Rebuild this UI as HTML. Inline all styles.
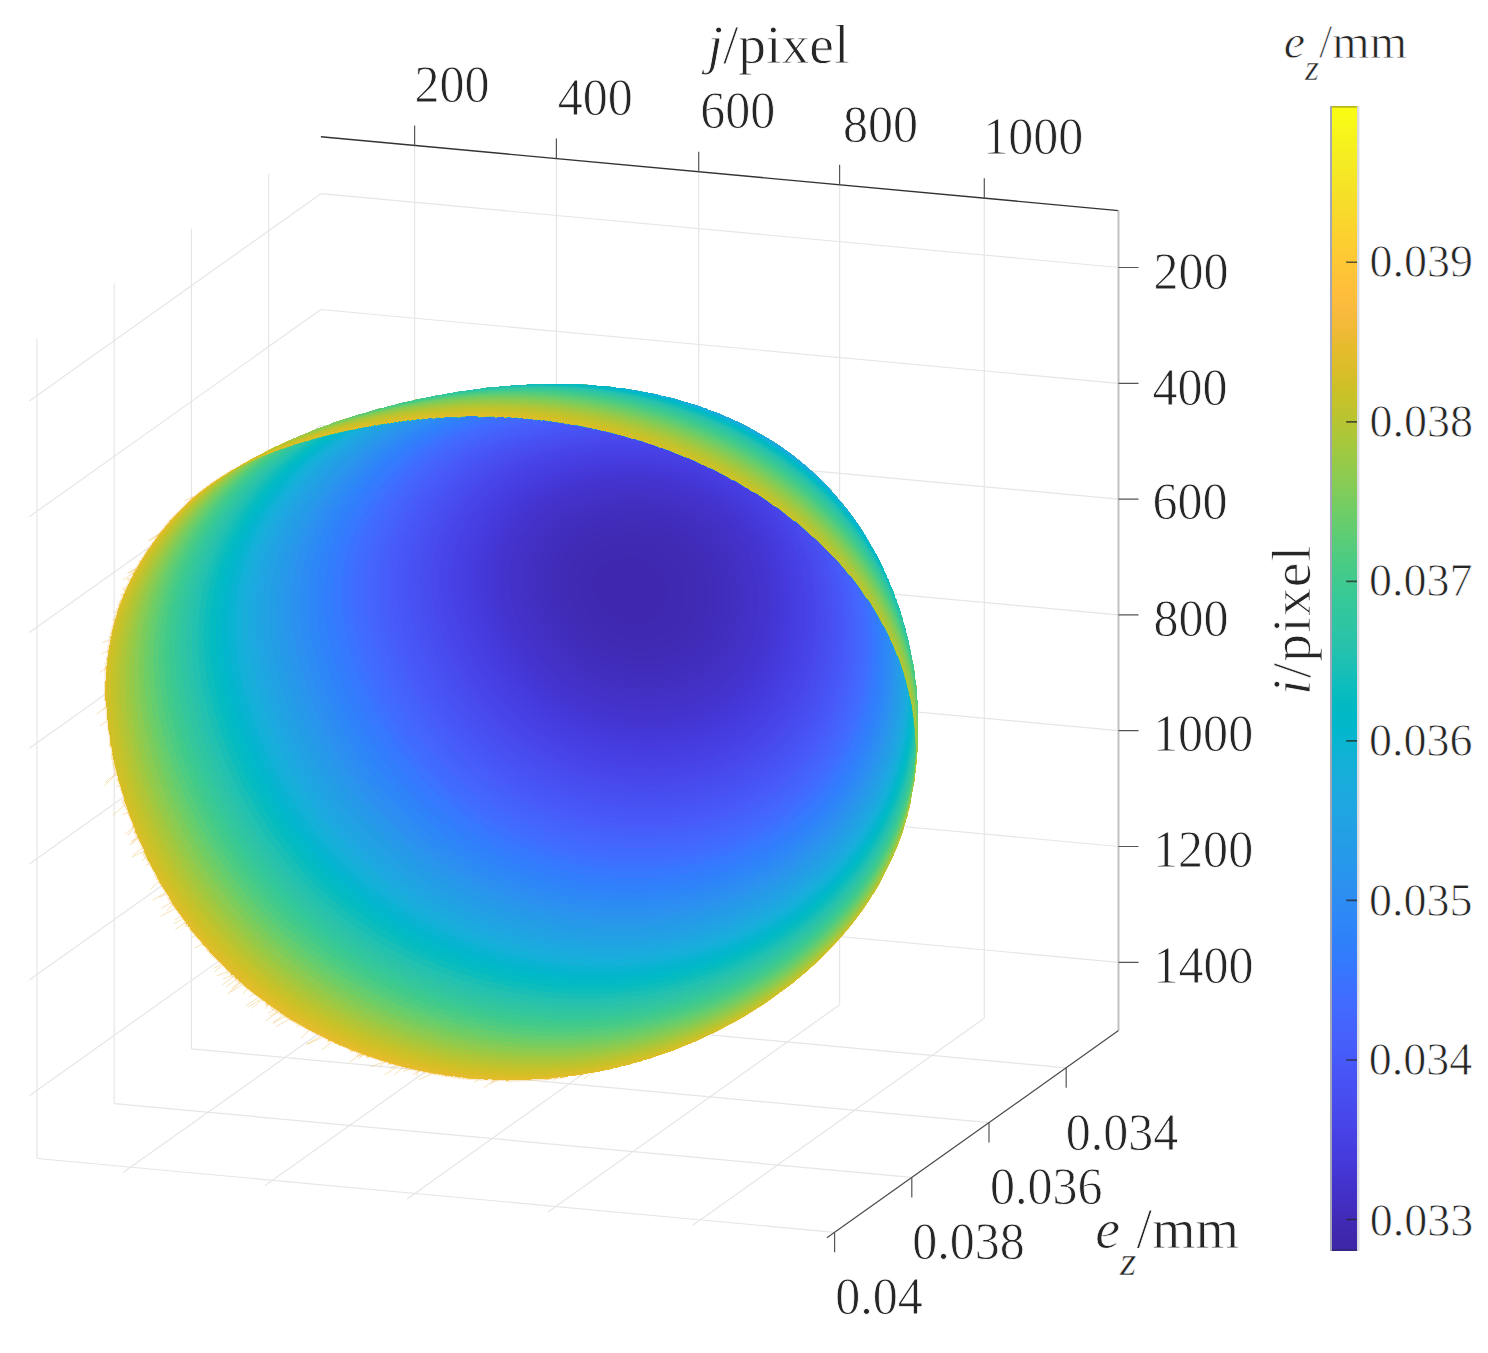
<!DOCTYPE html>
<html><head><meta charset="utf-8"><style>
html,body{margin:0;padding:0;background:#fff;width:1488px;height:1353px;overflow:hidden}
svg{position:absolute;left:0;top:0}
text{font-family:"Liberation Serif",serif;fill:#262626;stroke:#fff;stroke-width:0.8px}
</style></head><body>
<svg width="1488" height="1353" viewBox="0 0 1488 1353">
<defs><linearGradient id="cb" x1="0" y1="1" x2="0" y2="0"><stop offset="0.0078" stop-color="rgb(62,38,168)"/><stop offset="0.0234" stop-color="rgb(64,42,180)"/><stop offset="0.0391" stop-color="rgb(66,46,192)"/><stop offset="0.0547" stop-color="rgb(67,50,203)"/><stop offset="0.0703" stop-color="rgb(69,55,213)"/><stop offset="0.0859" stop-color="rgb(70,60,222)"/><stop offset="0.1016" stop-color="rgb(71,65,229)"/><stop offset="0.1172" stop-color="rgb(71,71,235)"/><stop offset="0.1328" stop-color="rgb(72,77,240)"/><stop offset="0.1484" stop-color="rgb(72,82,244)"/><stop offset="0.1641" stop-color="rgb(71,88,248)"/><stop offset="0.1797" stop-color="rgb(70,94,251)"/><stop offset="0.1953" stop-color="rgb(69,99,253)"/><stop offset="0.2109" stop-color="rgb(66,105,254)"/><stop offset="0.2266" stop-color="rgb(62,111,255)"/><stop offset="0.2422" stop-color="rgb(56,117,254)"/><stop offset="0.2578" stop-color="rgb(50,124,252)"/><stop offset="0.2734" stop-color="rgb(47,129,250)"/><stop offset="0.2891" stop-color="rgb(46,135,247)"/><stop offset="0.3047" stop-color="rgb(45,140,243)"/><stop offset="0.3203" stop-color="rgb(43,145,239)"/><stop offset="0.3359" stop-color="rgb(39,151,235)"/><stop offset="0.3516" stop-color="rgb(37,155,232)"/><stop offset="0.3672" stop-color="rgb(35,160,229)"/><stop offset="0.3828" stop-color="rgb(32,165,227)"/><stop offset="0.3984" stop-color="rgb(28,169,223)"/><stop offset="0.4141" stop-color="rgb(24,173,219)"/><stop offset="0.4297" stop-color="rgb(18,177,214)"/><stop offset="0.4453" stop-color="rgb(8,181,208)"/><stop offset="0.4609" stop-color="rgb(1,184,202)"/><stop offset="0.4766" stop-color="rgb(2,186,195)"/><stop offset="0.4922" stop-color="rgb(11,189,189)"/><stop offset="0.5078" stop-color="rgb(25,191,182)"/><stop offset="0.5234" stop-color="rgb(36,193,174)"/><stop offset="0.5391" stop-color="rgb(44,196,167)"/><stop offset="0.5547" stop-color="rgb(49,198,159)"/><stop offset="0.5703" stop-color="rgb(55,200,151)"/><stop offset="0.5859" stop-color="rgb(63,202,142)"/><stop offset="0.6016" stop-color="rgb(74,203,132)"/><stop offset="0.6172" stop-color="rgb(87,204,122)"/><stop offset="0.6328" stop-color="rgb(100,205,111)"/><stop offset="0.6484" stop-color="rgb(114,205,100)"/><stop offset="0.6641" stop-color="rgb(129,204,89)"/><stop offset="0.6797" stop-color="rgb(143,203,78)"/><stop offset="0.6953" stop-color="rgb(157,201,67)"/><stop offset="0.7109" stop-color="rgb(171,199,57)"/><stop offset="0.7266" stop-color="rgb(185,196,49)"/><stop offset="0.7422" stop-color="rgb(197,194,42)"/><stop offset="0.7578" stop-color="rgb(209,191,39)"/><stop offset="0.7734" stop-color="rgb(220,189,41)"/><stop offset="0.7891" stop-color="rgb(230,187,45)"/><stop offset="0.8047" stop-color="rgb(240,186,54)"/><stop offset="0.8203" stop-color="rgb(248,186,61)"/><stop offset="0.8359" stop-color="rgb(254,190,60)"/><stop offset="0.8516" stop-color="rgb(254,195,56)"/><stop offset="0.8672" stop-color="rgb(254,201,52)"/><stop offset="0.8828" stop-color="rgb(252,207,48)"/><stop offset="0.8984" stop-color="rgb(250,214,45)"/><stop offset="0.9141" stop-color="rgb(247,220,42)"/><stop offset="0.9297" stop-color="rgb(245,227,39)"/><stop offset="0.9453" stop-color="rgb(245,233,36)"/><stop offset="0.9609" stop-color="rgb(246,239,32)"/><stop offset="0.9766" stop-color="rgb(247,245,27)"/><stop offset="0.9922" stop-color="rgb(249,251,21)"/></linearGradient></defs>
<path d="M414.6 145.5L414.6 965.5M556.4 158.6L556.4 978.6M698.7 171.8L698.7 991.8M839.6 184.8L839.6 1004.8M984.3 198.2L984.3 1018.2M320.9 193.7L1118.5 267.5M320.9 309.5L1118.5 383.3M320.9 425.3L1118.5 499.1M320.9 541.1L1118.5 614.9M320.9 656.9L1118.5 730.7M320.9 772.7L1118.5 846.5M320.9 888.5L1118.5 962.3M268.6 174.0L268.6 994.0M191.4 228.8L191.4 1048.8M114.2 283.6L114.2 1103.6M37.0 338.5L37.0 1158.5M320.9 193.7L29.3 400.9M320.9 309.5L29.3 516.7M320.9 425.3L29.3 632.5M320.9 541.1L29.3 748.3M320.9 656.9L29.3 864.1M320.9 772.7L29.3 979.9M320.9 888.5L29.3 1095.7M268.6 994.0L1066.2 1067.8M191.4 1048.8L989.0 1122.6M114.2 1103.6L911.8 1177.4M37.0 1158.5L834.6 1232.3M414.6 965.5L123.0 1172.6M556.4 978.6L264.8 1185.7M698.7 991.8L407.1 1198.9M839.6 1004.8L548.0 1212.0M984.3 1018.2L692.7 1225.3" stroke="#e6e6e6" stroke-width="1.2" fill="none"/>
<path d="M299.2 1024.5L296.3 1027.6M205.0 488.8L197.4 495.2M360.8 1054.0L356.1 1056.5M568.2 1076.0L561.2 1078.3M137.0 836.8L129.5 845.6M107.5 720.8L99.9 725.8M274.8 1009.0L267.7 1013.5M161.0 532.8L148.2 540.8M208.0 949.8L205.5 949.9M363.8 1054.5L358.3 1058.9M118.8 779.5L116.3 780.5M228.5 971.2L216.8 975.7M420.8 1070.0L412.7 1074.7M180.0 916.8L174.4 920.2M409.8 1069.0L403.3 1071.4M137.8 838.5L132.0 844.0M203.2 943.5L194.2 948.3M185.8 922.5L175.4 929.2M231.8 975.5L223.3 978.9M239.5 981.8L231.5 988.7M396.5 1065.2L389.9 1068.7M242.2 984.5L231.0 991.9M136.8 569.0L127.4 573.0M128.8 812.5L122.7 814.5M248.0 988.8L243.0 993.6M171.2 902.5L161.2 908.4M162.5 531.2L149.4 541.3M494.8 1080.0L483.4 1087.9M108.8 650.5L101.0 654.1M142.5 847.8L133.1 855.0M260.8 999.0L248.4 1007.0M136.0 570.8L123.3 580.0M556.2 1077.5L553.6 1081.2M149.2 863.5L145.1 866.0M309.0 1030.2L300.7 1038.5M187.0 923.8L185.1 926.8M107.5 666.8L99.8 672.5M361.2 1054.0L349.4 1062.3M418.2 1071.0L416.6 1075.9M321.5 1037.8L306.9 1044.3M498.2 1079.5L490.4 1084.0M384.8 1061.5L370.1 1067.0M258.0 997.8L245.8 1006.0M433.5 1072.8L418.9 1079.8M196.5 495.8L184.8 500.5M107.2 706.0L96.6 714.1M286.0 1016.2L272.7 1023.4M165.5 892.2L152.7 900.3M267.8 1004.0L265.5 1009.0M222.2 965.5L214.2 972.0M110.2 639.5L102.5 642.7M581.2 1074.5L577.4 1077.2M331.0 1042.2L322.2 1049.7M552.2 1078.0L544.2 1080.0M137.8 838.0L131.2 841.1M119.5 785.8L116.1 786.4M146.5 856.2L142.1 860.8M195.8 935.0L191.6 937.9M136.0 830.2L133.4 833.0M479.2 1079.0L473.8 1082.4M220.2 965.0L213.6 968.1M403.5 1067.2L394.5 1074.8M278.0 1011.8L265.9 1020.9M175.2 908.5L160.6 916.4M182.8 919.0L174.1 923.6M384.8 1062.0L378.8 1067.8M241.0 982.2L227.6 994.0M144.8 851.0L131.9 856.9M126.0 803.8L112.8 815.5M234.2 976.0L222.4 984.8M107.5 706.8L102.5 710.2M236.8 979.0L226.3 986.9M158.5 881.8L150.0 889.5M138.0 567.2L129.0 573.2M116.2 773.5L104.9 782.8M398.8 1065.5L384.7 1074.9M290.0 1018.8L275.8 1026.7M134.5 827.2L124.6 834.0M175.0 516.2L169.0 521.3M229.8 972.0L226.8 973.8M277.5 1011.8L269.6 1015.9M262.5 999.2L251.9 1008.5M254.5 993.8L249.7 996.5M591.8 1072.5L583.8 1078.9M134.0 827.8L127.6 835.7M117.0 773.2L104.5 785.6M167.2 894.0L159.1 897.1M173.2 903.5L166.8 911.0M321.0 1035.8L306.7 1044.2M284.2 1014.5L273.3 1022.4" stroke="#e9b84a" stroke-opacity="0.45" stroke-width="0.9" fill="none"/><path d="M507.8 1080.5L504.2 1079.5L492.8 1080.0L491.8 1079.0L478.2 1079.0L476.8 1078.0L467.8 1078.5L467.2 1077.5L463.2 1078.0L462.8 1077.0L459.2 1077.5L458.8 1076.5L455.2 1077.0L455.2 1076.0L448.2 1076.0L448.2 1075.0L445.2 1075.5L444.8 1074.5L442.2 1075.0L441.8 1074.0L436.2 1074.0L436.2 1073.0L430.8 1073.0L430.8 1072.0L425.8 1072.0L425.8 1071.0L423.8 1071.5L423.2 1070.5L418.8 1070.5L418.8 1069.5L416.8 1070.0L416.2 1069.0L412.2 1069.0L391.2 1063.0L389.2 1063.5L389.2 1062.5L369.2 1056.0L367.8 1056.5L367.8 1055.5L363.8 1054.0L362.2 1054.5L362.5 1053.8L361.2 1053.0L358.2 1053.0L358.5 1052.2L357.2 1051.5L353.2 1050.0L351.8 1050.5L352.0 1049.8L349.8 1048.5L330.2 1040.0L328.8 1040.5L328.8 1039.5L295.2 1022.0L290.2 1019.0L289.8 1017.5L288.8 1018.0L287.0 1016.8L287.2 1016.0L286.2 1016.5L285.8 1015.0L284.8 1015.5L284.2 1014.0L282.2 1014.0L281.8 1012.5L280.8 1013.0L280.2 1011.5L279.2 1012.0L278.8 1010.5L277.8 1011.0L277.2 1009.5L276.2 1010.0L275.8 1008.5L274.8 1009.0L274.2 1007.5L273.2 1008.0L272.8 1006.5L271.8 1007.0L270.8 1005.0L269.2 1004.0L268.2 1004.5L267.8 1003.0L266.8 1003.5L265.8 1001.5L243.2 984.5L241.0 982.2L241.2 981.5L240.2 982.0L237.2 978.0L236.8 979.0L232.8 974.0L232.2 975.0L231.0 973.8L231.5 973.2L209.0 951.2L210.0 950.8L192.0 930.8L190.0 928.2L190.5 927.2L188.0 925.8L188.5 924.8L186.0 923.2L187.0 922.8L173.0 904.2L173.5 903.2L172.0 902.8L172.5 901.8L171.0 901.2L171.5 900.2L170.0 899.8L170.5 898.8L169.0 898.2L169.0 896.2L159.5 881.8L159.5 879.8L158.0 879.2L158.5 878.2L157.5 878.2L157.5 876.2L156.0 875.8L156.5 874.8L148.5 860.8L147.0 857.8L147.5 856.8L146.5 856.8L147.0 855.8L146.2 856.0L146.5 854.8L145.5 854.8L146.0 853.8L145.0 853.8L145.5 852.8L144.5 852.8L145.0 851.2L137.5 836.2L138.0 834.8L137.0 834.8L137.5 833.8L136.8 834.0L137.0 832.8L136.2 833.0L135.5 831.8L135.5 828.8L134.5 826.8L133.5 826.8L134.0 825.2L127.0 808.2L127.5 806.8L126.5 806.8L127.0 805.2L126.0 805.2L126.0 802.2L125.0 802.8L125.5 800.8L124.5 801.2L125.0 799.2L124.0 799.8L124.5 797.8L118.0 777.8L118.5 775.8L117.8 776.0L117.0 774.2L117.5 771.8L116.5 772.2L117.0 769.8L116.0 770.2L116.5 767.8L115.5 768.2L116.0 765.8L115.0 766.2L115.5 763.8L114.5 764.2L115.0 761.8L114.0 762.2L114.5 759.2L113.8 760.0L114.0 757.2L113.0 757.8L113.5 754.8L112.5 755.2L113.0 752.2L111.5 744.8L110.5 745.2L111.0 741.8L107.0 713.8L107.5 706.2L106.5 706.8L106.5 692.2L105.5 700.8L105.5 681.2L106.5 688.2L106.0 672.2L107.0 673.8L106.5 666.2L107.5 667.2L107.5 657.8L108.5 657.8L108.5 650.8L109.5 650.8L109.0 647.8L110.0 647.8L109.5 645.2L110.5 644.8L110.0 642.8L111.0 642.2L110.5 640.2L111.5 639.8L110.5 637.2L112.0 637.2L111.5 633.2L112.5 632.8L112.0 631.2L113.0 630.8L113.0 627.2L114.0 626.8L114.0 623.8L115.5 621.8L114.5 620.2L116.0 619.8L115.5 618.8L116.5 618.2L116.0 617.2L117.0 616.8L116.5 615.8L118.0 613.8L117.0 612.8L118.2 612.5L117.5 611.2L119.0 610.8L118.0 609.8L119.0 609.2L118.5 608.2L120.5 605.2L119.5 604.2L121.5 602.8L120.5 601.8L122.5 600.2L122.0 599.2L124.5 595.2L123.5 594.8L125.0 594.2L125.5 591.2L126.5 590.8L125.5 590.2L127.0 589.8L126.0 589.2L127.5 588.8L126.5 588.2L127.5 587.8L127.0 587.2L131.0 580.8L130.0 580.2L131.5 579.8L130.5 579.2L132.0 578.8L131.5 578.2L133.0 576.8L133.5 573.8L135.0 573.2L135.5 570.2L141.0 562.2L140.5 561.2L142.0 560.8L147.5 550.8L155.0 541.2L157.0 537.2L170.5 520.8L191.8 499.5L212.8 483.0L234.2 469.5M564.8 1076.5L549.2 1078.5L507.8 1080.5" stroke="#f0c060" stroke-opacity="0.35" stroke-width="3.2" fill="none"/><clipPath id="sc"><path d="M2031 4322l-14-4-34 0-2 2-10 0-4-4-16 0-2 2-10 0-6-4-20 2-6-4-4 2-30-2-2 2-2-4-14 0-2 2-2-4-12 0-2 2-2-4-10 0-4 2 0-4-10 0-4 2-2-4-12 2 0-4-12 2-2-4-10 2-2-4-6 0-2 2-2 0-2-4-10 2 0-4-6 2-4 0-2-4-10 2 0-4-6 2-4 0 0-4-10 2 0-4-8 2-2-4-4 2-4 0-2-4-2 2-6 0 0-4-8 2-2-4-2 2-4 0-2-4-2 2-6 0-2-2-38-8-8-4-14-2-22-8-8 2 0-4-18-6-6 0-56-20-6 2 0-4-16-6-6 2 1-3-5-3-6-2-6 2 0-4-14-6-6-2-6 2 1-3-9-5-4 0-34-16-4 0-36-18-6 2 0-4-92-46-4-4-58-32-3-3 2-2-5 1-7-5 1-3-4 2-3-3 2-2-5 1 1-3-3-3-2 2-3-1 1-3-4 2-3-3 1-3-4 2-3-3 1-3-4 2 1-3-3-3-4 2 1-3-3-3-4 2 1-3-3-3-4 2 1-3-3-3-4 2 1-3-3-3-4 2 1-3-5-5-6-4-4 2 1-3-3-3-4 2 1-3-5-5-40-28-50-40-9-9 1-3-4 2-12-16 1 3-3 1-7-7 2-2-11-11 1 3-3 1-5-5 2-2-90-88 1-3 3 1-22-22-50-58-8-10 2-4-3-3-2 2-5-5 2-4-5-5-2 2-3-3 1-3 3 1-14-16-42-58 2-4-3 1-3-3 2-4-3 1-3-3 2-4-3-3-3 1 2-4-3-3-3 1 2-4-2-4-38-58 2-4-4 0 2-4-3-3-3 1 2-4-4 0 2-4-2-4-3-3-3 1 2-4-18-30-10-22-4-4-6-12 2-4-4 0 2-4-3 1-1-3 2-2-4 0 2-4-4 0 2-4-4 0 2-6-30-60 2-6-4 0 2-4-3 1-1-3 2-2-3 1-3-5 2-6-4 0 2-6-4-8-4 0 2-6-4-6 0-4-12-26-2-10-4-6-2-10-4-6 2-6-4 0 2-6-4 0 2-6-4 0 2-6-4 2 2-8-4 2 2-8-4 2 2-8-12-32 0-6-14-42 0-6 2-2-3 1-3-7 2-10-4 2 2-10-4 2 2-10-4 2 2-10-4 2 2-10-4 2 2-10-4 2 2-12-1-1-2 4-1-5 2-6-4 2 2-12-4 2 2-12-2-2-4-28-4 2 2-14-2-2-2-24-4-14-4-48-2-2 0-20-2-2 0-26 2-4-4 2 0-58-2 0 0 34-2 0 0-78 2 0 0 28 2 0 0-52-2-2 0-10 2 0 0 6 2 0-2-30 1-1 1 5 2 0 0-14-2-2 0-6 4 2-2-18 4 0 0-8-2-2 0-4 4 0-2-14 4 0-2-12 4 0-2-10 4-2-2-8 4-2-2-8 4-2-4-10 6 0-2-2 2-6 0-6-2-2 4-2-2-6 4-2-2-6 4-2-2-6 4-2-2-4 4-2-2-6 4-2-2-4 4-2-4-6 6-2-2-4 4-2-2-4 4-2-2-4 4-2-2-4 4-2-4-4 5-1-3-5 6-2-4-4 4-2-2-4 4-2-2-2 4-2-2-4 4-2 0-2-4-2 5-1-1-3 4-2 0-2-4-2 5-1-1-3 4-2-2-4 4-2-2-2 4-2-2-2 4-4-2-2 4-2-4-2 6-2-2-2 4-2-2-2 2-6 4-2-4-2 6-2-4-2 6-2-4-2 4-2-2-2 4-2-2-2 4-2-2-2 4-2-2-2 4-2-2-2 4-2-2-2 3-1-1-3 4-2-4-2 6-2-4-2 6-2-2-2 3-1-1-3 4-2 0-4 4-6-2-2 6-2-2-2 4-2 2-6-2-2 4-2 4-6-2-2 4-2 2-8 4-2 2-8 4-2-2-4 6-2 2-8 4-2 0-4 3-1 1-5 4-2 0-4 8-10 0-4 4-2 0-4 3-1 7-9 0-4 3-1 3-7 4-2 0-4 6-4 0-4 8-8 0-4 6-4 2-6 6-4 2-6 6-4 2-6 6-4 4-8 14-14 6-10 5-3 23-27 57-55 38-32 46-34 68-44 64-38 10-4 4-4 108-56 4 0 66-32 4 0 24-12 4 0 66-28 48-16 6-4 110-36 6 0 14-6 6 0 50-16 22-4 8-4 6 0 2-2 6 0 58-16 8 0 18-6 8 0 10-4 18-2 10-4 8 0 2-2 8 0 2-2 8 0 2-2 8 0 2-2 8 0 12-4 10 0 2-2 8 0 12-4 10 0 2-2 10 0 2-2 10 0 2-2 10 0 14-4 12 0 2-2 12 0 2-2 12 0 2-2 12 0 2-2 12 0 2-2 14 0 2-2 14 0 2-2 56-4 2-2 20 0 2-2 22 0 2-2 62-2 2-2 162-2 2 2 84 2 2 2 24 0 2 2 22 0 2 2 36 2 2 2 14 0 2 2 14 0 2 2 28 2 2 2 10 0 14 4 12 0 12 4 10 0 2 2 58 10 18 6 8 0 2 2 38 8 44 14 6 0 26 10 6 0 24 8 6 4 22 6 6 4 46 16 10 6 4 0 10 6 18 6 22 12 4 0 74 38 4 4 44 24 58 38 44 32 52 42 40 36 53 53 70 82 44 60 30 46 28 50 4 4 8 18 4 4 32 64 0 4 10 18 0 4 8 14 4 14 14 30 2 10 4 6 2 10 4 6 6 22 4 6 8 24 0 6 8 20 0 6 12 36 0 6 14 50 0 8 4 10 0 8 2 2 0 8 2 2 0 8 4 12 0 10 4 12 2 24 2 2 2 24 2 2 0 14 2 2 0 14 2 2 2 38 2 2 0 24 2 2 0 32 2 2 0 136-2 2 0 32-2 2 0 24-2 2-4 54-2 2-4 40-2 2 0 10-2 2 0 10-4 12 0 10-2 2-6 38-2 2-2 16-2 2-6 30-4 8-2 14-6 14 0 6-14 42-4 6-4 16-18 40 0 4-58 116-24 40-12 16-2 6-34 50-46 60-46 54-85 87-44 40-60 50-104 76-96 60-120 64-4 0-66 32-4 0-10 6-4 0-66 28-74 24-18 8-6 0-14 6-6 0-8 4-34 8-14 6-6 0-18 6-8 0-26 8-8 0-6 4-2-2-8 4-2-2-8 4-8 0-2 2-8 0-12 4-44 6-8 4-6-2-8 4-42 4-2 2-14 0-2 2-18 0-8 4-2-2-8 0-10 4-12-2-14 4-72 2-2 2-12 0-2 2-76 0-2 2zM457 2488l0-2 0 2zM453 2502l0-2 0 2zM449 2516l0-2 0 2zM447 2524l0-2 0 2zM445 2542l0-2 0 2zM441 2560l0-2 0 2zM439 2570l0-2 0 2zM437 2580l0-2 0 2zM435 2590l0-2 0 2zM433 2602l0-2 0 2zM431 2614l0-2 0 2zM429 2628l0-2 0 2zM427 2644l0-2 0 2zM425 2660l0-2 0 2zM423 2682l0-2 0 2zM421 2712l0-2 0 2zM425 2842l0-12 0 12zM427 2866l0-8 0 8zM429 2886l0-6 0 6zM431 2904l0-6 0 6zM433 2920l0-6 0 6zM435 2934l0-6 0 6zM437 2948l0-6 0 6zM439 2960l0-6 0 6zM441 2972l0-6 0 6zM445 2994l0-6 0 6zM447 3004l0-6 0 6zM445 3010l0-2 0 2zM449 3014l0-6 0 6zM449 3028l0-2 0 2zM451 3038l0-2 0 2zM453 3046l0-2 0 2zM455 3054l0-2 0 2zM461 3078l0-2 0 2zM463 3086l0-2 0 2zM465 3094l0-2 0 2zM472 3095l-2 0 2 0zM467 3102l0-2 0 2zM469 3108l0-2 0 2zM471 3116l0-2 0 2zM473 3124l0-4 0 4zM475 3130l0-2 0 2zM477 3136l0-2 0 2zM479 3144l0-4 0 4zM481 3150l0-4 0 4zM483 3156l0-2 0 2zM485 3162l0-2 0 2zM487 3170l0-4 0 4zM489 3176l0-4 0 4zM491 3182l0-4 0 4zM493 3188l0-4 0 4zM491 3192l0-2 0 2zM495 3194l0-4 0 4zM493 3198l0-2 0 2zM495 3204l0-2 0 2zM497 3210l0-2 0 2zM499 3216l0-2 0 2zM503 3226l0-2 0 2zM505 3232l0-2 0 2zM507 3238l0-2 0 2zM509 3242l0-2 0 2zM511 3248l0-2 0 2zM513 3254l0-2 0 2zM515 3258l0-2 0 2zM517 3264l0-2 0 2zM519 3268l0-2 0 2zM521 3274l0-2 0 2zM523 3280l0-4 0 4zM525 3284l0-4 0 4zM527 3288l0-2 0 2zM529 3294l0-4 0 4zM531 3298l0-2 0 2zM533 3304l0-4 0 4zM531 3308l0-2 0 2zM537 3314l0-4 0 4zM539 3318l0-4 0 4zM537 3322l0-2 0 2zM539 3326l0-2 0 2zM546 3325l-2 0 2 0zM543 3336l0-2 0 2zM545 3340l0-2 0 2zM547 3344l0-2 0 2zM549 3348l0-2 0 2zM551 3354l0-2 0 2zM553 3358l0-2 0 2zM555 3362l0-2 0 2zM557 3366l0-2 0 2zM559 3370l0-2 0 2zM561 3374l0-2 0 2zM563 3378l0-2 0 2zM565 3384l0-4 0 4zM567 3388l0-4 0 4zM569 3392l0-4 0 4zM571 3396l0-4 0 4zM573 3400l0-4 0 4zM569 3400l0-2 0 2zM575 3404l0-4 0 4zM571 3404l0-2 0 2zM577 3408l0-4 0 4zM573 3408l0-2 0 2zM575 3412l0-2 0 2zM577 3416l0-2 0 2zM579 3420l0-2 0 2zM581 3424l0-2 0 2zM591 3442l0-2 0 2zM593 3446l0-2 0 2zM595 3450l0-2 0 2zM597 3454l0-2 0 2zM599 3458l0-2 0 2zM601 3462l0-2 0 2zM603 3464l0-2 0 2zM605 3468l0-2 0 2zM607 3472l0-2 0 2zM609 3476l0-2 0 2zM611 3480l0-4 0 4zM607 3480l0-2 0 2zM613 3482l0-2 0 2zM615 3486l0-2 0 2zM617 3490l0-2 0 2zM619 3494l0-4 0 4zM615 3494l0-2 0 2zM621 3498l0-4 0 4zM623 3500l0-2 0 2zM621 3504l0-2 0 2zM627 3508l0-4 0 4zM623 3508l0-2 0 2zM629 3510l0-2 0 2zM627 3514l0-2 0 2zM629 3518l0-2 0 2zM635 3520l0-2 0 2zM633 3524l0-2 0 2zM635 3528l0-2 0 2zM639 3534l0-2 0 2zM641 3538l0-2 0 2zM643 3540l0-2 0 2zM645 3544l0-2 0 2zM647 3548l0-2 0 2zM649 3550l0-2 0 2zM651 3554l0-2 0 2zM653 3556l0-2 0 2zM655 3560l0-2 0 2zM657 3562l0-2 0 2zM659 3566l0-2 0 2zM661 3570l0-4 0 4zM657 3570l0-2 0 2zM663 3572l0-2 0 2zM665 3576l0-4 0 4zM661 3576l0-2 0 2zM667 3578l0-2 0 2zM669 3582l0-4 0 4zM665 3582l0-2 0 2zM671 3584l0-2 0 2zM673 3588l0-4 0 4zM669 3588l0-2 0 2zM675 3590l0-2 0 2zM673 3594l0-2 0 2zM679 3596l0-2 0 2zM677 3600l0-2 0 2zM683 3602l0-2 0 2zM681 3606l0-2 0 2zM685 3612l0-2 0 2zM689 3618l0-2 0 2zM691 3620l0-2 0 2zM695 3626l0-2 0 2zM699 3632l0-2 0 2zM701 3634l0-2 0 2zM703 3638l0-2 0 2zM705 3640l0-2 0 2zM707 3642l0-2 0 2zM709 3646l0-2 0 2zM711 3648l0-2 0 2zM713 3650l0-2 0 2zM709 3652l0-2 0 2zM715 3654l0-2 0 2zM717 3656l0-2 0 2zM719 3660l0-4 0 4zM715 3660l0-2 0 2zM721 3662l0-2 0 2zM723 3664l0-2 0 2zM725 3668l0-4 0 4zM721 3668l0-2 0 2zM727 3670l0-2 0 2zM729 3672l0-2 0 2zM731 3676l0-4 0 4zM727 3676l0-2 0 2zM733 3678l0-2 0 2zM735 3680l0-2 0 2zM737 3682l0-2 0 2zM733 3684l0-2 0 2zM739 3686l0-4 0 4zM735 3686l0-2 0 2zM741 3688l0-2 0 2zM743 3690l0-2 0 2zM741 3694l0-2 0 2zM749 3698l0-2 0 2zM751 3700l0-2 0 2zM747 3702l0-2 0 2zM749 3704l0-2 0 2zM751 3706l0-2 0 2zM759 3710l0-2 0 2zM755 3712l0-2 0 2zM757 3714l0-2 0 2zM759 3716l0-2 0 2zM765 3724l0-2 0 2zM767 3726l0-2 0 2zM769 3728l0-2 0 2zM773 3734l0-2 0 2zM775 3736l0-2 0 2zM777 3738l0-2 0 2zM779 3740l0-2 0 2zM781 3742l0-2 0 2zM777 3744l0-2 0 2zM785 3748l0-2 0 2zM787 3750l0-2 0 2zM789 3752l0-2 0 2zM791 3754l0-2 0 2zM793 3756l0-2 0 2zM789 3758l0-2 0 2zM795 3758l0-2 0 2zM791 3760l0-2 0 2zM797 3762l0-2 0 2zM799 3764l0-2 0 2zM801 3766l0-2 0 2zM803 3768l0-2 0 2zM805 3770l0-2 0 2zM807 3772l0-2 0 2zM809 3774l0-2 0 2zM805 3776l0-2 0 2zM811 3776l0-2 0 2zM807 3778l0-2 0 2zM815 3782l-3-3 1-3 3 3-1 3zM809 3780l0-2 0 2zM817 3784l0-2 0 2zM819 3786l0-2 0 2zM821 3788l0-2 0 2zM823 3790l0-2 0 2zM825 3792l0-2 0 2zM827 3794l0-2 0 2zM829 3796l0-2 0 2zM825 3798l0-2 0 2zM831 3798l0-2 0 2zM827 3800l0-2 0 2zM833 3800l0-2 0 2zM829 3802l0-2 0 2zM835 3802l0-2 0 2zM831 3804l0-2 0 2zM833 3806l0-2 0 2zM835 3808l0-2 0 2zM837 3810l0-2 0 2zM839 3812l0-2 0 2zM841 3814l0-2 0 2zM843 3816l0-2 0 2zM845 3818l0-2 0 2zM871 3844l0-2 0 2zM873 3846l0-2 0 2zM875 3848l0-2 0 2zM871 3850l0-2 0 2zM877 3850l0-2 0 2zM873 3852l0-2 0 2zM879 3852l0-2 0 2zM875 3854l0-2 0 2zM881 3854l0-2 0 2zM877 3856l0-2 0 2zM883 3856l0-2 0 2zM879 3858l0-2 0 2zM885 3858l0-2 0 2zM881 3860l0-2 0 2zM887 3860l0-2 0 2zM889 3862l0-2 0 2zM891 3864l0-2 0 2zM893 3866l0-2 0 2zM895 3868l0-2 0 2zM897 3870l0-2 0 2zM899 3872l0-2 0 2zM901 3874l0-2 0 2zM903 3876l0-2 0 2zM905 3878l0-2 0 2zM909 3880l-3-1 3-1 0 2zM911 3882l0-2 0 2zM907 3884l0-2 0 2zM913 3884l0-2 0 2zM909 3886l0-2 0 2zM915 3886l0-2 0 2zM911 3888l0-2 0 2zM917 3888l0-2 0 2zM913 3890l0-2 0 2zM919 3890l0-2 0 2zM921 3892l0-2 0 2zM923 3894l0-2 0 2zM927 3902l0-2 0 2zM933 3902l0-2 0 2zM929 3904l0-2 0 2zM935 3904l0-2 0 2zM931 3906l0-2 0 2zM937 3906l0-2 0 2zM933 3908l0-2 0 2zM939 3908l0-2 0 2zM943 3916l0-2 0 2zM945 3918l0-2 0 2zM951 3918l0-2 0 2zM947 3920l0-2 0 2zM953 3920l0-2 0 2zM949 3922l0-2 0 2zM957 3928l0-2 0 2zM959 3930l0-2 0 2zM961 3932l0-2 0 2zM969 3938l0-2 0 2zM971 3940l0-2 0 2zM973 3942l0-2 0 2zM979 3946l0-2 0 2zM981 3948l0-2 0 2zM983 3950l0-2 0 2zM985 3952l0-2 0 2zM989 3954l0-2 0 2zM991 3956l0-2 0 2zM993 3958l0-2 0 2zM995 3960l0-2 0 2zM999 3962l0-2 0 2zM1001 3964l0-2 0 2zM1003 3966l0-2 0 2zM1005 3968l0-2 0 2zM1009 3970l0-2 0 2zM1005 3972l0-2 0 2zM1011 3972l0-2 0 2zM1013 3974l0-2 0 2zM1017 3976l0-2 0 2zM1013 3978l0-2 0 2zM1019 3978l0-2 0 2zM1021 3980l0-2 0 2zM1025 3982l0-2 0 2zM1027 3984l0-2 0 2zM1023 3986l0-2 0 2zM1029 3986l0-2 0 2zM1033 3988l0-2 0 2zM1035 3990l0-2 0 2zM1031 3992l0-2 0 2zM1037 3992l0-2 0 2zM1041 3994l0-2 0 2zM1037 3996l0-2 0 2zM1043 3996l0-2 0 2zM1045 3998l0-2 0 2zM1049 4000l0-2 0 2zM1045 4002l0-2 0 2zM1051 4002l0-2 0 2zM1055 4004l-3-1 3-1 0 2zM1057 4006l0-2 0 2zM1053 4008l0-2 0 2zM1059 4008l0-2 0 2zM1063 4010l0-2 0 2zM1059 4012l0-2 0 2zM1065 4012l0-2 0 2zM1071 4016l0-2 0 2zM1067 4018l0-2 0 2zM1077 4020l0-2 0 2zM1073 4022l0-2 0 2zM1079 4022l0-2 0 2zM1083 4024l-3-1 3-1 0 2zM1079 4026l0-2 0 2zM1085 4026l0-2 0 2zM1085 4030l0-2 0 2zM1091 4030l0-2 0 2zM1087 4032l0-2 0 2zM1091 4034l0-2 0 2zM1097 4034l0-2 0 2zM1093 4036l0-2 0 2zM1103 4038l0-2 0 2zM1099 4040l0-2 0 2zM1109 4042l0-2 0 2zM1105 4044l0-2 0 2zM1109 4046l0-2 0 2zM1115 4046l0-2 0 2zM1111 4048l0-2 0 2zM1115 4050l0-2 0 2zM1117 4052l0-2 0 2zM1121 4054l0-2 0 2zM1127 4058l0-2 0 2zM1137 4060l0-2 0 2zM1133 4062l0-2 0 2zM1137 4064l0-2 0 2zM1139 4066l0-2 0 2zM1143 4068l0-2 0 2zM1149 4072l0-2 0 2zM1153 4074l0-2 0 2zM1155 4076l0-2 0 2zM1159 4078l0-2 0 2zM1163 4080l0-2 0 2zM1165 4082l0-2 0 2zM1169 4084l0-2 0 2zM1173 4086l0-2 0 2zM1175 4088l0-2 0 2zM1179 4090l0-2 0 2zM1183 4092l0-2 0 2zM1179 4094l0-2 0 2zM1189 4096l0-2 0 2zM1193 4098l0-2 0 2zM1197 4100l0-2 0 2zM1199 4102l0-2 0 2zM1203 4104l0-2 0 2zM1207 4106l0-2 0 2zM1211 4108l0-2 0 2zM1207 4110l0-2 0 2zM1215 4110l0-2 0 2zM1217 4112l0-2 0 2zM1221 4114l0-2 0 2zM1225 4116l0-2 0 2zM1229 4118l0-2 0 2zM1225 4120l0-2 0 2zM1233 4120l0-2 0 2zM1237 4122l0-2 0 2zM1239 4124l0-2 0 2zM1243 4126l0-2 0 2zM1247 4128l0-2 0 2zM1251 4130l0-2 0 2zM1255 4132l0-2 0 2zM1259 4134l0-2 0 2zM1263 4136l0-2 0 2zM1267 4138l0-2 0 2zM1263 4140l0-2 0 2zM1271 4140l0-2 0 2zM1267 4142l0-2 0 2zM1275 4142l0-2 0 2zM1271 4144l0-2 0 2zM1279 4144l0-2 0 2zM1275 4146l0-2 0 2zM1283 4146l0-2 0 2zM1279 4148l0-2 0 2zM1287 4148l0-2 0 2zM1283 4150l0-2 0 2zM1291 4150l0-2 0 2zM1287 4152l0-2 0 2zM1295 4152l0-2 0 2zM1291 4154l0-2 0 2zM1299 4154l0-2 0 2zM1303 4156l0-2 0 2zM1307 4158l0-2 0 2zM1311 4160l0-2 0 2zM1321 4164l-3-1 3-1 0 2zM1325 4166l0-2 0 2zM1329 4168l0-2 0 2zM1325 4170l0-2 0 2zM1333 4170l0-2 0 2zM1337 4172l0-2 0 2zM1343 4174l-3-1 3-1 0 2zM1347 4176l0-2 0 2zM1351 4178l0-2 0 2zM1347 4180l0-2 0 2zM1355 4180l0-2 0 2zM1361 4182l-3-1 3-1 0 2zM1365 4184l0-2 0 2zM1361 4186l0-2 0 2zM1369 4186l0-2 0 2zM1375 4188l-3-1 3-1 0 2zM1379 4190l0-2 0 2zM1375 4192l0-2 0 2zM1383 4192l0-2 0 2zM1389 4194l0-2 0 2zM1393 4196l0-2 0 2zM1399 4198l-3-1 3-1 0 2zM1403 4200l0-2 0 2zM1413 4204l0-2 0 2zM1419 4206l-3-1 3-1 0 2zM1423 4208l0-2 0 2zM1429 4210l0-2 0 2zM1439 4214l0-2 0 2zM1435 4216l0-2 0 2zM1445 4216l-3-1 3-1 0 2zM1455 4220l0-2 0 2zM1461 4222l0-2 0 2zM1467 4224l-3-1 3-1 0 2zM1477 4228l0-2 0 2zM1483 4230l0-2 0 2zM1489 4232l0-2 0 2zM1485 4234l0-2 0 2zM1495 4234l0-2 0 2zM1491 4236l0-2 0 2zM1501 4236l0-2 0 2zM1507 4238l0-2 0 2zM1513 4240l0-2 0 2zM1509 4242l0-2 0 2zM1519 4242l0-2 0 2zM1525 4244l0-2 0 2zM1531 4246l0-2 0 2zM1539 4248l-3-1 3-1 0 2zM1545 4250l0-2 0 2zM1551 4252l0-2 0 2zM1565 4256l0-2 0 2zM1571 4258l0-2 0 2zM1579 4260l0-2 0 2zM1585 4262l0-2 0 2zM1593 4264l0-2 0 2zM1601 4266l0-2 0 2zM1607 4268l0-2 0 2zM1615 4270l0-2 0 2zM1623 4272l0-2 0 2zM1631 4274l0-2 0 2zM1639 4276l0-2 0 2zM1647 4278l0-2 0 2zM1665 4282l0-2 0 2zM1673 4284l0-2 0 2zM1683 4286l0-2 0 2zM1701 4290l0-2 0 2zM1711 4292l0-2 0 2zM1721 4294l0-2 0 2zM1889 4316l0-2 0 2zM1911 4318l0-2 0 2z" transform="scale(0.25)"/></clipPath><g clip-path="url(#sc)"><g transform="scale(0.25)" fill-rule="evenodd"><path d="M2031 4322l-14-4-34 0-2 2-10 0-4-4-16 0-2 2-10 0-6-4-20 2-6-4-4 2-30-2-2 2-2-4-14 0-2 2-2-4-12 0-2 2-2-4-10 0-4 2 0-4-10 0-4 2-2-4-12 2 0-4-12 2-2-4-10 2-2-4-6 0-2 2-2 0-2-4-10 2 0-4-6 2-4 0-2-4-10 2 0-4-6 2-4 0 0-4-10 2 0-4-8 2-2-4-4 2-4 0-2-4-2 2-6 0 0-4-8 2-2-4-2 2-4 0-2-4-2 2-6 0-2-2-38-8-8-4-14-2-22-8-8 2 0-4-18-6-6 0-56-20-6 2 0-4-16-6-6 2 1-3-5-3-6-2-6 2 0-4-14-6-6-2-6 2 1-3-9-5-4 0-34-16-4 0-36-18-6 2 0-4-92-46-4-4-58-32-3-3 2-2-5 1-7-5 1-3-4 2-3-3 2-2-5 1 1-3-3-3-2 2-3-1 1-3-4 2-3-3 1-3-4 2-3-3 1-3-4 2 1-3-3-3-4 2 1-3-3-3-4 2 1-3-3-3-4 2 1-3-3-3-4 2 1-3-3-3-4 2 1-3-5-5-6-4-4 2 1-3-3-3-4 2 1-3-5-5-40-28-50-40-9-9 1-3-4 2-12-16 1 3-3 1-7-7 2-2-11-11 1 3-3 1-5-5 2-2-90-88 1-3 3 1-22-22-50-58-8-10 2-4-3-3-2 2-5-5 2-4-5-5-2 2-3-3 1-3 3 1-14-16-42-58 2-4-3 1-3-3 2-4-3 1-3-3 2-4-3-3-3 1 2-4-3-3-3 1 2-4-2-4-38-58 2-4-4 0 2-4-3-3-3 1 2-4-4 0 2-4-2-4-3-3-3 1 2-4-18-30-10-22-4-4-6-12 2-4-4 0 2-4-3 1-1-3 2-2-4 0 2-4-4 0 2-4-4 0 2-6-30-60 2-6-4 0 2-4-3 1-1-3 2-2-3 1-3-5 2-6-4 0 2-6-4-8-4 0 2-6-4-6 0-4-12-26-2-10-4-6-2-10-4-6 2-6-4 0 2-6-4 0 2-6-4 0 2-6-4 2 2-8-4 2 2-8-4 2 2-8-12-32 0-6-14-42 0-6 2-2-3 1-3-7 2-10-4 2 2-10-4 2 2-10-4 2 2-10-4 2 2-10-4 2 2-10-4 2 2-12-1-1-2 4-1-5 2-6-4 2 2-12-4 2 2-12-2-2-4-28-4 2 2-14-2-2-2-24-4-14-4-48-2-2 0-20-2-2 0-26 2-4-4 2 0-58-2 0 0 34-2 0 0-78 2 0 0 28 2 0 0-52-2-2 0-10 2 0 0 6 2 0-2-30 1-1 1 5 2 0 0-14-2-2 0-6 4 2-2-18 4 0 0-8-2-2 0-4 4 0-2-14 4 0-2-12 4 0-2-10 4-2-2-8 4-2-2-8 4-2-4-10 6 0-2-2 2-6 0-6-2-2 4-2-2-6 4-2-2-6 4-2-2-6 4-2-2-4 4-2-2-6 4-2-2-4 4-2-4-6 6-2-2-4 4-2-2-4 4-2-2-4 4-2-2-4 4-2-4-4 5-1-3-5 6-2-4-4 4-2-2-4 4-2-2-2 4-2-2-4 4-2 0-2-4-2 5-1-1-3 4-2 0-2-4-2 5-1-1-3 4-2-2-4 4-2-2-2 4-2-2-2 4-4-2-2 4-2-4-2 6-2-2-2 4-2-2-2 2-6 4-2-4-2 6-2-4-2 6-2-4-2 4-2-2-2 4-2-2-2 4-2-2-2 4-2-2-2 4-2-2-2 4-2-2-2 3-1-1-3 4-2-4-2 6-2-4-2 6-2-2-2 3-1-1-3 4-2 0-4 4-6-2-2 6-2-2-2 4-2 2-6-2-2 4-2 4-6-2-2 4-2 2-8 4-2 2-8 4-2-2-4 6-2 2-8 4-2 0-4 3-1 1-5 4-2 0-4 8-10 0-4 4-2 0-4 3-1 7-9 0-4 3-1 3-7 4-2 0-4 6-4 0-4 8-8 0-4 6-4 2-6 6-4 2-6 6-4 2-6 6-4 4-8 14-14 6-10 5-3 23-27 57-55 38-32 46-34 68-44 64-38 10-4 4-4 108-56 4 0 66-32 4 0 24-12 4 0 66-28 48-16 6-4 110-36 6 0 14-6 6 0 50-16 22-4 8-4 6 0 2-2 6 0 58-16 8 0 18-6 8 0 10-4 18-2 10-4 8 0 2-2 8 0 2-2 8 0 2-2 8 0 2-2 8 0 12-4 10 0 2-2 8 0 12-4 10 0 2-2 10 0 2-2 10 0 2-2 10 0 14-4 12 0 2-2 12 0 2-2 12 0 2-2 12 0 2-2 12 0 2-2 14 0 2-2 14 0 2-2 56-4 2-2 20 0 2-2 22 0 2-2 62-2 2-2 162-2 2 2 84 2 2 2 24 0 2 2 22 0 2 2 36 2 2 2 14 0 2 2 14 0 2 2 28 2 2 2 10 0 14 4 12 0 12 4 10 0 2 2 58 10 18 6 8 0 2 2 38 8 44 14 6 0 26 10 6 0 24 8 6 4 22 6 6 4 46 16 10 6 4 0 10 6 18 6 22 12 4 0 74 38 4 4 44 24 58 38 44 32 52 42 40 36 53 53 70 82 44 60 30 46 28 50 4 4 8 18 4 4 32 64 0 4 10 18 0 4 8 14 4 14 14 30 2 10 4 6 2 10 4 6 6 22 4 6 8 24 0 6 8 20 0 6 12 36 0 6 14 50 0 8 4 10 0 8 2 2 0 8 2 2 0 8 4 12 0 10 4 12 2 24 2 2 2 24 2 2 0 14 2 2 0 14 2 2 2 38 2 2 0 24 2 2 0 32 2 2 0 136-2 2 0 32-2 2 0 24-2 2-4 54-2 2-4 40-2 2 0 10-2 2 0 10-4 12 0 10-2 2-6 38-2 2-2 16-2 2-6 30-4 8-2 14-6 14 0 6-14 42-4 6-4 16-18 40 0 4-58 116-24 40-12 16-2 6-34 50-46 60-46 54-85 87-44 40-60 50-104 76-96 60-120 64-4 0-66 32-4 0-10 6-4 0-66 28-74 24-18 8-6 0-14 6-6 0-8 4-34 8-14 6-6 0-18 6-8 0-26 8-8 0-6 4-2-2-8 4-2-2-8 4-8 0-2 2-8 0-12 4-44 6-8 4-6-2-8 4-42 4-2 2-14 0-2 2-18 0-8 4-2-2-8 0-10 4-12-2-14 4-72 2-2 2-12 0-2 2-76 0-2 2zM457 2488l0-2 0 2zM453 2502l0-2 0 2zM449 2516l0-2 0 2zM447 2524l0-2 0 2zM445 2542l0-2 0 2zM441 2560l0-2 0 2zM439 2570l0-2 0 2zM437 2580l0-2 0 2zM435 2590l0-2 0 2zM433 2602l0-2 0 2zM431 2614l0-2 0 2zM429 2628l0-2 0 2zM427 2644l0-2 0 2zM425 2660l0-2 0 2zM423 2682l0-2 0 2zM421 2712l0-2 0 2zM425 2842l0-12 0 12zM427 2866l0-8 0 8zM429 2886l0-6 0 6zM431 2904l0-6 0 6zM433 2920l0-6 0 6zM435 2934l0-6 0 6zM437 2948l0-6 0 6zM439 2960l0-6 0 6zM441 2972l0-6 0 6zM445 2994l0-6 0 6zM447 3004l0-6 0 6zM445 3010l0-2 0 2zM449 3014l0-6 0 6zM449 3028l0-2 0 2zM451 3038l0-2 0 2zM453 3046l0-2 0 2zM455 3054l0-2 0 2zM461 3078l0-2 0 2zM463 3086l0-2 0 2zM465 3094l0-2 0 2zM472 3095l-2 0 2 0zM467 3102l0-2 0 2zM469 3108l0-2 0 2zM471 3116l0-2 0 2zM473 3124l0-4 0 4zM475 3130l0-2 0 2zM477 3136l0-2 0 2zM479 3144l0-4 0 4zM481 3150l0-4 0 4zM483 3156l0-2 0 2zM485 3162l0-2 0 2zM487 3170l0-4 0 4zM489 3176l0-4 0 4zM491 3182l0-4 0 4zM493 3188l0-4 0 4zM491 3192l0-2 0 2zM495 3194l0-4 0 4zM493 3198l0-2 0 2zM495 3204l0-2 0 2zM497 3210l0-2 0 2zM499 3216l0-2 0 2zM503 3226l0-2 0 2zM505 3232l0-2 0 2zM507 3238l0-2 0 2zM509 3242l0-2 0 2zM511 3248l0-2 0 2zM513 3254l0-2 0 2zM515 3258l0-2 0 2zM517 3264l0-2 0 2zM519 3268l0-2 0 2zM521 3274l0-2 0 2zM523 3280l0-4 0 4zM525 3284l0-4 0 4zM527 3288l0-2 0 2zM529 3294l0-4 0 4zM531 3298l0-2 0 2zM533 3304l0-4 0 4zM531 3308l0-2 0 2zM537 3314l0-4 0 4zM539 3318l0-4 0 4zM537 3322l0-2 0 2zM539 3326l0-2 0 2zM546 3325l-2 0 2 0zM543 3336l0-2 0 2zM545 3340l0-2 0 2zM547 3344l0-2 0 2zM549 3348l0-2 0 2zM551 3354l0-2 0 2zM553 3358l0-2 0 2zM555 3362l0-2 0 2zM557 3366l0-2 0 2zM559 3370l0-2 0 2zM561 3374l0-2 0 2zM563 3378l0-2 0 2zM565 3384l0-4 0 4zM567 3388l0-4 0 4zM569 3392l0-4 0 4zM571 3396l0-4 0 4zM573 3400l0-4 0 4zM569 3400l0-2 0 2zM575 3404l0-4 0 4zM571 3404l0-2 0 2zM577 3408l0-4 0 4zM573 3408l0-2 0 2zM575 3412l0-2 0 2zM577 3416l0-2 0 2zM579 3420l0-2 0 2zM581 3424l0-2 0 2zM591 3442l0-2 0 2zM593 3446l0-2 0 2zM595 3450l0-2 0 2zM597 3454l0-2 0 2zM599 3458l0-2 0 2zM601 3462l0-2 0 2zM603 3464l0-2 0 2zM605 3468l0-2 0 2zM607 3472l0-2 0 2zM609 3476l0-2 0 2zM611 3480l0-4 0 4zM607 3480l0-2 0 2zM613 3482l0-2 0 2zM615 3486l0-2 0 2zM617 3490l0-2 0 2zM619 3494l0-4 0 4zM615 3494l0-2 0 2zM621 3498l0-4 0 4zM623 3500l0-2 0 2zM621 3504l0-2 0 2zM627 3508l0-4 0 4zM623 3508l0-2 0 2zM629 3510l0-2 0 2zM627 3514l0-2 0 2zM629 3518l0-2 0 2zM635 3520l0-2 0 2zM633 3524l0-2 0 2zM635 3528l0-2 0 2zM639 3534l0-2 0 2zM641 3538l0-2 0 2zM643 3540l0-2 0 2zM645 3544l0-2 0 2zM647 3548l0-2 0 2zM649 3550l0-2 0 2zM651 3554l0-2 0 2zM653 3556l0-2 0 2zM655 3560l0-2 0 2zM657 3562l0-2 0 2zM659 3566l0-2 0 2zM661 3570l0-4 0 4zM657 3570l0-2 0 2zM663 3572l0-2 0 2zM665 3576l0-4 0 4zM661 3576l0-2 0 2zM667 3578l0-2 0 2zM669 3582l0-4 0 4zM665 3582l0-2 0 2zM671 3584l0-2 0 2zM673 3588l0-4 0 4zM669 3588l0-2 0 2zM675 3590l0-2 0 2zM673 3594l0-2 0 2zM679 3596l0-2 0 2zM677 3600l0-2 0 2zM683 3602l0-2 0 2zM681 3606l0-2 0 2zM685 3612l0-2 0 2zM689 3618l0-2 0 2zM691 3620l0-2 0 2zM695 3626l0-2 0 2zM699 3632l0-2 0 2zM701 3634l0-2 0 2zM703 3638l0-2 0 2zM705 3640l0-2 0 2zM707 3642l0-2 0 2zM709 3646l0-2 0 2zM711 3648l0-2 0 2zM713 3650l0-2 0 2zM709 3652l0-2 0 2zM715 3654l0-2 0 2zM717 3656l0-2 0 2zM719 3660l0-4 0 4zM715 3660l0-2 0 2zM721 3662l0-2 0 2zM723 3664l0-2 0 2zM725 3668l0-4 0 4zM721 3668l0-2 0 2zM727 3670l0-2 0 2zM729 3672l0-2 0 2zM731 3676l0-4 0 4zM727 3676l0-2 0 2zM733 3678l0-2 0 2zM735 3680l0-2 0 2zM737 3682l0-2 0 2zM733 3684l0-2 0 2zM739 3686l0-4 0 4zM735 3686l0-2 0 2zM741 3688l0-2 0 2zM743 3690l0-2 0 2zM741 3694l0-2 0 2zM749 3698l0-2 0 2zM751 3700l0-2 0 2zM747 3702l0-2 0 2zM749 3704l0-2 0 2zM751 3706l0-2 0 2zM759 3710l0-2 0 2zM755 3712l0-2 0 2zM757 3714l0-2 0 2zM759 3716l0-2 0 2zM765 3724l0-2 0 2zM767 3726l0-2 0 2zM769 3728l0-2 0 2zM773 3734l0-2 0 2zM775 3736l0-2 0 2zM777 3738l0-2 0 2zM779 3740l0-2 0 2zM781 3742l0-2 0 2zM777 3744l0-2 0 2zM785 3748l0-2 0 2zM787 3750l0-2 0 2zM789 3752l0-2 0 2zM791 3754l0-2 0 2zM793 3756l0-2 0 2zM789 3758l0-2 0 2zM795 3758l0-2 0 2zM791 3760l0-2 0 2zM797 3762l0-2 0 2zM799 3764l0-2 0 2zM801 3766l0-2 0 2zM803 3768l0-2 0 2zM805 3770l0-2 0 2zM807 3772l0-2 0 2zM809 3774l0-2 0 2zM805 3776l0-2 0 2zM811 3776l0-2 0 2zM807 3778l0-2 0 2zM815 3782l-3-3 1-3 3 3-1 3zM809 3780l0-2 0 2zM817 3784l0-2 0 2zM819 3786l0-2 0 2zM821 3788l0-2 0 2zM823 3790l0-2 0 2zM825 3792l0-2 0 2zM827 3794l0-2 0 2zM829 3796l0-2 0 2zM825 3798l0-2 0 2zM831 3798l0-2 0 2zM827 3800l0-2 0 2zM833 3800l0-2 0 2zM829 3802l0-2 0 2zM835 3802l0-2 0 2zM831 3804l0-2 0 2zM833 3806l0-2 0 2zM835 3808l0-2 0 2zM837 3810l0-2 0 2zM839 3812l0-2 0 2zM841 3814l0-2 0 2zM843 3816l0-2 0 2zM845 3818l0-2 0 2zM871 3844l0-2 0 2zM873 3846l0-2 0 2zM875 3848l0-2 0 2zM871 3850l0-2 0 2zM877 3850l0-2 0 2zM873 3852l0-2 0 2zM879 3852l0-2 0 2zM875 3854l0-2 0 2zM881 3854l0-2 0 2zM877 3856l0-2 0 2zM883 3856l0-2 0 2zM879 3858l0-2 0 2zM885 3858l0-2 0 2zM881 3860l0-2 0 2zM887 3860l0-2 0 2zM889 3862l0-2 0 2zM891 3864l0-2 0 2zM893 3866l0-2 0 2zM895 3868l0-2 0 2zM897 3870l0-2 0 2zM899 3872l0-2 0 2zM901 3874l0-2 0 2zM903 3876l0-2 0 2zM905 3878l0-2 0 2zM909 3880l-3-1 3-1 0 2zM911 3882l0-2 0 2zM907 3884l0-2 0 2zM913 3884l0-2 0 2zM909 3886l0-2 0 2zM915 3886l0-2 0 2zM911 3888l0-2 0 2zM917 3888l0-2 0 2zM913 3890l0-2 0 2zM919 3890l0-2 0 2zM921 3892l0-2 0 2zM923 3894l0-2 0 2zM927 3902l0-2 0 2zM933 3902l0-2 0 2zM929 3904l0-2 0 2zM935 3904l0-2 0 2zM931 3906l0-2 0 2zM937 3906l0-2 0 2zM933 3908l0-2 0 2zM939 3908l0-2 0 2zM943 3916l0-2 0 2zM945 3918l0-2 0 2zM951 3918l0-2 0 2zM947 3920l0-2 0 2zM953 3920l0-2 0 2zM949 3922l0-2 0 2zM957 3928l0-2 0 2zM959 3930l0-2 0 2zM961 3932l0-2 0 2zM969 3938l0-2 0 2zM971 3940l0-2 0 2zM973 3942l0-2 0 2zM979 3946l0-2 0 2zM981 3948l0-2 0 2zM983 3950l0-2 0 2zM985 3952l0-2 0 2zM989 3954l0-2 0 2zM991 3956l0-2 0 2zM993 3958l0-2 0 2zM995 3960l0-2 0 2zM999 3962l0-2 0 2zM1001 3964l0-2 0 2zM1003 3966l0-2 0 2zM1005 3968l0-2 0 2zM1009 3970l0-2 0 2zM1005 3972l0-2 0 2zM1011 3972l0-2 0 2zM1013 3974l0-2 0 2zM1017 3976l0-2 0 2zM1013 3978l0-2 0 2zM1019 3978l0-2 0 2zM1021 3980l0-2 0 2zM1025 3982l0-2 0 2zM1027 3984l0-2 0 2zM1023 3986l0-2 0 2zM1029 3986l0-2 0 2zM1033 3988l0-2 0 2zM1035 3990l0-2 0 2zM1031 3992l0-2 0 2zM1037 3992l0-2 0 2zM1041 3994l0-2 0 2zM1037 3996l0-2 0 2zM1043 3996l0-2 0 2zM1045 3998l0-2 0 2zM1049 4000l0-2 0 2zM1045 4002l0-2 0 2zM1051 4002l0-2 0 2zM1055 4004l-3-1 3-1 0 2zM1057 4006l0-2 0 2zM1053 4008l0-2 0 2zM1059 4008l0-2 0 2zM1063 4010l0-2 0 2zM1059 4012l0-2 0 2zM1065 4012l0-2 0 2zM1071 4016l0-2 0 2zM1067 4018l0-2 0 2zM1077 4020l0-2 0 2zM1073 4022l0-2 0 2zM1079 4022l0-2 0 2zM1083 4024l-3-1 3-1 0 2zM1079 4026l0-2 0 2zM1085 4026l0-2 0 2zM1085 4030l0-2 0 2zM1091 4030l0-2 0 2zM1087 4032l0-2 0 2zM1091 4034l0-2 0 2zM1097 4034l0-2 0 2zM1093 4036l0-2 0 2zM1103 4038l0-2 0 2zM1099 4040l0-2 0 2zM1109 4042l0-2 0 2zM1105 4044l0-2 0 2zM1109 4046l0-2 0 2zM1115 4046l0-2 0 2zM1111 4048l0-2 0 2zM1115 4050l0-2 0 2zM1117 4052l0-2 0 2zM1121 4054l0-2 0 2zM1127 4058l0-2 0 2zM1137 4060l0-2 0 2zM1133 4062l0-2 0 2zM1137 4064l0-2 0 2zM1139 4066l0-2 0 2zM1143 4068l0-2 0 2zM1149 4072l0-2 0 2zM1153 4074l0-2 0 2zM1155 4076l0-2 0 2zM1159 4078l0-2 0 2zM1163 4080l0-2 0 2zM1165 4082l0-2 0 2zM1169 4084l0-2 0 2zM1173 4086l0-2 0 2zM1175 4088l0-2 0 2zM1179 4090l0-2 0 2zM1183 4092l0-2 0 2zM1179 4094l0-2 0 2zM1189 4096l0-2 0 2zM1193 4098l0-2 0 2zM1197 4100l0-2 0 2zM1199 4102l0-2 0 2zM1203 4104l0-2 0 2zM1207 4106l0-2 0 2zM1211 4108l0-2 0 2zM1207 4110l0-2 0 2zM1215 4110l0-2 0 2zM1217 4112l0-2 0 2zM1221 4114l0-2 0 2zM1225 4116l0-2 0 2zM1229 4118l0-2 0 2zM1225 4120l0-2 0 2zM1233 4120l0-2 0 2zM1237 4122l0-2 0 2zM1239 4124l0-2 0 2zM1243 4126l0-2 0 2zM1247 4128l0-2 0 2zM1251 4130l0-2 0 2zM1255 4132l0-2 0 2zM1259 4134l0-2 0 2zM1263 4136l0-2 0 2zM1267 4138l0-2 0 2zM1263 4140l0-2 0 2zM1271 4140l0-2 0 2zM1267 4142l0-2 0 2zM1275 4142l0-2 0 2zM1271 4144l0-2 0 2zM1279 4144l0-2 0 2zM1275 4146l0-2 0 2zM1283 4146l0-2 0 2zM1279 4148l0-2 0 2zM1287 4148l0-2 0 2zM1283 4150l0-2 0 2zM1291 4150l0-2 0 2zM1287 4152l0-2 0 2zM1295 4152l0-2 0 2zM1291 4154l0-2 0 2zM1299 4154l0-2 0 2zM1303 4156l0-2 0 2zM1307 4158l0-2 0 2zM1311 4160l0-2 0 2zM1321 4164l-3-1 3-1 0 2zM1325 4166l0-2 0 2zM1329 4168l0-2 0 2zM1325 4170l0-2 0 2zM1333 4170l0-2 0 2zM1337 4172l0-2 0 2zM1343 4174l-3-1 3-1 0 2zM1347 4176l0-2 0 2zM1351 4178l0-2 0 2zM1347 4180l0-2 0 2zM1355 4180l0-2 0 2zM1361 4182l-3-1 3-1 0 2zM1365 4184l0-2 0 2zM1361 4186l0-2 0 2zM1369 4186l0-2 0 2zM1375 4188l-3-1 3-1 0 2zM1379 4190l0-2 0 2zM1375 4192l0-2 0 2zM1383 4192l0-2 0 2zM1389 4194l0-2 0 2zM1393 4196l0-2 0 2zM1399 4198l-3-1 3-1 0 2zM1403 4200l0-2 0 2zM1413 4204l0-2 0 2zM1419 4206l-3-1 3-1 0 2zM1423 4208l0-2 0 2zM1429 4210l0-2 0 2zM1439 4214l0-2 0 2zM1435 4216l0-2 0 2zM1445 4216l-3-1 3-1 0 2zM1455 4220l0-2 0 2zM1461 4222l0-2 0 2zM1467 4224l-3-1 3-1 0 2zM1477 4228l0-2 0 2zM1483 4230l0-2 0 2zM1489 4232l0-2 0 2zM1485 4234l0-2 0 2zM1495 4234l0-2 0 2zM1491 4236l0-2 0 2zM1501 4236l0-2 0 2zM1507 4238l0-2 0 2zM1513 4240l0-2 0 2zM1509 4242l0-2 0 2zM1519 4242l0-2 0 2zM1525 4244l0-2 0 2zM1531 4246l0-2 0 2zM1539 4248l-3-1 3-1 0 2zM1545 4250l0-2 0 2zM1551 4252l0-2 0 2zM1565 4256l0-2 0 2zM1571 4258l0-2 0 2zM1579 4260l0-2 0 2zM1585 4262l0-2 0 2zM1593 4264l0-2 0 2zM1601 4266l0-2 0 2zM1607 4268l0-2 0 2zM1615 4270l0-2 0 2zM1623 4272l0-2 0 2zM1631 4274l0-2 0 2zM1639 4276l0-2 0 2zM1647 4278l0-2 0 2zM1665 4282l0-2 0 2zM1673 4284l0-2 0 2zM1683 4286l0-2 0 2zM1701 4290l0-2 0 2zM1711 4292l0-2 0 2zM1721 4294l0-2 0 2zM1889 4316l0-2 0 2zM1911 4318l0-2 0 2z" fill="#f9fb15"/><path d="M2031 4333l2-2 76 0 2-2 12 0 2-2 72-2 14-4 12 2 10-4 8 0 2 2 8-4 18 0 2-2 14 0 2-2 42-4 8-4 6 2 8-4 44-6 2-2 8 0 12-4 8 0 8-4 2 2 8-4 2 2 8-4 64-14 14-6 6 0 36-12 6 0 14-6 6 0 24-10 74-24 66-28 4 0 10-6 4 0 66-32 4 0 120-64 96-60 104-76 60-50 44-40 88-90 46-54 46-60 34-50 2-6 12-16 24-40 58-116 0-4 18-40 4-16 4-6 16-48 0-6 6-14 2-14 4-8 6-30 2-2 2-16 2-2 2-18 2-2 2-18 2-2 0-10 4-12 2-22 2-2 4-40 2-2 4-54 2-2 0-24 2-2 0-32 2-2 0-136-2-2 0-32-2-2 0-24-2-2-2-38-2-2 0-14-2-2 0-14-2-2 0-12-4-14-2-24-4-12 0-10-2-2-2-18-2-2-2-18-4-10 0-8-8-26-6-30-8-22-4-20-8-20 0-6-10-30-4-6-6-22-4-6-2-10-4-6-10-30-6-10-4-14-18-36 0-4-32-64-4-4-8-18-4-4-28-50-30-46-44-60-70-82-56-56-40-36-52-42-44-32-58-38-44-24-4-4-74-38-4 0-22-12-18-6-24-12-46-16-6-4-22-6-6-4-30-10-6 0-26-10-6 0-22-8-14-2-8-4-14-2-26-8-8 0-18-6-28-4-2-2-18-2-12-4-10 0-12-4-12 0-2-2-10 0-14-4-44-4-2-2-14 0-2-2-36-2-2-2-22 0-2-2-24 0-2-2-84-2-2-2-162 2-2 2-62 2-2 2-22 0-2 2-20 0-2 2-56 4-2 2-14 0-2 2-14 0-2 2-40 4-2 2-26 2-2 2-34 4-2 2-22 2-2 2-18 2-2 2-10 0-2 2-28 4-2 2-28 4-10 4-18 2-10 4-8 0-18 6-8 0-34 10-38 8-8 4-22 4-22 8-34 8-14 6-6 0-116 38-6 4-48 16-16 8-10 2-30 14-14 4-24 12-4 0-66 32-4 0-86 44-4 4-18 8-42 26-10 4-10 8-54 32-76 54-58 50-6 8-34 32-18 22-10 8-6 10-14 14-34 42 0 4-8 8-16 22 0 4-14 16 0 4-20 28 0 4-8 6-2 10-6 6 0 4-12 16-2 8-6 6-2 10-10 12-4 14-16 30-2 6 2 2-8 10-2 6 2 2-6 10 0 4-6 6 0 4-4 6-2 6 2 4-4 6-8 24 2 4-4 12-6 8-4 12 2 4-6 10 2 4-4 4-4 14 2 2 0 6-8 28 2 2-4 8 2 2-4 8 2 2-4 8 2 4-4 8 2 4-4 8 2 6-4 8 2 2 0 6-4 8 2 2 0 6-4 8 2 2 0 12-4 8 2 2 0 16 2 2-6 10 4 8-2 6 0 78 4 8-2 30 4 8-2 16 4 8-2 12 4 8-2 10 4 8-2 4 4 12-2 6 4 8-2 6 2 2 2 22 2 2 2 20 2 2 0 12-2 2 6 10 0 6-2 2 4 8-2 2 4 10 0 6 8 14 0 8-2 2 4 10 2 14 4 8 2 14 20 60 0 6-2 2 10 30 4 6 4 16 4 6 2 10 8 16 2 10 6 10 2 18 6 6-2 2 2 6 28 58 0 4 4 6-2 4 2 6 12 24 8 6 2 12 16 28-2 4 2 6 8 6-2 2 2 6 6 6 2 8 32 50 2 12 46 68 6 6-2 2 2 6 46 60 18 20 4 12 10 6 2 8 14 10 2 8 8 8 4 0 6 6 2 8 22 22 6 2 18 18-2 4 2 6 14 14 8 2 14 14 0 4 10 10 8 2 2 6 10 10 4 0 12 14 48 38 8 12 8 6 4 0 6 8 94 66 54 32 8 10 6 2 2-2 8 4 8 6 4 6 12 2 6 8 6 2 4-2 4 4 18 8 6 8 28 14 6 2 4-2 16 8 8 8 6 2 4-2 12 10 6 2 2-2 6 6 6 2 2-2 6 6 6 2 6-2 20 10 20 6 8 8 6 2 6-2 12 4 6 4 14 4 6 6 12 4 6-2 6 6 6 2 2-2 6 0 20 8 6 0 14 6 42 10 8 4 38 8 2 2 2-2 6 0 4 4 14 4 2-2 8 4 2-2 6 0 10 6 2-2 18 6 2-2 10 0 2 2 20 2 2 2 4-2 8 4 4-2 8 4 4-2 8 4 6-2 10 4 4-2 8 4 8-2 8 4 2-2 6 0 8 4 2-2 8 0 8 4 2-2 8 0 8 4 2-2 12 0 8 4 2-2 18-2 8 4 24-2 8 4 10 0 2-2 34 0 14 4z" fill="#f9f916"/><path d="M2031 4333l2-2 76 0 2-2 12 0 2-2 72-2 14-4 12 2 10-4 8 0 2 2 8-4 18 0 2-2 14 0 2-2 42-4 8-4 6 2 8-4 44-6 2-2 8 0 12-4 8 0 8-4 2 2 8-4 2 2 8-4 64-14 14-6 6 0 36-12 6 0 14-6 6 0 24-10 74-24 66-28 4 0 10-6 4 0 66-32 4 0 120-64 96-60 104-76 60-50 44-40 88-90 46-54 46-60 34-50 2-6 12-16 24-40 58-116 0-4 18-40 4-16 4-6 16-48 0-6 6-14 2-14 4-8 6-30 2-2 2-16 2-2 2-18 2-2 2-18 2-2 0-10 4-12 2-22 2-2 4-40 2-2 4-54 2-2 0-24 2-2 0-32 2-2 0-136-2-2 0-32-2-2 0-24-2-2-2-38-2-2 0-14-2-2 0-14-2-2 0-12-4-14-2-24-4-12 0-10-2-2-2-18-2-2-2-18-4-10 0-8-8-26-6-30-8-22-4-20-8-20 0-6-10-30-4-6-6-22-4-6-2-10-4-6-10-30-6-10-4-14-18-36 0-4-32-64-4-4-8-18-4-4-28-50-30-46-44-60-70-82-56-56-40-36-52-42-44-32-58-38-44-24-4-4-74-38-4 0-22-12-18-6-24-12-46-16-6-4-22-6-6-4-30-10-6 0-26-10-6 0-22-8-14-2-8-4-14-2-26-8-8 0-18-6-28-4-2-2-18-2-12-4-10 0-12-4-12 0-2-2-10 0-14-4-44-4-2-2-14 0-2-2-36-2-2-2-22 0-2-2-24 0-2-2-84-2-2-2-162 2-2 2-62 2-2 2-22 0-2 2-20 0-2 2-56 4-2 2-14 0-2 2-14 0-2 2-40 4-2 2-26 2-2 2-34 4-2 2-22 2-2 2-18 2-2 2-10 0-2 2-28 4-2 2-28 4-10 4-18 2-10 4-8 0-18 6-8 0-34 10-38 8-8 4-22 4-22 8-34 8-14 6-6 0-116 38-6 4-48 16-16 8-10 2-30 14-14 4-24 12-4 0-66 32-4 0-86 44-4 4-18 8-42 26-10 4-10 8-54 32-76 54-58 50-6 8-34 32-18 22-10 8-6 10-14 14-34 42 0 4-8 8-16 22 0 4-14 16 0 4-20 28 0 4-8 6-2 10-6 6 0 4-12 16-2 8-6 6-2 10-10 12-4 14-16 30-2 6 2 2-8 10-2 6 2 2-6 10 0 4-6 6 0 4-4 6-2 6 2 4-4 6-8 24 2 4-4 12-6 8-4 12 2 4-6 10 2 4-4 4-4 14 2 2 0 6-8 28 2 2-4 8 2 2-4 8 2 2-4 8 2 4-4 8 2 4-4 8 2 6-4 8 2 2 0 6-4 8 2 2 0 6-4 8 2 2 0 12-4 8 2 2 0 16 2 2-6 10 4 8-2 6 0 78 4 8-2 30 4 8-2 16 4 8-2 12 4 8-2 10 4 8-2 4 4 12-2 6 4 8-2 6 2 2 2 22 2 2 2 20 2 2 0 12-2 2 6 10 0 6-2 2 4 8-2 2 4 10 0 6 8 14 0 8-2 2 4 10 2 14 4 8 2 14 20 60 0 6-2 2 10 30 4 6 4 16 4 6 2 10 8 16 2 10 6 10 2 18 6 6-2 2 2 6 28 58 0 4 4 6-2 4 2 6 12 24 8 6 2 12 16 28-2 4 2 6 8 6-2 2 2 6 6 6 2 8 32 50 2 12 46 68 6 6-2 2 2 6 46 60 18 20 4 12 10 6 2 8 14 10 2 8 8 8 4 0 6 6 2 8 22 22 6 2 18 18-2 4 2 6 14 14 8 2 14 14 0 4 10 10 8 2 2 6 10 10 4 0 12 14 48 38 8 12 8 6 4 0 6 8 94 66 54 32 8 10 6 2 2-2 8 4 8 6 4 6 12 2 6 8 6 2 4-2 4 4 18 8 6 8 28 14 6 2 4-2 16 8 8 8 6 2 4-2 12 10 6 2 2-2 6 6 6 2 2-2 6 6 6 2 6-2 20 10 20 6 8 8 6 2 6-2 12 4 6 4 14 4 6 6 12 4 6-2 6 6 6 2 2-2 6 0 20 8 6 0 14 6 42 10 8 4 38 8 2 2 2-2 6 0 4 4 14 4 2-2 8 4 2-2 6 0 10 6 2-2 18 6 2-2 10 0 2 2 20 2 2 2 4-2 8 4 4-2 8 4 4-2 8 4 6-2 10 4 4-2 8 4 8-2 8 4 2-2 6 0 8 4 2-2 8 0 8 4 2-2 8 0 8 4 2-2 12 0 8 4 2-2 18-2 8 4 24-2 8 4 10 0 2-2 34 0 14 4z" fill="#f7f41c"/><path d="M2031 4333l2-2 76 0 2-2 12 0 2-2 72-2 14-4 12 2 10-4 8 0 2 2 8-4 18 0 2-2 14 0 2-2 42-4 8-4 6 2 8-4 44-6 2-2 8 0 12-4 8 0 8-4 2 2 8-4 2 2 8-4 64-14 14-6 6 0 36-12 6 0 14-6 6 0 24-10 74-24 66-28 4 0 10-6 4 0 66-32 4 0 120-64 96-60 104-76 60-50 44-40 88-90 46-54 46-60 34-50 2-6 12-16 24-40 58-116 0-4 18-40 4-16 4-6 16-48 0-6 6-14 2-14 4-8 6-30 2-2 2-16 2-2 2-18 2-2 2-18 2-2 0-10 4-12 2-22 2-2 4-40 2-2 4-54 2-2 0-24 2-2 0-32 2-2 0-136-2-2 0-32-2-2 0-24-2-2-2-38-2-2 0-14-2-2 0-14-2-2 0-12-4-14-2-24-4-12 0-10-2-2-2-18-2-2-2-18-4-10 0-8-8-26-6-30-8-22-4-20-8-20 0-6-10-30-4-6-6-22-4-6-2-10-4-6-10-30-6-10-4-14-18-36 0-4-32-64-4-4-8-18-4-4-28-50-30-46-44-60-70-82-56-56-40-36-52-42-44-32-58-38-44-24-4-4-74-38-4 0-22-12-18-6-24-12-46-16-6-4-22-6-6-4-30-10-6 0-26-10-6 0-22-8-14-2-8-4-14-2-26-8-8 0-18-6-28-4-2-2-18-2-12-4-10 0-12-4-12 0-2-2-10 0-14-4-44-4-2-2-14 0-2-2-36-2-2-2-22 0-2-2-24 0-2-2-84-2-2-2-162 2-2 2-62 2-2 2-22 0-2 2-20 0-2 2-56 4-2 2-14 0-2 2-14 0-2 2-40 4-2 2-26 2-2 2-34 4-2 2-22 2-2 2-18 2-2 2-10 0-2 2-28 4-2 2-28 4-10 4-18 2-10 4-8 0-18 6-8 0-34 10-38 8-8 4-22 4-22 8-34 8-14 6-6 0-116 38-6 4-48 16-16 8-10 2-30 14-14 4-24 12-4 0-66 32-4 0-86 44-4 4-18 8-42 26-10 4-10 8-54 32-76 54-58 50-6 8-34 32-18 22-10 8-6 10-14 14-34 42 0 4-8 8-16 22 0 4-14 16 0 4-20 28 0 4-8 6-2 10-6 6 0 4-12 16-2 8-6 6-2 10-10 12-4 14-16 30-2 6 2 2-8 10-2 6 2 2-6 10 0 4-6 6 0 4-4 6-2 6 2 4-4 6-8 24 2 4-4 12-6 8-4 12 2 4-6 10 2 4-4 4-4 14 2 2 0 6-8 28 2 2-4 8 2 2-4 8 2 2-4 8 2 4-4 8 2 4-4 8 2 6-4 8 2 2 0 6-4 8 2 2 0 6-4 8 2 2 0 12-4 8 2 2 0 16 2 2-6 10 4 8-2 6 0 78 4 8-2 30 4 8-2 16 4 8-2 12 4 8-2 10 4 8-2 4 4 12-2 6 4 8-2 6 2 2 2 22 2 2 2 20 2 2 0 12-2 2 6 10 0 6-2 2 4 8-2 2 4 10 0 6 8 14 0 8-2 2 4 10 2 14 4 8 2 14 20 60 0 6-2 2 10 30 4 6 4 16 4 6 2 10 8 16 2 10 6 10 2 18 6 6-2 2 2 6 28 58 0 4 4 6-2 4 2 6 12 24 8 6 2 12 16 28-2 4 2 6 8 6-2 2 2 6 6 6 2 8 32 50 2 12 46 68 6 6-2 2 2 6 46 60 18 20 4 12 10 6 2 8 14 10 2 8 8 8 4 0 6 6 2 8 22 22 6 2 18 18-2 4 2 6 14 14 8 2 14 14 0 4 10 10 8 2 2 6 10 10 4 0 12 14 48 38 8 12 8 6 4 0 6 8 94 66 54 32 8 10 6 2 2-2 8 4 8 6 4 6 12 2 6 8 6 2 4-2 4 4 18 8 6 8 28 14 6 2 4-2 16 8 8 8 6 2 4-2 12 10 6 2 2-2 6 6 6 2 2-2 6 6 6 2 6-2 20 10 20 6 8 8 6 2 6-2 12 4 6 4 14 4 6 6 12 4 6-2 6 6 6 2 2-2 6 0 20 8 6 0 14 6 42 10 8 4 38 8 2 2 2-2 6 0 4 4 14 4 2-2 8 4 2-2 6 0 10 6 2-2 18 6 2-2 10 0 2 2 20 2 2 2 4-2 8 4 4-2 8 4 4-2 8 4 6-2 10 4 4-2 8 4 8-2 8 4 2-2 6 0 8 4 2-2 8 0 8 4 2-2 8 0 8 4 2-2 12 0 8 4 2-2 18-2 8 4 24-2 8 4 10 0 2-2 34 0 14 4z" fill="#f5ef20"/><path d="M2031 4333l2-2 76 0 2-2 12 0 2-2 72-2 14-4 12 2 10-4 8 0 2 2 8-4 18 0 2-2 14 0 2-2 42-4 8-4 6 2 8-4 44-6 2-2 8 0 12-4 8 0 8-4 2 2 8-4 2 2 8-4 64-14 14-6 6 0 36-12 6 0 14-6 6 0 24-10 74-24 66-28 4 0 10-6 4 0 66-32 4 0 120-64 96-60 104-76 60-50 44-40 88-90 46-54 46-60 34-50 2-6 12-16 24-40 58-116 0-4 18-40 4-16 4-6 16-48 0-6 6-14 2-14 4-8 6-30 2-2 2-16 2-2 2-18 2-2 2-18 2-2 0-10 4-12 2-22 2-2 4-40 2-2 4-54 2-2 0-24 2-2 0-32 2-2 0-136-2-2 0-32-2-2 0-24-2-2-2-38-2-2 0-14-2-2 0-14-2-2 0-12-4-14-2-24-4-12 0-10-2-2-2-18-2-2-2-18-4-10 0-8-8-26-6-30-8-22-4-20-8-20 0-6-10-30-4-6-6-22-4-6-2-10-4-6-10-30-6-10-4-14-18-36 0-4-32-64-4-4-8-18-4-4-28-50-30-46-44-60-70-82-56-56-40-36-52-42-44-32-58-38-44-24-4-4-74-38-4 0-22-12-18-6-24-12-46-16-6-4-22-6-6-4-30-10-6 0-26-10-6 0-22-8-14-2-8-4-14-2-26-8-8 0-18-6-28-4-2-2-18-2-12-4-10 0-12-4-12 0-2-2-10 0-14-4-44-4-2-2-14 0-2-2-36-2-2-2-22 0-2-2-24 0-2-2-84-2-2-2-162 2-2 2-62 2-2 2-22 0-2 2-20 0-2 2-56 4-2 2-14 0-2 2-14 0-2 2-40 4-2 2-26 2-2 2-34 4-2 2-22 2-2 2-18 2-2 2-10 0-2 2-28 4-2 2-28 4-10 4-18 2-10 4-8 0-18 6-8 0-34 10-38 8-8 4-22 4-22 8-34 8-14 6-6 0-116 38-6 4-48 16-16 8-10 2-30 14-14 4-24 12-4 0-66 32-4 0-86 44-4 4-18 8-42 26-10 4-10 8-54 32-76 54-58 50-6 8-34 32-18 22-10 8-6 10-14 14-34 42 0 4-8 8-16 22 0 4-14 16 0 4-20 28 0 4-8 6-2 10-6 6 0 4-12 16-2 8-6 6-2 10-10 12-4 14-16 30-2 6 2 2-8 10-2 6 2 2-6 10 0 4-6 6 0 4-4 6-2 6 2 4-4 6-8 24 2 4-4 12-6 8-4 12 2 4-6 10 2 4-4 4-4 14 2 2 0 6-8 28 2 2-4 8 2 2-4 8 2 2-4 8 2 4-4 8 2 4-4 8 2 6-4 8 2 2 0 6-4 8 2 2 0 6-4 8 2 2 0 12-4 8 2 2 0 16 2 2-6 10 4 8-2 6 0 78 4 8-2 30 4 8-2 16 4 8-2 12 4 8-2 10 4 8-2 4 4 12-2 6 4 8-2 6 2 2 2 22 2 2 2 20 2 2 0 12-2 2 6 10 0 6-2 2 4 8-2 2 4 10 0 6 8 14 0 8-2 2 4 10 2 14 4 8 2 14 20 60 0 6-2 2 10 30 4 6 4 16 4 6 2 10 8 16 2 10 6 10 2 18 6 6-2 2 2 6 28 58 0 4 4 6-2 4 2 6 12 24 8 6 2 12 16 28-2 4 2 6 8 6-2 2 2 6 6 6 2 8 32 50 2 12 46 68 6 6-2 2 2 6 46 60 18 20 4 12 10 6 2 8 14 10 2 8 8 8 4 0 6 6 2 8 22 22 6 2 18 18-2 4 2 6 14 14 8 2 14 14 0 4 10 10 8 2 2 6 10 10 4 0 12 14 48 38 8 12 8 6 4 0 6 8 94 66 54 32 8 10 6 2 2-2 8 4 8 6 4 6 12 2 6 8 6 2 4-2 4 4 18 8 6 8 28 14 6 2 4-2 16 8 8 8 6 2 4-2 12 10 6 2 2-2 6 6 6 2 2-2 6 6 6 2 6-2 20 10 20 6 8 8 6 2 6-2 12 4 6 4 14 4 6 6 12 4 6-2 6 6 6 2 2-2 6 0 20 8 6 0 14 6 42 10 8 4 38 8 2 2 2-2 6 0 4 4 14 4 2-2 8 4 2-2 6 0 10 6 2-2 18 6 2-2 10 0 2 2 20 2 2 2 4-2 8 4 4-2 8 4 4-2 8 4 6-2 10 4 4-2 8 4 8-2 8 4 2-2 6 0 8 4 2-2 8 0 8 4 2-2 8 0 8 4 2-2 12 0 8 4 2-2 18-2 8 4 24-2 8 4 10 0 2-2 34 0 14 4z" fill="#f5ea24"/><path d="M2031 4333l2-2 76 0 2-2 12 0 2-2 72-2 14-4 12 2 10-4 8 0 2 2 8-4 18 0 2-2 14 0 2-2 42-4 8-4 6 2 8-4 44-6 2-2 8 0 12-4 8 0 8-4 2 2 8-4 2 2 8-4 64-14 14-6 6 0 36-12 6 0 14-6 6 0 24-10 74-24 66-28 4 0 10-6 4 0 66-32 4 0 120-64 96-60 104-76 60-50 44-40 88-90 46-54 46-60 34-50 2-6 12-16 24-40 58-116 0-4 18-40 4-16 4-6 16-48 0-6 6-14 2-14 4-8 6-30 2-2 2-16 2-2 2-18 2-2 2-18 2-2 0-10 4-12 2-22 2-2 4-40 2-2 4-54 2-2 0-24 2-2 0-32 2-2 0-136-2-2 0-32-2-2 0-24-2-2-2-38-2-2 0-14-2-2 0-14-2-2 0-12-4-14-2-24-4-12 0-10-2-2-2-18-2-2-2-18-4-10 0-8-8-26-6-30-8-22-4-20-8-20 0-6-10-30-4-6-6-22-4-6-2-10-4-6-10-30-6-10-4-14-18-36 0-4-32-64-4-4-8-18-4-4-28-50-30-46-44-60-70-82-56-56-40-36-52-42-44-32-58-38-44-24-4-4-74-38-4 0-22-12-18-6-24-12-46-16-6-4-22-6-6-4-30-10-6 0-26-10-6 0-22-8-14-2-8-4-14-2-26-8-8 0-18-6-28-4-2-2-18-2-12-4-10 0-12-4-12 0-2-2-10 0-14-4-44-4-2-2-14 0-2-2-36-2-2-2-22 0-2-2-24 0-2-2-84-2-2-2-162 2-2 2-62 2-2 2-22 0-2 2-20 0-2 2-56 4-2 2-14 0-2 2-14 0-2 2-40 4-2 2-26 2-2 2-34 4-2 2-22 2-2 2-18 2-2 2-10 0-2 2-28 4-2 2-28 4-10 4-18 2-10 4-8 0-18 6-8 0-34 10-38 8-8 4-22 4-22 8-34 8-14 6-6 0-116 38-6 4-48 16-16 8-10 2-30 14-14 4-24 12-4 0-66 32-4 0-86 44-4 4-18 8-42 26-10 4-10 8-54 32-76 54-58 50-6 8-34 32-18 22-10 8-6 10-14 14-34 42 0 4-8 8-16 22 0 4-14 16 0 4-20 28 0 4-8 6-2 10-6 6 0 4-12 16-2 8-6 6-2 10-10 12-4 14-16 30-2 6 2 2-8 10-2 6 2 2-6 10 0 4-6 6 0 4-4 6-2 6 2 4-4 6-8 24 2 4-4 12-6 8-4 12 2 4-6 10 2 4-4 4-4 14 2 2 0 6-8 28 2 2-4 8 2 2-4 8 2 2-4 8 2 4-4 8 2 4-4 8 2 6-4 8 2 2 0 6-4 8 2 2 0 6-4 8 2 2 0 12-4 8 2 2 0 16 2 2-6 10 4 8-2 6 0 78 4 8-2 30 4 8-2 16 4 8-2 12 4 8-2 10 4 8-2 4 4 12-2 6 4 8-2 6 2 2 2 22 2 2 2 20 2 2 0 12-2 2 6 10 0 6-2 2 4 8-2 2 4 10 0 6 8 14 0 8-2 2 4 10 2 14 4 8 2 14 20 60 0 6-2 2 10 30 4 6 4 16 4 6 2 10 8 16 2 10 6 10 2 18 6 6-2 2 2 6 28 58 0 4 4 6-2 4 2 6 12 24 8 6 2 12 16 28-2 4 2 6 8 6-2 2 2 6 6 6 2 8 32 50 2 12 46 68 6 6-2 2 2 6 46 60 18 20 4 12 10 6 2 8 14 10 2 8 8 8 4 0 6 6 2 8 22 22 6 2 18 18-2 4 2 6 14 14 8 2 14 14 0 4 10 10 8 2 2 6 10 10 4 0 12 14 48 38 8 12 8 6 4 0 6 8 94 66 54 32 8 10 6 2 2-2 8 4 8 6 4 6 12 2 6 8 6 2 4-2 4 4 18 8 6 8 28 14 6 2 4-2 16 8 8 8 6 2 4-2 12 10 6 2 2-2 6 6 6 2 2-2 6 6 6 2 6-2 20 10 20 6 8 8 6 2 6-2 12 4 6 4 14 4 6 6 12 4 6-2 6 6 6 2 2-2 6 0 20 8 6 0 14 6 42 10 8 4 38 8 2 2 2-2 6 0 4 4 14 4 2-2 8 4 2-2 6 0 10 6 2-2 18 6 2-2 10 0 2 2 20 2 2 2 4-2 8 4 4-2 8 4 4-2 8 4 6-2 10 4 4-2 8 4 8-2 8 4 2-2 6 0 8 4 2-2 8 0 8 4 2-2 8 0 8 4 2-2 12 0 8 4 2-2 18-2 8 4 24-2 8 4 10 0 2-2 34 0 14 4z" fill="#f5e427"/><path d="M2031 4333l2-2 76 0 2-2 12 0 2-2 72-2 14-4 12 2 10-4 8 0 2 2 8-4 18 0 2-2 14 0 2-2 42-4 8-4 6 2 8-4 44-6 2-2 8 0 12-4 8 0 8-4 2 2 8-4 2 2 8-4 64-14 14-6 6 0 36-12 6 0 14-6 6 0 24-10 74-24 66-28 4 0 10-6 4 0 66-32 4 0 120-64 96-60 104-76 60-50 44-40 88-90 46-54 46-60 34-50 2-6 12-16 24-40 58-116 0-4 18-40 4-16 4-6 16-48 0-6 6-14 2-14 4-8 6-30 2-2 2-16 2-2 2-18 2-2 2-18 2-2 0-10 4-12 2-22 2-2 4-40 2-2 4-54 2-2 0-24 2-2 0-32 2-2 0-136-2-2 0-32-2-2 0-24-2-2-2-38-2-2 0-14-2-2 0-14-2-2 0-12-4-14-2-24-4-12 0-10-2-2-2-18-2-2-2-18-4-10 0-8-8-26-6-30-8-22-4-20-8-20 0-6-10-30-4-6-6-22-4-6-2-10-4-6-10-30-6-10-4-14-18-36 0-4-32-64-4-4-8-18-4-4-28-50-30-46-44-60-70-82-56-56-40-36-52-42-44-32-58-38-44-24-4-4-74-38-4 0-22-12-18-6-24-12-46-16-6-4-22-6-6-4-30-10-6 0-26-10-6 0-22-8-14-2-8-4-14-2-26-8-8 0-18-6-28-4-2-2-18-2-12-4-10 0-12-4-12 0-2-2-10 0-14-4-44-4-2-2-14 0-2-2-36-2-2-2-22 0-2-2-24 0-2-2-84-2-2-2-162 2-2 2-62 2-2 2-22 0-2 2-20 0-2 2-56 4-2 2-14 0-2 2-14 0-2 2-40 4-2 2-26 2-2 2-34 4-2 2-22 2-2 2-18 2-2 2-10 0-2 2-28 4-2 2-28 4-10 4-18 2-10 4-8 0-18 6-8 0-34 10-38 8-8 4-22 4-22 8-34 8-14 6-6 0-116 38-6 4-48 16-16 8-10 2-30 14-14 4-24 12-4 0-66 32-4 0-86 44-4 4-18 8-42 26-10 4-10 8-54 32-76 54-58 50-6 8-34 32-18 22-10 8-6 10-14 14-34 42 0 4-8 8-16 22 0 4-14 16 0 4-20 28 0 4-8 6-2 10-6 6 0 4-12 16-2 8-6 6-2 10-10 12-4 14-16 30-2 6 2 2-8 10-2 6 2 2-6 10 0 4-6 6 0 4-4 6-2 6 2 4-4 6-8 24 2 4-4 12-6 8-4 12 2 4-6 10 2 4-4 4-4 14 2 2 0 6-8 28 2 2-4 8 2 2-4 8 2 2-4 8 2 4-4 8 2 4-4 8 2 6-4 8 2 2 0 6-4 8 2 2 0 6-4 8 2 2 0 12-4 8 2 2 0 16 2 2-6 10 4 8-2 6 0 78 4 8-2 30 4 8-2 16 4 8-2 12 4 8-2 10 4 8-2 4 4 12-2 6 4 8-2 6 2 2 2 22 2 2 2 20 2 2 0 12-2 2 6 10 0 6-2 2 4 8-2 2 4 10 0 6 8 14 0 8-2 2 4 10 2 14 4 8 2 14 20 60 0 6-2 2 10 30 4 6 4 16 4 6 2 10 8 16 2 10 6 10 2 18 6 6-2 2 2 6 28 58 0 4 4 6-2 4 2 6 12 24 8 6 2 12 16 28-2 4 2 6 8 6-2 2 2 6 6 6 2 8 32 50 2 12 46 68 6 6-2 2 2 6 46 60 18 20 4 12 10 6 2 8 14 10 2 8 8 8 4 0 6 6 2 8 22 22 6 2 18 18-2 4 2 6 14 14 8 2 14 14 0 4 10 10 8 2 2 6 10 10 4 0 12 14 48 38 8 12 8 6 4 0 6 8 94 66 54 32 8 10 6 2 2-2 8 4 8 6 4 6 12 2 6 8 6 2 4-2 4 4 18 8 6 8 28 14 6 2 4-2 16 8 8 8 6 2 4-2 12 10 6 2 2-2 6 6 6 2 2-2 6 6 6 2 6-2 20 10 20 6 8 8 6 2 6-2 12 4 6 4 14 4 6 6 12 4 6-2 6 6 6 2 2-2 6 0 20 8 6 0 14 6 42 10 8 4 38 8 2 2 2-2 6 0 4 4 14 4 2-2 8 4 2-2 6 0 10 6 2-2 18 6 2-2 10 0 2 2 20 2 2 2 4-2 8 4 4-2 8 4 4-2 8 4 6-2 10 4 4-2 8 4 8-2 8 4 2-2 6 0 8 4 2-2 8 0 8 4 2-2 8 0 8 4 2-2 12 0 8 4 2-2 18-2 8 4 24-2 8 4 10 0 2-2 34 0 14 4z" fill="#f6df29"/><path d="M2031 4333l2-2 76 0 2-2 12 0 2-2 72-2 14-4 12 2 10-4 8 0 2 2 8-4 18 0 2-2 14 0 2-2 42-4 8-4 6 2 8-4 44-6 2-2 8 0 12-4 8 0 8-4 2 2 8-4 2 2 8-4 64-14 14-6 6 0 36-12 6 0 14-6 6 0 24-10 74-24 66-28 4 0 10-6 4 0 66-32 4 0 120-64 96-60 104-76 60-50 44-40 88-90 46-54 46-60 34-50 2-6 12-16 24-40 58-116 0-4 18-40 4-16 4-6 16-48 0-6 6-14 2-14 4-8 6-30 2-2 2-16 2-2 2-18 2-2 2-18 2-2 0-10 4-12 2-22 2-2 4-40 2-2 4-54 2-2 0-24 2-2 0-32 2-2 0-136-2-2 0-32-2-2 0-24-2-2-2-38-2-2 0-14-2-2 0-14-2-2 0-12-4-14-2-24-4-12 0-10-2-2-2-18-2-2-2-18-4-10 0-8-8-26-6-30-8-22-4-20-8-20 0-6-10-30-4-6-6-22-4-6-2-10-4-6-10-30-6-10-4-14-18-36 0-4-32-64-4-4-8-18-4-4-28-50-30-46-44-60-70-82-56-56-40-36-52-42-44-32-58-38-44-24-4-4-74-38-4 0-22-12-18-6-24-12-46-16-6-4-22-6-6-4-30-10-6 0-26-10-6 0-22-8-14-2-8-4-14-2-26-8-8 0-18-6-28-4-2-2-18-2-12-4-10 0-12-4-12 0-2-2-10 0-14-4-44-4-2-2-14 0-2-2-36-2-2-2-22 0-2-2-24 0-2-2-84-2-2-2-162 2-2 2-62 2-2 2-22 0-2 2-20 0-2 2-56 4-2 2-14 0-2 2-14 0-2 2-40 4-2 2-26 2-2 2-34 4-2 2-22 2-2 2-18 2-2 2-10 0-2 2-28 4-2 2-28 4-10 4-18 2-10 4-8 0-18 6-8 0-34 10-38 8-8 4-22 4-22 8-34 8-14 6-6 0-116 38-6 4-48 16-16 8-10 2-30 14-14 4-24 12-4 0-66 32-4 0-86 44-4 4-18 8-42 26-10 4-10 8-54 32-76 54-58 50-6 8-34 32-18 22-10 8-6 10-14 14-34 42 0 4-8 8-16 22 0 4-14 16 0 4-20 28 0 4-8 6-2 10-6 6 0 4-12 16-2 8-6 6-2 10-10 12-4 14-16 30-2 6 2 2-8 10-2 6 2 2-6 10 0 4-6 6 0 4-4 6-2 6 2 4-4 6-8 24 2 4-4 12-6 8-4 12 2 4-6 10 2 4-4 4-4 14 2 2 0 6-8 28 2 2-4 8 2 2-4 8 2 2-4 8 2 4-4 8 2 4-4 8 2 6-4 8 2 2 0 6-4 8 2 2 0 6-4 8 2 2 0 12-4 8 2 2 0 16 2 2-6 10 4 8-2 6 0 78 4 8-2 30 4 8-2 16 4 8-2 12 4 8-2 10 4 8-2 4 4 12-2 6 4 8-2 6 2 2 2 22 2 2 2 20 2 2 0 12-2 2 6 10 0 6-2 2 4 8-2 2 4 10 0 6 8 14 0 8-2 2 4 10 2 14 4 8 2 14 20 60 0 6-2 2 10 30 4 6 4 16 4 6 2 10 8 16 2 10 6 10 2 18 6 6-2 2 2 6 28 58 0 4 4 6-2 4 2 6 12 24 8 6 2 12 16 28-2 4 2 6 8 6-2 2 2 6 6 6 2 8 32 50 2 12 46 68 6 6-2 2 2 6 46 60 18 20 4 12 10 6 2 8 14 10 2 8 8 8 4 0 6 6 2 8 22 22 6 2 18 18-2 4 2 6 14 14 8 2 14 14 0 4 10 10 8 2 2 6 10 10 4 0 12 14 48 38 8 12 8 6 4 0 6 8 94 66 54 32 8 10 6 2 2-2 8 4 8 6 4 6 12 2 6 8 6 2 4-2 4 4 18 8 6 8 28 14 6 2 4-2 16 8 8 8 6 2 4-2 12 10 6 2 2-2 6 6 6 2 2-2 6 6 6 2 6-2 20 10 20 6 8 8 6 2 6-2 12 4 6 4 14 4 6 6 12 4 6-2 6 6 6 2 2-2 6 0 20 8 6 0 14 6 42 10 8 4 38 8 2 2 2-2 6 0 4 4 14 4 2-2 8 4 2-2 6 0 10 6 2-2 18 6 2-2 10 0 2 2 20 2 2 2 4-2 8 4 4-2 8 4 4-2 8 4 6-2 10 4 4-2 8 4 8-2 8 4 2-2 6 0 8 4 2-2 8 0 8 4 2-2 8 0 8 4 2-2 12 0 8 4 2-2 18-2 8 4 24-2 8 4 10 0 2-2 34 0 14 4z" fill="#f8d92c"/><path d="M2031 4333l2-2 76 0 2-2 12 0 2-2 72-2 14-4 12 2 10-4 8 0 2 2 8-4 18 0 2-2 14 0 2-2 42-4 8-4 6 2 8-4 44-6 2-2 8 0 12-4 8 0 8-4 2 2 8-4 2 2 8-4 64-14 14-6 6 0 36-12 6 0 14-6 6 0 24-10 74-24 66-28 4 0 10-6 4 0 66-32 4 0 120-64 96-60 104-76 60-50 44-40 88-90 46-54 46-60 34-50 2-6 12-16 24-40 58-116 0-4 18-40 4-16 4-6 16-48 0-6 6-14 2-14 4-8 6-30 2-2 2-16 2-2 2-18 2-2 2-18 2-2 0-10 4-12 2-22 2-2 4-40 2-2 4-54 2-2 0-24 2-2 0-32 2-2 0-136-2-2 0-32-2-2 0-24-2-2-2-38-2-2 0-14-2-2 0-14-2-2 0-12-4-14-2-24-4-12 0-10-2-2-2-18-2-2-2-18-4-10 0-8-8-26-6-30-8-22-4-20-8-20 0-6-10-30-4-6-6-22-4-6-2-10-4-6-10-30-6-10-4-14-18-36 0-4-32-64-4-4-8-18-4-4-28-50-30-46-44-60-70-82-56-56-40-36-52-42-44-32-58-38-44-24-4-4-74-38-4 0-22-12-18-6-24-12-46-16-6-4-22-6-6-4-30-10-6 0-26-10-6 0-22-8-14-2-8-4-14-2-26-8-8 0-18-6-28-4-2-2-18-2-12-4-10 0-12-4-12 0-2-2-10 0-14-4-44-4-2-2-14 0-2-2-36-2-2-2-22 0-2-2-24 0-2-2-84-2-2-2-162 2-2 2-62 2-2 2-22 0-2 2-20 0-2 2-56 4-2 2-14 0-2 2-14 0-2 2-40 4-2 2-26 2-2 2-34 4-2 2-22 2-2 2-18 2-2 2-10 0-2 2-28 4-2 2-28 4-10 4-18 2-10 4-8 0-18 6-8 0-34 10-38 8-8 4-22 4-22 8-34 8-14 6-6 0-116 38-6 4-48 16-16 8-10 2-30 14-14 4-24 12-4 0-66 32-4 0-86 44-4 4-18 8-42 26-10 4-10 8-54 32-76 54-58 50-6 8-34 32-18 22-10 8-6 10-14 14-34 42 0 4-8 8-16 22 0 4-14 16 0 4-20 28 0 4-8 6-2 10-6 6 0 4-12 16-2 8-6 6-2 10-10 12-4 14-16 30-2 6 2 2-8 10-2 6 2 2-6 10 0 4-6 6 0 4-4 6-2 6 2 4-4 6-8 24 2 4-4 12-6 8-4 12 2 4-6 10 2 4-4 4-4 14 2 2 0 6-8 28 2 2-4 8 2 2-4 8 2 2-4 8 2 4-4 8 2 4-4 8 2 6-4 8 2 2 0 6-4 8 2 2 0 6-4 8 2 2 0 12-4 8 2 2 0 16 2 2-6 10 4 8-2 6 0 78 4 8-2 30 4 8-2 16 4 8-2 12 4 8-2 10 4 8-2 4 4 12-2 6 4 8-2 6 2 2 2 22 2 2 2 20 2 2 0 12-2 2 6 10 0 6-2 2 4 8-2 2 4 10 0 6 8 14 0 8-2 2 4 10 2 14 4 8 2 14 20 60 0 6-2 2 10 30 4 6 4 16 4 6 2 10 8 16 2 10 6 10 2 18 6 6-2 2 2 6 28 58 0 4 4 6-2 4 2 6 12 24 8 6 2 12 16 28-2 4 2 6 8 6-2 2 2 6 6 6 2 8 32 50 2 12 46 68 6 6-2 2 2 6 46 60 18 20 4 12 10 6 2 8 14 10 2 8 8 8 4 0 6 6 2 8 22 22 6 2 18 18-2 4 2 6 14 14 8 2 14 14 0 4 10 10 8 2 2 6 10 10 4 0 12 14 48 38 8 12 8 6 4 0 6 8 94 66 54 32 8 10 6 2 2-2 8 4 8 6 4 6 12 2 6 8 6 2 4-2 4 4 18 8 6 8 28 14 6 2 4-2 16 8 8 8 6 2 4-2 12 10 6 2 2-2 6 6 6 2 2-2 6 6 6 2 6-2 20 10 20 6 8 8 6 2 6-2 12 4 6 4 14 4 6 6 12 4 6-2 6 6 6 2 2-2 6 0 20 8 6 0 14 6 42 10 8 4 38 8 2 2 2-2 6 0 4 4 14 4 2-2 8 4 2-2 6 0 10 6 2-2 18 6 2-2 10 0 2 2 20 2 2 2 4-2 8 4 4-2 8 4 4-2 8 4 6-2 10 4 4-2 8 4 8-2 8 4 2-2 6 0 8 4 2-2 8 0 8 4 2-2 8 0 8 4 2-2 12 0 8 4 2-2 18-2 8 4 24-2 8 4 10 0 2-2 34 0 14 4z" fill="#fbd32e"/><path d="M2031 4333l2-2 76 0 2-2 12 0 2-2 72-2 14-4 12 2 10-4 8 0 2 2 8-4 18 0 2-2 14 0 2-2 42-4 8-4 6 2 8-4 44-6 2-2 8 0 12-4 8 0 8-4 2 2 8-4 2 2 8-4 64-14 14-6 6 0 36-12 6 0 14-6 6 0 24-10 74-24 66-28 4 0 10-6 4 0 66-32 4 0 120-64 96-60 104-76 60-50 44-40 88-90 46-54 46-60 34-50 2-6 12-16 24-40 58-116 0-4 18-40 4-16 4-6 16-48 0-6 6-14 2-14 4-8 6-30 2-2 2-16 2-2 2-18 2-2 2-18 2-2 0-10 4-12 2-22 2-2 4-40 2-2 4-54 2-2 0-24 2-2 0-32 2-2 0-136-2-2 0-32-2-2 0-24-2-2-2-38-2-2 0-14-2-2 0-14-2-2 0-12-4-14-2-24-4-12 0-10-2-2-2-18-2-2-2-18-4-10 0-8-8-26-6-30-8-22-4-20-8-20 0-6-10-30-4-6-6-22-4-6-2-10-4-6-10-30-6-10-4-14-18-36 0-4-32-64-4-4-8-18-4-4-28-50-30-46-44-60-70-82-56-56-40-36-52-42-44-32-58-38-44-24-4-4-74-38-4 0-22-12-18-6-24-12-46-16-6-4-22-6-6-4-30-10-6 0-26-10-6 0-22-8-14-2-8-4-14-2-26-8-8 0-18-6-28-4-2-2-18-2-12-4-10 0-12-4-12 0-2-2-10 0-14-4-44-4-2-2-14 0-2-2-36-2-2-2-22 0-2-2-24 0-2-2-84-2-2-2-162 2-2 2-62 2-2 2-22 0-2 2-20 0-2 2-56 4-2 2-14 0-2 2-14 0-2 2-40 4-2 2-26 2-2 2-34 4-2 2-22 2-2 2-18 2-2 2-10 0-2 2-28 4-2 2-28 4-10 4-18 2-10 4-8 0-18 6-8 0-34 10-38 8-8 4-22 4-22 8-34 8-14 6-6 0-116 38-6 4-48 16-16 8-10 2-30 14-14 4-24 12-4 0-66 32-4 0-86 44-4 4-18 8-42 26-10 4-10 8-54 32-76 54-58 50-6 8-34 32-18 22-10 8-6 10-14 14-34 42 0 4-8 8-16 22 0 4-14 16 0 4-20 28 0 4-8 6-2 10-6 6 0 4-12 16-2 8-6 6-2 10-10 12-4 14-16 30-2 6 2 2-8 10-2 6 2 2-6 10 0 4-6 6 0 4-4 6-2 6 2 4-4 6-8 24 2 4-4 12-6 8-4 12 2 4-6 10 2 4-4 4-4 14 2 2 0 6-8 28 2 2-4 8 2 2-4 8 2 2-4 8 2 4-4 8 2 4-4 8 2 6-4 8 2 2 0 6-4 8 2 2 0 6-4 8 2 2 0 12-4 8 2 2 0 16 2 2-6 10 4 8-2 6 0 78 4 8-2 30 4 8-2 16 4 8-2 12 4 8-2 10 4 8-2 4 4 12-2 6 4 8-2 6 2 2 2 22 2 2 2 20 2 2 0 12-2 2 6 10 0 6-2 2 4 8-2 2 4 10 0 6 8 14 0 8-2 2 4 10 2 14 4 8 2 14 20 60 0 6-2 2 10 30 4 6 4 16 4 6 2 10 8 16 2 10 6 10 2 18 6 6-2 2 2 6 28 58 0 4 4 6-2 4 2 6 12 24 8 6 2 12 16 28-2 4 2 6 8 6-2 2 2 6 6 6 2 8 32 50 2 12 46 68 6 6-2 2 2 6 46 60 18 20 4 12 10 6 2 8 14 10 2 8 8 8 4 0 6 6 2 8 22 22 6 2 18 18-2 4 2 6 14 14 8 2 14 14 0 4 10 10 8 2 2 6 10 10 4 0 12 14 48 38 8 12 8 6 4 0 6 8 94 66 54 32 8 10 6 2 2-2 8 4 8 6 4 6 12 2 6 8 6 2 4-2 4 4 18 8 6 8 28 14 6 2 4-2 16 8 8 8 6 2 4-2 12 10 6 2 2-2 6 6 6 2 2-2 6 6 6 2 6-2 20 10 20 6 8 8 6 2 6-2 12 4 6 4 14 4 6 6 12 4 6-2 6 6 6 2 2-2 6 0 20 8 6 0 14 6 42 10 8 4 38 8 2 2 2-2 6 0 4 4 14 4 2-2 8 4 2-2 6 0 10 6 2-2 18 6 2-2 10 0 2 2 20 2 2 2 4-2 8 4 4-2 8 4 4-2 8 4 6-2 10 4 4-2 8 4 8-2 8 4 2-2 6 0 8 4 2-2 8 0 8 4 2-2 8 0 8 4 2-2 12 0 8 4 2-2 18-2 8 4 24-2 8 4 10 0 2-2 34 0 14 4z" fill="#fdce31"/><path d="M2031 4333l2-2 76 0 2-2 12 0 2-2 72-2 14-4 12 2 10-4 8 0 2 2 8-4 18 0 2-2 14 0 2-2 42-4 8-4 6 2 8-4 44-6 2-2 8 0 12-4 8 0 8-4 2 2 8-4 2 2 8-4 64-14 14-6 6 0 36-12 6 0 14-6 6 0 24-10 74-24 66-28 4 0 10-6 4 0 66-32 4 0 120-64 96-60 104-76 60-50 44-40 88-90 46-54 46-60 34-50 2-6 12-16 24-40 58-116 0-4 18-40 4-16 4-6 16-48 0-6 6-14 2-14 4-8 6-30 2-2 2-16 2-2 2-18 2-2 2-18 2-2 0-10 4-12 2-22 2-2 4-40 2-2 4-54 2-2 0-24 2-2 0-32 2-2 0-136-2-2 0-32-2-2 0-24-2-2-2-38-2-2 0-14-2-2 0-14-2-2 0-12-4-14-2-24-4-12 0-10-2-2-2-18-2-2-2-18-4-10 0-8-8-26-6-30-8-22-4-20-8-20 0-6-10-30-4-6-6-22-4-6-2-10-4-6-10-30-6-10-4-14-18-36 0-4-32-64-4-4-8-18-4-4-28-50-30-46-44-60-70-82-56-56-40-36-52-42-44-32-58-38-44-24-4-4-74-38-4 0-22-12-18-6-24-12-46-16-6-4-22-6-6-4-30-10-6 0-26-10-6 0-22-8-14-2-8-4-14-2-26-8-8 0-18-6-28-4-2-2-18-2-12-4-10 0-12-4-12 0-2-2-10 0-14-4-44-4-2-2-14 0-2-2-36-2-2-2-22 0-2-2-24 0-2-2-84-2-2-2-162 2-2 2-62 2-2 2-22 0-2 2-20 0-2 2-56 4-2 2-14 0-2 2-14 0-2 2-40 4-2 2-26 2-2 2-34 4-2 2-22 2-2 2-18 2-2 2-10 0-2 2-28 4-2 2-28 4-10 4-18 2-10 4-8 0-18 6-8 0-34 10-38 8-8 4-22 4-22 8-34 8-14 6-6 0-116 38-6 4-48 16-16 8-10 2-30 14-14 4-24 12-4 0-66 32-4 0-86 44-4 4-18 8-42 26-10 4-10 8-54 32-76 54-58 50-6 8-34 32-18 22-10 8-6 10-14 14-34 42 0 4-8 8-16 22 0 4-14 16 0 4-20 28 0 4-8 6-2 10-6 6 0 4-12 16-2 8-6 6-2 10-10 12-4 14-16 30-2 6 2 2-8 10-2 6 2 2-6 10 0 4-6 6 0 4-4 6-2 6 2 4-4 6-8 24 2 4-4 12-6 8-4 12 2 4-6 10 2 4-4 4-4 14 2 2 0 6-8 28 2 2-4 8 2 2-4 8 2 2-4 8 2 4-4 8 2 4-4 8 2 6-4 8 2 2 0 6-4 8 2 2 0 6-4 8 2 2 0 12-4 8 2 2 0 16 2 2-6 10 4 8-2 6 0 78 4 8-2 30 4 8-2 16 4 8-2 12 4 8-2 10 4 8-2 4 4 12-2 6 4 8-2 6 2 2 2 22 2 2 2 20 2 2 0 12-2 2 6 10 0 6-2 2 4 8-2 2 4 10 0 6 8 14 0 8-2 2 4 10 2 14 4 8 2 14 20 60 0 6-2 2 10 30 4 6 4 16 4 6 2 10 8 16 2 10 6 10 2 18 6 6-2 2 2 6 28 58 0 4 4 6-2 4 2 6 12 24 8 6 2 12 16 28-2 4 2 6 8 6-2 2 2 6 6 6 2 8 32 50 2 12 46 68 6 6-2 2 2 6 46 60 18 20 4 12 10 6 2 8 14 10 2 8 8 8 4 0 6 6 2 8 22 22 6 2 18 18-2 4 2 6 14 14 8 2 14 14 0 4 10 10 8 2 2 6 10 10 4 0 12 14 48 38 8 12 8 6 4 0 6 8 94 66 54 32 8 10 6 2 2-2 8 4 8 6 4 6 12 2 6 8 6 2 4-2 4 4 18 8 6 8 28 14 6 2 4-2 16 8 8 8 6 2 4-2 12 10 6 2 2-2 6 6 6 2 2-2 6 6 6 2 6-2 20 10 20 6 8 8 6 2 6-2 12 4 6 4 14 4 6 6 12 4 6-2 6 6 6 2 2-2 6 0 20 8 6 0 14 6 42 10 8 4 38 8 2 2 2-2 6 0 4 4 14 4 2-2 8 4 2-2 6 0 10 6 2-2 18 6 2-2 10 0 2 2 20 2 2 2 4-2 8 4 4-2 8 4 4-2 8 4 6-2 10 4 4-2 8 4 8-2 8 4 2-2 6 0 8 4 2-2 8 0 8 4 2-2 8 0 8 4 2-2 12 0 8 4 2-2 18-2 8 4 24-2 8 4 10 0 2-2 34 0 14 4z" fill="#fec834"/><path d="M2031 4333l2-2 76 0 2-2 12 0 2-2 72-2 14-4 12 2 10-4 8 0 2 2 8-4 18 0 2-2 14 0 2-2 42-4 8-4 6 2 8-4 44-6 2-2 8 0 12-4 8 0 8-4 2 2 8-4 2 2 8-4 64-14 14-6 6 0 36-12 6 0 14-6 6 0 24-10 74-24 66-28 4 0 10-6 4 0 66-32 4 0 120-64 96-60 104-76 60-50 44-40 88-90 46-54 46-60 34-50 2-6 12-16 24-40 58-116 0-4 18-40 4-16 4-6 16-48 0-6 6-14 2-14 4-8 6-30 2-2 2-16 2-2 2-18 2-2 2-18 2-2 0-10 4-12 2-22 2-2 4-40 2-2 4-54 2-2 0-24 2-2 0-32 2-2 0-136-2-2 0-32-2-2 0-24-2-2-2-38-2-2 0-14-2-2 0-14-2-2 0-12-4-14-2-24-4-12 0-10-2-2-2-18-2-2-2-18-4-10 0-8-8-26-6-30-8-22-4-20-8-20 0-6-10-30-4-6-6-22-4-6-2-10-4-6-10-30-6-10-4-14-18-36 0-4-32-64-4-4-8-18-4-4-28-50-30-46-44-60-70-82-56-56-40-36-52-42-44-32-58-38-44-24-4-4-74-38-4 0-22-12-18-6-24-12-46-16-6-4-22-6-6-4-30-10-6 0-26-10-6 0-22-8-14-2-8-4-14-2-26-8-8 0-18-6-28-4-2-2-18-2-12-4-10 0-12-4-12 0-2-2-10 0-14-4-44-4-2-2-14 0-2-2-36-2-2-2-22 0-2-2-24 0-2-2-84-2-2-2-162 2-2 2-62 2-2 2-22 0-2 2-20 0-2 2-56 4-2 2-14 0-2 2-14 0-2 2-40 4-2 2-26 2-2 2-34 4-2 2-22 2-2 2-18 2-2 2-10 0-2 2-28 4-2 2-28 4-10 4-18 2-10 4-8 0-18 6-8 0-34 10-38 8-8 4-22 4-22 8-34 8-14 6-6 0-116 38-6 4-48 16-16 8-10 2-30 14-14 4-24 12-4 0-66 32-4 0-86 44-4 4-18 8-42 26-10 4-10 8-54 32-76 54-58 50-6 8-34 32-18 22-10 8-6 10-14 14-34 42 0 4-8 8-16 22 0 4-14 16 0 4-20 28 0 4-8 6-2 10-6 6 0 4-12 16-2 8-6 6-2 10-10 12-4 14-16 30-2 6 2 2-8 10-2 6 2 2-6 10 0 4-6 6 0 4-4 6-2 6 2 4-4 6-8 24 2 4-4 12-6 8-4 12 2 4-6 10 2 4-4 4-4 14 2 2 0 6-8 28 2 2-4 8 2 2-4 8 2 2-4 8 2 4-4 8 2 4-4 8 2 6-4 8 2 2 0 6-4 8 2 2 0 6-4 8 2 2 0 12-4 8 2 2 0 16 2 2-6 10 4 8-2 6 0 78 4 8-2 30 4 8-2 16 4 8-2 12 4 8-2 10 4 8-2 4 4 12-2 6 4 8-2 6 2 2 2 22 2 2 2 20 2 2 0 12-2 2 6 10 0 6-2 2 4 8-2 2 4 10 0 6 8 14 0 8-2 2 4 10 2 14 4 8 2 14 20 60 0 6-2 2 10 30 4 6 4 16 4 6 2 10 8 16 2 10 6 10 2 18 6 6-2 2 2 6 28 58 0 4 4 6-2 4 2 6 12 24 8 6 2 12 16 28-2 4 2 6 8 6-2 2 2 6 6 6 2 8 32 50 2 12 46 68 6 6-2 2 2 6 46 60 18 20 4 12 10 6 2 8 14 10 2 8 8 8 4 0 6 6 2 8 22 22 6 2 18 18-2 4 2 6 14 14 8 2 14 14 0 4 10 10 8 2 2 6 10 10 4 0 12 14 48 38 8 12 8 6 4 0 6 8 94 66 54 32 8 10 6 2 2-2 8 4 8 6 4 6 12 2 6 8 6 2 4-2 4 4 18 8 6 8 28 14 6 2 4-2 16 8 8 8 6 2 4-2 12 10 6 2 2-2 6 6 6 2 2-2 6 6 6 2 6-2 20 10 20 6 8 8 6 2 6-2 12 4 6 4 14 4 6 6 12 4 6-2 6 6 6 2 2-2 6 0 20 8 6 0 14 6 42 10 8 4 38 8 2 2 2-2 6 0 4 4 14 4 2-2 8 4 2-2 6 0 10 6 2-2 18 6 2-2 10 0 2 2 20 2 2 2 4-2 8 4 4-2 8 4 4-2 8 4 6-2 10 4 4-2 8 4 8-2 8 4 2-2 6 0 8 4 2-2 8 0 8 4 2-2 8 0 8 4 2-2 12 0 8 4 2-2 18-2 8 4 24-2 8 4 10 0 2-2 34 0 14 4z" fill="#fec338"/><path d="M2031 4333l2-2 76 0 2-2 12 0 2-2 72-2 14-4 12 2 10-4 8 0 2 2 8-4 18 0 2-2 14 0 2-2 42-4 8-4 6 2 8-4 44-6 2-2 8 0 12-4 8 0 8-4 2 2 8-4 2 2 8-4 64-14 14-6 6 0 36-12 6 0 14-6 6 0 24-10 74-24 66-28 4 0 10-6 4 0 66-32 4 0 120-64 96-60 104-76 60-50 44-40 88-90 46-54 46-60 34-50 2-6 12-16 24-40 58-116 0-4 18-40 4-16 4-6 16-48 0-6 6-14 2-14 4-8 6-30 2-2 2-16 2-2 2-18 2-2 2-18 2-2 0-10 4-12 2-22 2-2 4-40 2-2 4-54 2-2 0-24 2-2 0-32 2-2 0-136-2-2 0-32-2-2 0-24-2-2-2-38-2-2 0-14-2-2 0-14-2-2 0-12-4-14-2-24-4-12 0-10-2-2-2-18-2-2-2-18-4-10 0-8-8-26-6-30-8-22-4-20-8-20 0-6-10-30-4-6-6-22-4-6-2-10-4-6-10-30-6-10-4-14-18-36 0-4-32-64-4-4-8-18-4-4-28-50-30-46-44-60-70-82-56-56-40-36-52-42-44-32-58-38-44-24-4-4-74-38-4 0-22-12-18-6-24-12-46-16-6-4-22-6-6-4-30-10-6 0-26-10-6 0-22-8-14-2-8-4-14-2-26-8-8 0-18-6-28-4-2-2-18-2-12-4-10 0-12-4-12 0-2-2-10 0-14-4-44-4-2-2-14 0-2-2-36-2-2-2-22 0-2-2-24 0-2-2-84-2-2-2-162 2-2 2-62 2-2 2-22 0-2 2-20 0-2 2-56 4-2 2-14 0-2 2-14 0-2 2-40 4-2 2-26 2-2 2-34 4-2 2-22 2-2 2-18 2-2 2-10 0-2 2-28 4-2 2-28 4-10 4-18 2-10 4-8 0-18 6-8 0-34 10-38 8-8 4-22 4-22 8-34 8-14 6-6 0-116 38-6 4-48 16-16 8-10 2-30 14-14 4-24 12-4 0-66 32-4 0-86 44-4 4-18 8-42 26-10 4-10 8-54 32-76 54-58 50-6 8-34 32-18 22-10 8-6 10-14 14-34 42 0 4-8 8-16 22 0 4-14 16 0 4-20 28 0 4-8 6-2 10-6 6 0 4-12 16-2 8-6 6-2 10-10 12-4 14-16 30-2 6 2 2-8 10-2 6 2 2-6 10 0 4-6 6 0 4-4 6-2 6 2 4-4 6-8 24 2 4-4 12-6 8-4 12 2 4-6 10 2 4-4 4-4 14 2 2 0 6-8 28 2 2-4 8 2 2-4 8 2 2-4 8 2 4-4 8 2 4-4 8 2 6-4 8 2 2 0 6-4 8 2 2 0 6-4 8 2 2 0 12-4 8 2 2 0 16 2 2-6 10 4 8-2 6 0 78 4 8-2 30 4 8-2 16 4 8-2 12 4 8-2 10 4 8-2 4 4 12-2 6 4 8-2 6 2 2 2 22 2 2 2 20 2 2 0 12-2 2 6 10 0 6-2 2 4 8-2 2 4 10 0 6 8 14 0 8-2 2 4 10 2 14 4 8 2 14 20 60 0 6-2 2 10 30 4 6 4 16 4 6 2 10 8 16 2 10 6 10 2 18 6 6-2 2 2 6 28 58 0 4 4 6-2 4 2 6 12 24 8 6 2 12 16 28-2 4 2 6 8 6-2 2 2 6 6 6 2 8 32 50 2 12 46 68 6 6-2 2 2 6 46 60 18 20 4 12 10 6 2 8 14 10 2 8 8 8 4 0 6 6 2 8 22 22 6 2 18 18-2 4 2 6 14 14 8 2 14 14 0 4 10 10 8 2 2 6 10 10 4 0 12 14 48 38 8 12 8 6 4 0 6 8 94 66 54 32 8 10 6 2 2-2 8 4 8 6 4 6 12 2 6 8 6 2 4-2 4 4 18 8 6 8 28 14 6 2 4-2 16 8 8 8 6 2 4-2 12 10 6 2 2-2 6 6 6 2 2-2 6 6 6 2 6-2 20 10 20 6 8 8 6 2 6-2 12 4 6 4 14 4 6 6 12 4 6-2 6 6 6 2 2-2 6 0 20 8 6 0 14 6 42 10 8 4 38 8 2 2 2-2 6 0 4 4 14 4 2-2 8 4 2-2 6 0 10 6 2-2 18 6 2-2 10 0 2 2 20 2 2 2 4-2 8 4 4-2 8 4 4-2 8 4 6-2 10 4 4-2 8 4 8-2 8 4 2-2 6 0 8 4 2-2 8 0 8 4 2-2 8 0 8 4 2-2 12 0 8 4 2-2 18-2 8 4 24-2 8 4 10 0 2-2 34 0 14 4z" fill="#febe3c"/><path d="M2031 4333l2-2 76 0 2-2 12 0 2-2 72-2 14-4 12 2 10-4 8 0 2 2 8-4 18 0 2-2 14 0 2-2 42-4 8-4 6 2 8-4 44-6 2-2 8 0 12-4 8 0 8-4 2 2 8-4 2 2 8-4 64-14 14-6 6 0 36-12 6 0 14-6 6 0 24-10 74-24 66-28 4 0 10-6 4 0 66-32 4 0 120-64 96-60 104-76 60-50 44-40 88-90 46-54 46-60 34-50 2-6 12-16 24-40 58-116 0-4 18-40 4-16 4-6 16-48 0-6 6-14 2-14 4-8 6-30 2-2 2-16 2-2 2-18 2-2 2-18 2-2 0-10 4-12 2-22 2-2 4-40 2-2 4-54 2-2 0-24 2-2 0-32 2-2 0-136-2-2 0-32-2-2 0-24-2-2-2-38-2-2 0-14-2-2 0-14-2-2 0-12-4-14-2-24-4-12 0-10-2-2-2-18-2-2-2-18-4-10 0-8-8-26-6-30-8-22-4-20-8-20 0-6-10-30-4-6-6-22-4-6-2-10-4-6-10-30-6-10-4-14-18-36 0-4-32-64-4-4-8-18-4-4-28-50-30-46-44-60-70-82-56-56-40-36-52-42-44-32-58-38-44-24-4-4-74-38-4 0-22-12-18-6-24-12-46-16-6-4-22-6-6-4-30-10-6 0-26-10-6 0-22-8-14-2-8-4-14-2-26-8-8 0-18-6-28-4-2-2-18-2-12-4-10 0-12-4-12 0-2-2-10 0-14-4-44-4-2-2-14 0-2-2-36-2-2-2-22 0-2-2-24 0-2-2-84-2-2-2-162 2-2 2-62 2-2 2-22 0-2 2-20 0-2 2-56 4-2 2-14 0-2 2-14 0-2 2-40 4-2 2-26 2-2 2-34 4-2 2-22 2-2 2-18 2-2 2-10 0-2 2-28 4-2 2-28 4-10 4-18 2-10 4-8 0-18 6-8 0-34 10-38 8-8 4-22 4-22 8-34 8-14 6-6 0-116 38-6 4-48 16-16 8-10 2-30 14-14 4-24 12-4 0-66 32-4 0-86 44-4 4-18 8-42 26-10 4-10 8-54 32-76 54-58 50-6 8-34 32-18 22-10 8-6 10-14 14-34 42 0 4-8 8-16 22 0 4-14 16 0 4-20 28 0 4-8 6-2 10-6 6 0 4-12 16-2 8-6 6-2 10-10 12-4 14-16 30-2 6 2 2-8 10-2 6 2 2-6 10 0 4-6 6 0 4-4 6-2 6 2 4-4 6-8 24 2 4-4 12-6 8-4 12 2 4-6 10 2 4-4 4-4 14 2 2 0 6-8 28 2 2-4 8 2 2-4 8 2 2-4 8 2 4-4 8 2 4-4 8 2 6-4 8 2 2 0 6-4 8 2 2 0 6-4 8 2 2 0 12-4 8 2 2 0 16 2 2-6 10 4 8-2 6 0 78 4 8-2 30 4 8-2 16 4 8-2 12 4 8-2 10 4 8-2 4 4 12-2 6 4 8-2 6 2 2 2 22 2 2 2 20 2 2 0 12-2 2 6 10 0 6-2 2 4 8-2 2 4 10 0 6 8 14 0 8-2 2 4 10 2 14 4 8 2 14 20 60 0 6-2 2 10 30 4 6 4 16 4 6 2 10 8 16 2 10 6 10 2 18 6 6-2 2 2 6 28 58 0 4 4 6-2 4 2 6 12 24 8 6 2 12 16 28-2 4 2 6 8 6-2 2 2 6 6 6 2 8 32 50 2 12 46 68 6 6-2 2 2 6 46 60 18 20 4 12 10 6 2 8 14 10 2 8 8 8 4 0 6 6 2 8 22 22 6 2 18 18-2 4 2 6 14 14 8 2 14 14 0 4 10 10 8 2 2 6 10 10 4 0 12 14 48 38 8 12 8 6 4 0 6 8 94 66 54 32 8 10 6 2 2-2 8 4 8 6 4 6 12 2 6 8 6 2 4-2 4 4 18 8 6 8 28 14 6 2 4-2 16 8 8 8 6 2 4-2 12 10 6 2 2-2 6 6 6 2 2-2 6 6 6 2 6-2 20 10 20 6 8 8 6 2 6-2 12 4 6 4 14 4 6 6 12 4 6-2 6 6 6 2 2-2 6 0 20 8 6 0 14 6 42 10 8 4 38 8 2 2 2-2 6 0 4 4 14 4 2-2 8 4 2-2 6 0 10 6 2-2 18 6 2-2 10 0 2 2 20 2 2 2 4-2 8 4 4-2 8 4 4-2 8 4 6-2 10 4 4-2 8 4 8-2 8 4 2-2 6 0 8 4 2-2 8 0 8 4 2-2 8 0 8 4 2-2 12 0 8 4 2-2 18-2 8 4 24-2 8 4 10 0 2-2 34 0 14 4z" fill="#f9bb3d"/><path d="M2031 4333l2-2 76 0 2-2 12 0 2-2 72-2 14-4 12 2 10-4 8 0 2 2 8-4 18 0 2-2 14 0 2-2 42-4 8-4 6 2 8-4 44-6 2-2 8 0 12-4 8 0 8-4 2 2 8-4 2 2 8-4 64-14 14-6 6 0 36-12 6 0 14-6 6 0 24-10 74-24 66-28 4 0 10-6 4 0 66-32 4 0 120-64 96-60 104-76 60-50 44-40 88-90 46-54 46-60 34-50 2-6 12-16 24-40 58-116 0-4 18-40 4-16 4-6 16-48 0-6 6-14 2-14 4-8 6-30 2-2 2-16 2-2 2-18 2-2 2-18 2-2 0-10 4-12 2-22 2-2 4-40 2-2 4-54 2-2 0-24 2-2 0-32 2-2 0-136-2-2 0-32-2-2 0-24-2-2-2-38-2-2 0-14-2-2 0-14-2-2 0-12-4-14-2-24-4-12 0-10-2-2-2-18-2-2-2-18-4-10 0-8-8-26-6-30-8-22-4-20-8-20 0-6-10-30-4-6-6-22-4-6-2-10-4-6-10-30-6-10-4-14-18-36 0-4-32-64-4-4-8-18-4-4-28-50-30-46-44-60-70-82-56-56-40-36-52-42-44-32-58-38-44-24-4-4-74-38-4 0-22-12-18-6-24-12-46-16-6-4-22-6-6-4-30-10-6 0-26-10-6 0-22-8-14-2-8-4-14-2-26-8-8 0-18-6-28-4-2-2-18-2-12-4-10 0-12-4-12 0-2-2-10 0-14-4-44-4-2-2-14 0-2-2-36-2-2-2-22 0-2-2-24 0-2-2-84-2-2-2-162 2-2 2-62 2-2 2-22 0-2 2-20 0-2 2-56 4-2 2-14 0-2 2-14 0-2 2-40 4-2 2-26 2-2 2-34 4-2 2-22 2-2 2-18 2-2 2-10 0-2 2-28 4-2 2-28 4-10 4-18 2-10 4-8 0-18 6-8 0-34 10-38 8-8 4-22 4-22 8-34 8-14 6-6 0-116 38-6 4-48 16-16 8-10 2-30 14-14 4-24 12-4 0-66 32-4 0-86 44-4 4-18 8-42 26-10 4-10 8-54 32-76 54-58 50-6 8-34 32-18 22-10 8-6 10-14 14-34 42 0 4-8 8-16 22 0 4-14 16 0 4-20 28 0 4-8 6-2 10-6 6 0 4-12 16-2 8-6 6-2 10-10 12-4 14-16 30-2 6 2 2-8 10-2 6 2 2-6 10 0 4-6 6 0 4-4 6-2 6 2 4-4 6-8 24 2 4-4 12-6 8-4 12 2 4-6 10 2 4-4 4-4 14 2 2 0 6-8 28 2 2-4 8 2 2-4 8 2 2-4 8 2 4-4 8 2 4-4 8 2 6-4 8 2 2 0 6-4 8 2 2 0 6-4 8 2 2 0 12-4 8 2 2 0 16 2 2-6 10 4 8-2 6 0 78 4 8-2 30 4 8-2 16 4 8-2 12 4 8-2 10 4 8-2 4 4 12-2 6 4 8-2 6 2 2 2 22 2 2 2 20 2 2 0 12-2 2 6 10 0 6-2 2 4 8-2 2 4 10 0 6 8 14 0 8-2 2 4 10 2 14 4 8 2 14 20 60 0 6-2 2 10 30 4 6 4 16 4 6 2 10 8 16 2 10 6 10 2 18 6 6-2 2 2 6 28 58 0 4 4 6-2 4 2 6 12 24 8 6 2 12 16 28-2 4 2 6 8 6-2 2 2 6 6 6 2 8 32 50 2 12 46 68 6 6-2 2 2 6 46 60 18 20 4 12 10 6 2 8 14 10 2 8 8 8 4 0 6 6 2 8 22 22 6 2 18 18-2 4 2 6 14 14 8 2 14 14 0 4 10 10 8 2 2 6 10 10 4 0 12 14 48 38 8 12 8 6 4 0 6 8 94 66 54 32 8 10 6 2 2-2 8 4 8 6 4 6 12 2 6 8 6 2 4-2 4 4 18 8 6 8 28 14 6 2 4-2 16 8 8 8 6 2 4-2 12 10 6 2 2-2 6 6 6 2 2-2 6 6 6 2 6-2 20 10 20 6 8 8 6 2 6-2 12 4 6 4 14 4 6 6 12 4 6-2 6 6 6 2 2-2 6 0 20 8 6 0 14 6 42 10 8 4 38 8 2 2 2-2 6 0 4 4 14 4 2-2 8 4 2-2 6 0 10 6 2-2 18 6 2-2 10 0 2 2 20 2 2 2 4-2 8 4 4-2 8 4 4-2 8 4 6-2 10 4 4-2 8 4 8-2 8 4 2-2 6 0 8 4 2-2 8 0 8 4 2-2 8 0 8 4 2-2 12 0 8 4 2-2 18-2 8 4 24-2 8 4 10 0 2-2 34 0 14 4z" fill="#f2ba38"/><path d="M2031 4333l2-2 76 0 2-2 12 0 2-2 72-2 14-4 12 2 10-4 8 0 2 2 8-4 18 0 2-2 14 0 2-2 42-4 8-4 6 2 8-4 44-6 2-2 8 0 12-4 8 0 8-4 2 2 8-4 2 2 8-4 64-14 14-6 6 0 36-12 6 0 14-6 6 0 24-10 74-24 66-28 4 0 10-6 4 0 66-32 4 0 120-64 96-60 104-76 60-50 44-40 88-90 46-54 46-60 34-50 2-6 12-16 24-40 58-116 0-4 18-40 4-16 4-6 16-48 0-6 6-14 2-14 4-8 6-30 2-2 2-16 2-2 2-18 2-2 2-18 2-2 0-10 4-12 2-22 2-2 4-40 2-2 4-54 2-2 0-24 2-2 0-32 2-2 0-136-2-2 0-32-2-2 0-24-2-2-2-38-2-2 0-14-2-2 0-14-2-2 0-12-4-14-2-24-4-12 0-10-2-2-2-18-2-2-2-18-4-10 0-8-8-26-6-30-8-22-4-20-8-20 0-6-10-30-4-6-6-22-4-6-2-10-4-6-10-30-6-10-4-14-18-36 0-4-32-64-4-4-8-18-4-4-28-50-30-46-44-60-70-82-56-56-40-36-52-42-44-32-58-38-44-24-4-4-74-38-4 0-22-12-18-6-24-12-46-16-6-4-22-6-6-4-30-10-6 0-26-10-6 0-22-8-14-2-8-4-14-2-26-8-8 0-18-6-28-4-2-2-18-2-12-4-10 0-12-4-12 0-2-2-10 0-14-4-44-4-2-2-14 0-2-2-36-2-2-2-22 0-2-2-24 0-2-2-84-2-2-2-162 2-2 2-62 2-2 2-22 0-2 2-20 0-2 2-56 4-2 2-14 0-2 2-14 0-2 2-40 4-2 2-26 2-2 2-34 4-2 2-22 2-2 2-18 2-2 2-10 0-2 2-28 4-2 2-28 4-10 4-18 2-10 4-8 0-18 6-8 0-34 10-38 8-8 4-22 4-22 8-34 8-14 6-6 0-116 38-6 4-48 16-16 8-10 2-30 14-14 4-24 12-4 0-66 32-4 0-86 44-4 4-18 8-42 26-10 4-10 8-54 32-76 54-58 50-6 8-34 32-18 22-10 8-6 10-14 14-34 42 0 4-8 8-16 22 0 4-14 16 0 4-20 28 0 4-8 6-2 10-6 6 0 4-12 16-2 8-6 6-2 10-10 12-4 14-16 30-2 6 2 2-8 10-2 6 2 2-6 10 0 4-6 6 0 4-4 6-2 6 2 4-4 6-8 24 2 4-4 12-6 8-4 12 2 4-6 10 2 4-4 4-4 14 2 2 0 6-8 28 2 2-4 8 2 2-4 8 2 2-4 8 2 4-4 8 2 4-4 8 2 6-4 8 2 2 0 6-4 8 2 2 0 6-4 8 2 2 0 12-4 8 2 2 0 16 2 2-6 10 4 8-2 6 0 78 4 8-2 30 4 8-2 16 4 8-2 12 4 8-2 10 4 8-2 4 4 12-2 6 4 8-2 6 2 2 2 22 2 2 2 20 2 2 0 12-2 2 6 10 0 6-2 2 4 8-2 2 4 10 0 6 8 14 0 8-2 2 4 10 2 14 4 8 2 14 20 60 0 6-2 2 10 30 4 6 4 16 4 6 2 10 8 16 2 10 6 10 2 18 6 6-2 2 2 6 28 58 0 4 4 6-2 4 2 6 12 24 8 6 2 12 16 28-2 4 2 6 8 6-2 2 2 6 6 6 2 8 32 50 2 12 46 68 6 6-2 2 2 6 46 60 18 20 4 12 10 6 2 8 14 10 2 8 8 8 4 0 6 6 2 8 22 22 6 2 18 18-2 4 2 6 14 14 8 2 14 14 0 4 10 10 8 2 2 6 10 10 4 0 12 14 48 38 8 12 8 6 4 0 6 8 94 66 54 32 8 10 6 2 2-2 8 4 8 6 4 6 12 2 6 8 6 2 4-2 4 4 18 8 6 8 28 14 6 2 4-2 16 8 8 8 6 2 4-2 12 10 6 2 2-2 6 6 6 2 2-2 6 6 6 2 6-2 20 10 20 6 8 8 6 2 6-2 12 4 6 4 14 4 6 6 12 4 6-2 6 6 6 2 2-2 6 0 20 8 6 0 14 6 42 10 8 4 38 8 2 2 2-2 6 0 4 4 14 4 2-2 8 4 2-2 6 0 10 6 2-2 18 6 2-2 10 0 2 2 20 2 2 2 4-2 8 4 4-2 8 4 4-2 8 4 6-2 10 4 4-2 8 4 8-2 8 4 2-2 6 0 8 4 2-2 8 0 8 4 2-2 8 0 8 4 2-2 12 0 8 4 2-2 18-2 8 4 24-2 8 4 10 0 2-2 34 0 14 4z" fill="#ebba31"/><path d="M2031 4333l2-2 76 0 2-2 12 0 2-2 72-2 14-4 12 2 10-4 8 0 2 2 8-4 18 0 2-2 14 0 2-2 42-4 8-4 6 2 8-4 44-6 2-2 8 0 12-4 8 0 8-4 2 2 8-4 2 2 8-4 64-14 14-6 6 0 36-12 6 0 14-6 6 0 24-10 74-24 66-28 4 0 10-6 4 0 66-32 4 0 120-64 96-60 104-76 60-50 44-40 88-90 46-54 46-60 34-50 2-6 12-16 24-40 58-116 0-4 18-40 4-16 4-6 16-48 0-6 6-14 2-14 4-8 6-30 2-2 2-16 2-2 2-18 2-2 2-18 2-2 0-10 4-12 2-22 2-2 4-40 2-2 4-54 2-2 0-24 2-2 0-32 2-2 0-136-2-2 0-32-2-2 0-24-2-2-2-38-2-2 0-14-2-2 0-14-2-2 0-12-4-14-2-24-4-12 0-10-2-2-2-18-2-2-2-18-4-10 0-8-8-26-6-30-8-22-4-20-8-20 0-6-10-30-4-6-6-22-4-6-2-10-4-6-10-30-6-10-4-14-18-36 0-4-32-64-4-4-8-18-4-4-28-50-30-46-44-60-70-82-56-56-40-36-52-42-44-32-58-38-44-24-4-4-74-38-4 0-22-12-18-6-24-12-46-16-6-4-22-6-6-4-30-10-6 0-26-10-6 0-22-8-14-2-8-4-14-2-26-8-8 0-18-6-28-4-2-2-18-2-12-4-10 0-12-4-12 0-2-2-10 0-14-4-44-4-2-2-14 0-2-2-36-2-2-2-22 0-2-2-24 0-2-2-84-2-2-2-162 2-2 2-62 2-2 2-22 0-2 2-20 0-2 2-56 4-2 2-14 0-2 2-14 0-2 2-40 4-2 2-26 2-2 2-34 4-2 2-22 2-2 2-18 2-2 2-10 0-2 2-28 4-2 2-28 4-10 4-18 2-10 4-8 0-18 6-8 0-34 10-38 8-8 4-22 4-22 8-34 8-14 6-6 0-116 38-6 4-48 16-16 8-10 2-30 14-14 4-24 12-4 0-66 32-4 0-86 44-4 4-18 8-42 26-10 4-10 8-54 32-28 20 4 6 0 4-8-8-36 26-6 6 4 6 0 4-8-8-56 48-6 8-34 32-18 22-10 8-6 10-14 14-34 42 0 4-8 8-16 22 0 4-14 16 0 4-20 28 0 4-8 6-2 10-6 6 0 4-12 16-2 8-6 6-2 10-10 12-4 14-16 30-2 6 2 2-8 10-2 6 2 2-6 10 0 4-6 6 0 4-4 6-2 6 2 4-4 6-8 24 2 4-4 12-6 8-4 12 2 4-6 10 2 4-4 4-4 14 2 2 0 6-8 28 2 2-4 8 2 2-4 8 2 2-4 8 2 4-4 8 2 4-4 8 2 6-4 8 2 2 0 6-4 8 2 2 0 6-4 8 2 2 0 12-4 8 2 2 0 16 2 2-6 10 4 8-2 6 0 78 4 8-2 30 4 8-2 16 4 8-2 12 4 8-2 10 4 8-2 4 4 12-2 6 4 8-2 6 2 2 2 22 2 2 2 20 2 2 0 12-2 2 6 10 0 6-2 2 4 8-2 2 4 10 0 6 8 14 0 8-2 2 4 10 2 14 4 8 2 14 20 60 0 6-2 2 10 30 4 6 4 16 4 6 2 10 8 16 2 10 6 10 2 18 6 6-2 2 2 6 28 58 0 4 4 6-2 4 2 6 12 24 8 6 2 12 16 28-2 4 2 6 8 6-2 2 2 6 6 6 2 8 32 50 2 12 46 68 6 6-2 2 2 6 46 60 18 20 4 12 10 6 2 8 14 10 2 8 8 8 4 0 6 6 2 8 24 24 4 0 18 20 10 0 13 12-2 12 15 13 2-2 10 1 7 6-2 12 3 1 2-2 10 0 7 7 1 7 8 0 7 7 1 5 6 0 5 5 1 5 6 0 6 9 4 0 8 8 66 50 90 60 90 52 96 48 84 36 70 26 52 17 2 3 4-1 20 6 2 3 4-1 10 3 0 2 2-1 10 2 2 3 6-1 1 3 3-1 10 2 2 3 6-1 2 3 2-1 6 1 0 2 6-1 2 3 6-1 2 3 6-1 2 5 2-4 22 5 2 3 2-2 24 5 2 3 2-2 18 3 2 4 4-2 16 3 2 3 8-2 2 4 6-2 4 0 2 4 10-2 2 4 4-2 8 1 2 4 10-3 4 6 4-3 6-1 4 8 6-5 4-1 6 10 6-7 4-1 5 11 3 0 6-8 4-1 4 11 4 0 6-8 4-1 5 11 7 0 4-8 6-1 4 11 14-2 8 4 10 0 2-2 12 0 8 4 10 0 2-2 34 0 14 4zM1841 1671l-24 0 24 0zM1921 1671l-10 0 10 0zM1773 1675l-10-2 12 0-2 2zM1735 1677l-3-2 7 0-4 2zM1707 1679l-2 0 0-2 4 0-2 2zM1683 1681l-2 0 0-2 4 0-2 2zM1663 1681l-2 0 2 0zM1643 1683l-2 0 2 0zM1661 1683l-2-2 2 0 0 2zM1625 1685l-2 0 2 0zM1639 1687l0-4 2 0-2 4zM1609 1687l-3 0 3 0zM1623 1687l-2-2 2 0 0 2zM1593 1689l-3 0 3 0zM1605 1689l-2-2 2 0 0 2zM1577 1691l-1 0 1 0zM1587 1693l0-4 2 0-2 4zM1563 1693l-2 0 2 0zM1573 1693l0-2 0 2zM1549 1695l-2 0 2 0zM1557 1697l0-4 2 0-2 4zM1543 1699l0-4 2 0-2 4zM1523 1699l-2 0 2 0zM1533 1699l-2-2 2 0 0 2zM1517 1703l0-4 2 0-2 4zM1505 1705l0-4 2 0-2 4zM1487 1705l-2 0 2 0zM1493 1707l0-4 2 0-2 4zM1481 1709l0-4 2 0-2 4zM1471 1709l0-2 0 2zM1461 1711l-2-2 2 2zM1449 1713l0-2 0 2zM1433 1715l-2 0 2 0zM1439 1715l0-2 0 2zM1423 1717l-2 0 2 0zM1427 1719l0-3 2-1-2 4zM1413 1719l-1 0 1 0zM1417 1721l0-3 2-1-2 4zM1407 1723l0-3 2-1-2 4zM1399 1723l0-2 0 2zM1391 1725l-2-1 2-1 0 2zM1381 1727l-2-1 2 1zM1371 1729l0-2 0 2zM1363 1731l-2-1 2 1zM1349 1733l-1 0 1 0zM1353 1733l0-1 0 1zM1345 1735l0-2 0 2zM1337 1737l-2-1 2-1 0 2zM1329 1739l-2-1 2-1 0 2zM1281 1751l-2-1 2-1 0 2zM1273 1753l0-1 0 1zM1251 1759l0-1 0 1zM1237 1763l-5 0 5-2 0 2zM1223 1767l0-2 0 2zM1201 1773l-3 0 3 0zM1169 1783l-2 0 2 0zM1163 1785l-3 0 3 0zM1155 1789l-1-2 3-1-2 3zM1149 1791l-1-2 3-1-2 3zM1143 1793l-1-2 3-1-2 3zM1139 1793l-2 0 2 0zM1133 1795l-2 0 2 0zM1111 1803l-3 0 3 0zM1105 1805l-2 0 2 0zM1095 1809l-3 0 3 0zM1089 1811l-2 0 2 0zM1087 1813l0-2 0 2zM1079 1815l-2 0 2 0zM1069 1819l-2 0 2 0zM1059 1823l-2 0 2 0zM1049 1827l-2 0 2 0zM1035 1833l-2 0 2 0zM1021 1839l-2 0 2 0zM999 1849l-1 0 1 0zM935 1881l0-2 0 2z" fill="#e2bc2b"/><path d="M2161 4309l110-8 92-11 2 3 0-4 8-1 4 7 1-8 7-1 4 7 1-8 7-1 4 7 1-8 5-1 4 8 2-1 0-8 2-1 3 1 6 10 0-12 1 0 3 0 4 8 2 0 1-10 3 0 4 8 2 0 1-10 3 0 4 8 7 0 26-8 8 0 2-2 22-4 14-6 6 0 8-4 6 0 8-4 6 0 8-4 6 0 14-6 6 0 24-10 58-18 6-4 10-2 66-28 4 0 50-24 4 0 122-62 4-4 10-4 4-4 50-28 56-36 70-50 66-52 72-64 64-64 50-56 42-52 38-52 44-68 20-38 4-4 54-112 0-4 12-26 4-16 4-6 22-68 2-14 4-8 6-30 2-2 0-8 4-10 2-18 2-2 2-18 2-2 0-10 4-12 4-36 2-2 0-12 2-2 0-12 2-2 4-54 2-2 0-24 2-2 0-32 2-2 0-136-2-2 0-32-2-2 0-24-2-2-2-38-2-2 0-14-2-2 0-14-2-2 0-12-4-14 0-12-2-2 0-10-4-12 0-10-2-2-2-18-2-2-2-18-4-10 0-8-8-26-6-30-8-22-4-20-8-20 0-6-10-30-4-6-6-22-4-6-2-10-4-6-10-30-6-10-4-14-18-36 0-4-44-86-42-70-34-50-30-40-50-60-20-22-80-78-84-68-70-48-6-2-30-20-50-26-4-4-74-36-4 0-58-26-54-18-6-4-30-10-6 0-26-10-6 0-8-4-6 0-8-4-14-2-8-4-14-2-26-8-8 0-18-6-28-4-2-2-18-2-12-4-10 0-12-4-36-4-2-2-60-6-2-2-16 0-2-2-18 0-2-2-48-2-2-2-84-2-2-2-108 0-2 2-52 0-2 2-34 0-2 2-26 0-2 2-44 2-2 2-18 0-2 2-18 0-2 2-48 4-2 2-12 0-2 2-12 0-2 2-12 0-2 2-12 0-2 2-12 0-2 2-34 4-2 2-22 2-2 2-18 2-2 2-10 0-2 2-28 4-2 2-28 4-10 4-18 2-36 10-8 0-34 10-38 8-8 4-22 4-22 8-34 8-14 6-6 0-20 8-6 0-90 30-6 4-16 4-48 20-10 2-30 14-14 4-10 6-4 0-10 6-4 0-14 8-4 0-48 24-4 0-86 44-4 4-18 8-42 26-10 4-8 6 7 8-3 4-6 2-1-8-5-2-2 2 8 8-2 2-2-2-2 4-8-8-2 0-2 2 8 8-2 2-2-1-2 3-8-8-1 2 4 6-1 5-2-2-2 3-8-8-1 2 4 6-1 5-8-8-4 1-7 6 4 6-1 5-8-8-1 1 4 6-1 4-8-7-1 1 4 6 0 4-9-7 3 11-9-6 4 6-1 4-3 2-2-2-2 5-4 1-6-6 4 6-1 4-3 2-2-1 0 3-6 4-2-1 0 3-49 40-49 46-68 74-46 56-14 21-7-1 4 4 0 2-9 10-2 5-7-1 4 4-1 3-7-1 4 4 0 2-4 2 0 4-4 2-1 5-3 1 0 4-9 1-2-2 4 7 0 4-4 7-8 0-2-2-1 1 6 6-1 4-8 1-2-2-1 1 6 6-1 6-10-3-1 1 6 6-1 6-12-1-1 3 6 6-1 6-12-2 0 4-6 8 6 6 0 6-2 4-12-2 0 4-16 30-2 6 2 2-8 10-2 6 2 2-6 10 0 4-6 6 0 4-6 12 2 4-4 6-8 24 2 4-4 12-6 8-4 12 2 4-6 10 2 4-4 4-4 14 2 2 0 6-8 28 2 2-4 8 2 2-4 8 2 2-4 8 2 4-4 8 2 4-4 8 2 6-4 8 2 2 0 6-4 8 2 2 0 6-4 8 2 2 0 12-4 8 2 2 0 16 2 2-6 10 4 8-2 6 0 78 4 8-2 30 4 8-2 16 4 8-2 12 4 8-2 10 4 8-2 4 4 12-2 6 4 8-2 6 2 2 2 22 2 2 2 20 2 2 0 12-2 2 6 10 0 6-2 2 4 8-2 2 4 10 0 6 8 14 0 8-2 2 4 10 2 14 4 8 2 14 20 60 0 6-2 2 10 30 4 6 4 16 4 6 2 10 8 16 2 10 6 10 2 8-2 4 2 6 6 6-2 2 8 16 0 4 26 56 10 0 2 2 12 24-6 10 2 4 12 2 2 2 9 18 22 36 1 6 4 4 2 6 7 8 3 8 74 110 48 62 46 54 58 62 54 52 64 56 64 50 68 48 72 46 64 36 78 39 82 37 78 30 86 28 80 21 82 19 82 14 78 10 94 7 84 2 84-1zM965 1865l-4 0 4-4 2 1 59-29 61-26 74-27 80-25 98-26 88-20 86-16 96-14 94-10 92-6 92-3 90 2 72 4 84 8 88 12 74 13 0 2-6 0-12-4-12 2 2-2-2-2-10 2 2-2-2-2-8 0-4 2 2-2-2-2-12 2 2-2-2-2-12 2 2-2-2-2-14 2 2-2-2-2-12 2-2-4-12 2-2-4-16 4 2-4-2-2-16 4 2-2-2-2-16 2 2-2-2-2-12 0-6 2 2-2-2-2-20 2 2-2-2-2-20 2-2-4-10 0-2 2-10 0-4 2 2-4-2-2-28 4 2-2-4-4-6 2-16 0-2 2-10 0-2-4-30 0-2 2-34 2 2-2-2-2-6-2-40 0-2 2-16 0-6 4-60-2-8 6-12-4-16 0-10 6-8-4-12 0-8 6-8-4-8 0-8 6-8-4-6 0-8 6-12-4-10 8-2-4-6-2-8 6-8-4-12 6-4-4-12 8-2-4-6 0-6 4-2-2-6 0-8 6-2-4-4 0-8 6-2-4-4 0-4 4-8-2-8 6-2-4-4 0-6 6-2-4-4 0-6 6-2-4-2 0-8 6-2-4-8 4-6-2-4 4-6-2-6 4-4-2-6 4-4-2-8 6-2-4-8 6-2-4-8 6-2-4-6 4-4-2-4 4-6-2-4 4-4-2-6 4-4-2-4 4-4-2-14 6-4-2-4 4-4-2-4 4-4-2-14 6-2-2-6 4-2-2-6 4-2-2-6 4-2-2-4 4-4-2-4 4-2-2-6 4-2-2-6 4-2-2-4 4-2-2-6 4-2-2-4 4-6 0-2 2-2-2-4 4-2-2-6 4-2-2-4 4-2-2-12 6-2-2-4 4-2-2-4 4-2-2-6 2-6 4-10 2-4 4-2-2-4 4-2-2-4 4-2-2-8 4-6 0-6 2-4 4-2-2-4 4-12 2-12 8-4-2-4 4-6 0-4 4-6 0-4 4-6 0-4 4-10 2-4 4-10 2-4 4-10 2-8 6-8 2-30 16zM2069 1677l-2 0 2 0zM2177 1687l-2 0 2 0zM2305 1703l-6 0 2-3 4 3zM2313 1705l-4 0 2-3 2 3zM2323 1707l-4 0 2-2 2 2zM2331 1709l-2 0 2-2 0 2zM2341 1711l-2 0 0-3 2 3zM2349 1713l-2 0 2-2 0 2zM2367 1717l-2 0 2-2 0 2zM2375 1719l-2 0 2-3 1 1-1 2zM2383 1721l-2 0 2 0zM2431 1731l1 0-1 0zM2453 1737l2 0-2 0zM2483 1745l-2 0 2 0zM957 1869l-3 0 1-3 2 3zM961 1867l-3 0 3-2 0 2zM953 1871l-3 0 1-3 2 3zM949 1873l-2 0 0-2 2 2zM943 1877l-3 0 1-4 2 4zM945 1875l-2 0 2 0z" fill="#d9be28"/><path d="M2115 4297l86-3 90-7 80-10 88-16 96-22 94-28 80-28 80-32 3 0 1 3 0-5 14-6 2 0 4 8 4 0 9-6-2-2 1-8 6-2 2 6 6 2 66-34 4-4 14-6 4-4 10-4 4-4 50-28 56-36 86-62 50-40 72-64 88-90 46-54 46-60 64-98 14-28 4-4 48-98 0-4 18-40 4-16 4-6 16-48 0-6 6-14 2-14 4-8 6-30 2-2 2-16 2-2 2-18 2-2 2-18 2-2 0-10 4-12 2-22 2-2 4-40 2-2 4-54 2-2 0-24 2-2 0-32 2-2 0-136-2-2 0-32-2-2 0-24-2-2-2-38-2-2 0-14-2-2 0-14-2-2 0-12-4-14-2-24-4-12 0-10-2-2-2-18-2-2-2-18-4-10 0-8-8-26-6-30-8-22-4-20-8-20 0-6-10-30-4-6-6-22-4-6-2-10-4-6-10-30-6-10-4-14-18-36 0-4-32-64-4-4-8-18-4-4-28-50-30-46-44-60-70-82-56-56-40-36-52-42-44-32-58-38-44-24-4-4-100-50-4 0-58-26-10-2-6-4-10-2-6-4-22-6-6-4-30-10-6 0-26-10-42-10-8-4-14-2-26-8-8 0-18-6-28-4-2-2-18-2-12-4-10 0-12-4-12 0-2-2-10 0-14-4-12 0-2-2-14 0-2-2-14 0-2-2-14 0-2-2-16 0-2-2-18 0-2-2-48-2-2-2-32 0-2-2-50 0-2-2-162 2-2 2-34 0-2 2-50 2-2 2-20 0-2 2-18 0-2 2-18 0-2 2-48 4-2 2-12 0-2 2-12 0-2 2-12 0-2 2-12 0-2 2-12 0-2 2-34 4-2 2-22 2-2 2-18 2-2 2-10 0-2 2-28 4-2 2-28 4-10 4-36 6-18 6-8 0-34 10-38 8-8 4-22 4-22 8-34 8-136 44-6 4-48 16-16 8-10 2-30 14-14 4-42 20-4 0-108 52-4 4-26 12-4 4-46 24-2 3 7 7 2 0 1-3 3 1 1-4 2 2 2-4 4 1 2-3 2 1 2-3 4 0 0-2 2 1 74-35 93-36 123-38 122-30 122-24 130-18 116-10 144-4 114 4 130 12 118 18 122 26 122 34 110 37 120 50 78 38 2 3-64-32-4 2-2-4-12-6-4 2-2-4-2 2-2-4-4 2-14-8-28-10-20-10-8-2-2 2-2-4-4 2 2-2-2-2-4 2-2-4-4 2 2-2-2-2-4 2-2-4-2 2-8-2-6-4-44-14-24-10-6 2 2-2-2-2-6 2-2-4-4 2-2-4-4 2-2-4-2 2-10-2-34-12-8 2 2-2-2-2-10-2-2 2-2-4-6 2 2-2-2-2-8 2 2-2-2-2-6 2 2-2-2-2-8 2 2-2-2-2-8 2 2-2-2-2-6 2-2-4-6 2-2-4-6 2-26-8-10 2 2-2-2-2-8 2 2-2-2-2-6 0-2-2-10 2 2-2-2-2-8 2-2-4-4 0-4 2 2-2-2-2-10 2 2-2-6-2-6 2 2-2-2-2-10 2 2-2-2-2-4 2-16-2-2-2-12 2 2-2-2-2-10 2 2-2-2-2-12 2 2-2-2-2-6 0-6 2 2-2-2-2-12 2 2-2-2-2-14 2 2-2-2-2-12 2-2-4-4 0-2 2-6 0-2-4-16 4 2-4-2-2-16 4 2-2-2-2-16 2 2-2-2-2-12 0-6 2 2-2-2-2-20 2 2-2-2-2-20 2-2-4-10 0-2 2-10 0-4 2 2-4-2-2-28 4 2-2-4-4-6 2-16 0-2 2-10 0-2-4-30 0-2 2-34 2 2-2-2-2-6-2-40 0-2 2-16 0-6 4-60-2-8 6-12-4-16 0-10 6-8-4-12 0-8 6-8-4-8 0-8 6-8-4-6 0-8 6-12-4-10 8-2-4-4-2-10 6-8-4-12 6-4-4-12 8-2-4-6 0-6 4-2-2-6 0-8 6-2-4-4 0-8 6-2-4-4 0-4 4-8-2-8 6-2-4-4 0-6 6-2-4-4 0-6 6-2-4-2 0-8 6-2-4-2 0-6 4-6-2-4 4-6-2-6 4-4-2-6 4-4-2-8 6-2-4-8 6-2-4-8 6-2-4-6 4-4-2-4 4-6-2-4 4-4-2-6 4-4-2-4 4-4-2-14 6-4-2-4 4-4-2-4 4-4-2-14 6-2-2-6 4-2-2-6 4-2-2-6 4-2-2-4 4-4-2-4 4-2-2-6 4-2-2-6 4-2-2-4 4-2-2-6 4-2-2-4 4-6 0-2 2-2-2-4 4-2-2-6 4-2-2-4 4-2-2-12 6-2-2-4 4-2-2-4 4-2-2-12 6-10 2-4 4-2-2-4 4-2-2-4 4-2-2-8 4-12 2-4 4-2-2-4 4-12 2-12 8-4-2-4 4-6 0-4 4-6 0-4 4-6 0-4 4-6 0-8 6-6 0-8 6-10 2-8 6-8 2-46 25-3-1-2-8-5-2-2 3 9 9-3 3-4-1-12 9-2-2-2 4-2-2-3 5-3-1-2 4-8-8 3 7-1 5-2-2-2 4-8-8 4 7-2 5-10-7 4 6 0 4-8-8-1 2 4 6-1 4-2-1-2 4-4 0 0 3-46 34-40 34-46 44-43 46-55 66-50 70-42 68-38 74-26 60-24 70-19 70-14 80-6 64-2 70 4 90 8 70 16 88 18 74 25 80 29 82 33 76 40 82 38 70 46 74 48 70 56 72 52 60 58 60 53 50 67 57 68 52 64 45 68 42 76 42 74 36 80 34 82 30 82 26 76 20 86 18 86 14 90 10 82 5 84 1zM2069 1677l-2 0 2 0zM2177 1687l-2 0 2 0zM2383 1721l-2 0 2 0zM959 1865l-1-8-5-2-2 2 8 8zM2839 1875l-2 0 2-2 0 2zM2843 1877l-2 0 2-2 0 2zM2847 1879l-2 0 2-2 0 2z" fill="#cfc028"/><path d="M2148 4283l139-8 70-8 74-12 136-30 70-20 66-22 122-48 119-58 109-64 98-68 6 4-1-8 5-3 4 4-1-5 3-4 2-1 8 7-3-12 5-3 8 7 4-4-4-6 0-4 8 6 6-4-4-6 0-4 2-1 8 7 10-8 58-52 64-64 70-80 60-80 44-68 20-38 4-4 54-112 0-4 12-26 4-16 4-6 22-68 2-14 4-8 6-30 2-2 0-8 4-10 2-18 2-2 2-18 2-2 0-10 4-12 4-36 2-2 0-12 2-2 0-12 2-2 4-54 2-2 2-58 2-2 0-136-2-2 0-32-2-2-2-46-2-2 0-16-2-2 0-14-2-2 0-14-2-2 0-12-4-14 0-12-2-2 0-10-4-12 0-10-2-2-2-18-2-2-2-18-4-10 0-8-8-26-6-30-12-36 0-6-8-20 0-6-10-30-4-6-6-22-4-6-16-46-6-10 0-4-12-24 0-4-10-18 0-4-32-64-4-4-8-18-4-4-28-50-30-46-44-60-36-44-34-38-56-56-40-36-52-42-44-32-58-38-44-24-4-4-74-38-4 0-22-12-18-6-24-12-46-16-6-4-22-6-6-4-30-10-6 0-26-10-42-10-8-4-14-2-26-8-8 0-18-6-28-4-2-2-18-2-12-4-10 0-12-4-12 0-2-2-10 0-14-4-44-4-2-2-14 0-2-2-36-2-2-2-48-2-2-2-32 0-2-2-50 0-2-2-108 0-2 2-52 0-2 2-62 2-2 2-22 0-2 2-20 0-2 2-56 4-2 2-14 0-2 2-14 0-2 2-40 4-2 2-26 2-2 2-58 8-2 2-18 2-2 2-10 0-2 2-28 4-2 2-28 4-10 4-18 2-10 4-8 0-18 6-8 0-34 10-38 8-8 4-22 4-22 8-34 8-136 44-6 4-48 16-16 8-10 2-30 14-14 4-42 20-4 0-108 52-4 4-48 24-2 3 7 7 2 0 1-3 3 1 1-3 3 1 1-4 2 2 2-4 2 2 2-4 4 1 96-43 126-44 84-24 73-18 163-32 158-20 146-9 82 0 84 3 140 12 140 22 76 16 72 18 136 42 130 50 130 62 120 68 62 40 56 40 52 40 58 48-4 0-20-18-2 2-66-54-6-4-2 2-4-6-2 2-28-22-50-34-2 2-2-4-2 2-4-2-22-16-6-2-40-26-4-2-2 2-2-4-2 2-8-4-14-10-60-32-4 2 2-2-2-2-4 2 2-2-2-2-4 2 2-2-2-2-4 2-8-6-12-6-4 0-38-20-4 2-2-4-12-6-4 2-2-4-2 2-2-4-4 2-14-8-28-10-20-10-8-2-2 2-2-4-4 2 2-2-2-2-4 2-2-4-4 2 2-2-2-2-4 2-2-4-2 2-8-2-6-4-44-14-24-10-6 2 2-2-2-2-6 2-2-4-4 2-2-4-4 2-2-4-2 2-10-2-34-12-8 2 2-2-2-2-10-2-2 2-2-4-6 2 2-2-2-2-8 2 2-2-2-2-4 2-2 0 2-2-2-2-8 2 2-2-2-2-8 2 2-2-2-2-4 2-2 0-2-4-6 2-2-4-6 2-26-8-10 2 2-2-2-2-8 2 2-2-2-2-6 0-2-2-10 2 2-2-2-2-8 2-2-4-4 0-4 2 2-2-2-2-10 2 2-2-6-2-6 2 2-2-2-2-10 2 2-2-2-2-4 2-16-2-2-2-12 2 2-2-2-2-10 2 2-2-2-2-12 2 2-2-2-2-6 0-6 2 2-2-2-2-12 2 2-2-2-2-14 2 2-2-2-2-12 2-2-4-4 0-2 2-6 0-2-4-16 4 2-4-2-2-16 4 2-2-2-2-16 2 2-2-2-2-12 0-6 2 2-2-2-2-20 2 2-2-2-2-20 2-2-4-10 0-2 2-10 0-4 2 2-4-2-2-28 4 2-2-4-4-6 2-16 0-2 2-10 0-2-4-30 0-2 2-34 2 2-2-2-2-6-2-40 0-2 2-16 0-6 4-60-2-8 6-12-4-16 0-10 6-8-4-12 0-8 6-8-4-8 0-8 6-8-4-6 0-8 6-12-4-10 8-2-4-6-2-8 6-8-4-12 6-4-4-12 8-2-4-6 0-6 4-2-2-6 0-8 6-2-4-4 0-8 6-2-4-4 0-4 4-8-2-8 6-2-4-4 0-6 6-2-4-4 0-6 6-2-4-2 0-8 6-2-4-8 4-6-2-4 4-6-2-6 4-4-2-6 4-4-2-8 6-2-4-8 6-2-4-8 6-2-4-6 4-4-2-4 4-6-2-4 4-4-2-6 4-4-2-4 4-4-2-14 6-4-2-4 4-4-2-4 4-4-2-14 6-2-2-6 4-2-2-6 4-2-2-6 4-2-2-4 4-4-2-4 4-2-2-6 4-2-2-6 4-2-2-4 4-2-2-6 4-2-2-4 4-6 0-2 2-2-2-4 4-2-2-6 4-2-2-4 4-2-2-12 6-2-2-4 4-2-2-4 4-2-2-6 2-6 4-10 2-4 4-2-2-4 4-2-2-4 4-2-2-8 4-6 0-10 6-2-2-4 4-12 2-12 8-4-2-4 4-6 0-4 5-6-1-4 5-6-1-4 5-6 0-8 6-6 0-8 6-10 2-8 6-8 2-48 24-4 4-4 0-12 8-2-2-2 4-2-1-8 7-8-7 4 6-2 6-2-2-2 4-50 36-61 52-67 68-66 80-56 80-50 86-40 86-30 86-22 90-12 84-4 66 0 80 6 78 10 72 16 79 20 77 26 81 30 79 34 77 40 79 42 74 46 72 46 64 54 68 58 65 58 59 64 58 66 54 68 50 64 42 64 38 79 42 73 34 78 32 80 28 80 24 80 20 82 16 80 12 92 9 84 5 83 0zM2069 1677l-2 0 2 0zM2177 1687l-2 0 2 0zM2383 1721l-2 0 2 0zM983 1851l-2-8-4-2-2 2 8 8zM3203 2105l0-2 2 2-2 0zM3219 2119l-2 0-12-14 14 14zM3221 2121l0-2 2 2-2 0zM3223 2123l0-2 2 2-2 0zM3245 2143l-2 0-18-20 20 20zM3247 2145l0-2 2 2-2 0zM3249 2147l0-2 2 2-2 0zM3251 2149l0-2 2 2-2 0zM3253 2151l0-2 2 2-2 0zM3255 2153l0-2 2 2-2 0z" fill="#c5c22a"/><path d="M2157 4269l70-3 72-5 69-8 75-12 136-30 69-20 67-22 68-26 66-28 62-30 61-32 59-34 58-38 56-39 54-42 90-79 80-84 42-50 38-50 3 0-1-2 2-3 4-1-2-2 4-6 2 0 0-2 2-3 3-1-1-2 2-3 3-1-1-2 2-3 4-1-2-2 6-4-2-2 5-4-1-2 4-1 6 4 1-1-7-8 4-1 6 4-6-9 4-2 6 4-6-6 0-3 4-1-2-2 4-1 6 4 1-1-7-8 4-2 6 4-6-6 0-3 3-1-1-2 4-1 6 3-6-8 3-2-1-2 4-2-2-2 4 0 6 4 1-2-7-7 4-3-2-2 4-2 6 4 4-4 2-4-8-8 4-2-2-2 4-2 8 4 50-104 0-4 12-26 4-16 4-6 22-68 2-14 4-8 6-30 2-2 0-8 4-10 2-18 2-2 2-18 2-2 0-10 4-12 4-36 2-2 0-12 2-2 0-12 2-2 4-54 2-2 2-58 2-2 0-136-2-2 0-32-2-2-2-46-2-2 0-16-2-2 0-14-2-2 0-14-2-2 0-12-4-14 0-12-2-2 0-10-4-12 0-10-2-2-2-18-2-2-2-18-4-10 0-8-8-26-6-30-12-36 0-6-8-20 0-6-10-30-4-6-6-22-4-6-16-46-6-10 0-4-12-24 0-4-10-18 0-4-32-64-4-4-8-18-4-4-28-50-30-46-44-60-36-44-34-38-56-56-40-36-52-42-44-32-58-38-44-24-4-4-74-38-4 0-22-12-18-6-24-12-46-16-6-4-22-6-6-4-30-10-6 0-26-10-42-10-8-4-14-2-26-8-8 0-18-6-28-4-2-2-18-2-12-4-10 0-12-4-12 0-2-2-10 0-14-4-44-4-2-2-14 0-2-2-36-2-2-2-48-2-2-2-32 0-2-2-50 0-2-2-108 0-2 2-88 2-2 2-50 2-2 2-20 0-2 2-18 0-2 2-18 0-2 2-48 4-2 2-12 0-2 2-12 0-2 2-12 0-2 2-12 0-2 2-12 0-2 2-34 4-2 2-22 2-2 2-18 2-2 2-10 0-2 2-28 4-2 2-28 4-10 4-36 6-18 6-8 0-34 10-38 8-8 4-22 4-22 8-34 8-14 6-6 0-20 8-6 0-90 30-6 4-16 4-6 4-10 2-6 4-10 2-16 8-30 10-10 6-14 4-42 20-4 0-18 10-4 0-26 14-4 0-56 28-2 4 6 6 2 1 89-39 72-26 83-26 91-24 99-22 100-18 86-12 102-10 90-5 92-1 92 3 92 7 84 10 87 14 87 18 80 20 88 26 86 30 80 32 84 38 78 40 76 44 74 48 68 48 68 54 61 54 59 58 56 61 52 63 48 66 42 65 37 67-3 0-16-32-36-60-6-8-6-4-24-38-28-38-14-16-6-4-16-22-38-44-38-36-34-36-24-18-24-24-40-34-2 2-66-54-6-4-2 2-4-6-2 2-48-36-30-20-2 2-2-4-2 2-4-2-22-16-6-2-40-26-4-2-2 2-2-4-2 2-8-4-14-10-60-32-4 2 2-2-2-2-4 2 2-2-2-2-4 2 2-2-2-2-4 2-8-6-12-6-4 0-38-20-4 2-2-4-12-6-4 2-2-4-2 2-2-4-4 2-14-8-28-10-20-10-8-2-2 2-2-4-4 2 2-2-2-2-4 2-2-4-4 2 2-2-2-2-4 2-2-4-2 2-8-2-6-4-44-14-24-10-6 2 2-2-2-2-6 2-2-4-4 2-2-4-4 2-2-4-2 2-10-2-34-12-8 2 2-2-2-2-10-2-2 2-2-4-6 2 2-2-2-2-8 2 2-2-2-2-4 2-2 0 2-2-2-2-8 2 2-2-2-2-8 2 2-2-2-2-4 2-2 0-2-4-6 2-2-4-6 2-26-8-10 2 2-2-2-2-8 2 2-2-2-2-6 0-2-2-10 2 2-2-2-2-8 2-2-4-4 0-4 2 2-2-2-2-10 2 2-2-6-2-6 2 2-2-2-2-10 2 2-2-2-2-4 2-16-2-2-2-12 2 2-2-2-2-10 2 2-2-2-2-8 0-4 2 2-2-2-2-12 2 2-2-2-2-12 2 2-2-2-2-14 2 2-2-2-2-12 2-2-4-12 2-2-4-16 4 2-4-2-2-16 4 2-2-2-2-16 2 2-2-2-2-12 0-6 2 2-2-2-2-20 2 2-2-2-2-20 2-2-4-10 0-2 2-10 0-4 2 2-4-2-2-28 4 2-2-4-4-6 2-16 0-2 2-10 0-2-4-30 0-2 2-34 2 2-2-2-2-6-2-40 0-2 2-16 0-6 4-60-2-8 6-12-4-16 0-10 6-8-4-12 0-8 6-8-4-8 0-8 6-8-4-6 0-10 6-6-4-4 0-10 8-2-4-4-2-10 6-8-4-12 6-4-4-12 8-2-4-6 0-6 4-2-2-6 0-8 6-2-4-4 0-8 6-2-4-4 0-4 4-8-2-8 6-2-4-4 0-6 6-2-4-4 0-6 6-2-4-2 0-8 6-2-4-8 4-6-2-4 4-6-2-6 4-4-2-6 4-4-2-8 6-2-4-8 6-2-4-8 6-2-4-6 4-4-2-4 4-6-2-4 4-4-2-6 4-4-2-4 4-4-2-14 6-4-2-4 4-4-2-4 4-4-2-14 6-2-2-6 4-2-2-6 4-2-2-6 4-2-2-4 4-4-2-4 4-2-2-6 4-2-2-6 4-2-2-4 4-2-2-6 4-2-2-4 4-6 0-2 2-2-2-4 4-2-2-6 4-2-2-4 4-2-2-6 4-6 2-2-2-4 4-2-2-4 4-2-2-12 6-10 2-4 5-2-3-4 5-2-2-4 4-2-2-8 4-6 0-10 6-2-2-4 4-12 2-12 8-4-2-4 4-6 0-4 4-6 0-4 4-6 0-4 4-6 0-8 6-6 0-8 6-10 2-8 6-8 2-48 24-4 4-4 1-48 32-41 32-41 36-39 38-39 42-38 46-38 50-62 96-26 48-24 50-20 48-18 52-14 49-12 53-14 102-3 70 1 70 6 72 12 80 16 76 22 81 26 79 32 82 36 79 40 77 42 72 44 68 48 66 50 62 56 63 59 59 57 52 68 56 60 44 72 48 64 38 79 42 73 34 78 32 79 28 81 24 80 20 81 16 79 12 84 9 86 4 84 1zM2069 1677l-2 0 2 0zM2177 1687l-2 0 2 0zM2383 1721l-2 0 2 0zM1019 1831l2-4 2 2 1-4-4-6-3 0-6 4 8 8zM3533 2503l-2 0 2-3 0 3zM3535 2507l0-3 1 3-1 0zM3537 2511l0-3 1 3-1 0zM3539 2515l0-3 2 3-2 0zM3541 2519l0-3 2 3-2 0zM3543 2523l0-3 1 3-1 0zM3545 2527l0-3 1 3-1 0zM3547 2531l0-3 1 3-1 0zM3549 2535l0-3 0 3zM3551 2539l0-3 0 3zM3553 2543l0-2 0 2zM3555 2547l0-2 0 2zM3557 2551l0-2 0 2zM3559 2557l0-4 2 4-2 0zM3561 2561l0-3 2 3-2 0zM3563 2565l0-3 0 3zM3565 2569l0-2 0 2zM3567 2573l0-2 0 2zM3569 2579l0-3 1 3-1 0zM3571 2583l0-3 0 3zM3573 2587l0-2 0 2zM3575 2593l0-3 0 3zM3577 2597l0-3 0 3zM3579 2603l0-4 1 4-1 0zM3581 2607l0-3 0 3zM3583 2613l0-4 1 4-1 0zM3585 2617l0-3 0 3zM3587 2623l0-4 0 4z" fill="#b9c430"/><path d="M2222 4253l79-5 74-9 78-12 70-14 74-18 74-22 70-24 68-26 68-30 68-34 64-36 62-38 60-41 58-44 54-45 54-49 58-60 52-60 46-61 44-65 52-93 26-55 22-55 2 0-1-2 5-14 2 0 0-6 2 0-1-2 3-4-1-4 3-2-1-4 3-2-1-4 3-2 0-6 4 0-3-4 4-4-1-5 3-1-2-4 5-2-3-4 1-2 5-2-3-4 5-2-4-4 1-2 5-2-3-6 10 0-4 0-5-6 12-2-5-1-5-5 12-2-5-1-4-6 12 0-2-5-4 0-4-4 10 0 1-2-5-1-4-6 12 0-2-4-4 0-4-5 12-1-2-4-4 0-4-5 12-1-2-5-4 0-4-4 12 0 0-8 2-3-12-1 12 0 0-4-6-2-4-6 12-1 2-9-12 0 0-4 10-1 2 2 2-11-12 0 0-4 4-1 8 5 2-20 2-2 0-12 2-2 0-12 2-2 2-34 2-2 2-44 2-2 0-32 2-2 0-136-2-2-2-58-2-2 0-20-2-2-4-48-2-2 0-12-4-14-2-24-4-12 0-10-2-2-2-18-2-2-2-18-4-10 0-8-8-26-6-30-12-36 0-6-8-20 0-6-10-30-4-6-6-22-4-6-16-46-6-10 0-4-12-24 0-4-10-18 0-4-32-64-4-4-8-18-4-4-28-50-30-46-44-60-70-82-56-56-40-36-52-42-44-32-58-38-44-24-4-4-22-10-4-4-48-24-4 0-22-12-18-6-24-12-46-16-6-4-22-6-6-4-30-10-6 0-26-10-6 0-22-8-14-2-8-4-14-2-26-8-8 0-18-6-28-4-2-2-18-2-12-4-10 0-12-4-12 0-2-2-10 0-14-4-44-4-2-2-14 0-2-2-36-2-2-2-22 0-2-2-24 0-2-2-32 0-2-2-160-2-2 2-52 0-2 2-34 0-2 2-26 0-2 2-44 2-2 2-56 4-2 2-14 0-2 2-14 0-2 2-40 4-2 2-26 2-2 2-58 8-2 2-18 2-2 2-10 0-2 2-28 4-2 2-28 4-10 4-36 6-18 6-8 0-34 10-38 8-8 4-22 4-22 8-34 8-14 6-6 0-20 8-6 0-90 30-6 4-16 4-6 4-10 2-6 4-10 2-16 8-30 10-10 6-14 4-42 20-4 0-18 10-4 0-86 42-2 3 7 7 3-4 2 2 2-4 2 2 2-4 2 2 2-3 2 1 2-3 2 1 2-3 2 2 2-4 2 2 2-4 2 2 2-4 2 2 2-3 2 1 2-3 2 1 16-7 0-2 2 1 62-25 62-22 114-34 118-28 122-23 118-16 116-10 114-3 114 2 106 8 108 14 110 20 108 26 106 32 104 38 98 42 96 48 94 54 88 58 90 68 76 66 74 72 66 74 62 80 54 82 48 85 40 87 32 86 24 87 18 93 9 86 1 89 0-47-2-2-2-64-2-2 0-18-2-2-4-42-2-2 0-10-2-2 0-10-2-2-4-28-4-6 0-8-4-10-8-38-4-8 0-6-4-8 0-6-20-60-6-14-4-4 0-4-18-40 0-4-10-18 0-4-24-48-4-2 2-2-4-2-16-32-36-60-6-8-6-4-24-38-36-48-12-10-16-22-38-44-38-36-34-36-24-18-42-40-22-18-2 2-66-54-6-4-2 2-4-6-2 2-28-22-50-34-2 2-2-4-2 2-4-2-22-16-6-2-40-26-4-2-2 2-2-4-2 2-8-4-14-10-60-32-4 2 2-2-2-2-4 2 2-2-2-2-4 2 2-2-2-2-4 2-8-6-12-6-4 0-38-20-4 2-2-4-12-6-4 2-2-4-2 2-2-4-4 2-14-8-28-10-20-10-8-2-2 2-2-4-4 2 2-2-2-2-4 2-2-4-4 2 2-2-2-2-4 2-2-4-2 2-8-2-6-4-44-14-24-10-6 2 2-2-2-2-6 2-2-4-4 2-2-4-4 2-2-4-2 2-10-2-34-12-8 2 2-2-2-2-10-2-2 2-2-4-6 2 2-2-2-2-8 2 2-2-2-2-4 2-2 0 2-2-2-2-8 2 2-2-2-2-8 2 2-2-2-2-4 2-2 0-2-4-6 2-2-4-6 2-26-8-10 2 2-2-2-2-8 2 2-2-2-2-6 0-2-2-10 2 2-2-2-2-8 2-2-4-4 0-4 2 2-2-2-2-10 2 2-2-6-2-6 2 2-2-2-2-10 2 2-2-2-2-4 2-16-2-2-2-12 2 2-2-2-2-10 2 2-2-2-2-12 2 2-2-2-2-6 0-6 2 2-2-2-2-12 2 2-2-2-2-14 2 2-2-2-2-12 2-2-4-4 0-2 2-6 0-2-4-16 4 2-4-2-2-16 4 2-2-2-2-16 2 2-2-2-2-12 0-6 2 2-2-2-2-20 2 2-2-2-2-20 2-2-4-10 0-2 2-10 0-4 2 2-4-2-2-28 4 2-2-4-4-6 2-16 0-2 2-10 0-2-4-30 0-2 2-34 2 2-2-2-2-6-2-40 0-2 2-16 0-6 4-60-2-8 6-12-4-16 0-10 6-8-4-12 0-8 6-8-4-8 0-8 6-8-4-6 0-10 6-6-4-4 0-10 8-2-4-4-2-10 6-8-4-12 6-4-4-12 8-2-4-6 0-6 4-2-2-6 0-8 6-2-4-4 0-8 6-2-4-4 0-4 4-8-2-8 6-2-4-4 0-6 6-2-4-4 0-6 6-2-4-2 0-8 6-2-4-8 4-6-2-4 4-6-2-6 4-4-2-6 4-4-2-8 6-2-4-8 6-2-4-8 6-2-4-6 4-4-2-4 4-6-2-4 4-4-2-6 4-4-2-4 4-4-2-14 6-4-2-4 4-4-2-4 4-4-2-6 4-2-2-6 4-2-2-6 4-2-2-6 4-2-2-6 4-2-2-4 4-4-2-4 4-2-2-6 4-2-2-6 4-2-2-4 5-2-3-6 5-2-3-4 5-6 0-2 2-2-2-4 4-2-2-6 4-2-2-4 4-2-2-12 6-2-2-4 4-2-2-4 4-2-2-6 2-6 4-10 2-4 4-2-2-4 4-2-2-4 4-2-2-8 4-6 0-10 6-2-2-4 4-12 2-12 8-4-2-4 4-6 0-4 4-6 0-4 4-6 0-4 4-6 0-8 6-6 0-8 6-10 2-8 6-8 2-58 31-52 38-47 40-46 44-45 48-46 56-38 52-38 58-35 60-27 56-24 58-20 60-14 52-12 60-8 58-5 60 0 66 3 68 10 80 14 78 18 74 22 74 27 78 33 78 34 72 38 72 42 70 43 66 51 68 48 59 55 61 55 54 59 54 64 52 63 46 64 43 66 39 72 38 71 34 77 32 72 26 76 24 78 20 74 16 84 14 84 10 82 6 82 2 81-2zM2069 1677l-2 0 2 0zM2177 1687l-2 0 2 0zM2383 1721l-2 0 2 0zM3661 3064l0-29 2 0-2 29zM3659 3089l0-14 0 14zM3661 3108l-4 0 0-9 4 9zM3665 3125l-10 0 0-6 2-1 4 5 4 0 0 2z" fill="#aec637"/><path d="M3673 3077l2-6 0-16 2-2 0-18 2-2 2-58 2-2 0-136-2-2 0-32-2-2-2-46-2-2 0-16-2-2 0-14-2-2 0-14-2-2 0-12-4-14 0-12-2-2 0-10-4-12 0-10-2-2-2-18-2-2-2-18-4-10 0-8-8-26-6-30-12-36 0-6-8-20 0-6-10-30-4-6-6-22-4-6-2-10-4-6-2-10-14-30-4-14-8-14 0-4-10-18 0-4-44-86-62-100-60-80-54-62-80-78-68-56-86-60-64-38-22-10-4-4-74-36-4 0-58-26-54-18-6-4-30-10-6 0-26-10-42-10-8-4-14-2-26-8-8 0-18-6-58-10-2-2-10 0-12-4-12 0-2-2-10 0-14-4-12 0-2-2-46-4-2-2-36-2-2-2-22 0-2-2-24 0-2-2-84-2-2-2-162 2-2 2-34 0-2 2-26 0-2 2-22 0-2 2-60 4-2 2-16 0-2 2-14 0-2 2-14 0-2 2-40 4-2 2-26 2-2 2-34 4-2 2-22 2-2 2-18 2-2 2-10 0-2 2-28 4-2 2-28 4-10 4-18 2-10 4-8 0-18 6-8 0-34 10-38 8-8 4-22 4-50 16-6 0-136 44-6 4-16 4-6 4-10 2-6 4-10 2-16 8-10 2-30 14-14 4-42 20-4 0-18 10-4 0-18 10 8 8 2-3 2 2 2-4 2 2 2-3 2 1 7-3 1-3 2 2 2-3 2 1 76-29 114-36 118-30 130-26 110-16 114-11 106-5 110 0 106 6 110 12 110 18 108 24 100 28 106 36 104 42 92 44 92 50 92 58 84 60 83 68 75 70 68 73 62 76 58 81 48 80 42 83 34 82 28 86 19 77 13 79 6 59 2 52-2 92 2 2-2 0-1 16 5 6 6 2 0-2zM2217 4239l92-6 88-10 86-14 90-20 88-24 84-28 82-32 82-37 78-41 76-46 72-48 68-52 64-55 60-58 56-61 52-64 42-59 38-61 32-58 30-63 26-65 20-61 2 0-1-3 3-11 2-1-1-2 1-5 2 0 0-7 4 0-3-4 1-4 4 0-3-4 1-4 10 0-4 0-5-6 1-2 10 0-4 0-5-6 1-2 10 0 1-2-5-1-5-5 1-2 12 0-11-8 13-1-2-4-4 0-4-6 12 0-1-3-5-1-5-7 13-1-2-4-4 0-4-5 0-3 12-1-6-2-4-4-1-6 11-2 2 2 2-6-12 0-1-8 5-1 8 4 2-7 0-2-12 0 0-10 2-2 10 7 2-7 0-2-12 0 0-16 2 0-1 4 5 5 6 2 2-7 0-4-12 0 2-64 2-2-2-100-2-2 0-22-2-2-2-34-2-2-2-26-2-2 0-10-2-2 0-10-2-2-4-28-4-6 0-8-4-10-8-38-4-8 0-6-4-8 0-6-20-60-6-14-4-4 0-4-18-40 0-4-10-18 0-4-24-48-4-2 2-2-4-2-16-32-40-66-8-6-24-38-28-38-12-14-8-6-16-22-38-44-38-36-34-36-24-18-42-40-22-18-2 2-66-54-6-4-2 2-4-6-2 2-28-22-50-34-2 2-2-4-2 2-4-2-22-16-6-2-40-26-4-2-2 2-2-4-2 2-8-4-14-10-40-20-4-4-16-8-4 2 2-2-2-2-4 2 2-2-2-2-4 2 2-2-2-2-4 2-8-6-12-6-4 0-38-20-4 2-2-4-12-6-4 2-2-4-2 2-2-4-4 2-14-8-28-10-20-10-8-2-2 2-2-4-4 2 2-2-2-2-4 2-2-4-4 2 2-2-2-2-4 2-2-4-2 2-8-2-6-4-44-14-24-10-6 2 2-2-2-2-6 2-2-4-4 2-2-4-4 2-2-4-2 2-10-2-34-12-8 2 2-2-2-2-10-2-2 2-2-4-6 2 2-2-2-2-8 2 2-2-2-2-4 2-2 0 2-2-2-2-8 2 2-2-2-2-8 2 2-2-2-2-4 2-2 0-2-4-6 2-2-4-6 2-26-8-10 2 2-2-2-2-8 2 2-2-2-2-6 0-2-2-10 2 2-2-2-2-8 2-2-4-4 0-4 2 2-2-2-2-10 2 2-2-6-2-6 2 2-2-2-2-10 2 2-2-2-2-4 2-16-2-2-2-12 2 2-2-2-2-10 2 2-2-2-2-12 2 2-2-2-2-6 0-6 2 2-2-2-2-12 2 2-2-2-2-14 2 2-2-2-2-12 2-2-4-4 0-2 2-6 0-2-4-16 4 2-4-2-2-16 4 2-2-2-2-16 2 2-2-2-2-12 0-6 2 2-2-2-2-20 2 2-2-2-2-20 2-2-4-10 0-2 2-10 0-4 2 2-4-2-2-28 4 2-2-4-4-6 2-16 0-2 2-10 0-2-4-30 0-2 2-34 2 2-2-2-2-6-2-40 0-2 2-16 0-6 4-60-2-8 6-12-4-16 0-10 6-8-4-12 0-8 6-8-4-8 0-8 6-8-4-6 0-8 6-12-4-10 8-2-4-6-2-8 6-8-4-12 6-4-4-12 8-2-4-6 0-6 4-2-2-6 0-8 6-2-4-4 0-8 6-2-4-4 0-4 4-8-2-8 6-2-4-4 0-6 6-2-4-4 0-6 6-2-4-2 0-8 6-2-4-8 4-6-2-4 4-6-2-6 4-4-2-6 4-4-2-8 6-2-4-8 6-2-4-8 6-2-4-6 4-4-2-4 4-6-2-4 4-4-2-6 4-4-2-4 5-4-3-14 7-4-3-4 5-4-2-4 4-4-2-6 4-2-2-6 4-2-2-6 4-2-2-6 4-2-2-6 4-2-2-4 4-4-2-4 4-2-2-6 4-2-2-6 4-2-2-4 4-2-2-6 4-2-2-4 4-6 0-2 2-2-2-4 4-2-2-6 4-2-2-4 4-2-2-12 6-2-2-4 4-2-2-4 4-2-2-6 2-6 4-10 2-4 4-2-2-4 4-2-2-4 4-2-2-8 4-6 0-10 6-2-2-4 4-12 2-12 8-4-2-4 4-6 0-4 4-6 0-4 4-6 0-4 4-6 0-8 6-6 0-8 6-10 2-8 6-8 2-36 19-40 28-40 32-75 70-71 80-66 90-52 86-44 90-34 96-22 90-14 100-3 96 6 106 16 104 26 110 34 106 44 110 53 108 57 100 66 98 71 90 74 82 82 78 89 74 93 67 98 60 104 54 110 47 108 38 116 33 116 23 120 16 118 8 118 0zM2069 1677l-2 0 2 0zM2177 1687l-2 0 2 0zM2383 1721l-2 0 2 0zM1093 1793l2-3 2 1 2-3 2 2 2-4 3 1 1-10-2-2-20 10 8 8zM1193 1778l0-2 0 2zM3671 3095l2-16-12 0-1 10 5 6 6 2 0-2z" fill="#a2c840"/><path d="M3677 3039l2-6 0-24 2-2 0-32 2-2 0-136-2-2 0-32-2-2 0-24-2-2-2-38-2-2-2-30-2-2 0-12-4-14 0-12-2-2 0-10-4-12 0-10-2-2-6-38-4-10 0-8-8-26-6-30-4-8-8-34-8-20 0-6-10-30-4-6-6-22-4-6-2-10-4-6-10-30-6-10-4-14-50-104-4-4-8-18-42-70-64-90-70-82-56-56-64-56-72-54-58-38-44-24-4-4-22-10-4-4-74-36-4 0-38-18-46-16-6-4-90-30-6 0-22-8-14-2-8-4-14-2-26-8-8 0-18-6-28-4-2-2-18-2-12-4-10 0-12-4-36-4-2-2-60-6-2-2-16 0-2-2-18 0-2-2-48-2-2-2-32 0-2-2-50 0-2-2-108 0-2 2-52 0-2 2-62 2-2 2-22 0-2 2-20 0-2 2-18 0-2 2-18 0-2 2-48 4-2 2-12 0-2 2-12 0-2 2-12 0-2 2-12 0-2 2-12 0-2 2-34 4-2 2-22 2-2 2-18 2-2 2-10 0-2 2-28 4-2 2-28 4-10 4-18 2-10 4-8 0-18 6-8 0-34 10-38 8-8 4-22 4-22 8-34 8-14 6-6 0-20 8-6 0-144 50-124 52 1 6 5 4 2-3 2 2 2-4 4 1 0-5 4 3 2-3 2 2 2-3 2 1 7-3 1-2 2 1 79-29 106-32 121-30 130-25 108-15 110-10 104-4 104 1 115 7 107 12 106 18 98 23 100 28 100 33 94 38 98 46 96 52 86 54 82 59 81 65 73 67 68 72 64 77 56 78 48 77 42 81 36 83 28 82 20 75 15 82 7 56 4 54-2 104 6 6 6 2 0-2zM2177 4225l88-3 88-7 88-11 89-17 89-21 82-25 84-30 82-34 78-38 76-41 74-47 68-48 66-52 62-56 58-58 54-61 42-54 38-54 34-55 32-58 30-64 24-60 32-103 2 0-1-3 1-5 2 0-2-3 2-5 4 0-3-5 1-4 10 0-4 0-5-6 1-2 10 0 0-2-4 0-5-6 1-2 12 0-2-3-4 0-5-7 13-2-2-3-4 0-5-7 12-2-5-1-5-5 0-6 6-2-3-4-1-8 5-2-2-2-1-12 3-2 1-42 3-2 0-38 2-2-2-100-2-2 0-22-2-2 0-18-2-2-4-42-2-2 0-10-2-2 0-10-2-2-4-28-4-6 0-8-4-10-8-38-4-8 0-6-4-8 0-6-20-60-6-14-4-4-12-34-16-32 0-4-24-48-4-2 2-2-4-2-16-32-36-60-6-8-6-4-24-38-36-48-12-10-16-22-38-44-38-36-34-36-24-18-24-24-40-34-2 2-66-54-6-4-2 2-4-6-2 2-28-22-50-34-2 2-2-4-2 2-4-2-22-16-6-2-40-26-4-2-2 2-2-4-2 2-8-4-14-10-40-20-4-4-16-8-4 2 2-2-2-2-4 2 2-2-2-2-4 2 2-2-2-2-4 2-8-6-12-6-4 0-38-20-4 2-2-4-12-6-4 2-2-4-2 2-2-4-4 2-14-8-28-10-20-10-8-2-2 2-2-4-4 2 2-2-2-2-4 2-2-4-4 2 2-2-2-2-4 2-2-4-2 2-8-2-6-4-44-14-24-10-6 2 2-2-2-2-6 2-2-4-4 2-2-4-4 2-2-4-2 2-10-2-34-12-8 2 2-2-2-2-10-2-2 2-2-4-6 2 2-2-2-2-8 2 2-2-2-2-4 2-2 0 2-2-2-2-8 2 2-2-2-2-8 2 2-2-2-2-4 2-2 0-2-4-6 2-2-4-6 2-26-8-10 2 2-2-2-2-8 2 2-2-2-2-6 0-2-2-10 2 2-2-2-2-8 2-2-4-8 2 2-2-2-2-10 2 2-2-2-2-4 0-6 2 2-2-2-2-10 2 2-2-2-2-4 2-16-2-2-2-12 2 2-2-2-2-10 2 2-2-2-2-8 0-4 2 2-2-2-2-12 2 2-2-2-2-12 2 2-2-2-2-14 2 2-2-2-2-12 2-2-4-12 2-2-4-16 4 2-4-2-2-16 4 2-2-2-2-16 2 2-2-2-2-12 0-6 2 2-2-2-2-20 2 2-2-2-2-20 2-2-4-10 0-2 2-10 0-4 2 2-4-2-2-28 4 2-2-4-4-6 2-16 0-2 2-10 0-2-4-30 0-2 2-34 2 2-2-2-2-6-2-40 0-2 2-16 0-6 4-60-2-8 6-12-4-16 0-10 6-8-4-12 0-8 6-8-4-8 0-8 6-8-4-6 0-10 6-6-4-4 0-10 8-2-4-4-2-10 6-8-4-12 6-4-4-12 8-2-4-6 0-6 4-2-2-6 0-8 6-2-4-4 0-8 6-2-4-4 0-4 4-8-2-8 6-2-4-4 0-6 6-2-4-4 0-6 7-2-5-2 0-8 7-2-5-8 5-6-3-4 5-6-3-6 5-4-2-6 4-4-2-8 6-2-4-8 6-2-4-8 6-2-4-6 4-4-2-4 4-6-2-4 4-4-2-6 4-4-2-4 4-4-2-14 6-4-2-4 4-4-2-4 4-4-2-6 4-2-2-6 4-2-2-6 4-2-2-6 4-2-2-6 4-2-2-4 4-4-2-4 4-2-2-6 4-2-2-6 4-2-2-4 4-2-2-6 4-2-2-4 4-6 0-2 2-2-2-4 4-2-2-6 4-2-2-4 4-2-2-12 6-2-2-4 4-2-2-4 4-2-2-6 2-6 4-10 2-4 4-2-2-10 6-2-2-8 4-12 2-4 4-2-2-4 4-12 2-12 8-4-2-4 4-6 0-4 4-6 0-4 4-6 0-4 4-6 0-8 6-6 0-8 6-10 3-8 6-28 12-26 18-44 34-44 38-76 78-71 88-59 90-49 90-38 92-28 96-16 90-7 100 2 98 12 104 21 108 30 106 40 110 48 108 56 104 60 96 69 94 72 86 78 80 86 76 92 71 94 62 102 57 106 50 108 42 116 37 110 26 118 20 120 11 120 4zM2069 1677l-2 0 2 0zM2177 1687l-2 0 2 0zM2383 1721l-2 0 2 0zM1136 1773l0-10-7 0-2 2 2 4 7 4zM1241 1764l0-2 0 2zM1227 1768l0-2 0 2zM1213 1772l0-2 0 2zM1105 1787l0-10-6 0 6 10zM1193 1778l0-2 0 2zM3675 3059l2-16-12 0-1 10 5 5 6 1zM3673 3077l2-10-12 0-1 4 5 5 6 1zM3671 3095l2-8-12 0-1 2 5 5 6 1z" fill="#95ca49"/><path d="M3679 3013l2-6 0-32 2-2 0-136-2-2 0-32-2-2 0-24-2-2 0-20-2-2-4-48-2-2-4-38-2-2 0-10-4-12 0-10-2-2-2-18-2-2-2-18-4-10 0-8-8-26-6-30-12-36 0-6-28-84-4-6-2-10-4-6-10-30-6-10-4-14-50-104-4-4-8-18-42-70-64-90-70-82-56-56-64-56-72-54-58-38-44-24-4-4-22-10-4-4-74-36-4 0-38-18-46-16-6-4-90-30-6 0-22-8-14-2-8-4-14-2-26-8-8 0-18-6-28-4-2-2-18-2-12-4-10 0-12-4-36-4-2-2-60-6-2-2-16 0-2-2-18 0-2-2-48-2-2-2-32 0-2-2-50 0-2-2-108 0-2 2-52 0-2 2-62 2-2 2-22 0-2 2-20 0-2 2-18 0-2 2-18 0-2 2-48 4-2 2-12 0-2 2-12 0-2 2-12 0-2 2-12 0-2 2-12 0-2 2-34 4-2 2-22 2-2 2-18 2-2 2-10 0-2 2-28 4-2 2-28 4-10 4-18 2-10 4-8 0-18 6-8 0-34 10-38 8-8 4-22 4-22 8-34 8-14 6-6 0-20 8-6 0-112 38-6 4-52 18-62 26 1 6 5 4 2-3 3 1 1-6 4 4 2-3 2 2 2-3 2 1 4-4 2 2 2-3 5 0 1-3 4 1 0-2 2 1 85-29 97-28 128-30 122-22 108-14 100-8 104-4 103 2 101 7 104 12 106 18 106 24 98 27 100 35 98 40 88 42 92 50 86 54 84 60 76 61 74 69 68 71 60 73 56 77 48 78 42 80 36 83 28 80 20 74 16 83 11 102 1 54-1 50 5 5 6 2 0-1zM2228 4209l89-5 88-9 88-14 87-18 87-23 82-27 84-32 80-36 78-40 74-44 72-48 66-50 64-54 60-57 56-61 52-64 36-49 34-53 30-51 28-55 26-58 24-64 28-97 2 0-2-3 4-8-2-2 2-5 4 0-3-7 1-2 10 0 0-2-4 0-5-8 1-2 10 0-4 0-5-6 0-6 6-2-4-4 0-8 4-2-2-2 0-12 2-2 2-42 2-2 3-98-3-2 1-40-2-2-2-42-2-2 0-14-2-2 0-12-2-2-4-36-2-2-4-28-4-6 0-8-4-10-8-38-4-8-4-20-20-60-6-14-4-4-12-34-16-32 0-4-24-48-4-2 2-2-4-2-16-32-40-66-8-6-24-38-28-38-12-14-8-6-16-22-38-44-12-10-60-62-24-18-42-40-22-18-2 2-66-54-6-4-2 2-4-6-2 2-28-22-50-34-2 2-2-4-2 2-4-2-22-16-6-2-40-26-4-2-2 2-2-4-2 2-8-4-14-10-60-32-4 2 2-2-2-2-4 2 2-2-2-2-4 2 2-2-2-2-4 2-8-6-12-6-4 0-38-20-4 2-2-4-12-6-4 2-2-4-2 2-2-4-4 2-14-8-28-10-20-10-8-2-2 2-2-4-4 2 2-2-2-2-4 2-2-4-4 2 2-2-2-2-4 2-2-4-2 2-8-2-6-4-44-14-24-10-6 2 2-2-2-2-6 2-2-4-4 2-2-4-4 2-2-4-2 2-10-2-34-12-8 2 2-2-2-2-10-2-2 2-2-4-6 2 2-2-2-2-8 2 2-2-2-2-6 2 2-2-2-2-8 2 2-2-2-2-8 2 2-2-2-2-6 2-2-4-6 2-2-4-6 2-26-8-10 2 2-2-2-2-8 2 2-2-2-2-6 0-2-2-10 2 2-2-2-2-8 2-2-4-4 0-4 2 2-2-2-2-10 2 2-2-2-2-4 0-6 2 2-2-2-2-10 2 2-2-2-2-4 2-16-2-2-2-12 2 2-2-2-2-10 2 2-2-2-2-12 2 2-2-2-2-6 0-6 2 2-2-2-2-12 2 2-2-2-2-14 2 2-2-2-2-12 2-2-4-4 0-2 2-6 0-2-4-16 4 2-4-2-2-16 4 2-2-2-2-16 2 2-2-2-2-12 0-6 2 2-2-2-2-20 2 2-2-2-2-20 2-2-4-10 0-2 2-10 0-4 2 2-4-2-2-28 4 2-2-4-4-6 2-16 0-2 2-10 0-2-4-30 0-2 2-34 2 2-2-2-2-6-2-40 0-2 2-16 0-6 4-60-2-8 6-12-4-16 0-10 6-8-4-12 0-8 6-8-4-8 0-8 6-8-4-6 0-10 6-6-4-4 0-10 9-2-5-6-2-8 7-8-5-12 7-4-5-12 9-2-4-6 0-6 4-2-2-6 0-8 6-2-4-4 0-8 6-2-4-4 0-4 4-8-2-8 6-2-4-4 0-6 6-2-4-4 0-6 6-2-4-2 0-8 6-2-4-8 4-6-2-4 4-6-2-6 4-4-2-6 4-4-2-8 6-2-4-8 6-2-4-8 6-2-4-6 4-4-2-4 4-6-2-4 4-4-2-6 4-4-2-4 4-4-2-14 6-4-2-4 4-4-2-4 4-4-2-6 4-2-2-14 6-2-2-6 4-2-2-6 4-2-2-4 4-4-2-4 4-2-2-6 4-2-2-6 4-2-2-4 4-2-2-6 4-2-2-4 4-6 0-2 2-2-2-4 4-2-2-6 4-2-2-4 4-2-2-12 6-2-2-4 4-2-2-4 4-2-2-6 2-6 4-10 2-4 4-2-2-4 4-2-2-4 4-2-2-8 4-12 2-4 4-2-2-4 4-12 2-12 8-4-2-4 4-6 0-4 4-6 0-4 4-6 0-4 4-6 1-8 6-6 0-8 6-10 2-8 6-8 2-80 60-74 68-71 80-64 86-54 88-43 90-33 88-24 96-13 96-4 96 6 100 15 106 26 110 34 108 44 110 50 104 58 102 63 94 69 90 75 84 82 80 88 73 90 65 98 61 102 54 104 46 110 40 112 32 112 24 120 17 116 9 119 1zM2069 1677l-2 0 2 0zM2177 1687l-2 0 2 0zM2383 1721l-2 0 2 0zM1176 1755l0-10-7 0-2 2 2 4 7 4zM1309 1746l0-2 0 2zM1301 1748l0-2 0 2zM1263 1758l0-2 0 2zM1241 1764l0-2 0 2zM1227 1768l0-2 0 2zM1213 1772l0-2 0 2zM1193 1778l0-2 0 2zM3677 3039l2-13-12 0-1 7 5 5 6 1zM3675 3059l2-7-12 0 4 5 6 2z" fill="#89cb53"/><path d="M3681 2979l2-6 0-136-2-2-2-58-2-2 0-20-2-2 0-16-2-2-4-44-2-2-2-24-2-2 0-10-4-12 0-10-2-2-2-18-2-2-2-18-4-10 0-8-8-26-6-30-12-36 0-6-28-84-4-6-2-10-4-6-10-30-6-10-4-14-50-104-4-4-8-18-42-70-64-90-70-82-56-56-64-56-72-54-58-38-44-24-4-4-22-10-4-4-74-36-4 0-38-18-46-16-6-4-90-30-6 0-22-8-14-2-8-4-14-2-26-8-8 0-18-6-28-4-2-2-18-2-12-4-10 0-12-4-36-4-2-2-60-6-2-2-16 0-2-2-18 0-2-2-48-2-2-2-32 0-2-2-50 0-2-2-108 0-2 2-52 0-2 2-62 2-2 2-22 0-2 2-20 0-2 2-56 4-2 2-14 0-2 2-14 0-2 2-40 4-2 2-26 2-2 2-58 8-2 2-18 2-2 2-10 0-2 2-28 4-2 2-28 4-10 4-36 6-18 6-8 0-34 10-38 8-8 4-22 4-22 8-34 8-14 6-6 0-116 38-6 4-16 4-6 4-10 2-6 4-10 2-16 8-10 2-24 10 2 6 4 4 2-3 4 1 0-5 4 3 2-3 4 1 0-4 4 3 2-3 2 1 3-1 1-3 4 1 2-3 2 2 2-3 2 1 3-1 1-2 2 1 77-25 93-26 124-28 126-22 100-12 102-8 102-3 100 2 102 8 102 12 102 18 104 24 98 28 98 34 92 38 88 41 88 48 84 53 80 57 76 61 72 66 66 68 61 73 55 75 48 75 42 78 36 80 30 82 22 77 16 76 12 95 3 58 0 52 5 5 6 1zM2249 4193l90-5 88-10 88-14 84-18 83-23 83-27 82-32 77-35 77-40 74-44 70-47 66-51 64-54 58-56 56-62 50-62 38-53 34-53 32-56 28-57 24-55 20-55 18-59 14-57 2 0-2-5 4-6-2-8 6-2-4-4 1-8 4-2-2-2 0-12 2-2 2-42 2-2 2-98-2-2 0-40-2-2-2-42-2-2 1-14-3-2 1-12-3-2-3-36-2-2-4-28-4-6 0-8-4-10-8-38-4-8-4-20-20-60-6-14-4-4-12-34-16-32 0-4-24-48-4-2 2-2-4-2-16-32-40-66-8-6-24-38-28-38-12-14-8-6-16-22-38-44-12-10-60-62-24-18-42-40-22-18-2 2-66-54-6-4-2 2-4-6-2 2-28-22-50-34-2 2-2-4-2 2-4-2-22-16-6-2-40-26-4-2-2 2-2-4-2 2-8-4-14-10-60-32-4 2 2-2-2-2-4 2 2-2-2-2-4 2 2-2-2-2-4 2-8-6-12-6-4 0-38-20-4 2-2-4-12-6-4 2-2-4-2 2-2-4-4 2-14-8-28-10-20-10-8-2-2 2-2-4-4 2 2-2-2-2-4 2-2-4-4 2 2-2-2-2-4 2-2-4-2 2-8-2-6-4-44-14-24-10-6 2 2-2-2-2-6 2-2-4-4 2-2-4-4 2-2-4-2 2-10-2-34-12-8 2 2-2-2-2-10-2-2 2-2-4-6 2 2-2-2-2-8 2 2-2-2-2-6 2 2-2-2-2-8 2 2-2-2-2-8 2 2-2-2-2-6 2-2-4-6 2-2-4-6 2-26-8-10 2 2-2-2-2-8 2 2-2-2-2-6 0-2-2-10 2 2-2-2-2-8 2-2-4-4 0-4 2 2-2-2-2-10 2 2-2-2-2-4 0-6 2 2-2-2-2-10 2 2-2-2-2-4 2-16-2-2-2-12 2 2-2-2-2-10 2 2-2-2-2-12 2 2-2-2-2-6 0-6 2 2-2-2-2-12 2 2-2-2-2-14 2 2-2-2-2-12 2-2-4-4 0-2 2-6 0-2-4-16 4 2-4-2-2-16 4 2-2-2-2-16 2 2-2-2-2-12 0-6 2 2-2-2-2-20 2 2-2-2-2-20 2-2-4-10 0-2 2-10 0-4 2 2-4-2-2-28 4 2-2-4-4-6 2-16 0-2 2-10 0-2-4-30 0-2 2-34 2 2-2-2-2-6-2-40 0-2 2-16 0-6 4-60-2-8 7-12-5-16 0-10 7-8-4-12 0-8 6-8-4-8 0-8 6-8-4-6 0-10 6-6-4-4 0-10 8-2-4-6-2-8 6-8-4-12 6-4-4-12 8-2-4-6 0-6 4-2-2-6 0-8 6-2-4-4 0-8 6-2-4-4 0-4 4-8-2-8 6-2-4-4 0-6 6-2-4-4 0-6 6-2-4-2 0-8 6-2-4-8 4-6-2-4 4-6-2-6 4-4-2-6 4-4-2-8 6-2-4-8 6-2-4-8 6-2-4-6 4-4-2-4 4-6-2-4 4-4-2-6 4-4-2-4 4-4-2-14 6-4-2-4 4-4-2-4 4-4-2-6 4-2-2-6 4-2-2-6 4-2-2-6 4-2-2-6 4-2-2-4 4-4-2-4 4-2-2-6 4-2-2-6 4-2-2-4 4-2-2-6 4-2-2-4 4-6 0-2 2-2-2-4 4-2-2-6 4-2-2-4 4-2-2-12 6-2-2-4 4-2-2-4 4-2-2-6 2-6 4-10 2-4 4-2-2-4 4-2-2-4 4-2-2-8 4-12 2-4 4-2-2-10 6-6 0-12 8-4-2-4 4-6 0-4 4-6 1-4 4-6 0-4 4-6 0-8 6-6 0-8 6-9 2-77 58-76 70-71 80-64 86-54 88-43 90-33 90-23 94-13 94-3 98 6 100 15 104 26 108 34 108 44 110 50 104 58 102 63 94 69 90 75 84 82 79 86 72 92 66 96 60 102 54 106 46 110 40 114 32 114 24 116 16 118 9 118 0zM2069 1677l-2 0 2 0zM2177 1687l-2 0 2 0zM2383 1721l-2 0 2 0zM1397 1726l0-2 0 2zM1213 1739l0-10-6 0 2 6 4 4zM1369 1732l0-2 0 2zM1203 1743l0-10-6 0 2 6 4 4zM1351 1736l0-2 0 2zM1343 1738l0-2 0 2zM1309 1746l0-2 0 2zM1301 1748l0-2 0 2zM1263 1758l0-2 0 2zM1241 1764l0-2 0 2zM1227 1768l0-2 0 2zM1213 1772l0-2 0 2zM1193 1778l0-2 0 2zM3679 3013l2-10-12 0 0 4 4 5 6 1zM3677 3039l2-7-12 0 4 5 6 2z" fill="#7ccc5c"/><path d="M3683 2905l-2-102-2-2 0-24-2-2 0-20-2-2-4-48-2-2-4-38-2-2 0-10-4-12 0-10-2-2-2-18-2-2-2-18-4-10 0-8-8-26-6-30-4-8-8-34-8-20 0-6-10-30-4-6-6-22-4-6-16-46-6-10 0-4-12-24 0-4-10-18 0-4-52-100-54-86-44-60-70-82-56-56-64-56-72-54-78-50-102-54-4 0-22-12-4 0-58-26-10-2-6-4-10-2-6-4-22-6-6-4-30-10-6 0-26-10-6 0-8-4-6 0-8-4-14-2-8-4-14-2-26-8-8 0-18-6-28-4-2-2-18-2-12-4-10 0-12-4-12 0-2-2-10 0-14-4-12 0-2-2-46-4-2-2-36-2-2-2-22 0-2-2-24 0-2-2-84-2-2-2-108 0-2 2-52 0-2 2-62 2-2 2-22 0-2 2-20 0-2 2-56 4-2 2-14 0-2 2-14 0-2 2-40 4-2 2-26 2-2 2-58 8-2 2-18 2-2 2-10 0-2 2-28 4-2 2-28 4-10 4-36 6-18 6-8 0-34 10-38 8-8 4-22 4-22 8-34 8-136 44-6 4-16 4-34 14 8 9 2-6 5 3 1-5 4 3 1-2 3 1 4-4 4 1 0-4 4 3 2-3 2 1 4-3 2 1 4-3 2 1 4-1 0-2 2 1 77-23 84-22 111-24 120-20 98-12 98-7 100-2 98 2 106 8 98 12 92 16 98 22 92 26 96 32 90 36 86 40 84 44 82 50 80 54 74 58 70 61 66 66 60 67 56 72 49 73 43 73 38 76 32 77 28 85 22 91 14 91 6 86 12-1zM2258 4177l89-5 86-9 86-14 86-18 84-23 82-27 80-31 78-35 76-39 72-43 70-47 66-50 62-53 60-58 54-59 50-61 44-62 40-65 36-67 30-66 26-69 22-73 16-71 3-33 2-2 0-22 2-2 0-38 2-2 0-12-2-88-2-2 0-22-2-2-2-34-2-2-2-26-2-2 0-10-2-2 0-10-2-2-4-28-4-6 0-8-4-10-7-38-4-8 0-6-4-8 0-6-20-60-6-14-4-4-12-34-16-32 0-4-24-48-4-2 2-2-4-2-16-32-40-66-8-6-24-38-28-38-12-14-8-6-16-22-38-44-12-10-60-62-24-18-42-40-22-18-2 2-66-54-6-4-2 2-4-6-2 2-28-22-50-34-2 2-2-4-2 2-4-2-22-16-6-2-40-26-4-2-2 2-2-4-2 2-8-4-14-10-60-32-4 2 2-2-2-2-4 2 2-2-2-2-4 2 2-2-2-2-4 2-8-6-12-6-4 0-38-20-4 2-2-4-12-6-4 2-2-4-2 2-2-4-4 2-14-8-28-10-20-10-8-2-2 2-2-4-4 2 2-2-2-2-4 2-2-4-4 2 2-2-2-2-4 2-2-4-2 2-8-2-6-4-44-14-24-10-6 2 2-2-2-2-6 2-2-4-4 2-2-4-4 2-2-4-2 2-10-2-34-12-8 2 2-2-2-2-10-2-2 2-2-4-6 2 2-2-2-2-8 2 2-2-2-2-6 2 2-2-2-2-8 2 2-2-2-2-8 2 2-2-2-2-6 2-2-4-6 2-2-4-6 2-26-8-10 2 2-2-2-2-8 2 2-2-2-2-6 0-2-2-10 2 2-2-2-2-8 2-2-4-4 0-4 2 2-2-2-2-10 2 2-2-2-2-4 0-6 2 2-2-2-2-10 2 2-2-2-2-4 2-16-2-2-2-12 2 2-2-2-2-10 2 2-2-2-2-12 2 2-2-2-2-6 0-6 2 2-2-2-2-12 2 2-2-2-2-14 2 2-2-2-2-12 2-2-4-4 0-2 2-6 0-2-4-16 4 2-4-2-2-16 4 2-2-2-2-16 2 2-2-2-2-12 0-6 2 2-2-2-2-20 2 2-2-2-2-20 2-2-4-10 0-2 2-10 0-4 2 2-4-2-2-28 4 2-2-4-4-6 2-16 0-2 2-10 0-2-4-30 0-2 2-34 3 1-3-1-1-6-3-40 1-2 2-16 0-6 4-60-2-8 6-12-4-16 0-10 6-8-4-12 0-8 6-8-4-8 0-8 6-8-4-6 0-10 6-6-4-4 0-10 8-2-4-6-2-8 6-8-4-12 6-4-4-12 8-2-4-6 0-6 4-2-2-6 0-8 6-2-4-4 0-8 6-2-4-4 0-4 4-8-2-8 6-2-4-4 0-6 6-2-4-4 0-6 6-2-4-2 0-8 6-2-4-8 4-6-2-4 4-6-2-6 4-4-2-6 4-4-2-8 6-2-4-8 6-2-4-8 6-2-4-6 4-4-2-4 4-6-2-4 4-4-2-6 4-4-2-4 4-4-2-14 6-4-2-4 4-4-2-4 4-4-2-6 4-2-2-6 4-2-2-6 4-2-2-6 4-2-2-6 4-2-2-4 4-4-2-4 4-2-2-6 4-2-2-6 4-2-2-4 4-2-2-6 4-2-2-4 4-6 0-2 2-2-2-4 4-2-2-6 4-2-2-4 4-2-2-12 6-2-2-4 4-2-2-4 4-2-2-6 2-6 4-10 2-4 4-2-2-10 6-2-2-8 4-12 2-4 4-2-2-4 4-12 2-12 9-4-2-4 4-6 0-4 4-6 0-4 4-6 0-4 4-6 0-8 6-4 0-80 60-74 68-71 80-64 86-52 86-44 90-33 90-23 94-12 94-4 96 6 100 16 104 25 106 35 110 43 108 51 106 56 98 63 96 68 88 76 85 80 77 86 73 92 66 96 60 102 54 106 47 110 39 112 32 114 24 114 16 116 8 117 1zM2069 1677l-2 0 2 0zM2177 1687l-2 0 2 0zM1263 1719l1-10-7 0 1 6 5 4zM1469 1712l0-2 0 2zM1248 1725l0-10-7 0 1 6 6 4zM1437 1718l0-2 0 2zM1237 1729l0-10-6 0 2 6 4 4zM2383 1721l-2 0 2 0zM1397 1726l0-2 0 2zM1369 1732l0-2 0 2zM1351 1736l0-2 0 2zM1343 1738l0-2 0 2zM1309 1746l0-2 0 2zM1301 1748l0-2 0 2zM1263 1758l0-2 0 2zM1241 1764l0-2 0 2zM1227 1768l0-2 0 2zM1213 1772l0-2 0 2zM1193 1778l0-2 0 2zM3681 2979l2-12-12 0 0 6 4 4 6 2z" fill="#6fcd66"/><path d="M3683 2875l0-38-2-2-2-58-2-2 0-20-2-2 0-16-2-2 0-14-2-2 0-14-2-2 0-12-4-14 0-12-2-2 0-10-4-12 0-10-2-2-2-18-2-2-2-18-4-10 0-8-8-26-6-30-12-36 0-6-28-84-4-6-2-10-4-6-10-30-6-10-4-14-8-14 0-4-42-86-4-4-8-18-4-4-28-50-44-66-66-84-34-38-80-78-68-56-86-60-64-38-74-38-4 0-22-12-4 0-58-26-10-2-6-4-10-2-6-4-22-6-6-4-30-10-6 0-26-10-6 0-8-4-6 0-8-4-14-2-8-4-14-2-26-8-8 0-18-6-28-4-2-2-18-2-12-4-10 0-12-4-12 0-2-2-10 0-14-4-12 0-2-2-46-4-2-2-36-2-2-2-22 0-2-2-24 0-2-2-84-2-2-2-108 0-2 2-88 2-2 2-26 0-2 2-22 0-2 2-60 4-2 2-16 0-2 2-14 0-2 2-14 0-2 2-40 4-2 2-26 2-2 2-34 4-2 2-22 2-2 2-18 2-2 2-10 0-2 2-28 4-2 2-28 4-10 4-18 2-10 4-8 0-18 6-8 0-34 10-38 8-8 4-22 4-22 8-34 8-14 6-6 0-20 8-6 0-90 30-6 4-16 4-1 2 7 9 2-6 5 3 1-6 4 4 2-6 4 4 2-3 2 2 4-4 2 2 4-4 2 2 4-4 2 2 3-3 3 1 4-3 2 1 4-3 2 1 4-3 2 1 4-1 0-2 2 2 140-38 114-24 113-18 103-11 92-7 98-2 96 3 100 8 96 12 94 16 96 22 92 26 94 32 90 36 82 38 86 46 82 50 76 52 72 56 68 60 64 63 58 65 56 72 48 70 42 71 38 74 32 76 30 88 22 87 14 82 8 89 12 0zM2251 4161l86-4 88-8 86-13 86-17 84-22 82-25 80-31 78-34 76-38 72-42 70-46 66-49 62-52 60-57 56-60 50-60 44-61 40-63 36-65 32-68 28-73 22-71 18-77 2-26 2-2 1-22 2-2 2-56-2-84-2-2 0-22-2-2-2-34-2-2-2-26-2-2 0-10-2-2 0-10-2-2-4-28-4-6 0-8-4-10-8-38-4-8 0-6-4-8 0-6-19-60-6-14-4-4-12-34-16-32 0-4-24-48-4-2 2-2-4-2-16-32-40-66-8-6-24-38-28-38-12-14-8-6-16-22-38-44-12-10-60-62-24-18-42-40-22-18-2 2-66-54-6-4-2 2-4-6-2 2-28-22-50-34-2 2-2-4-2 2-4-2-22-16-6-2-40-26-4-2-2 2-2-4-2 2-8-4-14-10-60-32-4 2 2-2-2-2-4 2 2-2-2-2-4 2 2-2-2-2-4 2-8-6-12-6-4 0-38-20-4 2-2-4-12-6-4 2-2-4-2 2-2-4-4 2-14-8-28-10-20-10-8-2-2 2-2-4-4 2 2-2-2-2-4 2-2-4-4 2 2-2-2-2-4 2-2-4-2 2-8-2-6-4-44-14-24-10-6 2 2-2-2-2-6 2-2-4-4 2-2-4-4 2-2-4-2 2-10-2-34-12-8 2 2-2-2-2-10-2-2 2-2-4-6 2 2-2-2-2-8 2 2-2-2-2-4 2-2 0 2-2-2-2-8 2 2-2-2-2-8 2 2-2-2-2-4 2-2 0-2-4-6 2-2-4-6 2-26-8-10 2 2-2-2-2-8 2 2-2-2-2-6 0-2-2-10 2 2-2-2-2-8 2-2-4-8 2 2-2-2-2-10 2 2-2-2-2-4 0-6 2 2-2-2-2-10 2 2-2-2-2-4 2-16-2-2-2-12 2 2-2-2-2-10 2 2-2-2-2-8 0-4 2 2-2-2-2-12 2 2-2-2-2-12 2 2-2-2-2-14 2 2-2-2-2-12 2-2-4-12 2-2-4-16 4 2-4-2-2-16 4 2-2-2-2-16 2 2-2-2-2-12 0-6 3 2-3-2-2-20 3 1-3-1-2-20 3-2-4-10 0-2 2-10 0-4 2 1-5-1-1-28 4 1-3-3-3-6 2-16 0-2 2-10 0-2-4-30 0-2 2-34 2 1-3-1-1-6-2-40 0-2 2-16 0-6 4-60-2-8 6-12-4-16 0-10 6-8-4-12 0-8 6-8-4-8 0-8 6-8-4-6 0-8 6-12-4-10 8-2-4-6-2-8 6-8-4-12 6-4-4-12 8-2-4-6 0-6 4-2-2-6 0-8 6-2-4-4 0-8 6-2-4-4 0-4 4-8-2-8 6-2-4-4 0-6 6-2-4-4 0-6 6-2-4-2 0-8 6-2-4-8 4-6-2-4 4-6-2-6 4-4-2-6 4-4-2-8 6-2-4-8 6-2-4-8 6-2-4-6 4-4-2-4 4-6-2-4 4-4-2-6 4-4-2-4 4-4-2-14 6-4-2-4 4-4-2-4 4-4-2-6 4-2-2-6 4-2-2-14 6-2-2-6 4-2-2-4 4-4-2-4 4-2-2-6 4-2-2-6 4-2-2-4 4-2-2-6 4-2-2-4 4-6 0-2 2-2-2-4 4-2-2-6 4-2-2-4 4-2-2-12 6-2-2-4 4-2-2-4 4-2-2-12 6-10 2-4 4-2-2-4 4-2-2-4 4-2-2-8 4-12 3-4 4-2-2-4 4-12 2-12 8-4-2-4 4-6 0-4 4-6 0-4 4-6 0-76 56-75 68-71 78-64 86-55 88-44 88-32 88-24 92-14 92-4 96 5 100 14 102 24 106 33 106 42 108 50 106 56 100 62 96 68 90 72 82 79 78 84 73 90 66 96 62 100 54 106 48 108 40 108 32 114 26 114 17 116 10 116 2zM2069 1678l-3-1 3 1zM2177 1687l-2 0 2 0zM1469 1712l0-2 0 2zM1437 1718l0-2 0 2zM2383 1721l-2 0 2 0zM1397 1726l0-2 0 2zM1369 1732l0-2 0 2zM1351 1736l0-2 0 2zM1343 1738l0-2 0 2zM1309 1746l0-2 0 2zM1301 1748l0-2 0 2zM1263 1758l0-2 0 2zM1241 1764l0-2 0 2zM1227 1768l0-2 0 2zM1213 1772l0-2 0 2zM1193 1778l0-2 0 2z" fill="#63cd70"/><path d="M3681 2825l-4-70-2-2 0-16-2-2 0-14-2-2 0-14-2-2 0-12-4-14-2-24-4-12 0-10-2-2-2-18-2-2-2-18-4-10 0-8-8-26-6-30-12-36 0-6-8-20 0-6-10-30-4-6-6-22-4-6-2-10-4-6-2-10-14-30-4-14-8-14 0-4-10-18 0-4-44-86-42-70-34-50-66-84-34-38-56-56-40-36-68-54-70-48-64-38-74-38-4 0-22-12-18-6-24-12-46-16-6-4-22-6-6-4-30-10-6 0-26-10-20-4-8-4-14-2-8-4-14-2-26-8-8 0-18-6-28-4-2-2-18-2-12-4-10 0-12-4-12 0-2-2-10 0-14-4-44-4-2-2-14 0-2-2-36-2-2-2-22 0-2-2-24 0-2-2-84-2-2-2-108 0-2 2-88 2-2 2-26 0-2 2-22 0-2 2-20 0-2 2-56 4-2 2-14 0-2 2-14 0-2 2-40 4-2 2-26 2-2 2-34 4-2 2-22 2-2 2-18 2-2 2-10 0-2 2-28 4-2 2-28 4-10 4-18 2-10 4-8 0-18 6-8 0-34 10-38 8-8 4-22 4-50 16-6 0-14 6-6 0-20 8-6 0-54 18 0 6 6 4 2-6 4 4 2-5 4 3 2-5 4 3 2-5 6 3 0-4 4 3 2-3 4 1 3-3 3 1 4-1 0-2 2 2 6-5 2 2 3-1 1-2 2 1 149-37 116-22 111-15 91-9 91-5 90 0 92 3 94 8 94 13 90 16 94 22 90 26 86 30 86 34 82 38 81 43 75 45 74 50 72 55 66 57 64 62 58 64 54 66 48 68 42 68 38 71 34 75 30 81 24 84 18 89 10 82 12-1zM2304 4143l85-6 84-10 84-14 84-19 80-22 80-27 78-31 75-35 73-39 70-42 66-45 64-49 60-53 56-54 54-60 48-60 42-60 38-61 34-64 28-61 26-67 20-64 18-74 6-32 0-19 2-2 3-58-2-82-2-2 0-22-2-2-2-34-2-2-2-26-2-2 0-10-2-2 0-10-2-2-4-28-4-6 0-8-12-42 0-6-4-8 0-6-4-8 0-6-20-60-6-14-4-4-12-34-16-32 0-4-23-48-4-2 2-2-4-2-16-32-40-66-8-6-24-38-28-38-12-14-8-6-16-22-38-44-12-10-60-62-24-18-42-40-22-18-2 2-66-54-6-4-2 2-4-6-2 2-28-22-50-34-2 2-2-4-2 2-4-2-22-16-6-2-40-26-4-2-2 2-2-4-2 2-8-4-14-10-60-32-4 2 2-2-2-2-4 2 2-2-2-2-4 2 2-2-2-2-4 2-8-6-12-6-4 0-38-20-4 2-2-4-12-6-4 2-2-4-2 2-2-4-4 2-14-8-28-10-20-10-8-2-2 2-2-4-4 2 2-2-2-2-4 2-2-4-4 2 2-2-2-2-4 2-2-4-2 2-8-2-6-4-44-14-24-10-6 2 2-2-2-2-6 2-2-4-4 2-2-4-4 2-2-4-2 2-10-2-34-12-8 2 2-2-2-2-10-2-2 2-2-4-6 2 2-2-2-2-8 2 2-2-2-2-4 2-2 0 2-2-2-2-8 2 2-2-2-2-8 2 2-2-2-2-4 2-2 0-2-4-6 2-2-4-6 2-26-8-10 2 2-2-2-2-8 2 2-2-2-2-6 0-2-2-10 2 2-2-2-2-8 2-2-4-8 2 2-2-2-2-10 2 2-2-2-2-4 0-6 2 2-2-2-2-10 2 2-2-2-2-4 2-16-1-2-2-12 2 1-3-1-1-10 2 1-3-1-1-8 0-4 2 1-3-1-1-12 2 1-3-1-1-12 2 1-3-1-1-14 2 1-3-1-1-12 2-2-4-12 2-2-4-16 4 1-5-1-1-16 4 1-3-1-1-16 2 1-3-1-1-12 0-6 2 1-3-1-1-20 2 1-3-1-1-20 2-2-4-10 0-2 2-10 0-4 2 1-5-1-1-28 4 1-3-3-3-6 2-16 0-2 2-10 0-2-4-30 0-2 2-34 2 0-4-6-2-40 0-2 2-16 0-6 4-60-2-8 6-12-4-16 0-10 6-8-4-12 0-8 6-8-4-8 0-8 6-8-4-6 0-8 6-12-4-10 8-2-4-6-2-8 6-8-4-12 6-4-4-12 8-2-4-6 0-6 4-2-2-6 0-8 6-2-4-4 0-8 6-2-4-4 0-4 4-8-2-8 6-2-4-4 0-6 6-2-4-4 0-6 6-2-4-2 0-8 6-2-4-8 4-6-2-4 4-6-2-6 4-4-2-6 4-4-2-8 6-2-4-8 6-2-4-8 6-2-4-6 4-4-2-4 4-6-2-4 4-4-2-6 4-4-2-4 4-4-2-14 6-4-2-4 4-4-2-4 4-4-2-6 4-2-2-6 4-2-2-6 4-2-2-14 6-2-2-4 4-4-2-4 4-2-2-14 6-2-2-4 4-2-2-6 4-2-2-4 4-6 0-2 2-2-2-4 4-2-2-6 4-2-2-4 4-2-2-12 6-2-2-4 4-2-2-4 4-2-2-6 2-6 4-10 2-4 4-2-2-4 4-2-1-4 4-2-2-8 4-12 2-4 4-2-2-10 6-6 0-12 8-4-2-4 4-6 0-77 56-75 68-71 78-66 88-54 88-44 90-33 90-22 92-13 94-4 96 7 100 15 104 26 106 34 108 44 110 52 106 57 100 64 94 70 90 74 82 80 77 86 71 90 65 98 60 100 52 108 47 110 38 112 31 114 23 116 16 116 7 117-1zM2069 1678l-3-1 3 1zM1328 1695l1-6 4 4 0-11-12 3 1 6 6 4zM2177 1688l-3-1 3 1zM1469 1712l0-2 0 2zM1437 1718l0-2 0 2zM2383 1721l-2 0 2 0zM1397 1726l0-2 0 2zM1369 1732l0-2 0 2zM1351 1736l0-2 0 2zM1343 1738l0-2 0 2zM1309 1746l0-2 0 2zM1301 1748l0-2 0 2zM1263 1758l0-2 0 2zM1241 1764l0-2 0 2zM1227 1768l0-2 0 2zM1213 1772l0-2 0 2zM1193 1778l0-2 0 2zM3683 2855l-2-26-6 2-5 6 0 10 1 9 12-1z" fill="#57cc7a"/><path d="M3679 2791l-4-54-2-2-2-30-2-2 0-12-4-14 0-12-2-2 0-10-4-12 0-10-2-2-6-38-4-10 0-8-8-26-6-30-8-22-4-20-8-20 0-6-10-30-4-6-6-22-4-6-2-10-4-6-2-10-14-30-4-14-8-14 0-4-10-18 0-4-32-64-4-4-8-18-4-4-28-50-44-66-46-60-54-62-56-56-64-56-72-54-58-38-44-24-4-4-22-10-4-4-74-36-4 0-38-18-46-16-6-4-90-30-6 0-8-4-6 0-8-4-14-2-8-4-14-2-26-8-8 0-18-6-28-4-2-2-18-2-12-4-10 0-12-4-12 0-2-2-10 0-14-4-12 0-2-2-14 0-2-2-14 0-2-2-14 0-2-2-16 0-2-2-18 0-2-2-22 0-2-2-58-2-2-2-50 0-2-2-108 0-2 2-88 2-2 2-26 0-2 2-22 0-2 2-20 0-2 2-56 4-2 2-14 0-2 2-14 0-2 2-40 4-2 2-26 2-2 2-34 4-2 2-22 2-2 2-18 2-2 2-10 0-2 2-28 4-2 2-28 4-10 4-18 2-10 4-8 0-18 6-8 0-34 10-38 8-8 4-22 4-8 4-6 0-8 4-6 0-8 4-6 0-8 4-6 0-14 6-6 0-18 6 1 6 5 4 2-5 4 4 2-5 4 3 4-6 4 3 2-4 4 3 2-3 8 0 0-4 4 3 3-3 7 0 2-3 2 2 4-1 0-2 2 2 5-2 1-2 2 1 137-31 103-18 112-14 90-7 90-4 90 1 90 5 92 9 90 13 86 16 90 22 86 26 86 30 82 34 79 37 77 42 77 46 71 49 68 52 64 56 62 60 56 61 52 64 46 65 42 66 38 70 32 69 32 84 24 79 18 82 10 66 2 0-2 3 2 15 12-1zM1399 1671l2-5 4 3 2-5 5 3 1-12-20 6 6 10zM2275 4127l86-4 86-8 84-12 84-17 82-21 80-25 78-29 78-34 72-37 72-41 68-45 66-49 60-50 58-55 54-57 50-61 42-57 40-63 34-61 30-62 26-64 22-65 18-68 14-71 3-58-2-80-2-2 0-22-2-2-2-34-2-2-2-26-2-2 0-10-2-2 0-10-2-2-2-18-2-2 0-8-4-6 0-8-12-42 0-6-4-8 0-6-4-8 0-6-20-60-6-14-4-4-12-34-16-32 0-4-24-48-4-2 2-2-4-2-16-32-40-66-8-6-23-38-28-38-12-14-8-6-16-22-38-44-12-10-60-62-24-18-42-40-22-18-2 2-66-54-6-4-2 2-4-6-2 2-28-22-50-34-2 2-2-4-2 2-4-2-22-16-6-2-40-26-4-2-2 2-2-4-2 2-8-4-14-10-60-32-4 2 2-2-2-2-4 2 2-2-2-2-4 2 2-2-2-2-4 2-8-6-12-6-4 0-38-20-4 2-2-4-12-6-4 2-2-4-2 2-2-4-4 2-14-8-28-10-20-10-8-2-2 2-2-4-4 2 2-2-2-2-4 2-2-4-4 2 2-2-2-2-4 2-2-4-2 2-8-2-6-4-44-14-24-10-6 2 2-2-2-2-6 2-2-4-4 2-2-4-4 2-2-4-2 2-10-2-34-11-8 2 1-3-1-1-10-2-2 2-2-4-6 2 1-3-1-1-8 2 1-3-1-1-4 2-3-1 2-2-1-1-8 2 1-3-1-1-8 2 1-3-1-1-4 2-3-1-1-3-6 2-2-4-6 2-26-8-10 2 1-3-1-1-8 2 1-3-1-1-6 0-2-2-10 2 1-3-1-1-8 2-2-4-8 2 1-3-1-1-10 2 1-3-1-1-4 0-6 2 1-3-1-1-10 2 1-3-1-1-4 2-16-2-2-2-12 2 1-3-1-1-10 2 1-3-1-1-8 0-4 2 1-3-1-1-12 2 1-3-1-1-12 2 1-3-1-1-14 2 1-3-1-1-12 2-2-4-12 2-2-4-16 4 1-5-1-1-16 4 1-3-1-1-16 2 1-3-1-1-12 0-6 2 1-3-1-1-20 2 1-3-1-1-20 2-2-4-10 0-2 2-10 0-4 2 0-6-28 4 1-3-3-3-6 2-16 0-2 2-10 0-2-4-30 0-2 2-34 2 0-4-6-2-40 0-2 2-16 0-6 4-60-2-8 6-12-4-16 0-10 6-8-4-12 0-8 6-8-4-8 0-8 6-8-4-6 0-8 6-12-4-10 8-2-4-6-2-8 6-8-4-12 6-4-4-12 8-2-4-6 0-6 4-2-2-6 0-8 6-2-4-4 0-8 6-2-4-4 0-4 4-8-2-8 6-2-4-4 0-6 6-2-4-4 0-6 6-2-4-2 0-8 6-2-4-8 4-6-2-4 4-6-2-6 4-4-2-6 4-4-2-8 6-2-4-8 6-2-4-8 6-2-4-6 4-4-2-4 4-6-2-4 4-4-2-6 4-4-2-4 4-4-2-14 6-4-2-4 4-4-2-4 4-4-2-6 4-2-2-6 4-2-2-6 4-2-2-6 4-2-2-6 4-2-2-4 4-4-2-4 4-2-2-14 6-2-2-4 4-2-2-6 4-2-2-4 4-6 0-2 2-2-2-4 4-2-2-6 4-2-2-4 4-2-2-12 6-2-2-4 4-2-2-4 4-2-1-6 2-6 4-10 2-4 4-2-2-10 6-2-2-8 4-6 0-10 6-2-2-4 4-12 2-4 4-4 0-33 22-42 32-75 68-71 78-63 84-55 88-43 86-33 88-23 92-14 92-4 94 5 98 14 100 24 104 32 106 42 108 49 104 55 100 61 94 68 90 71 82 79 79 84 72 88 66 94 60 100 54 104 48 106 40 108 32 112 25 114 18 114 10 116 2zM2069 1678l-3-1 3 1zM2177 1688l-3-1 3 1zM1469 1712l0-2 0 2zM1437 1718l0-2 0 2zM2383 1722l-3-1 3 1zM1397 1726l0-2 0 2zM1369 1732l0-2 0 2zM1351 1736l0-2 0 2zM1343 1738l0-2 0 2zM1309 1746l0-2 0 2zM1301 1748l0-2 0 2zM1263 1758l0-2 0 2zM1241 1764l0-2 0 2zM1227 1768l0-2 0 2zM1213 1772l-1-1 1-1 0 2zM1193 1778l-1-1 1-1 1 1-1 1zM3681 2813l-2-18-6 2-5 6 1 11 12-1zM3683 2841l-2-11-6 2-5 5 1 6 12 0 0-2z" fill="#4ccb83"/><path d="M3677 2763l-8-72-2-2-2-24-2-2 0-10-4-12 0-10-2-2-2-18-2-2-2-18-4-10 0-8-8-26-6-30-4-8-8-34-8-20 0-6-10-30-4-6-6-22-4-6-16-46-6-10 0-4-12-24 0-4-10-18 0-4-44-86-42-70-34-50-66-84-34-38-80-78-50-42-62-46-58-38-44-24-4-4-22-10-4-4-74-36-4 0-58-26-10-2-6-4-10-2-6-4-22-6-6-4-30-10-6 0-26-10-42-10-8-4-14-2-26-8-8 0-18-6-28-4-2-2-18-2-12-4-10 0-12-4-36-4-2-2-60-6-2-2-16 0-2-2-18 0-2-2-48-2-2-2-32 0-2-2-50 0-2-2-162 2-2 2-34 0-2 2-50 2-2 2-20 0-2 2-18 0-2 2-18 0-2 2-48 4-2 2-12 0-2 2-12 0-2 2-12 0-2 2-12 0-2 2-12 0-2 2-34 4-2 2-22 2-2 2-18 2-2 2-10 0-2 2-28 4-2 2-28 4-10 4-36 6-18 6-8 0-2 2-70 16-8 4-22 4-8 4-26 6 0 6 6 5 2-12 1 5 5 4 2-5 4 4 4-6 4 4 2-1 0-4 4 3 4-1 0-4 4 3 3-1 1-4 4 3 3-1 1-4 4 3 4-1 0-2 2 2 6-2 0-2 2 2 153-32 108-16 93-10 84-5 88-1 84 2 84 6 88 9 88 14 86 18 86 22 84 26 82 30 80 34 76 37 76 41 68 42 72 50 65 51 62 54 59 57 56 62 50 61 44 62 42 66 36 66 32 67 30 76 26 82 16 66 12 68 2 0-2 3 2 11 10 0-4 1-5 6 1 9 12-1zM1472 1649l1-12-8 2 1 6 6 4zM1458 1653l0-12-7 2 1 6 6 4zM2307 4109l84-4 84-9 84-14 82-17 80-21 78-26 78-30 74-33 72-37 70-41 66-45 64-48 60-51 56-54 52-57 48-59 40-55 38-60 34-62 30-63 26-65 22-67 18-70 12-63 2-59-1-66-2-2 0-22-2-2-2-34-2-2-2-26-2-2 0-10-2-2 0-10-2-2-2-18-2-2 0-8-4-6 0-8-12-42 0-6-8-22 0-6-20-60-6-14-4-4-12-34-16-32 0-4-24-48-4-2 2-2-4-2-16-32-40-66-8-6-24-38-28-38-12-14-8-6-16-22-38-44-11-9-60-63-24-17-42-41-22-18-2 2-66-54-6-4-2 2-4-6-2 2-28-22-50-34-2 2-2-4-2 2-4-2-22-16-6-2-40-26-4-2-2 2-2-4-2 2-8-4-14-10-60-32-4 3 2-3-2-2-4 3 2-3-2-2-4 3 2-3-2-2-4 3-8-6-12-6-4 0-38-20-4 2-2-4-12-6-4 2-2-4-3 1-1-3-4 2-14-8-28-10-20-10-8-2-2 2-2-4-4 2 1-3-1-1-4 2-2-4-4 2 1-3-1-1-4 2-2-4-2 2-8-2-6-4-44-14-24-10-6 2 1-3-1-1-6 2-2-4-4 2-2-4-4 2-2-4-2 2-10-2-34-12-8 2 1-3-1-1-10-2-2 2-2-4-6 2 1-3-1-1-8 2 1-3-1-1-4 2-3-1 2-2-1-1-8 2 1-3-1-1-8 2 1-3-1-1-4 2-3-1-1-3-6 2-2-4-6 2-26-8-10 2 1-3-1-1-8 2 1-3-1-1-6 0-2-2-10 2 1-3-1-1-8 2-2-4-8 2 1-3-1-1-10 2 1-3-1-1-4 0-6 2 1-3-1-1-10 2 1-3-1-1-4 2-16-2-2-2-12 2 1-3-1-1-10 2 1-3-1-1-8 0-4 2 0-4-12 2 0-4-12 2 0-4-14 2 0-4-12 2-2-4-12 2-2-4-16 4 0-6-16 4 0-4-16 2 0-4-12 0-6 2 0-4-20 2 0-4-20 2-2-4-10 0-2 2-10 0-4 2 0-6-28 4 1-3-3-3-6 2-16 0-2 2-10 0-2-4-30 0-2 2-34 2 0-4-6-2-40 0-2 2-16 0-6 4-60-2-8 6-12-4-16 0-10 6-8-4-12 0-8 6-8-4-8 0-8 6-8-4-6 0-8 6-12-4-10 8-2-4-6-2-8 6-8-4-12 6-4-4-12 8-2-4-6 0-6 4-2-2-6 0-8 6-2-4-4 0-8 6-2-4-4 0-4 4-8-2-8 6-2-4-4 0-6 6-2-4-4 0-6 6-2-4-2 0-8 6-2-4-8 4-6-2-4 4-6-2-6 4-4-2-6 4-4-2-8 6-2-4-8 6-2-4-8 6-2-4-6 4-4-2-4 4-6-2-4 4-4-2-6 4-4-2-4 4-4-2-14 6-4-2-4 4-4-2-4 4-4-2-6 4-2-2-6 4-2-2-6 4-2-2-6 4-2-2-6 4-2-2-4 4-4-2-4 4-2-2-6 4-2-2-6 4-2-2-4 4-2-2-6 4-2-2-4 4-6 0-2 2-2-2-4 4-2-2-6 4-2-1-4 4-2-2-12 6-2-2-4 4-2-2-4 4-2-2-6 2-6 4-10 2-4 4-2-2-4 4-2-2-4 4-2-2-8 4-12 2-4 4-2-2-33 22-43 32-74 66-70 76-65 86-55 86-44 88-33 88-24 92-14 92-4 94 5 98 14 102 25 106 33 106 41 106 50 106 56 100 61 94 67 88 74 84 79 78 84 71 90 66 94 60 100 53 104 47 106 39 110 31 112 25 116 17 114 8 116 1zM2069 1678l-3-1 3 1zM2177 1688l-3-1 3 1zM1469 1712l0-2 0 2zM1437 1718l0-2 0 2zM2383 1722l-3-1 3 1zM1397 1726l0-2 0 2zM1369 1732l0-2 0 2zM1351 1736l0-2 0 2zM1343 1738l0-2 0 2zM1309 1746l0-2 0 2zM1301 1748l0-2 0 2zM1263 1758l0-2 0 2zM1241 1764l-1-1 1-1 1 1-1 1zM1227 1768l-1-1 1-1 1 1-1 1zM1213 1772l-2-1 2-2 1 2-1 1zM1193 1779l-2-2 2-2 2 2-2 2zM3679 2781l-2-11-6 2-5 5 1 6 12 0 0-2zM3681 2805l-2-8-6 2-4 4 0 2 12 0z" fill="#42ca8b"/><path d="M3671 2711l-8-58-4-12 0-10-2-2-2-18-2-2-2-18-4-10 0-8-8-26-6-30-12-36 0-6-28-84-4-6-2-10-4-6-10-30-6-10-4-14-18-36 0-4-44-86-42-70-34-50-66-84-34-38-80-78-50-42-62-46-58-38-44-24-4-4-22-10-4-4-74-36-4 0-58-26-10-2-6-4-10-2-6-4-22-6-6-4-30-10-6 0-26-10-42-10-8-4-14-2-26-8-8 0-18-6-28-4-2-2-18-2-12-4-10 0-12-4-36-4-2-2-60-6-2-2-16 0-2-2-18 0-2-2-48-2-2-2-32 0-2-2-160-2-2 2-52 0-2 2-62 2-2 2-22 0-2 2-20 0-2 2-56 4-2 2-14 0-2 2-14 0-2 2-40 4-2 2-26 2-2 2-34 4-2 2-22 2-2 2-18 2-2 2-10 0-2 2-28 4-2 2-28 4-10 4-18 2-10 4-8 0-18 6-8 0-2 2-76 18 0 6 6 5 2-1 0-10 0 4 6 5 2-1 0-10 0 4 6 5 2-1 0-10 0 4 6 5 4-6 4 4 3-1 1-5 4 4 3-1 1-4 4 3 4-1 0-4 4 3 5-1 0-2 3 1 6-1 0-2 2 2 7-2 1-2 2 1 138-25 91-12 91-8 82-4 84-1 80 3 84 6 86 11 84 14 80 17 84 22 82 26 76 28 76 32 76 36 72 39 72 44 64 45 63 48 61 52 56 54 54 57 50 60 44 60 40 61 36 62 32 63 32 75 28 81 18 66 14 67 2 0-2 2 2 9 4 0-3 5 1 8 12 0 0-2zM1514 1637l1-12 2 6 4 4 1-12-15 4 1 6 6 4zM2321 4091l84-5 82-8 82-13 82-18 80-21 78-25 76-30 72-32 70-36 70-42 66-44 62-47 58-49 56-54 52-57 48-59 42-58 40-64 34-63 30-65 26-67 20-63 18-73 12-68 0-55-2-2-1-64-2-2 0-18-2-2-4-42-2-2 0-10-2-2 0-10-2-2-2-18-2-2 0-8-4-6 0-8-12-42 0-6-8-22 0-6-20-60-6-14-4-4-12-34-16-32 0-4-24-48-4-2 2-2-4-2-16-32-40-66-8-6-24-38-28-38-12-14-8-6-16-22-38-44-11-9-60-62-24-18-42-40-22-18-2 2-66-54-6-4-2 2-4-6-2 2-28-22-50-34-2 2-2-4-2 2-4-2-22-16-6-2-40-26-4-2-2 2-2-4-2 2-8-4-14-10-60-32-4 2 1-3-1-1-4 2 1-3-1-1-4 2 1-3-1-1-4 2-8-6-12-6-4 0-38-20-4 2-2-4-12-6-4 2-2-4-3 1-1-3-4 2-14-8-28-10-20-10-8-2-2 2-2-4-4 2 1-3-1-1-4 2-2-4-4 2 1-3-1-1-4 2-2-4-2 2-8-2-6-4-44-14-24-10-6 2 1-3-1-1-6 2-2-4-4 2-2-4-4 2-2-4-2 2-10-2-34-12-8 2 1-3-1-1-10-2-2 2-2-4-6 2 1-3-1-1-8 2 1-3-1-1-4 2-3-1 2-2-1-1-8 2 1-3-1-1-8 2 1-3-1-1-4 2-3-1-1-3-6 2-2-4-6 2-26-8-10 2 0-4-8 2 0-4-6 0-2-2-10 2 0-4-8 2-2-4-8 2 0-4-10 2 0-4-4 0-6 2 0-4-10 2 0-4-4 2-16-2-2-2-12 2 0-4-10 2 0-4-8 0-4 2 0-4-12 2 0-4-12 2 0-4-14 2 0-4-12 2-2-4-12 2-2-4-16 4 0-6-16 4 0-4-16 2 0-4-12 0-6 2 0-4-20 2 0-4-20 2-2-4-10 0-2 2-10 0-4 2 0-6-28 4 1-3-3-3-6 2-16 0-2 2-10 0-2-4-30 0-2 2-34 2 0-4-6-2-40 0-2 2-16 0-6 4-60-2-8 6-12-4-16 0-10 6-8-4-12 0-8 6-8-4-8 0-8 6-8-4-6 0-8 6-12-4-10 8-2-4-6-2-8 6-8-4-12 6-4-4-12 8-2-4-6 0-6 4-2-2-6 0-8 6-2-4-4 0-8 6-2-4-4 0-4 4-8-2-8 6-2-4-4 0-6 6-2-4-4 0-6 6-2-4-2 0-8 6-2-4-8 4-6-2-4 4-6-2-6 4-4-2-6 4-4-2-8 6-2-4-8 6-2-4-8 6-2-4-6 4-4-2-4 4-6-2-4 4-4-2-6 4-4-2-4 4-4-2-14 6-4-2-4 4-4-2-4 4-4-2-6 4-2-2-6 4-2-2-6 4-2-2-6 4-2-2-6 4-2-2-4 4-4-2-4 4-2-2-6 4-2-2-6 4-2-2-4 4-2-2-6 4-2-1-4 4-6 0-2 2-2-2-4 4-2-2-6 4-2-2-4 4-2-2-12 6-2-2-4 4-2-2-4 4-2-2-6 2-6 4-10 2-4 4-2-2-4 4-2-2-4 4-2-2-11 4-77 56-73 66-71 78-63 84-52 84-44 88-33 88-23 92-13 92-4 94 6 98 15 100 24 104 34 108 42 106 50 104 56 100 61 92 67 88 73 82 78 77 84 71 90 66 94 58 98 53 104 46 106 38 110 32 112 24 112 16 114 8 114 1zM1975 1674l0-2 0 2zM2069 1678l-3-1 3 1zM2089 1680l0-2 0 2zM2177 1688l-3-1 3 1zM1469 1712l0-2 0 2zM1437 1718l0-2 0 2zM2383 1722l-3-1 3 1zM1397 1726l0-2 0 2zM1369 1732l0-2 0 2zM1351 1736l0-2 0 2zM1343 1738l0-2 0 2zM1309 1746l0-2 0 2zM1301 1748l0-2 0 2zM1263 1758l-1-1 1-1 1 1-1 1zM1241 1764l-2-1 2-2 2 2-2 1zM1227 1769l-2-2 2-2 2 2-2 2zM1213 1773l-2-2 2-2 2 2-2 2zM1193 1779l-2-2 2-2 2 2-2 2zM3673 2725l-2-12-2 2-4 0-5 6 1 5 12-1zM3675 2741l-2-11-6 2-5 5 1 4 12 0zM3677 2757l-2-9-6 2-5 5 1 3 12-1zM3679 2777l-2-6-10 6 12 0z" fill="#3ac993"/><path d="M3665 2669l-4-26-2-2 0-10-2-2-4-28-2-2 0-8-4-10 0-8-8-26-6-30-8-22-4-20-8-20 0-6-10-30-4-6-6-22-4-6-2-10-4-6-2-10-14-30-4-14-8-14 0-4-10-18 0-4-32-64-4-4-8-18-4-4-28-50-30-46-44-60-50-60-20-22-80-78-50-42-62-46-58-38-44-24-4-4-22-10-4-4-74-36-4 0-58-26-10-2-6-4-10-2-6-4-22-6-6-4-30-10-6 0-26-10-42-10-8-4-14-2-26-8-8 0-18-6-28-4-2-2-18-2-12-4-10 0-12-4-12 0-2-2-10 0-14-4-44-4-2-2-14 0-2-2-36-2-2-2-22 0-2-2-24 0-2-2-84-2-2-2-108 0-2 2-88 2-2 2-26 0-2 2-22 0-2 2-60 4-2 2-48 4-2 2-12 0-2 2-12 0-2 2-12 0-2 2-12 0-2 2-12 0-2 2-34 4-2 2-22 2-2 2-18 2-2 2-10 0-2 2-28 4-2 2-28 4-10 4-18 2-10 4-8 0-18 6-8 0-2 2-29 6 7 10 0-10 2-1 1 5 5 4 2-11 1 5 5 5 2-11 0 4 6 5 2-1 0-10 2-1 1 5 5 4 2-10 0 4 6 5 4-5 4 3 4-1 0-10 0 4 6 5 3-1 1-4 4 3 5-1 1-4 4 3 5-1 1-4 4 3 5-1 0-2 3 2 7-2 0-2 3 2 8-2 0-2 2 2 110-18 87-10 79-6 82-3 80 0 78 4 80 7 80 10 81 14 83 18 80 22 76 24 76 28 70 29 72 35 70 38 66 40 68 46 60 45 60 51 54 51 52 54 48 57 44 57 40 59 36 60 32 60 34 75 28 75 18 60 16 65 2 0-2 3 2 7 2 0-2 3 2 7 4 0-3 5 1 6 12 0 0-2zM2321 4073l84-4 81-8 81-12 80-16 80-21 78-25 76-28 72-32 72-37 68-39 66-44 62-46 58-49 56-53 52-56 48-59 44-61 40-63 36-67 30-65 26-68 22-71 16-67 12-71 0-36-2-2-1-64-2-2 0-18-2-2-4-42-2-2 0-10-2-2 0-10-2-2-2-18-2-2 0-8-4-6 0-8-12-42 0-6-8-22 0-6-20-60-6-14-4-4-12-34-16-32 0-4-24-48-4-2 2-2-4-2-16-32-40-66-8-6-24-38-28-38-12-14-8-6-16-22-38-44-11-9-60-62-24-18-42-40-22-18-2 2-66-54-6-4-2 2-4-6-2 2-28-22-50-34-2 2-2-4-2 2-4-2-22-16-6-2-40-26-4-2-2 2-2-4-2 2-8-4-14-10-60-32-4 2 1-3-1-1-4 2 1-3-1-1-4 2 1-3-1-1-4 2-8-6-12-6-4 0-38-20-4 2-2-4-12-6-4 2-2-4-3 1-1-3-4 2-14-8-28-10-20-10-8-2-2 2-2-4-4 2 0-4-4 2-2-4-4 2 0-4-4 2-2-4-2 2-8-2-6-4-44-14-24-10-6 2 0-4-6 2-2-4-2 2-3-1-1-3-4 2-2-4-2 2-10-2-34-12-8 2 0-4-10-2-2 2-2-4-6 2 0-4-8 2 0-4-4 2-3-1 2-2-1-1-8 2 0-4-8 2 0-4-4 2-3-1-1-3-6 2-2-4-6 2-26-8-10 2 0-4-8 2 0-4-6 0-2-2-10 2 0-4-8 2-2-4-8 2 0-4-10 2 0-4-4 0-6 2 0-4-10 2 0-4-4 2-16-2-2-2-12 2 0-4-10 2 0-4-8 0-4 2 0-4-12 2 0-4-12 2 0-4-14 2 0-4-12 2-2-4-12 2-2-4-16 4 0-6-16 4 0-4-16 2 0-4-12 0-6 2 0-4-20 2 0-4-20 2-2-4-10 0-2 2-10 0-4 2 0-6-28 4 1-3-3-3-6 2-16 0-2 2-10 0-2-4-30 0-2 2-34 2 0-4-6-2-40 0-2 2-16 0-6 4-60-2-8 6-12-4-16 0-10 6-8-4-12 0-8 6-8-4-8 0-8 6-8-4-6 0-8 6-12-4-10 8-2-4-6-2-8 6-8-4-12 6-4-4-12 8-2-4-6 0-6 4-2-2-6 0-8 6-2-4-4 0-8 6-2-4-4 0-4 4-8-2-8 6-2-4-4 0-6 6-2-4-4 0-6 6-2-4-2 0-8 6-2-4-8 4-6-2-4 4-6-2-6 4-4-2-6 4-4-2-8 6-2-4-8 6-2-4-8 6-2-4-6 4-4-2-4 4-6-2-4 4-4-2-6 4-4-2-4 4-4-2-14 6-4-2-4 4-4-2-4 4-4-2-6 4-2-2-6 4-2-2-6 4-2-2-6 4-2-2-6 4-2-2-4 4-4-1-4 4-2-2-6 4-2-2-6 4-2-2-4 4-2-2-6 4-2-2-4 4-6 0-2 2-2-2-4 4-2-2-6 4-2-2-4 4-2-2-12 6-2-2-4 4-2-2-4 4-2-2-6 2-6 4-10 2-4 4-2-2-75 54-74 66-70 76-64 84-53 84-43 86-34 90-23 88-13 90-5 94 5 96 14 100 24 104 32 104 42 108 48 102 54 98 61 94 66 88 72 82 78 78 82 70 88 66 94 60 98 53 102 46 104 39 108 32 110 24 114 17 112 10 114 1zM1975 1674l0-2 0 2zM2069 1678l-3-1 3-1 0 2zM2089 1680l0-2 0 2zM2177 1688l-3-1 3 1zM2189 1690l0-2 0 2zM2203 1692l0-2 0 2zM1469 1712l0-2 0 2zM1437 1718l0-2 0 2zM2383 1722l-3-1 3 1zM1397 1726l0-2 0 2zM1369 1732l0-2 0 2zM1351 1736l0-2 0 2zM1343 1738l0-2 0 2zM1309 1746l-1-1 1-1 1 1-1 1zM1301 1748l-1-1 1-1 1 1-1 1zM1263 1759l-2-2 2-2 2 2-2 2zM1241 1765l-2-2 2-2 2 2-2 2zM1227 1769l-2-2 2-2 2 2-2 2zM1213 1773l-2-2 2-2 2 2-2 2zM1193 1779l-2-2 2-2 2 2-2 2zM3667 2681l-2-10-2 3-4 0-5 5 1 3 12-1zM3669 2693l-2-10-2 3-4 0-5 5 1 3 12-1zM3671 2707l-2-9-6 2-5 5 1 2 12 0zM3673 2721l-2-6-6 2-4 4 12 0zM3675 2737l-2-6-10 6 12 0z" fill="#34c79b"/><path d="M3659 2633l-4-14 0-8-2-2 0-8-2-2 0-8-4-10 0-8-8-26-6-30-12-36 0-6-8-20 0-6-10-30-4-6-6-22-4-6-16-46-6-10 0-4-12-24 0-4-10-18 0-4-44-86-42-70-34-50-46-60-54-62-56-56-40-36-52-42-44-32-58-38-44-24-4-4-22-10-4-4-74-36-4 0-58-26-10-2-6-4-10-2-6-4-22-6-6-4-30-10-6 0-54-18-14-2-8-4-14-2-26-8-8 0-18-6-28-4-2-2-18-2-12-4-10 0-12-4-12 0-2-2-10 0-14-4-44-4-2-2-14 0-2-2-36-2-2-2-48-2-2-2-32 0-2-2-50 0-2-2-108 0-2 2-88 2-2 2-50 2-2 2-20 0-2 2-18 0-2 2-18 0-2 2-48 4-2 2-12 0-2 2-12 0-2 2-12 0-2 2-12 0-2 2-12 0-2 2-34 4-2 2-22 2-2 2-30 4-2 2-8 0-2 2-46 8 8 11 2-1 0-10 2-1 1 5 5 5 2-1 0-10 2-1 1 5 5 5 3-1 1-10 0 4 6 5 4-1 0-10 0 4 6 5 5-1 1-4 4 3 7-1 1-4 4 3 6-1 2-2 2 2 129-18 91-7 80-4 74 0 76 3 78 6 70 8 77 12 79 16 74 18 75 22 75 26 72 28 67 30 67 34 64 36 64 40 60 42 57 44 54 46 53 51 50 53 46 54 40 52 38 56 34 55 32 59 34 74 28 72 18 57 14 53 2 0-2 2 2 6 2 0 0 9 4 1-3 4 1 4 4 0 0 2-3 4 1 4 12 0 0-2zM1679 1597l0-10 2-1 1 5 5 5 2-1 0-12-16 4 6 10zM1669 1599l0-12-6 2 2 6 4 4zM1660 1601l0-12-8 2 2 2 0 4 6 4zM1642 1605l0-12-8 2 3 2 0 4 5 4zM1615 1611l0-12-6 2 6 10zM2371 4053l82-6 80-10 78-13 78-18 76-21 76-26 72-29 72-33 68-36 66-41 63-43 59-46 56-49 54-53 48-53 46-58 42-60 38-62 34-65 30-67 26-71 20-68 16-72 10-64-2-56-2-2 0-22-2-2 1-18-2-2-4-42-2-2 0-10-2-2 0-10-2-2-2-18-2-2 0-8-4-6 0-8-12-42 0-6-32-98-6-8-12-34-16-32 0-4-24-48-4-2 2-2-4-2-16-32-40-66-8-6-24-38-28-38-12-14-8-6-16-22-38-44-11-9-60-62-24-18-54-50-10-8-2 2-58-48-14-10-2 2-4-6-2 2-28-22-50-34-2 2-2-4-2 2-4-2-22-16-6-2-40-26-4-2-2 2-2-4-2 2-8-4-14-10-60-32-4 2 0-4-4 2 0-4-4 2 0-4-4 2-8-6-12-6-4 0-38-20-4 2-2-4-12-6-4 2-2-4-3 1-1-3-4 2-14-8-28-10-20-10-8-2-2 2-2-4-4 2 0-4-4 2-2-4-4 2 0-4-4 2-2-4-2 2-8-2-6-4-44-14-24-10-6 2 0-4-6 2-2-4-2 2-3-1-1-3-4 2-2-4-2 2-10-2-34-12-8 2 0-4-10-2-2 2-2-4-6 2 0-4-8 2 0-4-4 2-3-1 2-2-1-1-8 2 0-4-8 2 0-4-4 2-3-1-1-3-6 2-2-4-6 2-26-8-10 2 0-4-8 2 0-4-6 0-2-2-10 2 0-4-8 2-2-4-4 0-4 2 0-4-10 2 0-4-4 0-6 2 0-4-10 2 0-4-4 2-16-2-2-2-12 2 0-4-10 2 0-4-12 2 0-4-6 0-6 2 0-4-12 2 0-4-14 2 0-4-12 2-2-4-4 0-2 2-6 0-2-4-16 4 0-6-16 4 0-4-16 2 0-4-12 0-6 2 0-4-20 2 0-4-20 2-2-4-10 0-2 2-10 0-4 2 0-6-28 4 1-3-3-3-6 2-16 0-2 2-10 0-2-4-30 0-2 2-34 2 0-4-6-2-40 0-2 2-16 0-6 4-60-2-8 6-12-4-16 0-10 6-8-4-12 0-8 6-8-4-8 0-8 6-8-4-6 0-8 6-12-4-10 8-2-4-6-2-8 6-8-4-12 6-4-4-12 8-2-4-6 0-6 4-2-2-6 0-8 6-2-4-4 0-8 6-2-4-4 0-4 4-8-2-8 6-2-4-4 0-6 6-2-4-4 0-6 6-2-4-2 0-8 6-2-4-8 4-6-2-4 4-6-2-6 4-4-2-6 4-4-2-8 6-2-4-8 6-2-4-8 6-2-4-6 4-4-2-4 4-6-2-4 4-4-2-6 4-4-2-4 4-4-2-14 6-4-2-4 4-4-2-4 4-4-2-6 4-2-2-6 5-2-2-6 4-2-2-6 4-2-2-6 4-2-2-4 4-4-2-4 4-2-2-6 4-2-2-6 4-2-2-4 4-2-2-6 4-2-2-4 4-6 0-2 2-2-2-4 4-2-2-6 4-2-2-4 4-2-2-12 6-2-2-4 4-2-2-4 4-2-2-5 2-78 56-72 64-70 76-64 84-55 86-43 88-33 87-23 91-13 90-4 94 6 97 15 99 24 102 34 108 43 109 51 105 55 98 63 94 67 87 73 81 79 76 83 70 91 65 94 58 100 52 104 45 108 38 108 29 112 23 112 14 114 7 114-1zM1975 1674l0-2 0 2zM2069 1678l-3-1 3-1 0 2zM2089 1680l0-2 0 2zM2177 1688l-3-1 3-1 0 2zM2189 1690l0-2 0 2zM2203 1692l0-2 0 2zM2277 1702l0-2 0 2zM2287 1704l0-2 0 2zM2297 1706l0-2 0 2zM2307 1708l0-2 0 2zM1469 1712l0-2 0 2zM2357 1716l0-2 0 2zM1437 1718l0-2 0 2zM2383 1722l-3-1 3 1zM2391 1724l0-2 0 2zM1397 1726l0-2 0 2zM1369 1732l0-2 0 2zM1351 1736l-1-1 1-1 1 1-1 1zM1343 1738l-1-1 1-1 1 1-1 1zM1309 1747l-2-2 2-2 2 2-2 2zM1301 1749l-2-2 2-2 2 2-2 2zM1263 1759l-2-2 2-2 2 2-2 2zM1241 1765l-2-2 2-2 2 2-2 2zM1227 1769l-2-2 2-2 2 2-2 2zM1213 1773l-2-2 2-2 2 2-2 2zM1193 1779l-2-2 2-2 2 2-2 2zM3469 2402l0-2 0 2zM3661 2643l-2-2 0-6-11 8 1 2 12 0 0-2zM3663 2655l-2-10-2 3-4 0-5 5 1 2 12 0zM3665 2665l-2-7-2 2-4 0-5 5 1 2 12 0 0-2z" fill="#2fc5a2"/><path d="M3653 2601l-2-2 0-8-4-10 0-8-8-26-6-30-8-22-4-20-8-20 0-6-10-30-4-6-6-22-4-6-2-10-4-6-10-30-6-10-4-14-18-36 0-4-44-86-42-70-34-50-30-40-50-60-20-22-80-78-50-42-62-46-58-38-44-24-4-4-74-38-4 0-22-12-18-6-24-12-46-16-6-4-22-6-6-4-30-10-6 0-26-10-6 0-22-8-14-2-8-4-14-2-26-8-8 0-18-6-28-4-2-2-18-2-12-4-10 0-12-4-12 0-2-2-10 0-14-4-44-4-2-2-14 0-2-2-36-2-2-2-22 0-2-2-24 0-2-2-84-2-2-2-162 2-2 2-62 2-2 2-22 0-2 2-20 0-2 2-56 4-2 2-30 2-2 2-54 6-2 2-12 0-2 2-10 0-2 2-10 0-2 2-30 4 2 2 0 4 6 5 4-1 0-10 2 0 0 4 6 5 5-1 1-10 0 4 6 5 6-1 2-4 4 3 8-1 0-2 4 2 11-2 0-2 3 2 135-14 85-4 76 0 135 6 77 8 69 10 75 14 71 16 73 20 69 22 66 24 67 28 64 30 65 34 61 36 56 36 56 40 56 44 52 45 50 48 46 49 44 52 38 50 36 52 32 52 32 58 32 67 26 64 30 93 2 0-2 2 2 5 2 1-1 2 1 5 2 0-1 3 1 4 2 0-1 4 1 4 5 2-4 4 1 3 4 1-3 4 1 3 11 1-5 1-5 5 1 2 12 0 0-2zM1771 1579l0-10 2 0 0 4 6 5 4-1 0-12-21 4 2 2 0 4 5 5 2-1zM1760 1581l0-12-7 2 2 6 5 4zM1748 1583l0-12-8 2 2 2 0 4 6 4zM1737 1585l0-12-6 2 2 6 4 4zM2352 4035l81-4 80-8 78-12 78-16 76-20 76-24 74-28 72-32 70-36 66-39 64-42 60-45 58-49 54-52 50-54 46-56 44-62 40-64 36-67 30-67 26-69 20-67 16-68 13-79-1-42-2-2 0-22-2-2 0-18-2-2-3-42-2-2 0-10-2-2 0-10-2-2-2-18-2-2 0-8-4-6 0-8-12-42 0-6-32-98-6-8-12-34-16-32 0-4-24-48-4-2 2-2-4-2-24-46-32-52-8-6-24-38-28-38-12-14-8-6-16-22-38-44-11-9-60-62-24-18-54-50-10-8-2 2-58-48-14-10-2 2-4-6-2 2-28-22-50-34-2 2-2-4-2 2-4-2-22-16-6-2-40-26-4-2-2 2-2-4-2 2-8-4-14-10-60-32-4 2 0-4-4 2 0-4-4 2 0-4-4 2-8-6-12-6-4 0-38-20-4 2-2-4-12-6-4 2-2-4-3 1-1-3-4 2-14-8-28-10-20-10-8-2-2 2-2-4-4 2 0-4-4 2-2-4-4 2 0-4-4 2-2-4-2 2-8-2-6-4-44-14-24-10-6 2 0-4-6 2-2-4-2 2-3-1-1-3-4 2-2-4-2 2-10-2-34-12-8 2 0-4-10-2-2 2-2-4-6 2 0-4-8 2 0-4-4 2-3-1 2-2-1-1-8 2 0-4-8 2 0-4-4 2-3-1-1-3-6 2-2-4-6 2-26-8-10 2 0-4-8 2 0-4-6 0-2-2-10 2 0-4-8 2-2-4-4 0-4 2 0-4-10 2 0-4-4 0-6 2 0-4-10 2 0-4-4 2-16-2-2-2-12 2 0-4-10 2 0-4-12 2 0-4-6 0-6 2 0-4-12 2 0-4-14 2 0-4-12 2-2-4-4 0-2 2-6 0-2-4-16 4 0-6-16 4 0-4-16 2 0-4-12 0-6 2 0-4-20 2 0-4-20 2-2-4-10 0-2 2-10 0-4 2 0-6-28 4 1-3-3-3-6 2-16 0-2 2-10 0-2-4-30 0-2 2-34 2 0-4-6-2-40 0-2 2-16 0-6 4-60-2-8 6-12-4-16 0-10 6-8-4-12 0-8 6-8-4-8 0-8 6-8-4-6 0-8 6-12-4-10 8-2-4-6-2-8 6-8-4-12 6-4-4-12 8-2-4-6 0-6 4-2-2-6 0-8 6-2-4-4 0-8 6-2-4-4 0-4 4-8-2-8 6-2-4-4 0-6 6-2-4-4 0-6 6-2-4-2 0-8 6-2-4-8 4-6-2-4 4-6-2-6 4-4-2-6 4-4-2-8 6-2-4-8 6-2-4-8 6-2-4-6 4-4-2-4 4-6-2-4 4-4-2-6 4-4-2-4 4-4-2-14 7-4-2-4 4-4-2-4 4-4-2-6 4-2-2-6 4-2-2-6 4-2-2-6 4-2-2-6 4-2-2-4 4-4-2-4 4-2-2-6 4-2-2-6 4-2-2-4 4-2-2-6 4-2-2-4 4-6 0-2 2-2-2-4 4-2-2-6 4-2-2-4 4-2-2-6 4-4 0-76 54-72 64-69 74-65 84-54 85-44 87-32 85-23 89-14 90-4 92 5 96 14 98 22 100 32 104 40 104 50 106 55 98 59 92 66 88 72 82 78 77 82 71 87 64 91 58 96 51 102 47 104 38 108 32 110 24 110 16 112 9 113 1zM1975 1674l0-2 0 2zM2069 1678l-3-1 3-1 0 2zM2089 1680l0-2 0 2zM2177 1688l-3-1 3-1 0 2zM2189 1690l0-2 0 2zM2203 1692l0-2 0 2zM2277 1702l0-2 0 2zM2287 1704l0-2 0 2zM2297 1706l0-2 0 2zM2307 1708l0-2 0 2zM1469 1712l0-2 0 2zM2357 1716l0-2 0 2zM1437 1718l0-2 0 2zM2383 1722l-3-1 3-1 0 2zM2391 1724l0-2 0 2zM1397 1726l-1-1 1-1 1 1-1 1zM1369 1732l-1-1 1-1 1 1-1 1zM2421 1732l0-2 0 2zM1351 1736l-2-1 2-2 1 2-1 1zM1343 1739l-2-2 2-2 2 2-2 2zM2475 1744l0-2 0 2zM1309 1747l-2-2 2-2 2 2-2 2zM1301 1749l-2-2 2-2 2 2-2 2zM2489 1748l0-2 0 2zM2495 1750l0-2 0 2zM1263 1759l-2-2 2-2 2 2-2 2zM2521 1758l0-2 0 2zM2527 1760l0-2 0 2zM1241 1765l-2-2 2-2 2 2-2 2zM1227 1769l-2-2 2-2 2 2-2 2zM2561 1768l0-2 0 2zM2567 1770l0-2 0 2zM1213 1773l-2-2 2-2 2 2-2 2zM2573 1772l0-2 0 2zM2579 1774l0-2 0 2zM2583 1776l0-2 0 2zM2589 1778l0-2 0 2zM2595 1780l0-2 0 2zM3329 2228l0-2 0 2zM3331 2230l0-2 0 2zM3333 2232l0-2 0 2zM3401 2310l0-2 0 2zM3407 2318l0-2 0 2zM3469 2402l0-2 0 2zM3655 2611l-2-2 0-6-10 8 12 0zM3657 2621l-2-7-10 7 12 0zM3659 2631l-2-7-10 7 12 0z" fill="#2ac3a9"/><path d="M3647 2573l-8-26-6-30-12-36 0-6-8-20 0-6-10-30-4-6-6-22-4-6-2-10-4-6-10-30-6-10-4-14-18-36 0-4-44-86-42-70-34-50-30-40-50-60-20-22-80-78-84-68-70-48-6-2-30-20-50-26-4-4-74-36-4 0-58-26-54-18-6-4-30-10-6 0-26-10-6 0-8-4-6 0-8-4-14-2-8-4-14-2-26-8-8 0-18-6-28-4-2-2-18-2-12-4-10 0-12-4-36-4-2-2-60-6-2-2-16 0-2-2-18 0-2-2-48-2-2-2-32 0-2-2-160-2-2 2-52 0-2 2-34 0-2 2-50 2-2 2-60 4-2 2-16 0-2 2-14 0-2 2-14 0-2 2-20 2 2 2 0 4 6 5 8-1 0-4 2 0 4 4 12-2 0-2 4 2 130-10 90-2 88 3 133 11 137 22 72 16 68 18 128 42 65 26 61 28 60 30 58 32 56 34 56 38 54 40 48 40 48 43 46 46 42 45 42 51 36 48 34 50 32 52 28 51 28 58 24 58 24 68 2 0-1 2 3 11 2 1-1 2 1 3 2 0-1 3 1 4 2 0 0 7 4 1-3 4 1 2 5 2-3 6 10 0-4 0-4 6 11 2-5 1-4 5 11 2-5 1-4 5 11 2-5 1-5 5 13 0zM1887 1561l0-12-14 2 3 2 0 4 5 5 6-1zM1871 1563l0-12-11 2 2 6 5 5 4-1zM1856 1565l0-12-10 2 2 6 5 5 3-1zM1842 1567l0-12-10 2 6 10 4 0zM1829 1569l0-12-9 2 2 6 7 4zM1816 1571l0-12-7 2 2 6 5 4zM1803 1573l0-12-6 2 2 6 4 4zM1791 1575l0-12-6 2 2 6 4 4zM1780 1577l0-12-8 2 2 6 6 4zM2379 4015l78-5 80-9 77-12 75-16 74-20 74-24 72-28 72-32 68-36 64-38 62-41 59-45 56-48 53-51 50-55 44-54 44-62 40-65 36-69 30-68 26-72 20-70 16-75 10-69-2-42-2-2 0-18-2-2-4-42-2-2 1-10-2-2 0-10-2-2-2-18-2-2 0-8-4-6 0-8-12-42 0-6-32-98-6-8-12-34-16-32 0-4-24-48-4-2 2-2-4-2-24-46-32-52-8-6-24-38-28-38-12-14-8-6-16-22-38-44-11-9-60-62-24-18-54-50-10-8-2 2-58-48-14-10-2 2-4-6-2 2-28-22-50-34-2 2-2-4-2 2-4-2-22-16-6-2-40-26-4-2-2 2-2-4-2 2-8-4-14-10-60-32-4 2 0-4-4 2 0-4-4 2 0-4-4 2-8-6-12-6-4 0-38-20-4 2-2-4-12-6-4 2-2-4-3 1-1-3-4 2-14-8-28-10-20-10-8-2-2 2-2-4-4 2 0-4-4 2-2-4-4 2 0-4-4 2-2-4-2 2-8-2-6-4-44-14-24-10-6 2 0-4-6 2-2-4-2 2-3-1-1-3-4 2-2-4-2 2-10-2-34-12-8 2 0-4-10-2-2 2-2-4-6 2 0-4-8 2 0-4-4 2-3-1 2-2-1-1-8 2 0-4-8 2 0-4-4 2-3-1-1-3-6 2-2-4-6 2-26-8-10 2 0-4-8 2 0-4-6 0-2-2-10 2 0-4-8 2-2-4-4 0-4 2 0-4-10 2 0-4-4 0-6 2 0-4-10 2 0-4-4 2-16-2-2-2-12 2 0-4-10 2 0-4-12 2 0-4-6 0-6 2 0-4-12 2 0-4-14 2 0-4-12 2-2-4-4 0-2 2-6 0-2-4-16 4 0-6-16 4 0-4-16 2 0-4-12 0-6 2 0-4-20 2 0-4-20 2-2-4-10 0-2 2-10 0-4 2 0-6-28 4 1-3-3-3-6 2-16 0-2 2-10 0-2-4-30 0-2 2-34 2 0-4-6-2-40 0-2 2-16 0-6 4-60-2-8 6-12-4-16 0-10 6-8-4-12 0-8 6-8-4-8 0-8 6-8-4-6 0-8 6-12-4-10 8-2-4-4-2-10 6-8-4-12 6-4-4-12 8-2-4-6 0-6 4-2-2-6 0-8 6-2-4-4 0-8 6-2-4-4 0-4 4-8-2-8 6-2-4-4 0-6 6-2-4-4 0-6 6-2-4-2 0-8 6-2-4-2 0-6 4-6-2-4 4-6-2-6 4-4-2-6 4-4-2-8 6-2-4-8 6-2-4-8 6-2-4-6 4-4-2-4 4-6-1-4 4-4-2-6 4-4-2-4 4-4-2-14 6-4-2-4 4-4-2-4 4-4-2-6 4-2-2-6 4-2-2-6 4-2-2-6 4-2-2-6 4-2-2-4 4-4-2-4 4-2-2-6 4-2-2-6 4-2-2-4 4-2-2-6 4-2-2-4 4-6 0-2 2-2-2-4 4-2-1-76 53-73 64-69 74-64 82-54 84-43 86-33 84-24 90-14 90-4 92 4 94 14 98 24 105 32 103 42 108 48 102 54 96 60 92 68 90 71 80 77 76 82 70 88 64 92 58 98 52 99 44 104 38 111 32 108 23 112 15 112 8 112 0zM1975 1674l0-2 0 2zM2069 1678l-3-1 3-1 0 2zM2089 1680l0-2 0 2zM2177 1688l-3-1 3-1 0 2zM2189 1690l0-2 0 2zM2203 1692l0-2 0 2zM2277 1702l0-2 0 2zM2287 1704l0-2 0 2zM2297 1706l0-2 0 2zM2307 1708l0-2 0 2zM1469 1712l0-2 0 2zM2357 1716l0-2 0 2zM1437 1718l-1-1 1-1 1 1-1 1zM2383 1722l-3-1 3-1 0 2zM2391 1724l0-2 0 2zM1397 1726l-1-1 1-1 1 1-1 1zM1369 1733l-2-2 2-2 2 2-2 2zM2421 1732l0-2 0 2zM1351 1737l-2-2 2-2 2 2-2 2zM1343 1739l-2-2 2-2 2 2-2 2zM2475 1744l0-2 0 2zM1309 1747l-2-2 2-2 2 2-2 2zM1301 1749l-2-2 2-2 2 2-2 2zM2489 1748l0-2 0 2zM2495 1750l0-2 0 2zM1263 1759l-2-2 2-2 2 2-2 2zM2521 1758l0-2 0 2zM2527 1760l0-2 0 2zM1241 1765l-2-2 2-2 2 2-2 2zM1227 1769l-2-2 2-2 2 2-2 2zM2561 1768l0-2 0 2zM2567 1770l0-2 0 2zM2573 1772l0-2 0 2zM2579 1774l0-2 0 2zM2583 1776l0-2 0 2zM2589 1778l0-2 0 2zM2595 1780l0-2 0 2zM2601 1782l0-2 0 2zM2611 1786l0-2 0 2zM2671 1806l0-2 0 2zM2677 1808l0-2 0 2zM2681 1810l0-2 0 2zM2691 1814l0-2 0 2zM2695 1816l0-2 0 2zM2753 1838l0-2 0 2zM2757 1840l0-2 0 2zM2761 1842l0-2 0 2zM2771 1846l0-2 0 2zM2775 1848l0-2 0 2zM2779 1850l0-2 0 2zM2783 1852l0-2 0 2zM2787 1854l0-2 0 2zM2791 1856l0-2 0 2zM2795 1858l0-2 0 2zM2799 1860l0-2 0 2zM2803 1862l0-2 0 2zM2849 1882l0-2 0 2zM2853 1884l0-2 0 2zM2857 1886l0-2 0 2zM2861 1888l0-2 0 2zM2875 1896l0-2 0 2zM2937 1928l0-2 0 2zM2941 1930l0-2 0 2zM2947 1934l0-2 0 2zM2951 1936l0-2 0 2zM2957 1940l0-2 0 2zM3019 1976l0-2 0 2zM3025 1980l0-2 0 2zM3031 1984l0-2 0 2zM3033 1986l0-2 0 2zM3039 1990l0-2 0 2zM3105 2034l0-2 0 2zM3113 2040l0-2 0 2zM3179 2090l0-2 0 2zM3191 2100l0-2 0 2zM3193 2102l0-2 0 2zM3195 2104l0-2 0 2zM3329 2228l0-2 0 2zM3331 2230l0-2 0 2zM3333 2232l0-2 0 2zM3401 2310l0-2 0 2zM3407 2318l0-2 0 2zM3469 2402l0-2 0 2zM3651 2591l-2-7-10 7 12 0z" fill="#23c1af"/><path d="M3629 2503l-36-112-4-6-2-10-4-6-10-30-6-10-4-14-18-36 0-4-52-100-32-50-2-6-34-50-30-40-50-60-20-22-80-78-84-68-70-48-6-2-30-20-50-26-4-4-74-36-4 0-58-26-54-18-6-4-30-10-6 0-26-10-42-10-8-4-14-2-26-8-8 0-18-6-28-4-2-2-18-2-12-4-10 0-12-4-12 0-2-2-10 0-14-4-44-4-2-2-14 0-2-2-36-2-2-2-48-2-2-2-32 0-2-2-50 0-2-2-162 2-2 2-62 2-2 2-22 0-2 2-20 0-2 2-26 2 2 6 6 5 13-1 1-10 0 4 6 6 74-5 76-1 76 1 74 4 114 13 124 22 126 32 125 42 117 50 110 58 104 66 96 74 90 82 44 46 38 44 66 87 58 92 30 56 28 60 32 82 2 1-1 2 3 4-1 2 3 4-1 2 3 3 0 6 5 1-4 4 5 2-3 4 1 2 10 0-4 0-4 6 5 2-3 5 12 1 0-2zM1969 1551l0-12-18 2 2 6 6 5 10-1zM1948 1553l0-12-15 2 3 6 5 5 7-1zM1930 1555l0-12-12 2 2 6 5 5 5-1zM1912 1557l0-12-10 2 2 6 5 5 3-1zM1896 1559l0-12-7 2 2 6 5 4zM2392 3995l77-5 78-8 78-13 74-16 74-20 73-24 71-27 68-31 66-34 64-38 62-42 58-44 54-46 52-50 48-52 46-57 44-62 40-65 36-69 30-68 26-72 20-70 16-76 10-73-2-44-2-2 0-14-2-2 0-12-2-2-4-36-5-22 0-8-4-6 0-8-12-42 0-6-8-22 0-6-24-70-6-8-12-34-16-32 0-4-24-48-4-2 2-2-4-2-24-46-32-52-8-6-24-38-28-38-12-14-8-6-16-22-38-44-11-9-60-62-24-18-54-50-10-8-2 2-58-48-14-10-2 2-4-6-2 2-28-22-50-34-2 2-2-4-2 2-4-2-22-16-6-2-40-26-4-2-2 2-2-4-2 2-8-4-14-10-60-32-4 2 0-4-4 2 0-4-4 2 0-4-4 2-8-6-12-6-4 0-38-20-4 2-2-4-12-6-4 2-2-4-3 1-1-3-4 2-14-8-28-10-20-10-8-2-2 2-2-4-4 2 0-4-4 2-2-4-4 2 0-4-4 2-2-4-2 2-8-2-6-4-44-14-24-10-6 2 0-4-6 2-2-4-2 2-3-1-1-3-4 2-2-4-2 2-10-2-34-12-8 2 0-4-10-2-2 2-2-4-6 2 0-4-8 2 0-4-4 2-3-1 2-2-1-1-8 2 0-4-8 2 0-4-4 2-3-1-1-3-6 2-2-4-6 2-26-8-10 2 0-4-8 2 0-4-6 0-2-2-10 2 0-4-8 2-2-4-4 0-4 2 0-4-10 2 0-4-4 0-6 2 0-4-10 2 0-4-4 2-16-2-2-2-12 2 0-4-10 2 0-4-12 2 0-4-6 0-6 2 0-4-12 2 0-4-14 2 0-4-12 2-2-4-4 0-2 2-6 0-2-4-16 4 0-6-16 4 0-4-16 2 0-4-12 0-6 2 0-4-20 2 0-4-20 2-2-4-10 0-2 2-10 0-4 2 0-6-22 2-2 2-5-1 2-2-3-3-6 2-16 0-2 2-10 0-2-4-30 0-2 2-34 2 0-4-6-2-40 0-2 2-16 0-6 4-60-2-8 6-12-4-16 0-10 6-8-4-12 0-8 6-8-4-8 0-8 6-8-4-6 0-8 6-12-4-10 8-2-4-4-2-10 6-8-4-12 6-4-4-12 8-2-4-6 0-6 4-2-2-6 0-8 6-2-4-4 0-8 6-2-4-4 0-4 4-8-2-8 6-2-4-4 0-6 6-2-4-4 0-6 6-2-4-2 0-8 6-2-4-2 0-6 4-6-2-4 4-6-2-6 4-4-2-6 4-4-2-8 6-2-3-8 6-2-4-8 6-2-4-6 4-4-2-4 4-6-2-4 4-4-2-6 4-4-2-4 4-4-2-14 6-4-2-4 4-4-2-4 4-4-2-6 4-2-2-6 4-2-2-6 4-2-2-6 4-2-2-6 4-2-2-4 4-4-2-4 4-2-2-6 4-2-2-6 4-2-2-4 4-2-2-4 2-77 54-72 62-70 74-63 81-54 84-44 85-33 86-24 88-13 88-5 92 5 96 14 98 24 104 32 104 40 102 48 102 54 96 58 90 68 90 70 80 77 76 82 70 85 62 92 58 97 52 103 46 105 38 106 30 109 23 110 15 112 8 111 0zM1975 1674l0-2 0 2zM2069 1678l-3-1 3-1 0 2zM2089 1680l0-2 0 2zM2177 1688l-3-1 3-1 0 2zM2189 1690l0-2 0 2zM2203 1692l0-2 0 2zM2277 1702l0-2 0 2zM2287 1704l0-2 0 2zM2297 1706l0-2 0 2zM2307 1708l0-2 0 2zM1469 1712l-1-1 1-1 1 1-1 1zM2357 1716l0-2 0 2zM1437 1718l-1-1 1-1 1 1-1 1zM2383 1722l-3-1 3-1 0 2zM2391 1724l0-2 0 2zM1397 1727l-2-2 2-2 2 2-2 2zM1369 1733l-2-2 2-2 2 2-2 2zM2421 1732l0-2 0 2zM1351 1737l-2-2 2-2 2 2-2 2zM1343 1739l-2-2 2-2 2 2-2 2zM2475 1744l0-2 0 2zM1309 1747l-2-2 2-2 2 2-2 2zM1301 1749l-2-2 2-2 2 2-2 2zM2489 1748l0-2 0 2zM2495 1750l0-2 0 2zM1263 1759l-2-2 2-2 2 2-2 2zM2521 1758l0-2 0 2zM2527 1760l0-2 0 2zM2561 1768l0-2 0 2zM2567 1770l0-2 0 2zM2573 1772l0-2 0 2zM2579 1774l0-2 0 2zM2583 1776l0-2 0 2zM2589 1778l0-2 0 2zM2595 1780l0-2 0 2zM2601 1782l0-2 0 2zM2611 1786l0-2 0 2zM2671 1806l0-2 0 2zM2677 1808l0-2 0 2zM2681 1810l0-2 0 2zM2691 1814l0-2 0 2zM2695 1816l0-2 0 2zM2753 1838l0-2 0 2zM2757 1840l0-2 0 2zM2761 1842l0-2 0 2zM2771 1846l0-2 0 2zM2775 1848l0-2 0 2zM2779 1850l0-2 0 2zM2783 1852l0-2 0 2zM2787 1854l0-2 0 2zM2791 1856l0-2 0 2zM2795 1858l0-2 0 2zM2799 1860l0-2 0 2zM2803 1862l0-2 0 2zM2849 1882l0-2 0 2zM2853 1884l0-2 0 2zM2857 1886l0-2 0 2zM2861 1888l0-2 0 2zM2875 1896l0-2 0 2zM2937 1928l0-2 0 2zM2941 1930l0-2 0 2zM2947 1934l0-2 0 2zM2951 1936l0-2 0 2zM2957 1940l0-2 0 2zM3019 1976l0-2 0 2zM3025 1980l0-2 0 2zM3031 1984l0-2 0 2zM3033 1986l0-2 0 2zM3039 1990l0-2 0 2zM3105 2034l0-2 0 2zM3113 2040l0-2 0 2zM3179 2090l0-2 0 2zM3191 2100l0-2 0 2zM3193 2102l0-2 0 2zM3195 2104l0-2 0 2zM3329 2228l0-2 0 2zM3331 2230l0-2 0 2zM3333 2232l0-2 0 2zM3401 2310l0-2 0 2zM3407 2318l0-2 0 2zM3469 2402l0-2 0 2zM3635 2525l-4-14-6 0-4 7 12 1-6 2-4 4 12 0z" fill="#19bfb5"/><path d="M3613 2449l-10-30-4-6-6-22-4-6-2-10-4-6-10-30-6-10-4-14-50-104-4-4-8-18-42-70-64-90-70-82-80-78-84-68-70-48-6-2-30-20-102-54-4 0-22-12-4 0-58-26-122-42-6 0-22-8-14-2-8-4-14-2-26-8-8 0-18-6-28-4-2-2-18-2-12-4-10 0-12-4-12 0-2-2-10 0-14-4-12 0-2-2-14 0-2-2-14 0-2-2-14 0-2-2-16 0-2-2-18 0-2-2-48-2-2-2-84-2-2-2-108 0-2 2-52 0-2 2-34 0-2 2-6 0 2 6 6 6 74-2 78 0 70 4 86 8 108 16 104 22 114 32 112 40 108 48 103 56 96 62 89 68 84 76 76 82 62 79 56 85 32 56 28 56 32 76 2 0 0 5 3 1-2 2 4 4-2 2 3 2-1 2 3 3-1 3 4 4-2 2 4 4-2 2 4 4-2 2 1 2 12 0 0-2zM2064 1543l0-12-19 0-2 2-6 0 2 6 6 5 19-1zM2030 1545l0-12-16 2 2 6 5 5 9-1zM2004 1547l0-12-12 2 2 6 5 5 5-1zM1981 1549l0-12-8 2 2 6 6 4zM1961 1551l0-12-8 2 2 6 6 4zM1942 1553l0-12-7 2 2 6 5 4zM2391 3975l76-4 78-8 76-12 76-16 74-19 72-23 69-26 68-30 67-34 62-36 60-40 58-43 54-45 52-50 48-51 46-55 46-64 40-64 36-68 32-72 26-71 20-70 16-74 11-77 1-34-2-2 0-14-2-2 0-12-2-2-4-36-6-22 0-8-4-6 0-8-11-42 0-6-8-22 0-6-24-70-6-8-12-34-16-32 0-4-24-48-4-2 2-2-4-2-24-46-32-52-8-6-24-38-28-38-12-14-8-6-16-22-38-44-11-9-60-62-24-18-54-50-10-8-2 2-58-48-14-10-2 2-4-6-2 2-28-22-50-34-2 2-2-4-2 2-4-2-22-16-6-2-40-26-4-2-2 2-2-4-2 2-8-4-14-10-60-32-4 2 0-4-4 2 0-4-4 2 0-4-4 2-8-6-12-6-4 0-38-20-4 2-2-4-12-6-4 2-2-4-3 1-1-3-4 2-14-8-28-10-20-10-8-2-2 2-2-4-4 2 0-4-4 2-2-4-4 2 0-4-4 2-2-4-2 2-8-2-6-4-44-14-24-10-6 2 0-4-6 2-2-4-4 2-2-4-4 2-2-4-2 2-10-2-34-12-8 2 0-4-10-2-2 2-2-4-6 2 0-4-8 2 0-4-4 2-3-1 2-2-1-1-8 2 0-4-8 2 0-4-4 2-3-1-1-3-6 2-2-4-6 2-26-8-10 2 0-4-8 2 0-4-6 0-2-2-10 2 0-4-8 2-2-4-4 0-4 2 0-4-10 2 0-4-4 0-6 2 0-4-10 2 0-4-4 2-16-2-2-2-12 2 0-4-10 2 0-4-12 2 0-4-6 0-6 2 0-4-12 2 0-4-14 2 0-4-12 2-2-4-4 0-2 2-6 0-2-4-16 4 0-6-16 4 0-4-16 2 0-4-12 0-6 2 0-4-20 2 0-4-20 2-2-4-10 0-2 2-10 0-4 2 0-6-22 2-2 2-5-1 2-2-3-3-6 2-16 0-2 2-10 0-2-4-30 0-2 2-34 2 0-4-6-2-40 0-2 2-16 0-6 4-60-2-8 6-12-4-16 0-10 6-8-4-12 0-8 6-8-4-8 0-8 6-8-4-6 0-8 6-12-4-10 8-2-4-4-2-10 6-8-4-12 6-4-4-12 8-2-4-6 0-6 4-2-2-6 0-8 6-2-4-4 0-8 6-2-4-4 0-4 4-8-2-8 6-2-4-4 0-6 6-2-4-4 0-6 6-2-4-2 0-8 6-2-4-8 4-6-1-4 4-6-2-6 4-4-2-6 4-4-2-8 6-2-4-8 6-2-4-8 6-2-4-6 4-4-2-4 4-6-2-4 4-4-2-6 4-4-2-4 4-4-2-14 6-4-2-4 4-4-2-4 4-4-2-6 4-2-2-6 4-2-2-6 4-2-2-6 4-2-2-6 4-2-2-4 4-4-2-4 4-2-2-78 54-70 60-69 72-63 80-55 84-45 85-34 86-24 87-14 88-5 90 4 92 13 96 22 102 32 104 40 104 46 100 54 98 58 90 64 86 70 81 74 75 82 71 88 65 88 56 96 53 100 45 103 38 103 30 108 24 110 17 110 8 112 1zM1975 1674l0-2 0 2zM2069 1678l-3-1 3-1 0 2zM2089 1680l0-2 0 2zM2177 1688l-3-1 3-1 0 2zM2189 1690l0-2 0 2zM2203 1692l0-2 0 2zM2277 1702l0-2 0 2zM2287 1704l0-2 0 2zM2297 1706l0-2 0 2zM2307 1708l0-2 0 2zM1469 1712l-2-1 2-2 1 2-1 1zM2357 1716l0-2 0 2zM1437 1719l-2-2 2-2 2 2-2 2zM2383 1722l-3-1 3-1 0 2zM2391 1724l0-2 0 2zM1397 1727l-2-2 2-2 2 2-2 2zM1369 1733l-2-2 2-2 2 2-2 2zM2421 1732l0-2 0 2zM1351 1737l-2-2 2-2 2 2-2 2zM1343 1739l-2-2 2-2 2 2-2 2zM2475 1744l0-2 0 2zM1309 1747l-2-2 2-2 2 2-2 2zM1301 1749l-2-2 2-2 2 2-2 2zM2489 1748l0-2 0 2zM2495 1750l0-2 0 2zM2521 1758l0-2 0 2zM2527 1760l0-2 0 2zM2561 1768l0-2 0 2zM2567 1770l0-2 0 2zM2573 1772l0-2 0 2zM2579 1774l0-2 0 2zM2583 1776l0-2 0 2zM2589 1778l0-2 0 2zM2595 1780l0-2 0 2zM2601 1782l0-2 0 2zM2611 1786l0-2 0 2zM2671 1806l0-2 0 2zM2677 1808l0-2 0 2zM2681 1810l0-2 0 2zM2691 1814l0-2 0 2zM2695 1816l0-2 0 2zM2753 1838l0-2 0 2zM2757 1840l0-2 0 2zM2761 1842l0-2 0 2zM2771 1846l0-2 0 2zM2775 1848l0-2 0 2zM2779 1850l0-2 0 2zM2783 1852l0-2 0 2zM2787 1854l0-2 0 2zM2791 1856l0-2 0 2zM2795 1858l0-2 0 2zM2799 1860l0-2 0 2zM2803 1862l0-2 0 2zM2849 1882l0-2 0 2zM2853 1884l0-2 0 2zM2857 1886l0-2 0 2zM2861 1888l0-2 0 2zM2875 1896l0-2 0 2zM2937 1928l0-2 0 2zM2941 1930l0-2 0 2zM2947 1934l0-2 0 2zM2951 1936l0-2 0 2zM2957 1940l0-2 0 2zM3019 1976l0-2 0 2zM3025 1980l0-2 0 2zM3031 1984l0-2 0 2zM3033 1986l0-2 0 2zM3039 1990l0-2 0 2zM3105 2034l0-2 0 2zM3113 2040l0-2 0 2zM3179 2090l0-2 0 2zM3191 2100l0-2 0 2zM3193 2102l0-2 0 2zM3195 2104l0-2 0 2zM3329 2228l0-2 0 2zM3331 2230l0-2 0 2zM3333 2232l0-2 0 2zM3401 2310l0-2 0 2zM3407 2318l0-2 0 2zM3469 2402l0-2 0 2zM3621 2475l-4-12-6 0-4 6 5 2-3 5 12-1z" fill="#0dbdbc"/><path d="M3591 2387l-14-38-4-6 0-4-10-20 0-4-8-14 0-4-54-108-62-100-60-80-54-62-56-56-40-36-52-42-44-32-78-50-102-54-4 0-22-12-4 0-58-26-122-42-6 0-22-8-14-2-8-4-14-2-26-8-8 0-18-6-28-4-2-2-18-2-12-4-10 0-12-4-36-4-2-2-60-6-2-2-16 0-2-2-18 0-2-2-48-2-2-2-32 0-2-2-50 0-2-2-108 0-2 2-6 0 2 6 6 6 141 4 69 6 77 10 100 18 92 22 105 32 100 38 100 46 94 52 86 56 82 62 78 69 70 73 56 68 54 76 32 52 30 54 38 81 2 1-1 2 2 4 4 4-2 2 5 2-2 4 3 2-1 4 4 0-2 5 10 1 2-2zM2142 1539l0-12-33 0-2 2-5 0 2 6 5 5 33-1zM2083 1541l0-12-17 2 2 6 5 5 10-1zM2048 1543l0-12-10 2 3 6 4 4 3 0zM2433 3953l76-6 74-9 74-12 72-17 72-20 70-24 66-26 66-30 64-34 60-36 58-39 56-43 52-45 50-49 46-50 44-55 44-62 40-66 34-66 30-69 24-67 20-71 16-76 10-73 2-35-2-2 0-12-2-2-4-36-6-22 0-8-4-6 0-8-11-42 0-6-8-22 0-6-24-70-6-8-12-34-16-32 0-4-24-48-4-2 2-2-4-2-16-32-36-60-6-8-6-4-24-38-36-48-12-10-16-22-38-44-11-9-60-62-24-18-54-50-10-8-2 2-66-54-6-4-2 2-4-6-2 2-28-22-50-34-2 2-2-4-2 2-4-2-22-16-6-2-40-26-4-2-2 2-2-4-2 2-8-4-14-10-60-32-4 2 0-4-4 2 0-4-4 2 0-4-4 2-8-6-12-6-4 0-38-20-4 2-2-4-12-6-4 2-2-4-3 1-1-3-4 2-14-8-28-10-20-10-8-2-2 2-2-4-4 2 0-4-4 2-2-4-4 2 0-4-4 2-2-4-2 2-8-2-6-4-44-14-24-10-6 2 0-4-6 2-2-4-4 2-2-4-4 2-2-4-2 2-10-2-34-12-8 2 0-4-10-2-2 2-2-4-6 2 0-4-8 2 0-4-7 1 1-3-8 2 0-4-8 2 0-4-6 2-2-4-6 2-2-4-6 2-26-8-10 2 0-4-8 2 0-4-6 0-2-2-10 2 0-4-8 2-2-4-4 0-4 2 0-4-10 2 0-4-10 2 0-4-10 2 0-4-4 2-16-2-2-2-12 2 0-4-10 2 0-4-8 0-4 2 0-4-12 2 0-4-12 2 0-4-14 2 0-4-12 2-2-4-12 2-2-4-16 4 0-6-16 4 0-4-16 2 0-4-12 0-6 2 0-4-20 2 0-4-20 2-2-4-10 0-2 2-10 0-4 2 0-6-28 4 1-3-3-3-6 2-16 0-2 2-10 0-2-4-30 0-2 2-34 2 0-4-6-2-40 0-2 2-16 0-6 4-60-2-8 6-12-4-16 0-10 6-8-4-12 0-8 6-8-4-8 0-8 6-8-4-6 0-8 6-12-4-10 8-2-4-6-2-8 6-8-4-12 6-4-4-12 8-2-4-6 0-6 4-2-2-6 0-8 6-2-4-4 0-8 6-2-4-4 0-4 4-8-2-8 6-2-3-4 0-6 6-2-4-4 0-6 6-2-4-2 0-8 6-2-4-8 4-6-2-4 4-6-2-6 4-4-2-6 4-4-2-8 6-2-4-8 6-2-4-8 6-2-4-6 4-4-2-4 4-6-2-4 4-4-2-6 4-4-2-4 4-4-2-6 4-2-2-6 4-4-2-4 4-4-2-4 4-4-2-6 4-2-2-6 4-2-2-6 4-2-2-4 2-75 50-73 62-70 72-64 80-55 84-45 85-34 86-24 87-14 88-5 90 4 94 14 96 22 100 32 104 41 104 48 103 54 97 60 91 66 87 70 80 76 74 82 70 86 62 93 58 97 51 100 44 102 36 108 30 108 21 110 15 112 6 110-1zM1975 1674l0-2 0 2zM2069 1678l-3-1 3-1 0 2zM2089 1680l0-2 0 2zM2177 1688l-3-1 3-1 0 2zM2189 1690l0-2 0 2zM2203 1692l0-2 0 2zM2277 1702l0-2 0 2zM2287 1704l0-2 0 2zM2297 1706l0-2 0 2zM2307 1708l0-2 0 2zM1469 1713l-2-2 2-2 2 2-2 2zM2357 1716l0-2 0 2zM1437 1719l-2-2 2-2 2 2-2 2zM2383 1722l-3-1 3-1 0 2zM2391 1724l0-2 0 2zM1397 1727l-2-2 2-2 2 2-2 2zM1369 1733l-2-2 2-2 2 2-2 2zM2421 1732l0-2 0 2zM1351 1737l-2-2 2-2 2 2-2 2zM1343 1739l-2-2 2-2 2 2-2 2zM2475 1744l0-2 0 2zM1309 1747l-2-2 2-2 2 2-2 2zM1301 1749l-2-2 2-2 2 2-2 2zM2489 1748l0-2 0 2zM2495 1750l0-2 0 2zM2521 1758l0-2 0 2zM2527 1760l0-2 0 2zM2561 1768l0-2 0 2zM2567 1770l0-2 0 2zM2573 1772l0-2 0 2zM2579 1774l0-2 0 2zM2583 1776l0-2 0 2zM2589 1778l0-2 0 2zM2595 1780l0-2 0 2zM2601 1782l0-2 0 2zM2611 1786l0-2 0 2zM2671 1806l0-2 0 2zM2677 1808l0-2 0 2zM2681 1810l0-2 0 2zM2691 1814l0-2 0 2zM2695 1816l0-2 0 2zM2753 1838l0-2 0 2zM2757 1840l0-2 0 2zM2761 1842l0-2 0 2zM2771 1846l0-2 0 2zM2775 1848l0-2 0 2zM2779 1850l0-2 0 2zM2783 1852l0-2 0 2zM2787 1854l0-2 0 2zM2791 1856l0-2 0 2zM2795 1858l0-2 0 2zM2799 1860l0-2 0 2zM2803 1862l0-2 0 2zM2849 1882l0-2 0 2zM2853 1884l0-2 0 2zM2857 1886l0-2 0 2zM2861 1888l0-2 0 2zM2875 1896l0-2 0 2zM2937 1928l0-2 0 2zM2941 1930l0-2 0 2zM2947 1934l0-2 0 2zM2951 1936l0-2 0 2zM2957 1940l0-2 0 2zM3019 1976l0-2 0 2zM3025 1980l0-2 0 2zM3031 1984l0-2 0 2zM3033 1986l0-2 0 2zM3039 1990l0-2 0 2zM3105 2034l0-2 0 2zM3113 2040l0-2 0 2zM3179 2090l0-2 0 2zM3191 2100l0-2 0 2zM3193 2102l0-2 0 2zM3195 2104l0-2 0 2zM3329 2228l0-2 0 2zM3331 2230l0-2 0 2zM3333 2232l0-2 0 2zM3401 2310l0-2 0 2zM3407 2318l0-2 0 2zM3597 2403l-6-14-9 8 6 2-3 5 10 1 2-2zM3469 2402l0-2 0 2zM3613 2449l-10-30-2-1-8 7 5 2-3 5 6 1-4 4 6 2-4 4 5 2-3 4 12 0z" fill="#04bbc1"/><path d="M3569 2331l-14-30 0-4-10-18 0-4-32-64-4-4-8-18-4-4-28-50-44-66-30-40-50-60-76-78-74-64-62-46-42-28-64-38-100-50-4 0-38-18-46-16-6-4-90-30-6 0-22-8-14-2-8-4-14-2-26-8-8 0-18-6-28-4-2-2-18-2-12-4-10 0-12-4-36-4-2-2-60-6-2-2-16 0-2-2-18 0-2-2-48-2-2-2-32 0-2-2-50 0-2-2-108 0-7 2 2 6 5 5 64 0 79 3 123 12 99 16 99 22 104 30 99 36 96 42 91 48 88 54 80 58 75 64 69 67 58 66 54 71 32 48 30 50 42 81 3 1-2 2 4 2-2 2 3 2-1 2 3 2 0 4 3 2-1 2 3 2-1 3 10 1 2-2zM2112 1539l0-12-9 2 2 6 4 4 3 0zM2073 1541l0-12-6 2 2 6 4 4zM2409 3933l74-4 72-7 72-10 72-15 70-17 68-21 66-24 66-28 62-30 62-34 57-36 55-39 52-41 50-45 48-48 44-50 44-57 42-61 36-62 32-64 28-66 22-65 20-71 14-68 8-55 5-56-5-38-6-22 0-8-4-6 0-8-12-42 0-6-7-22 0-6-20-60-6-14-4-4-12-34-16-32 0-4-24-48-4-2 2-2-4-2-6-14-4-4-6-14-4-4-22-40-14-22-8-6-24-38-28-38-12-14-8-6-16-22-38-44-11-9-60-62-24-18-42-40-22-18-2 2-66-54-6-4-2 2-4-6-2 2-28-22-50-34-2 2-2-4-2 2-4-2-22-16-6-2-40-26-4-2-2 2-2-4-2 2-8-4-14-10-60-32-4 2 0-4-4 2 0-4-4 2 0-4-4 2-8-6-12-6-4 0-38-20-4 2-2-4-12-6-4 2-2-4-3 1-1-3-4 2-14-8-28-10-20-10-8-2-2 2-2-4-4 2 0-4-4 2-2-4-4 2 0-4-4 2-2-4-4 2-28-12-28-8-24-10-6 2 0-4-6 2-2-4-4 2-2-4-4 2-2-4-2 2-10-2-34-12-8 2 0-4-10-2-2 2-2-4-6 2 0-4-8 2 0-4-7 1 1-3-8 2 0-4-8 2 0-4-6 2-2-4-6 2-2-4-6 2-26-8-10 2 0-4-8 2 0-4-6 0-2-2-10 2 0-4-8 2-2-4-4 0-4 2 0-4-10 2 0-4-10 2 0-4-10 2 0-4-4 2-16-2-2-2-12 2 0-4-10 2 0-4-8 0-4 2 0-4-12 2 0-4-12 2 0-4-14 2 0-4-12 2-2-4-12 2-2-4-16 4 0-6-16 4 0-4-16 2 0-4-12 0-6 2 0-4-20 2 0-4-20 2-2-4-10 0-2 2-10 0-4 2 0-6-28 4 1-3-3-3-6 2-16 0-2 2-10 0-2-4-30 0-2 2-34 2 0-4-6-2-40 0-2 2-16 0-6 4-60-2-8 6-12-4-16 0-10 6-8-4-12 0-8 6-8-4-8 0-8 6-8-4-6 0-8 6-12-4-10 8-2-4-6-2-8 6-8-4-12 6-4-4-12 8-2-4-6 0-6 4-2-2-6 0-8 6-2-3-4 0-8 6-2-4-4 0-4 4-8-2-8 6-2-4-4 0-6 6-2-4-4 0-6 6-2-4-2 0-8 6-2-4-8 4-6-2-4 4-6-2-6 4-4-2-6 4-4-2-8 6-2-4-8 6-2-4-8 6-2-4-6 4-4-2-4 4-6-2-4 4-4-2-6 4-4-2-4 4-4-2-14 6-4-2-4 4-4-2-4 4-4-2-78 52-70 58-69 70-64 78-55 82-45 84-35 84-25 86-15 86-6 88 3 90 11 94 21 100 29 99 38 102 46 102 51 95 58 92 63 87 69 81 74 76 79 69 84 64 88 57 96 53 98 45 102 39 104 31 106 24 108 16 108 9 110 1zM1975 1674l0-2 0 2zM2069 1678l-3-1 3-1 0 2zM2089 1680l0-2 0 2zM2177 1688l-3-1 3-1 0 2zM2189 1690l0-2 0 2zM2203 1692l0-2 0 2zM2277 1702l0-2 0 2zM2287 1704l0-2 0 2zM2297 1706l0-2 0 2zM2307 1708l0-2 0 2zM1469 1713l-2-2 2-2 2 2-2 2zM2357 1716l0-2 0 2zM1437 1719l-2-2 2-2 2 2-2 2zM2383 1722l-3-1 3-1 0 2zM2391 1724l0-2 0 2zM1397 1727l-2-2 2-2 2 2-2 2zM1369 1733l-2-2 2-2 2 2-2 2zM2421 1732l0-2 0 2zM1351 1737l-2-2 2-2 2 2-2 2zM1343 1739l-2-2 2-2 2 2-2 2zM2475 1744l0-2 0 2zM2489 1748l0-2 0 2zM2495 1750l0-2 0 2zM2521 1758l0-2 0 2zM2527 1760l0-2 0 2zM2561 1768l0-2 0 2zM2567 1770l0-2 0 2zM2573 1772l0-2 0 2zM2579 1774l0-2 0 2zM2583 1776l0-2 0 2zM2589 1778l0-2 0 2zM2595 1780l0-2 0 2zM2601 1782l0-2 0 2zM2611 1786l0-2 0 2zM2671 1806l0-2 0 2zM2677 1808l0-2 0 2zM2681 1810l0-2 0 2zM2691 1814l0-2 0 2zM2695 1816l0-2 0 2zM2753 1838l0-2 0 2zM2757 1840l0-2 0 2zM2761 1842l0-2 0 2zM2771 1846l0-2 0 2zM2775 1848l0-2 0 2zM2779 1850l0-2 0 2zM2783 1852l0-2 0 2zM2787 1854l0-2 0 2zM2791 1856l0-2 0 2zM2795 1858l0-2 0 2zM2799 1860l0-2 0 2zM2803 1862l0-2 0 2zM2849 1882l0-2 0 2zM2853 1884l0-2 0 2zM2857 1886l0-2 0 2zM2861 1888l0-2 0 2zM2875 1896l0-2 0 2zM2937 1928l0-2 0 2zM2941 1930l0-2 0 2zM2947 1934l0-2 0 2zM2951 1936l0-2 0 2zM2957 1940l0-2 0 2zM3019 1976l0-2 0 2zM3025 1980l0-2 0 2zM3031 1984l0-2 0 2zM3033 1986l0-2 0 2zM3039 1990l0-2 0 2zM3105 2034l0-2 0 2zM3113 2040l0-2 0 2zM3179 2090l0-2 0 2zM3191 2100l0-2 0 2zM3193 2102l0-2 0 2zM3195 2104l0-2 0 2zM3329 2228l0-2 0 2zM3331 2230l0-2 0 2zM3333 2232l0-2 0 2zM3401 2310l0-2 0 2zM3407 2318l0-2 0 2zM3575 2345l-6-12-8 8 3 2-1 3 10 1 2-2zM3578 2355l-3-8-9 8 7 1 5-1zM3582 2365l-3-7-8 7 11 0zM3469 2402l0-2 0 2z" fill="#01b9c7"/><path d="M2165 1537l0-12-8 2 2 6 6 4zM2274 1537l4-10-5 0-2-2-30 0 0 12 33 0zM3547 2281l-34-70-4-4-8-18-42-70-64-90-50-60-76-78-40-36-68-54-86-58-44-24-4-4-22-10-4-4-48-24-4 0-22-12-18-6-24-12-46-16-6-4-22-6-6-4-30-10-6 0-26-10-20-4-8-4-14-2-8-4-14-2-26-8-8 0-18-6-28-4-2-2-18-2-12-4-10 0-12-4-36-4-2-2-60-6-2-2-16 0-2-2-18 0-2-2-48-2-2-2-32 0-2-2-26 0 0 12 28 2 5-8 0 8 85 8 96 14 106 22 101 28 88 30 83 34 83 40 78 44 74 48 73 54 65 56 61 59 64 73 56 74 40 62 34 60 2 0-1 2 3 2 0 4 2 0-1 2 4 2-1 3 3 1-2 2 4 2-2 2 4 2-2 2 4 2-2 2 3 2 0 4 10 0 2-2zM2429 3911l72-4 72-7 70-11 70-14 68-18 66-20 66-24 64-27 62-31 57-32 57-36 54-38 52-42 48-43 46-46 44-50 44-56 39-57 35-60 32-64 28-65 24-68 19-67 14-70 12-88 3-40-2-2 0-10-6-22 0-8-4-6 0-8-12-42 0-6-8-22 0-6-19-60-6-14-4-4-12-34-16-32 0-4-24-48-4-2 2-2-4-2-6-14-4-4-6-14-4-4-22-40-14-22-8-6-24-38-28-38-12-14-8-6-16-22-38-44-11-9-60-62-24-18-42-40-22-18-2 2-66-54-6-4-2 2-4-6-2 2-28-22-50-34-2 2-2-4-2 2-4-2-22-16-6-2-40-26-4-2-2 2-2-4-2 2-8-4-14-10-60-32-4 2 0-4-4 2 0-4-4 2 0-4-4 2-8-6-12-6-4 0-38-20-4 2-2-4-12-6-4 2-2-4-3 1-1-3-4 2-14-8-28-10-20-10-8-2-2 2-2-4-4 2 0-4-4 2-2-4-4 2 0-4-4 2-2-4-4 2-28-12-28-8-24-10-6 2 0-4-6 2-2-4-4 2-2-4-4 2-2-4-2 2-10-2-34-12-8 2 0-4-10-2-2 2-2-4-6 2 0-4-8 2 0-4-4 2-3-1 1-3-8 2 0-4-8 2 0-4-6 2-2-4-6 2-2-4-6 2-26-8-10 2 0-4-8 2 0-4-6 0-2-2-10 2 0-4-8 2-2-4-4 0-4 2 0-4-10 2 0-4-10 2 0-4-10 2 0-4-4 2-16-2-2-2-12 2 0-4-10 2 0-4-8 0-4 2 0-4-12 2 0-4-12 2 0-4-14 2 0-4-12 2-2-4-12 2-2-4-16 4 0-6-16 4 0-4-16 2 0-4-12 0-6 2 0-4-20 2 0-4-20 2-2-4-10 0-2 2-10 0-4 2 0-6-28 4-1-1 2-2-3-3-6 2-16 0-2 2-10 0-2-4-30 0-2 2-34 2 0-4-6-2-40 0-2 2-16 0-6 4-60-2-8 6-12-4-16 0-10 6-8-4-12 0-8 6-8-4-8 0-8 6-8-4-6 0-8 6-12-4-10 8-2-4-6-2-8 6-8-4-12 7-4-4-12 8-2-4-6 0-6 4-2-2-6 0-8 6-2-4-4 0-8 6-2-4-4 0-4 4-8-2-8 6-2-4-4 0-6 6-2-4-4 0-6 6-2-4-2 0-8 6-2-4-8 4-6-2-4 4-6-2-6 4-4-2-6 4-4-2-8 6-2-4-8 6-2-4-8 6-2-4-6 4-4-2-4 4-6-2-4 4-4-2-6 4-4-2-4 4-4-2-8 6-2-2-76 50-73 60-68 68-63 78-56 82-44 82-35 84-25 86-15 84-6 88 3 90 11 94 21 98 29 100 38 102 46 100 52 96 56 90 63 86 68 80 74 75 79 69 84 64 89 57 94 52 98 45 102 38 104 30 106 24 108 15 108 8 108 1zM1975 1674l0-2 0 2zM2069 1678l-3-1 3-1 0 2zM2089 1680l0-2 0 2zM2177 1688l-3-1 3-1 0 2zM2189 1690l0-2 0 2zM2203 1692l0-2 0 2zM2277 1702l0-2 0 2zM2287 1704l0-2 0 2zM2297 1706l0-2 0 2zM2307 1708l0-2 0 2zM1469 1713l-2-2 2-2 2 2-2 2zM2357 1716l0-2 0 2zM1437 1719l-2-2 2-2 2 2-2 2zM2383 1722l-3-1 3-1 0 2zM2391 1724l0-2 0 2zM1397 1727l-2-2 2-2 2 2-2 2zM1369 1733l-2-2 2-2 2 2-2 2zM2421 1732l0-2 0 2zM2475 1744l0-2 0 2zM2489 1748l0-2 0 2zM2495 1750l0-2 0 2zM2521 1758l0-2 0 2zM2527 1760l0-2 0 2zM2561 1768l0-2 0 2zM2567 1770l0-2 0 2zM2573 1772l0-2 0 2zM2579 1774l0-2 0 2zM2583 1776l0-2 0 2zM2589 1778l0-2 0 2zM2595 1780l0-2 0 2zM2601 1782l0-2 0 2zM2611 1786l0-2 0 2zM2671 1806l0-2 0 2zM2677 1808l0-2 0 2zM2681 1810l0-2 0 2zM2691 1814l0-2 0 2zM2695 1816l0-2 0 2zM2753 1838l0-2 0 2zM2757 1840l0-2 0 2zM2761 1842l0-2 0 2zM2771 1846l0-2 0 2zM2775 1848l0-2 0 2zM2779 1850l0-2 0 2zM2783 1852l0-2 0 2zM2787 1854l0-2 0 2zM2791 1856l0-2 0 2zM2795 1858l0-2 0 2zM2799 1860l0-2 0 2zM2803 1862l0-2 0 2zM2849 1882l0-2 0 2zM2853 1884l0-2 0 2zM2857 1886l0-2 0 2zM2861 1888l0-2 0 2zM2875 1896l0-2 0 2zM2937 1928l0-2 0 2zM2941 1930l0-2 0 2zM2947 1934l0-2 0 2zM2951 1936l0-2 0 2zM2957 1940l0-2 0 2zM3019 1976l0-2 0 2zM3025 1980l0-2 0 2zM3031 1984l0-2 0 2zM3033 1986l0-2 0 2zM3039 1990l0-2 0 2zM3105 2034l0-2 0 2zM3113 2040l0-2 0 2zM3179 2090l0-2 0 2zM3191 2100l0-2 0 2zM3193 2102l0-2 0 2zM3195 2104l0-2 0 2zM3329 2228l0-2 0 2zM3331 2230l0-2 0 2zM3333 2232l0-2 0 2zM3556 2303l-1-6-4-6-8 8 3 2-1 3 11-1zM3401 2310l0-2 0 2zM3564 2321l-3-8-8 8 11 0zM3407 2318l0-2 0 2zM3469 2402l0-2 0 2z" fill="#04b6cd"/><path d="M2273 1537l4-10-10-2 0 12 6 0zM2326 1539l4-10-15-2 0 12 11 0zM2360 1541l4-10-17-2 0 12 13 0zM2386 1543l5-10-19-2 0 12 14 0zM3517 2237l6-4 0-2-22-42-42-70-64-90-50-60-76-78-40-36-68-54-70-48-64-38-74-38-4 0-22-12-4 0-58-26-10-2-6-4-10-2-6-4-22-6-6-4-30-10-6 0-26-10-6 0-8-4-6 0-8-4-14-2-8-4-14-2-26-8-8 0-18-6-28-4-2-2-18-2-12-4-10 0-12-4-12 0-2-2-10 0-14-4-12 0-2-2-100-10 0 12 16 2 3-4 0 4 89 12 93 18 95 24 89 28 79 30 72 32 74 38 68 40 66 44 66 50 60 52 58 56 50 56 46 58 62 92 2 0-1 2 4 6 3 2-1 2 4 2-2 2 4 6 3 2-1 2 4 2-2 2 5 2-2 2 4 1 4-2-5 7 3 2 0 3 3 1-1 3 3 1-1 3 4 1-2 2 4 2-2 2 4 0zM2431 3889l72-4 70-6 70-11 68-13 68-17 66-20 64-23 62-26 62-29 58-32 56-35 54-38 52-41 48-42 46-46 42-47 42-53 40-57 36-60 32-62 28-64 24-67 19-67 15-67 13-93 5-58-2-10-2-2 0-8-4-6 0-8-12-42 0-6-8-22 0-6-20-60-5-14-4-4-12-34-16-32 0-4-24-48-4-2 2-2-4-2-6-14-4-4-6-14-4-4-22-40-14-22-8-6-24-38-28-38-12-14-8-6-16-22-38-44-11-9-60-62-24-18-42-40-22-18-2 2-66-54-6-4-2 2-4-6-2 2-28-22-50-34-2 2-2-4-2 2-4-2-22-16-6-2-40-26-4-2-2 2-2-4-2 2-8-4-14-10-60-32-4 2 0-4-4 2 0-4-4 2 0-4-4 2-8-6-12-6-4 0-38-20-4 2-2-4-12-6-4 2-2-4-3 1-1-3-4 2-14-8-28-10-20-10-8-2-2 2-2-4-4 2 0-4-4 2-2-4-4 2 0-4-4 2-2-4-4 2-28-12-28-8-24-10-6 2 0-4-6 2-2-4-4 2-2-4-4 2-2-4-2 2-10-2-34-12-8 2 0-4-10-2-2 2-2-4-6 2 0-4-8 2 0-4-4 2-3-1 1-3-8 2 0-4-8 2 0-4-6 2-2-4-6 2-2-4-6 2-26-8-10 2 0-4-8 2 0-4-6 0-2-2-10 2 0-4-8 2-2-4-8 2 0-4-10 2 0-4-10 2 0-4-10 2 0-4-4 2-16-2-2-2-12 2 0-4-10 2 0-4-8 0-4 2 0-4-12 2 0-4-12 2 0-4-14 2 0-4-12 2-2-4-12 2-2-4-16 4 0-6-16 4 0-4-16 2 0-4-12 0-6 2 0-4-20 2 0-4-20 2-2-4-10 0-2 2-10 0-4 2 0-6-28 4-1-1 2-2-3-3-6 2-16 0-2 2-10 0-2-4-30 0-2 2-34 2 0-4-6-2-40 0-2 2-16 0-6 4-60-2-8 6-12-4-16 0-10 6-8-4-12 0-8 6-8-4-8 0-8 6-8-4-6 0-8 6-12-3-10 8-2-4-6-2-8 6-8-4-12 6-4-4-12 8-2-4-6 0-6 4-2-2-6 0-8 6-2-4-4 0-8 6-2-4-4 0-4 4-8-2-8 6-2-4-4 0-6 6-2-4-4 0-6 6-2-4-2 0-8 6-2-4-8 4-6-2-4 4-6-2-6 4-4-2-6 4-4-2-8 6-2-4-8 6-2-4-8 6-2-4-6 4-4-2-4 4-6-2-4 4-4 0-75 48-72 58-67 66-64 76-56 82-46 82-36 84-25 84-15 84-7 86 2 90 10 92 20 96 28 100 37 100 45 100 51 96 56 90 62 86 67 80 73 75 78 69 82 63 87 57 93 52 96 45 100 38 104 31 106 24 106 16 106 9 108 1zM1975 1674l0-2 0 2zM2069 1678l-3-1 3-1 0 2zM2089 1680l0-2 0 2zM2177 1688l-3-1 3-1 0 2zM2189 1690l0-2 0 2zM2203 1692l0-2 0 2zM2277 1702l0-2 0 2zM2287 1704l0-2 0 2zM2297 1706l0-2 0 2zM2307 1708l0-2 0 2zM1469 1713l-2-2 2-2 2 2-2 2zM2357 1716l0-2 0 2zM1437 1719l-2-2 2-2 2 2-2 2zM2383 1722l-3-1 3-1 0 2zM2391 1724l0-2 0 2zM1397 1727l-2-2 2-2 2 2-2 2zM2421 1732l0-2 0 2zM2475 1744l0-2 0 2zM2489 1748l0-2 0 2zM2495 1750l0-2 0 2zM2521 1758l0-2 0 2zM2527 1760l0-2 0 2zM2561 1768l0-2 0 2zM2567 1770l0-2 0 2zM2573 1772l0-2 0 2zM2579 1774l0-2 0 2zM2583 1776l0-2 0 2zM2589 1778l0-2 0 2zM2595 1780l0-2 0 2zM2601 1782l0-2 0 2zM2611 1786l0-2 0 2zM2671 1806l0-2 0 2zM2677 1808l0-2 0 2zM2681 1810l0-2 0 2zM2691 1814l0-2 0 2zM2695 1816l0-2 0 2zM2753 1838l0-2 0 2zM2757 1840l0-2 0 2zM2761 1842l0-2 0 2zM2771 1846l0-2 0 2zM2775 1848l0-2 0 2zM2779 1850l0-2 0 2zM2783 1852l0-2 0 2zM2787 1854l0-2 0 2zM2791 1856l0-2 0 2zM2795 1858l0-2 0 2zM2799 1860l0-2 0 2zM2803 1862l0-2 0 2zM2849 1882l0-2 0 2zM2853 1884l0-2 0 2zM2857 1886l0-2 0 2zM2861 1888l0-2 0 2zM2875 1896l0-2 0 2zM2937 1928l0-2 0 2zM2941 1930l0-2 0 2zM2947 1934l0-2 0 2zM2951 1936l0-2 0 2zM2957 1940l0-2 0 2zM3019 1976l0-2 0 2zM3025 1980l0-2 0 2zM3031 1984l0-2 0 2zM3033 1986l0-2 0 2zM3039 1990l0-2 0 2zM3105 2034l0-2 0 2zM3113 2040l0-2 0 2zM3179 2090l0-2 0 2zM3191 2100l0-2 0 2zM3193 2102l0-2 0 2zM3195 2104l0-2 0 2zM3329 2228l0-2 0 2zM3331 2230l0-2 0 2zM3333 2232l0-2 0 2zM3401 2310l0-2 0 2zM3407 2318l0-2 0 2zM3469 2402l0-2 0 2z" fill="#0bb3d2"/><path d="M2359 1541l4-10-7-2 0 12 3 0zM2385 1543l4-10-8-2 0 12 4 0zM2410 1545l4-10-11-2 0 12 7 0zM2430 1547l4-10-12-2 0 12 8 0zM2448 1549l4-10-12-2 0 12 8 0zM2464 1551l5-10-13-2 0 12 8 0zM3477 2161l4-2 0-4-56-86-46-60-54-62-56-56-64-56-72-54-58-38-44-24-4-4-74-38-4 0-22-12-18-6-24-12-46-16-6-4-22-6-6-4-30-10-6 0-26-10-20-4-8-4-14-2-8-4-14-2-26-8-8 0-18-6-28-4-2-2-18-2-12-4-10 0-12-4-12 0-2-2-10 0-14-4-36-4 0 12 8 1 4-7 2 0 0 8 10 2 3-4 0 4 78 14 71 16 85 24 77 26 66 26 66 30 62 32 62 36 58 38 58 42 56 46 50 46 42 43 42 47 44 56 36 51 3 1-1 2 2 4 3 0-1 2 2 4 3 0-1 3 4 1 4-2-5 6 5 2-2 2 6-1 3 1-5 7 4 1 2-2zM2476 3865l71-5 70-9 70-12 68-15 66-18 66-22 63-25 61-28 60-31 56-33 56-38 52-39 50-43 46-44 44-47 40-49 42-58 38-61 33-61 29-65 24-64 21-69 16-70 11-70 9-98-15-62-32-98-6-8-11-34-16-32 0-4-24-48-4-2 2-2-4-2-16-32-36-60-6-8-6-4-24-38-36-48-12-10-26-34-36-40-3-1-60-62-24-18-54-50-10-8-2 2-66-54-6-4-2 2-4-6-2 2-28-22-50-34-2 2-2-4-2 2-4-2-22-16-6-2-40-26-4-2-2 2-2-4-2 2-8-4-14-10-60-32-4 2 0-4-4 2 0-4-4 2 0-4-4 2-8-6-12-6-4 0-38-20-4 2-2-4-12-6-4 2-2-4-3 1-1-3-4 2-14-8-28-10-20-10-8-2-2 2-2-4-4 2 0-4-4 2-2-4-4 2 0-4-4 2-2-4-4 2-28-12-28-8-24-10-6 2 0-4-6 2-2-4-4 2-2-4-4 2-2-4-2 2-10-2-34-12-8 2 0-4-10-2-2 2-2-4-6 2 0-4-8 2 0-4-4 2-3-1 1-3-8 2 0-4-8 2 0-4-6 2-2-4-6 2-2-4-6 2-26-8-10 2 0-4-8 2 0-4-6 0-2-2-10 2 0-4-8 2-2-4-8 2 0-4-10 2 0-4-10 2 0-4-10 2 0-4-4 2-16-2-2-2-12 2 0-4-10 2 0-4-8 0-4 2 0-4-12 2 0-4-12 2 0-4-14 2 0-4-12 2-2-4-12 2-2-4-16 4 0-6-16 4 0-4-16 2 0-4-12 0-6 2 0-4-20 2 0-4-20 2-2-4-10 0-2 2-10 0-4 2 0-6-28 4-1-1 2-2-3-3-6 2-16 0-2 2-10 0-2-4-30 0-2 2-34 2 0-4-6-2-40 0-2 2-16 0-6 4-60-2-8 6-12-4-16 0-10 6-8-4-12 1-8 6-8-4-8 0-8 6-8-4-6 0-8 6-12-4-10 8-2-4-6-2-8 6-8-4-12 6-4-4-12 8-2-4-6 0-6 4-2-2-6 0-8 6-2-4-4 0-8 6-2-4-4 0-4 4-8-2-8 6-2-4-4 0-6 6-2-4-4 0-6 6-2-4-2 0-8 6-2-4-2 0-6 4-6-2-4 4-6-2-6 4-4-2-6 4-4-2-8 6-2-4-8 6-2-4-8 6-2-2-78 50-71 56-67 66-64 76-57 82-46 82-35 84-26 86-15 84-6 88 2 90 12 92 21 98 29 100 38 100 46 100 51 94 57 90 63 85 68 79 74 74 79 68 84 62 89 56 94 50 98 44 100 36 104 29 106 22 106 14 108 6 107-1zM1975 1674l0-2 0 2zM2069 1678l-3-1 3-1 0 2zM2089 1680l0-2 0 2zM2177 1688l-3-1 3-1 0 2zM2189 1690l0-2 0 2zM2203 1692l0-2 0 2zM2277 1702l0-2 0 2zM2287 1704l0-2 0 2zM2297 1706l0-2 0 2zM2307 1708l0-2 0 2zM1469 1713l-2-2 2-2 2 2-2 2zM2357 1716l0-2 0 2zM1437 1719l-2-2 2-2 2 2-2 2zM2383 1722l-3-1 3-1 0 2zM2391 1724l0-2 0 2zM2421 1732l0-2 0 2zM2475 1744l0-2 0 2zM2489 1748l0-2 0 2zM2495 1750l0-2 0 2zM2521 1758l0-2 0 2zM2527 1760l0-2 0 2zM2561 1768l0-2 0 2zM2567 1770l0-2 0 2zM2573 1772l0-2 0 2zM2579 1774l0-2 0 2zM2583 1776l0-2 0 2zM2589 1778l0-2 0 2zM2595 1780l0-2 0 2zM2601 1782l0-2 0 2zM2611 1786l0-2 0 2zM2671 1806l0-2 0 2zM2677 1808l0-2 0 2zM2681 1810l0-2 0 2zM2691 1814l0-2 0 2zM2695 1816l0-2 0 2zM2753 1838l0-2 0 2zM2757 1840l0-2 0 2zM2761 1842l0-2 0 2zM2771 1846l0-2 0 2zM2775 1848l0-2 0 2zM2779 1850l0-2 0 2zM2783 1852l0-2 0 2zM2787 1854l0-2 0 2zM2791 1856l0-2 0 2zM2795 1858l0-2 0 2zM2799 1860l0-2 0 2zM2803 1862l0-2 0 2zM2849 1882l0-2 0 2zM2853 1884l0-2 0 2zM2857 1886l0-2 0 2zM2861 1888l0-2 0 2zM2875 1896l0-2 0 2zM2937 1928l0-2 0 2zM2941 1930l0-2 0 2zM2947 1934l0-2 0 2zM2951 1936l0-2 0 2zM2957 1940l0-2 0 2zM3019 1976l0-2 0 2zM3025 1980l0-2 0 2zM3031 1984l0-2 0 2zM3033 1986l0-2 0 2zM3039 1990l0-2 0 2zM3105 2034l0-2 0 2zM3113 2040l0-2 0 2zM3179 2090l0-2 0 2zM3191 2100l0-2 0 2zM3193 2102l0-2 0 2zM3195 2104l0-2 0 2zM3477 2154l-1-1 1-1 0 2zM3483 2171l4-2-2-6-8 8 4 2 2-2zM3489 2185l6-4-4-8-9 8 5 2-2 2 4 0zM3497 2195l4-2-2-6-9 8 5 2 2-2zM3508 2217l5-3-2-5-8 8 5 0zM3329 2228l0-2 0 2zM3331 2230l0-2 0 2zM3333 2232l0-2 0 2zM3401 2310l0-2 0 2zM3407 2318l0-2 0 2zM3469 2402l0-2 0 2z" fill="#13b0d7"/><path d="M2479 1553l4-10-6-2 0 12 2 0zM2496 1555l4-10-9-2 0 12 5 0zM2510 1557l4-10-10-2 0 12 6 0zM2522 1559l4-10-9-2 0 12 5 0zM2534 1561l4-10-9-2 0 12 5 0zM3454 2125l5-3 0-3-34-50-46-60-54-62-56-56-64-56-44-34-70-48-64-38-74-38-4 0-22-12-18-6-24-12-46-16-6-4-22-6-6-4-30-10-6 0-26-10-42-10-8-4-14-2-26-8-8 0-18-6-8 0-2-2-8 0-2-2-8 0-2-2-8 0-2-2-46-8 0 12 6 1 4-7 1 8 5 1 4-8 2 1 0 8 6 1 4-7 0 8 6 1 4-7 0 8 6 1 2-4 2 1 0 4 6 1 2-3 1 4 7 1 2-3 1 4 108 28 68 22 64 24 115 52 57 30 53 32 55 36 51 38 49 40 46 42 55 56 58 68 2 0 0 2 4 6 3 0-1 2 4 6 4 0-2 2 4 6 4 0-2 2 4 6 3 0-1 2 2 3 8-1-5 6 10 0-5 5 1 3 5 2 4-2-5 6 5 2 5-2-6 6 10 0-6 6 5 1 4-2-5 7 5 1 4-2-5 7 5 1 1-1zM2451 3843l68-3 68-7 68-9 66-13 66-16 64-19 62-22 60-25 59-28 57-31 54-33 52-36 50-39 46-40 44-43 42-46 42-52 40-57 34-55 32-61 27-61 24-62 19-64 16-66 16-104 4-60 0-30-8-26 0-6-4-8 0-6-4-8 0-6-20-60-6-14-4-4-12-34-15-32 0-4-24-48-4-2 2-2-4-2-6-14-4-4-6-14-4-4-22-40-14-22-8-6-24-38-28-38-12-14-8-6-16-22-38-44-11-9-60-62-24-18-42-40-22-18-2 2-66-54-6-4-2 2-4-6-2 2-28-22-50-34-2 2-2-4-2 2-4-2-22-16-6-2-40-26-4-2-2 2-2-4-2 2-8-4-14-10-60-32-4 2 0-4-4 2 0-4-4 2 0-4-4 2-8-6-12-6-4 0-38-20-4 2-2-4-12-6-4 2-2-4-3 1-1-3-4 2-14-8-28-10-20-10-8-2-2 2-2-4-4 2 0-4-4 2-2-4-4 2 0-4-4 2-2-4-4 2-28-12-28-8-24-10-6 2 0-4-6 2-2-4-4 2-2-4-4 2-2-4-2 2-10-2-34-12-8 2 0-4-10-2-2 2-2-4-6 2 0-4-8 2 0-4-4 2-3-1 1-3-8 2 0-4-8 2 0-4-4 2-3-1-1-3-6 2-2-4-6 2-26-8-10 2 0-4-8 2 0-4-6 0-2-2-10 2 0-4-8 2-2-4-8 2 0-4-10 2 0-4-10 2 0-4-10 2 0-4-4 2-16-2-2-2-12 2 0-4-10 2 0-4-12 2 0-4-6 0-6 2 0-4-12 2 0-4-14 2 0-4-12 2-2-4-12 2-2-4-16 4 0-6-16 4 0-4-16 2 0-4-12 0-6 2 0-4-20 2 0-4-20 2-2-4-10 0-2 2-10 0-4 2 0-6-22 2-2 2-5-1 2-2-3-3-6 2-16 0-2 2-10 0-2-4-30 0-2 2-34 2 0-4-6-2-40 0-2 2-16 0-6 4-60-2-8 6-12-3-16 0-10 6-8-4-12 0-8 6-8-4-8 0-8 6-8-4-6 0-8 6-12-4-10 8-2-4-4-2-10 6-8-4-12 6-4-4-12 8-2-4-6 0-6 4-2-2-6 0-8 6-2-4-8 2-4 4-2-4-4 0-4 4-8-2-8 6-2-4-4 0-6 6-2-4-4 0-6 6-2-4-2 0-8 6-2-4-2 0-6 4-6-2-4 4-6-2-6 4-4-2-8 6-2-2-77 48-70 54-67 64-64 74-57 80-46 80-36 82-27 84-16 82-8 84 0 88 10 90 18 94 27 98 35 98 43 98 50 96 55 90 60 84 66 80 71 74 75 68 82 64 86 57 91 51 95 45 98 38 102 31 104 24 104 16 106 9 106 1zM1975 1674l0-2 0 2zM2069 1678l-3-1 3-1 0 2zM2089 1680l0-2 0 2zM2177 1688l-3-1 3-1 0 2zM2189 1690l0-2 0 2zM2203 1692l0-2 0 2zM2277 1702l0-2 0 2zM2287 1704l0-2 0 2zM2297 1706l0-2 0 2zM2307 1708l0-2 0 2zM1469 1713l-2-2 2-2 2 2-2 2zM2357 1716l0-2 0 2zM2383 1722l-3-1 3-1 0 2zM2391 1724l0-2 0 2zM2421 1732l0-2 0 2zM2475 1744l0-2 0 2zM2489 1748l0-2 0 2zM2495 1750l0-2 0 2zM2521 1758l0-2 0 2zM2527 1760l0-2 0 2zM2561 1768l0-2 0 2zM2567 1770l0-2 0 2zM2573 1772l0-2 0 2zM2579 1774l0-2 0 2zM2583 1776l0-2 0 2zM2589 1778l0-2 0 2zM2595 1780l0-2 0 2zM2601 1782l0-2 0 2zM2611 1786l0-2 0 2zM2671 1806l0-2 0 2zM2677 1808l0-2 0 2zM2681 1810l0-2 0 2zM2691 1814l0-2 0 2zM2695 1816l0-2 0 2zM2753 1838l0-2 0 2zM2757 1840l0-2 0 2zM2761 1842l0-2 0 2zM2771 1846l0-2 0 2zM2775 1848l0-2 0 2zM2779 1850l0-2 0 2zM2783 1852l0-2 0 2zM2787 1854l0-2 0 2zM2791 1856l0-2 0 2zM2795 1858l0-2 0 2zM2799 1860l0-2 0 2zM2803 1862l0-2 0 2zM2849 1882l0-2 0 2zM2853 1884l0-2 0 2zM2857 1886l0-2 0 2zM2861 1888l0-2 0 2zM2875 1896l0-2 0 2zM2937 1928l0-2 0 2zM2941 1930l0-2 0 2zM2947 1934l0-2 0 2zM2951 1936l0-2 0 2zM2957 1940l0-2 0 2zM3019 1976l0-2 0 2zM3025 1980l0-2 0 2zM3031 1984l0-2 0 2zM3033 1986l0-2 0 2zM3039 1990l0-2 0 2zM3105 2034l0-2 0 2zM3113 2040l0-2 0 2zM3433 2086l0-2 1 1-1 1zM3179 2090l0-2 0 2zM3191 2100l0-2 0 2zM3193 2102l0-2 0 2zM3195 2104l0-2 0 2zM3447 2106l0-2 0 2zM3451 2112l0-2 0 2zM3455 2118l0-2 0 2zM3463 2141l6-4-2-4-8 8 4 0zM3329 2228l0-2 0 2zM3331 2230l0-2 0 2zM3333 2232l0-2 0 2zM3401 2310l0-2 0 2zM3407 2318l0-2 0 2zM3469 2402l0-2 0 2z" fill="#19addc"/><path d="M2547 1563l5-10-8-2 0 12 3 0zM2569 1567l4-10-6-2 0 12 2 0zM2609 1575l4-10-6-2 0 12 2 0zM2619 1577l6-10-9-2 0 12 3 0zM3355 1991l4-2 0-4-34-38-56-56-40-36-52-42-44-32-78-50-102-54-4 0-22-12-4 0-58-26-122-42-6 0-44-14-68-16 0 12 2 1 3-1 3-6 1 8 3 0 4-7 1 9 3 0 4-7 2 1 0 8 2 1 3-1 1-3 4 6 3-1 1-3 4 6 3-1 1-3 4 6 3-1 1-3 1 5 3 1 4-1 0-2 1 4 3 1 4-1 0-2 0 4 4 1 2-4 1 5 5 1 2-3 0 4 4 1 8 2 2-3 0 4 74 24 74 28 84 38 82 44 82 52 76 56 76 66 62 64 9-2-5 6 10 12 6-2zM2469 3819l68-4 66-6 66-10 64-13 64-15 62-19 60-21 60-25 56-27 56-30 54-34 50-34 48-37 46-41 44-43 40-43 40-50 38-54 35-56 31-58 27-60 23-60 20-64 15-62 17-103 7-105-7-30-4-8 0-6-20-60-6-14-4-4-12-34-16-32 0-4-23-48-4-2 2-2-4-2-6-14-4-4-6-14-4-4-22-40-14-22-8-6-40-60-20-26-12-10-16-22-38-44-11-9-60-62-24-18-54-50-10-8-2 2-58-48-14-10-2 2-4-6-2 2-28-22-50-34-2 2-2-4-2 2-4-2-22-16-6-2-40-26-4-2-2 2-2-4-2 2-8-4-14-10-40-20-4-4-16-8-4 2 0-4-4 2 0-4-4 2 0-4-4 2-8-6-12-6-4 0-38-20-4 2-2-4-12-6-4 2-2-4-3 1-1-3-4 2-14-8-28-10-20-10-8-2-2 2-2-4-4 2 0-4-4 2-2-4-4 2 0-4-4 2-2-4-4 2-28-12-28-8-24-10-6 2 0-4-6 2-2-4-4 2-2-4-4 2-2-4-2 2-10-2-34-12-8 2 0-4-10-2-2 2-2-4-6 2 0-4-8 2 0-4-4 2-3-1 1-3-8 2 0-4-8 2 0-4-6 2-2-4-6 2-2-4-6 2-26-8-10 2 0-4-8 2 0-4-6 0-2-2-10 2 0-4-8 2-2-4-8 2 0-4-10 2 0-4-10 2 0-4-10 2 0-4-4 2-16-2-2-2-12 2 0-4-10 2 0-4-8 0-4 2 0-4-12 2 0-4-12 2 0-4-14 2 0-4-12 2-2-4-12 2-2-4-16 4 0-6-16 4 0-4-16 2 0-4-12 0-6 2 0-4-20 2 0-4-20 2-2-4-10 0-2 2-10 0-4 2 0-6-28 4-1-1 2-2-3-3-6 2-16 0-2 2-10 0-2-4-30 0-2 2-34 2-1-1 1-3-6-2-40 0-2 2-16 0-6 4-60-1-8 6-12-4-16 0-10 6-8-4-12 0-8 6-8-4-8 0-8 6-8-4-6 0-8 6-12-4-10 8-2-4-6-2-8 6-8-4-12 6-4-4-12 8-2-4-6 0-6 4-2-2-6 0-8 6-2-4-4 0-8 6-2-4-4 0-4 4-8-2-8 6-2-4-4 0-6 6-2-4-4 0-6 6-2-4-2 0-8 6-2-4-2 0-8 6-2-2-76 46-72 54-67 62-63 72-57 78-48 82-38 82-26 82-18 82-8 84 0 86 9 90 18 94 26 96 35 98 43 98 48 94 55 90 59 84 66 80 71 74 75 68 82 64 85 56 91 51 94 44 98 38 102 31 104 23 104 16 106 8 104 1zM1975 1674l0-2 0 2zM2069 1678l-3-1 3-1 0 2zM2089 1680l0-2 0 2zM2177 1688l-3-1 3-1 0 2zM2189 1690l0-2 0 2zM2203 1692l0-2 0 2zM2277 1702l0-2 0 2zM2287 1704l0-2 0 2zM2297 1706l0-2 0 2zM2307 1708l0-2 0 2zM2357 1716l0-2 0 2zM2383 1722l-3-1 3-1 0 2zM2391 1724l0-2 0 2zM2421 1732l0-2 0 2zM2475 1744l0-2 0 2zM2489 1748l0-2 0 2zM2495 1750l0-2 0 2zM2521 1758l0-2 0 2zM2527 1760l0-2 0 2zM2561 1768l0-2 0 2zM2567 1770l0-2 0 2zM2573 1772l0-2 0 2zM2579 1774l0-2 0 2zM2583 1776l0-2 0 2zM2589 1778l0-2 0 2zM2595 1780l0-2 0 2zM2601 1782l0-2 0 2zM2611 1786l0-2 0 2zM2671 1806l0-2 0 2zM2677 1808l0-2 0 2zM2681 1810l0-2 0 2zM2691 1814l0-2 0 2zM2695 1816l0-2 0 2zM2753 1838l0-2 0 2zM2757 1840l0-2 0 2zM2761 1842l0-2 0 2zM2771 1846l0-2 0 2zM2775 1848l0-2 0 2zM2779 1850l0-2 0 2zM2783 1852l0-2 0 2zM2787 1854l0-2 0 2zM2791 1856l0-2 0 2zM2795 1858l0-2 0 2zM2799 1860l0-2 0 2zM2803 1862l0-2 0 2zM2849 1882l0-2 0 2zM2853 1884l0-2 0 2zM2857 1886l0-2 0 2zM2861 1888l0-2 0 2zM2875 1896l0-2 0 2zM2937 1928l0-2 0 2zM2941 1930l0-2 0 2zM2947 1934l0-2 0 2zM2951 1936l0-2 0 2zM2957 1940l0-2 0 2zM3345 1974l1-1-1 1zM3019 1976l0-2 0 2zM3025 1980l0-2 0 2zM3031 1984l0-2 0 2zM3033 1986l0-2 0 2zM3039 1990l0-2 0 2zM3364 2003l5-3 0-3-8-6-6 8 4 5 5-1zM3374 2015l5-3 0-3-6-6-8 8 4 5 5-1zM3382 2025l5-3 0-3-4-4-8 8 2 3 5-1zM3390 2035l5-3 0-3-4-4-8 8 2 3 5-1zM3105 2034l0-2 0 2zM3395 2043l6-4-2-4-8 7 4 1zM3113 2040l0-2 0 2zM3401 2051l6-4-2-4-8 8 4 0zM3420 2075l5-3-2-5-8 8 5 0zM3433 2095l6-4-2-4-8 8 4 0zM3179 2090l0-2 0 2zM3191 2100l0-2 0 2zM3193 2102l0-2 0 2zM3195 2104l0-2 0 2zM3329 2228l0-2 0 2zM3331 2230l0-2 0 2zM3333 2232l0-2 0 2zM3401 2310l0-2 0 2zM3407 2318l0-2 0 2zM3469 2402l0-2 0 2z" fill="#1ca9df"/><path d="M2695 1595l4-10-7-2 1 12 2 0zM2717 1601l5-8-8-4 0 12 3 0zM2732 1605l5-8-9-4 0 12 4 0zM2757 1613l5-8-1-2-20-6 1 12 3 1 2-4 1 5 3 0 2-3 2 5 2 0zM2803 1627l4-8-2-2-32-10 0 12 4 1 2-3 2 5 4-1 0-2 2 5 4-1 0-2 0 4 4 1 2-3 0 4 6 0zM3253 1891l6-6 0-2-54-48-72-54-58-38-44-24-4-4-22-10-4-4-74-36-4 0-38-18-46-16-6-4-18-6-6 0-2 2 2 8 2 0 2-4 2 6 3 0 1-3 1 5 3 1 2-3 2 5 6 1 2-3 1 5 3 1 2-3 0 4 6 2 3 0 1-3 0 5 92 39 56 29 60 34 88 58 62 47 24 21 4-1 0 5 14 12 2 0zM2464 3795l65-3 66-5 66-9 64-12 62-15 62-18 60-20 60-24 56-26 56-30 52-31 50-34 48-36 46-39 44-42 40-43 40-48 38-52 34-54 32-57 26-56 24-60 20-61 17-63 11-58 9-62 5-60 2-62-24-74-6-14-4-4-12-34-16-32 0-4-24-48-4-2 2-2-4-2-5-14-4-4-6-14-4-4-22-40-14-22-8-6-40-60-20-26-12-10-16-22-38-44-11-9-60-62-24-18-54-50-10-8-2 2-58-48-14-10-2 2-4-6-2 2-28-22-50-34-2 2-2-4-2 2-4-2-22-16-6-2-40-26-4-2-2 2-2-4-2 2-8-4-14-10-40-20-4-4-16-8-4 2 0-4-4 2 0-4-4 2 0-4-4 2-8-6-12-6-4 0-38-20-4 2-2-4-12-6-4 2-2-4-3 1-1-3-4 2-14-8-28-10-20-10-8-2-2 2-2-4-4 2 0-4-4 2-2-4-4 2 0-4-4 2-2-4-4 2-28-12-28-8-24-10-6 2 0-4-6 2-2-4-4 2-2-4-4 2-2-4-2 2-10-2-34-12-8 2 0-4-10-2-2 2-2-4-6 2 0-4-8 2 0-4-4 2-3-1 1-3-8 2 0-4-8 2 0-4-6 2-2-4-6 2-2-4-6 2-26-8-10 2 0-4-8 2 0-4-14-2-4 2 0-4-8 2-2-4-8 2 0-4-10 2 0-4-10 2 0-4-10 2 0-4-4 2-16-2-2-2-12 2 0-4-10 2 0-4-8 0-4 2 0-4-12 2 0-4-12 2 0-4-14 2 0-4-12 2-2-4-12 2-2-4-16 4 0-6-16 4 0-4-16 2 0-4-12 0-6 2 0-4-20 2 0-4-20 2-2-4-10 0-2 2-10 0-4 2 0-6-28 4-1-1 2-2-3-3-6 2-16 0-2 2-10 0-2-4-30 0-2 2-34 2-1-1 1-3-6-2-40 1-2 2-16 0-6 4-60-2-8 6-12-4-16 0-10 6-8-4-12 0-8 6-8-4-8 0-8 6-8-4-6 0-8 6-12-4-10 8-2-4-6-2-8 6-8-4-12 6-4-4-12 8-2-4-6 0-6 4-2-2-6 0-8 6-2-4-4 0-8 6-2-4-4 0-4 4-8-2-8 6-2-4-4 0-6 6-2-3-75 43-72 52-67 60-62 68-59 78-50 80-39 82-29 82-18 80-10 82-1 84 7 88 16 92 24 94 34 98 40 96 48 96 53 90 58 84 64 80 69 74 73 68 80 63 84 58 89 51 93 45 96 39 100 31 102 25 104 17 104 9 105 2zM1975 1674l-1-1 1-1 1 1-1 1zM2069 1678l-3-1 3-1 0 2zM2089 1680l0-2 0 2zM2177 1688l-3-1 3-1 0 2zM2189 1690l0-2 0 2zM2203 1692l0-2 0 2zM2277 1702l0-2 0 2zM2287 1704l0-2 0 2zM2297 1706l0-2 0 2zM2307 1708l0-2 0 2zM2357 1716l0-2 0 2zM2383 1722l-3-1 3-1 0 2zM2391 1724l0-2 0 2zM2421 1732l0-2 0 2zM2475 1744l0-2 0 2zM2489 1748l0-2 0 2zM2495 1750l0-2 0 2zM2521 1758l0-2 0 2zM2527 1760l0-2 0 2zM2561 1768l0-2 0 2zM2567 1770l0-2 0 2zM2573 1772l0-2 0 2zM2579 1774l0-2 0 2zM2583 1776l0-2 0 2zM2589 1778l0-2 0 2zM2595 1780l0-2 0 2zM2601 1782l0-2 0 2zM2611 1786l0-2 0 2zM2671 1806l0-2 0 2zM2677 1808l0-2 0 2zM2681 1810l0-2 0 2zM2691 1814l0-2 0 2zM2695 1816l0-2 0 2zM2753 1838l0-2 0 2zM2757 1840l0-2 0 2zM2761 1842l0-2 0 2zM2771 1846l0-2 0 2zM2775 1848l0-2 0 2zM2779 1850l0-2 0 2zM2783 1852l0-2 0 2zM2787 1854l0-2 0 2zM2791 1856l0-2 0 2zM2795 1858l0-2 0 2zM2799 1860l0-2 0 2zM2803 1862l0-2 0 2zM3239 1873l-1 0 1-1 0 1zM2849 1882l0-2 0 2zM2853 1884l0-2 0 2zM2857 1886l0-2 0 2zM2861 1888l0-2 0 2zM3293 1927l6-6-30-30-4 0-3 6 0 4 27 26 2 2 2-2zM2875 1896l0-2 0 2zM2937 1928l0-2 0 2zM3320 1953l5-3 0-3-21-20-7 8 18 19 5-1zM2941 1930l0-2 0 2zM2947 1934l0-2 0 2zM2951 1936l0-2 0 2zM2957 1940l0-2 0 2zM3340 1975l5-3-4-7-8 8 2 2 5 0zM3019 1976l0-2 0 2zM3025 1980l0-2 0 2zM3031 1984l0-2 0 2zM3353 1991l6-4-2-4-8 7 4 1zM3033 1986l0-2 0 2zM3039 1990l0-2 0 2zM3105 2034l0-2 0 2zM3113 2040l0-2 0 2zM3179 2090l0-2 0 2zM3191 2100l0-2 0 2zM3193 2102l0-2 0 2zM3195 2104l0-2 0 2zM3329 2228l0-2 0 2zM3331 2230l0-2 0 2zM3333 2232l0-2 0 2zM3401 2310l0-2 0 2zM3407 2318l0-2 0 2zM3469 2402l0-2 0 2z" fill="#1fa5e2"/><path d="M2862 1649l3-10-7 2 0 8 4 0zM2872 1653l3-10-7 2 1 8 3 0zM2882 1657l4-8-1-2-7 2 0 8 4 0zM2895 1663l4-10-6 2 0 8 2 0zM2910 1669l3-10-6 2 0 8 3 0zM2928 1677l4-8-5-4-5 0-2 2 0 8 8 2zM2509 3769l64-4 62-7 62-10 62-13 60-15 60-19 56-20 56-24 54-26 52-29 50-31 48-33 46-36 44-39 41-40 38-42 39-48 35-48 31-50 30-55 26-56 22-55 20-60 16-60 13-62 9-64 5-64 1-64-16-54-6-14-4-4-12-34-16-32 0-4-24-48-4-2 2-2-4-2-6-14-4-4-6-14-4-4-21-40-14-22-8-6-40-60-20-26-12-10-16-22-38-44-11-9-60-62-24-18-54-50-10-8-2 2-58-48-14-10-2 2-4-6-2 2-28-22-50-34-2 2-2-4-2 2-4-2-22-16-6-2-40-26-4-2-2 2-2-4-2 2-8-4-14-10-40-20-4-4-16-8-4 2 0-4-4 2 0-4-4 2 0-4-4 2-8-6-12-6-4 0-38-20-4 2-2-4-12-6-4 2-2-4-2 2-1-1-1-3-4 2-14-8-28-10-20-10-8-2-2 2-2-4-4 2 0-4-4 2-2-4-4 2 0-4-4 2-2-4-4 2-28-12-28-8-24-10-6 2 0-4-6 2-2-4-4 2-2-4-4 2-2-4-2 2-10-2-34-12-8 2 0-4-10-2-2 2-2-4-6 2 0-4-8 2 0-4-4 2-3-1 1-3-8 2 0-4-8 2 0-4-6 2-2-4-6 2-2-4-6 2-26-8-10 2 0-4-8 2 0-4-14-2-4 2 0-4-8 2-2-4-8 2 0-4-10 2 0-4-10 2 0-4-10 2 0-4-4 2-16-2-2-2-12 2 0-4-10 2 0-4-8 0-4 2 0-4-12 2 0-4-12 2 0-4-14 2 0-4-12 2-2-4-12 2-2-4-16 4 0-6-16 4 0-4-16 2 0-4-12 0-6 2 0-4-20 2-1-1 1-3-20 2-2-4-10 0-2 2-10 0-4 2-1-1 1-5-28 4-1-1 2-2-3-3-6 2-16 0-2 2-10 0-2-4-30 1-2 2-34 2-2-2 2-2-6-2-40 0-2 2-16 0-6 4-60-2-8 6-12-4-16 0-10 6-8-4-12 0-8 6-8-4-8 0-8 6-8-4-6 0-8 6-12-4-10 8-2-4-6-2-8 6-8-4-12 6-4-4-12 8-2-4-6 0-6 4-2-2-6 0-8 6-2-4-8 2-4 4-3-4-80 44-71 50-67 58-63 68-60 78-50 80-41 82-29 82-18 80-10 82-2 86 8 88 16 92 25 96 34 98 41 96 48 94 54 90 59 84 65 80 71 74 75 68 80 62 84 55 91 51 95 44 98 37 100 29 102 23 104 14 104 8 106-1zM1975 1674l-1-1 1-1 1 1-1 1zM2069 1678l-3-1 3-1 1 1-1 1zM2998 1711l6-6-3-4-48-24-7 2 1 9 48 24 3-1zM2089 1680l-1-1 1-1 1 1-1 1zM2177 1688l-3-1 3-1 0 2zM2189 1690l0-2 0 2zM2203 1692l0-2 0 2zM2277 1702l0-2 0 2zM2287 1704l0-2 0 2zM2297 1706l0-2 0 2zM2307 1708l0-2 0 2zM3024 1725l7-6-4-4-11-4-4 6 1 4 8 5 3-1zM2357 1716l0-2 0 2zM2383 1722l-3-1 3-1 0 2zM3038 1733l7-6-4-4-7-2-4 8 5 5 3-1zM2391 1724l0-2 0 2zM3131 1791l6-6-4-4-78-50-6-2-3 2-1 8 6 4 3-2 1 4 4 3 5-1 1 4 4 3 5-1 0 4 3 1 2-2 2 5 4 3 4-1 1 4 3 1 2-2 2 5 4-1 2 5 4-1 2 5 4-1 2 5 4-1 1 5 3 1 2-2 1 5 3 2 2-2zM2421 1732l0-2 0 2zM3055 1740l1-1-1 1zM2475 1744l0-2 0 2zM3065 1746l1-1-1 1zM2489 1748l0-2 0 2zM2495 1750l0-2 0 2zM3081 1757l0-3 2 1-2 2zM2521 1758l0-2 0 2zM2527 1760l0-2 0 2zM3097 1766l0-2 0 2zM2561 1768l0-2 0 2zM2567 1770l0-2 0 2zM3103 1770l0-2 0 2zM2573 1772l0-2 0 2zM2579 1774l0-2 0 2zM3109 1774l0-2 0 2zM2583 1776l0-2 0 2zM2589 1778l0-2 0 2zM3115 1778l0-2 0 2zM2595 1780l0-2 0 2zM2601 1782l0-2 0 2zM3121 1782l0-2 0 2zM2611 1786l0-2 0 2zM3127 1786l0-2 0 2zM3144 1801l6-6-3-4-8-4-4 6 0 4 4-2 1 6 4 0zM3141 1796l-2-1 2-2 0 3zM3159 1811l6-6-12-8-4 6 0 4 4-2 1 6 3 2 2-2zM2671 1806l0-2 0 2zM3155 1806l-2-1 2-2 0 3zM2677 1808l0-2 0 2zM3167 1817l6-6-4-4-4 0-3 6 0 4 3 2 2-2zM2681 1810l0-2 0 2zM2691 1814l0-2 0 2zM3175 1823l6-6-4-4-4 0-3 6 0 4 3 2 2-2zM2695 1816l0-2 0 2zM3183 1831l6-6-2-4-2 0-4 6 0 4 2 0zM3193 1837l6-6-4-4-3 0-4 6 1 5 2 1 2-2zM3203 1845l6-6-4-4-3 0-4 6 1 5 2 1 2-2zM2753 1838l0-2 0 2zM2757 1840l0-2 0 2zM2761 1842l0-2 0 2zM2771 1846l0-2 0 2zM3214 1855l6-6-3-4-3 0-3 6 0 4 3 0zM2775 1848l0-2 0 2zM2779 1850l0-2 0 2zM2783 1852l0-2 0 2zM2787 1854l0-2 0 2zM2791 1856l0-2 0 2zM3227 1867l6-6-4-6-3 0-4 6 0 4 5 2zM2795 1858l0-2 0 2zM2799 1860l0-2 0 2zM2803 1862l0-2 0 2zM3243 1879l6-6-4-4-3 0-4 6 1 4 2 2 2-2zM2849 1882l0-2 0 2zM2853 1884l0-2 0 2zM2857 1886l0-2 0 2zM2861 1888l0-2 0 2zM3266 1901l6-6-3-4-2 0-4 6 0 4 3 0zM2875 1896l0-2 0 2zM2937 1928l0-2 0 2zM2941 1930l0-2 0 2zM2947 1934l0-2 0 2zM2951 1936l0-2 0 2zM2957 1940l0-2 0 2zM3019 1976l0-2 0 2zM3025 1980l0-2 0 2zM3031 1984l0-2 0 2zM3033 1986l0-2 0 2zM3039 1990l0-2 0 2zM3105 2034l0-2 0 2zM3113 2040l0-2 0 2zM3179 2090l0-2 0 2zM3191 2100l0-2 0 2zM3193 2102l0-2 0 2zM3195 2104l0-2 0 2zM3329 2228l0-2 0 2zM3331 2230l0-2 0 2zM3333 2232l0-2 0 2zM3401 2310l0-2 0 2zM3407 2318l0-2 0 2zM3469 2402l-1-1 1-1 1 1-1 1z" fill="#22a1e4"/><path d="M2528 3743l61-4 62-8 60-10 60-12 58-16 58-18 56-21 54-23 52-25 50-28 50-31 46-32 44-35 42-36 40-39 38-42 38-47 34-47 32-52 28-50 24-52 23-56 19-57 16-57 14-69 10-71 5-70 1-70-12-34-6-8-12-34-16-32 0-4-24-48-4-2 2-2-4-2-6-14-4-4-6-14-4-4-22-40-13-22-8-6-40-60-20-26-12-10-16-22-38-44-11-9-60-62-24-18-54-50-10-8-2 2-58-48-14-10-2 2-4-6-2 2-28-22-50-34-2 2-2-4-2 2-4-2-22-16-6-2-40-26-4-2-2 2-2-4-2 2-8-4-14-10-40-20-4-4-16-8-4 2 0-4-4 2 0-4-4 2 0-4-4 2-8-6-12-6-4 0-38-20-4 2-2-4-12-6-4 2-2-4-2 2-1-1-1-3-4 2-14-8-28-10-20-10-8-2-2 2-2-4-4 2 0-4-4 2-2-4-4 2 0-4-4 2-2-4-4 2-28-12-28-8-24-10-6 2 0-4-6 2-2-4-4 2-2-4-4 2-2-4-2 2-10-2-34-12-8 2 0-4-10-2-2 2-2-4-6 2 0-4-8 2 0-4-4 2-3-1 1-3-8 2 0-4-8 2 0-4-6 2-2-4-6 2-2-4-6 2-26-8-10 2 0-4-8 2 0-4-14-2-4 2 0-4-8 2-2-4-8 2 0-4-10 2 0-4-10 2 0-4-10 2 0-4-4 2-16-2-2-2-12 2 0-4-10 2 0-4-8 0-4 2 0-4-12 2 0-4-12 2 0-4-14 2 0-4-12 2-2-4-12 2-2-4-16 4-1-1 1-5-16 4-1-1 1-3-16 2-1-1 1-3-12 0-6 2-1-1 1-3-20 2-1-1 1-3-20 2-2-4-10 0-2 2-10 0-4 2-1-1 1-5-28 5-2-2 2-2-2-2-6 2-16 0-2 2-10 0-2-4-30 0-2 2-34 2-2-2 2-2-6-2-40 0-2 2-16 0-6 4-60-2-8 6-12-4-16 0-10 6-8-4-12 0-8 6-8-4-8 0-8 6-8-4-6 0-8 6-12-4-10 8-2-4-6-2-8 6-8-4-10 6-6-4-12 8-2-4-6 0-6 4-2-1-80 43-70 48-68 58-63 66-61 78-51 80-40 80-29 82-19 78-10 82-2 84 7 88 16 92 24 94 34 97 41 97 48 94 54 90 59 84 64 78 69 72 75 68 80 61 84 56 90 49 94 44 98 36 100 29 102 22 104 14 104 6 103-1zM1975 1675l-2-2 2-2 2 2-2 2zM2069 1678l-3-1 3-1 1 1-1 1zM2089 1680l-1-1 1-1 1 1-1 1zM2177 1688l-3-1 3-1 1 1-1 1zM2189 1690l0-2 0 2zM2203 1692l0-2 0 2zM2277 1702l0-2 0 2zM2287 1704l0-2 0 2zM2297 1706l0-2 0 2zM2307 1708l0-2 0 2zM2357 1716l0-2 0 2zM2383 1722l-3-1 3-1 0 2zM2391 1724l0-2 0 2zM2421 1732l0-2 0 2zM2475 1744l0-2 0 2zM3071 1753l6-6-2-4-2 0-4 6 0 4 2 0zM2489 1748l0-2 0 2zM2495 1750l0-2 0 2zM2521 1758l0-2 0 2zM2527 1760l0-2 0 2zM2561 1768l0-2 0 2zM2567 1770l0-2 0 2zM2573 1772l0-2 0 2zM2579 1774l0-2 0 2zM2583 1776l0-2 0 2zM2589 1778l0-2 0 2zM2595 1780l0-2 0 2zM2601 1782l0-2 0 2zM2611 1786l0-2 0 2zM2671 1806l0-2 0 2zM2677 1808l0-2 0 2zM2681 1810l0-2 0 2zM2691 1814l0-2 0 2zM2695 1816l0-2 0 2zM2753 1838l0-2 0 2zM2757 1840l0-2 0 2zM2761 1842l0-2 0 2zM2771 1846l0-2 0 2zM2775 1848l0-2 0 2zM2779 1850l0-2 0 2zM2783 1852l0-2 0 2zM2787 1854l0-2 0 2zM2791 1856l0-2 0 2zM2795 1858l0-2 0 2zM2799 1860l0-2 0 2zM2803 1862l0-2 0 2zM2849 1882l0-2 0 2zM2853 1884l0-2 0 2zM2857 1886l0-2 0 2zM2861 1888l0-2 0 2zM2875 1896l0-2 0 2zM2937 1928l0-2 0 2zM2941 1930l0-2 0 2zM2947 1934l0-2 0 2zM2951 1936l0-2 0 2zM2957 1940l0-2 0 2zM3019 1976l0-2 0 2zM3025 1980l0-2 0 2zM3031 1984l0-2 0 2zM3033 1986l0-2 0 2zM3039 1990l0-2 0 2zM3105 2034l0-2 0 2zM3113 2040l0-2 0 2zM3179 2090l0-2 0 2zM3191 2100l0-2 0 2zM3193 2102l0-2 0 2zM3195 2104l0-2 0 2zM3329 2228l0-2 0 2zM3331 2230l0-2 0 2zM3333 2232l0-2 0 2zM3401 2310l0-2 0 2zM3407 2318l0-2 1 1-1 1zM3469 2402l-1-1 1-1 1 1-1 1z" fill="#249de7"/><path d="M2534 3717l119-11 118-22 112-31 54-20 54-23 52-25 49-26 47-29 46-31 44-34 42-36 39-38 37-40 36-43 34-46 30-47 28-49 26-52 22-52 19-55 17-56 16-68 10-68 7-70 2-72-1-36-4-10-4-4-12-34-16-32 0-4-24-48-4-2 2-2-4-2-6-14-4-4-6-14-4-4-22-40-14-22-8-6-39-60-20-26-12-10-16-22-38-44-11-9-60-62-24-18-54-50-10-8-2 2-58-48-14-10-2 2-4-6-2 2-28-22-50-34-2 2-2-4-2 2-4-2-22-16-6-2-40-26-4-2-2 2-2-4-2 2-8-4-14-10-40-20-4-4-16-8-4 2 0-4-4 2 0-4-4 2 0-4-4 2-8-6-12-6-4 0-38-20-4 2-2-4-12-6-4 2-2-4-2 2-1-1-1-3-4 2-14-8-28-10-20-10-8-2-2 2-2-4-4 2 0-4-4 2-2-4-4 2 0-4-4 2-2-4-4 2-28-12-28-8-6-4-18-6-6 2 0-4-6 2-2-4-4 2-2-4-4 2-2-4-2 2-10-2-34-12-8 2 0-4-10-2-2 2-2-4-6 2 0-4-8 2 0-4-4 2-3-1 1-3-8 2 0-4-8 2 0-4-6 2-2-4-6 2-2-4-6 2-26-8-10 2 0-4-8 2 0-4-14-2-4 2 0-4-8 2-2-4-8 2 0-4-10 2 0-4-10 2 0-4-10 2 0-4-4 2-16-2-2-2-12 2-1-1 1-3-10 2-1-1 1-3-8 0-4 2-1-1 1-3-12 2-1-1 1-3-12 2-1-1 1-3-14 2-1-1 1-3-12 2-2-4-12 2-2-4-16 4-1-1 1-5-16 4-1-1 1-3-16 2-1-1 1-3-12 0-6 2-1-1 1-3-20 3-2-2 2-2-20 2-2-4-10 0-2 2-10 0-4 2-2-2 2-4-28 4-2-2 2-2-2-2-6 2-16 0-2 2-10 0-2-4-28 0-4 2-34 2-2-2 2-2-6-2-40 0-2 2-16 0-6 4-60-2-8 6-12-4-16 0-10 6-8-4-12 0-8 6-8-4-8 0-8 6-8-4-6 0-8 6-12-4-10 8-2-4-6-2-8 6-8-3-12 5-80 42-72 48-67 56-62 64-59 74-52 80-41 80-31 82-19 78-11 80-2 82 6 86 15 90 24 92 32 96 40 96 47 94 52 88 58 84 64 78 68 72 74 68 78 61 84 55 89 50 93 43 96 36 98 29 101 22 103 14 102 7 103-1zM1975 1675l-2-2 2-2 2 2-2 2zM2069 1679l-4-2 4-2 2 2-2 2zM2089 1681l-2-2 2-2 2 2-2 2zM2177 1688l-3-1 3-1 1 1-1 1zM2189 1690l-1-1 1-1 1 1-1 1zM2203 1692l-1-1 1-1 1 1-1 1zM2277 1702l0-2 0 2zM2287 1704l0-2 0 2zM2297 1706l0-2 0 2zM2307 1708l0-2 0 2zM2357 1716l0-2 0 2zM2383 1722l-3-1 3-1 0 2zM2391 1724l0-2 0 2zM2421 1732l0-2 0 2zM2475 1744l0-2 0 2zM2489 1748l0-2 0 2zM2495 1750l0-2 0 2zM2521 1758l0-2 0 2zM2527 1760l0-2 0 2zM2561 1768l0-2 0 2zM2567 1770l0-2 0 2zM2573 1772l0-2 0 2zM2579 1774l0-2 0 2zM2583 1776l0-2 0 2zM2589 1778l0-2 0 2zM2595 1780l0-2 0 2zM2601 1782l0-2 0 2zM2611 1786l0-2 0 2zM2671 1806l0-2 0 2zM2677 1808l0-2 0 2zM2681 1810l0-2 0 2zM2691 1814l0-2 0 2zM2695 1816l0-2 0 2zM2753 1838l0-2 0 2zM2757 1840l0-2 0 2zM2761 1842l0-2 0 2zM2771 1846l0-2 0 2zM2775 1848l0-2 0 2zM2779 1850l0-2 0 2zM2783 1852l0-2 0 2zM2787 1854l0-2 0 2zM2791 1856l0-2 0 2zM2795 1858l0-2 0 2zM2799 1860l0-2 0 2zM2803 1862l0-2 0 2zM2849 1882l0-2 0 2zM2853 1884l0-2 0 2zM2857 1886l0-2 0 2zM2861 1888l0-2 0 2zM2875 1896l0-2 0 2zM2937 1928l0-2 0 2zM2941 1930l0-2 0 2zM2947 1934l0-2 0 2zM2951 1936l0-2 0 2zM2957 1940l0-2 0 2zM3019 1976l0-2 0 2zM3025 1980l0-2 0 2zM3031 1984l0-2 0 2zM3033 1986l0-2 0 2zM3039 1990l0-2 0 2zM3105 2034l0-2 0 2zM3113 2040l0-2 0 2zM3179 2090l0-2 0 2zM3191 2100l0-2 0 2zM3193 2102l0-2 0 2zM3195 2104l0-2 0 2zM3329 2228l0-2 0 2zM3331 2230l0-2 0 2zM3333 2232l0-2 0 2zM3401 2310l-1-1 1-1 1 1-1 1zM3407 2318l-1-1 1-1 1 1-1 1zM3469 2403l-2-2 2-2 2 2-2 2z" fill="#2699e9"/><path d="M2521 3691l118-9 114-19 110-29 106-38 100-49 92-56 44-32 40-33 39-35 37-37 36-41 33-42 31-44 28-45 25-47 23-47 20-49 19-54 16-58 13-57 10-61 6-60 3-66-1-64-16-44-34-70-4-2 2-2-4-2-24-46-32-52-8-6-40-60-19-26-12-10-16-22-38-44-11-9-60-62-24-18-24-24-40-34-2 2-66-54-6-4-2 2-4-6-2 2-48-36-30-20-2 2-2-4-2 2-4-2-22-16-6-2-40-26-4-2-2 2-2-4-2 2-8-4-14-10-60-32-4 2 0-4-4 2 0-4-4 2 0-4-4 2-8-6-12-6-4 0-38-20-4 2-2-4-12-6-4 2-2-4-2 2-1-1-1-3-4 2-14-8-28-10-20-10-8-2-2 2-2-4-4 2 0-4-4 2-2-4-4 2 0-4-4 2-2-4-4 2-28-12-28-8-24-10-6 2 0-4-6 2-2-4-4 2-2-4-4 2-2-4-2 2-10-2-34-12-8 2 0-4-6-2-6 2-2-4-2 0-4 2 0-4-8 2 0-4-4 2-3-1 1-3-8 2 0-4-8 2 0-4-4 2-3-1-1-3-6 2-2-4-6 2-26-8-10 2 0-4-8 2-1-1 1-3-14-2-4 2-1-1 1-3-8 2-2-4-8 2-1-1 1-3-10 2-1-1 1-3-10 2-1-1 1-3-10 2-1-1 1-3-4 2-16-2-2-2-12 2-1-1 1-3-10 2-1-1 1-3-8 0-4 2-1-1 1-3-12 2-1-1 1-3-12 2-1-1 1-3-14 2-1-1 1-3-12 2-2-4-12 2-2-4-16 5-2-2 2-4-16 4-2-2 2-2-16 2-2-2 2-2-12 0-6 2-2-2 2-2-20 2-2-2 2-2-20 2-2-4-10 0-2 2-10 0-4 2-2-2 2-4-28 4-2-2 2-2-2-2-6 2-16 0-2 2-10 0-2-4-26 0-40 4-2-2 2-2-6-2-40 0-2 2-16 0-6 4-60-2-8 6-12-4-16 0-10 6-8-4-12 0-8 6-8-4-8 0-8 6-8-4-6 0-8 6-8-4-8 4-81 40-70 44-66 52-63 62-62 74-53 78-43 78-32 80-21 76-13 78-4 80 4 84 12 88 21 90 30 94 37 93 45 93 51 90 55 84 61 78 66 73 72 68 76 62 82 56 86 51 91 44 95 38 97 30 99 23 102 16 102 8 100 1zM1975 1675l-2-2 2-2 2 2-2 2zM2069 1679l-4-2 4-2 2 2-2 2zM2089 1681l-2-2 2-2 2 2-2 2zM2177 1688l-3-1 3-2 1 2-1 1zM2189 1690l-1-1 1-1 1 1-1 1zM2203 1692l-1-1 1-1 1 1-1 1zM2277 1702l-1-1 1-1 1 1-1 1zM2287 1704l-1-1 1-1 1 1-1 1zM2297 1706l-1-1 1-1 1 1-1 1zM2307 1708l-1-1 1-1 1 1-1 1zM2357 1716l-1-1 1-1 1 1-1 1zM2383 1722l-3-1 3-1 0 2zM2391 1724l0-2 0 2zM2421 1732l0-2 0 2zM2475 1744l0-2 0 2zM2489 1748l0-2 0 2zM2495 1750l0-2 0 2zM2521 1758l0-2 0 2zM2527 1760l0-2 0 2zM2561 1768l0-2 0 2zM2567 1770l0-2 0 2zM2573 1772l0-2 0 2zM2579 1774l0-2 0 2zM2583 1776l0-2 0 2zM2589 1778l0-2 0 2zM2595 1780l0-2 0 2zM2601 1782l0-2 0 2zM2611 1786l0-2 0 2zM2671 1806l0-2 0 2zM2677 1808l0-2 0 2zM2681 1810l0-2 0 2zM2691 1814l0-2 0 2zM2695 1816l0-2 0 2zM2753 1838l0-2 0 2zM2757 1840l0-2 0 2zM2761 1842l0-2 0 2zM2771 1846l0-2 0 2zM2775 1848l0-2 0 2zM2779 1850l0-2 0 2zM2783 1852l0-2 0 2zM2787 1854l0-2 0 2zM2791 1856l0-2 0 2zM2795 1858l0-2 0 2zM2799 1860l0-2 0 2zM2803 1862l0-2 0 2zM2849 1882l0-2 0 2zM2853 1884l0-2 0 2zM2857 1886l0-2 0 2zM2861 1888l0-2 0 2zM2875 1896l0-2 0 2zM2937 1928l0-2 0 2zM2941 1930l0-2 0 2zM2947 1934l0-2 0 2zM2951 1936l0-2 0 2zM2957 1940l0-2 0 2zM3019 1976l0-2 0 2zM3025 1980l0-2 0 2zM3031 1984l0-2 0 2zM3033 1986l0-2 0 2zM3039 1990l0-2 0 2zM3105 2034l0-2 0 2zM3113 2040l0-2 0 2zM3179 2090l0-2 0 2zM3191 2100l0-2 0 2zM3193 2102l0-2 0 2zM3195 2104l0-2 0 2zM3329 2228l-1-1 1-1 1 1-1 1zM3331 2230l-1-1 1-1 1 1-1 1zM3333 2232l-1-1 1-1 1 1-1 1zM3401 2310l-1-1 1-1 1 1-1 1zM3407 2318l-1-1 1-1 2 1-2 1zM3469 2403l-2-2 2-2 2 2-2 2z" fill="#2995ec"/><path d="M2543 3663l112-9 110-19 106-29 102-37 96-47 90-55 80-62 74-70 34-38 32-40 56-84 26-46 22-45 38-97 28-102 10-52 8-56 5-62 2-60-2-64-5-14-34-70-4-2 2-2-4-2-24-46-32-52-8-6-40-60-20-26-12-10-16-22-37-44-11-9-60-62-24-18-24-24-40-34-2 2-66-54-6-4-2 2-4-6-2 2-48-36-30-20-2 2-2-4-2 2-4-2-22-16-6-2-40-26-4-2-2 2-2-4-2 2-8-4-14-10-60-32-4 2 0-4-4 2 0-4-4 2 0-4-4 2-8-6-12-6-4 0-38-20-4 2-2-4-12-6-4 2-2-4-2 2-1-1-1-3-4 2-14-8-4 0-44-20-8-2-2 2-2-4-4 2 0-4-4 2-2-4-4 2 0-4-4 2-2-4-4 2-28-12-28-8-24-10-6 2 0-4-6 2-2-4-4 2-2-4-4 2-2-4-2 2-10-2-34-12-8 2-1-1 1-3-6-2-6 2-2-4-2 0-4 2-1-1 1-3-8 2-1-1 1-3-4 2-3-1 1-3-8 2-1-1 1-3-8 2-1-1 1-3-4 2-3-1-1-3-6 2-2-4-6 2-26-8-10 2-1-1 1-3-8 2-1-1 1-3-14-2-4 2-1-1 1-3-8 2-2-4-8 2-1-1 1-3-10 2-1-1 1-3-10 2-1-1 1-3-10 2-1-1 1-3-4 2-16-2-2-2-12 2-1-1 1-3-10 2-2-1 2-2-8 0-4 2-2-2 2-2-12 2-2-2 2-2-12 2-2-2 2-2-14 2-2-2 2-2-12 2-2-4-12 2-2-4-16 4-2-2 2-4-16 4-2-2 2-2-16 2-2-2 2-2-12 0-6 2-2-2 2-2-20 2-2-2 2-2-20 2-2-4-10 0-2 2-10 0-4 2-2-2 2-4-28 4-2-2 2-2-2-2-4 0-2 2-16 0-2 2-10 0-2-4-24 0-42 4-2-2 2-2-6-2-40 0-2 2-16 0-6 4-60-2-8 6-12-4-16 0-10 6-8-4-12 0-8 6-8-4-5 0-38 16-78 40-70 46-64 52-61 62-59 72-52 78-41 78-30 78-19 76-11 76-3 80 5 84 13 86 23 90 30 92 38 93 45 91 51 88 56 82 60 75 66 71 71 66 76 60 80 54 85 49 90 43 92 35 96 29 98 22 100 15 100 7 100 0zM1975 1675l-2-2 2-2 2 2-2 2zM2069 1679l-4-2 4-2 2 2-2 2zM2089 1681l-2-2 2-2 2 2-2 2zM2177 1689l-4-2 4-2 2 2-2 2zM2189 1691l-2-2 2-2 2 2-2 2zM2203 1693l-2-2 2-2 2 2-2 2zM2277 1702l-1-1 1-1 1 1-1 1zM2287 1704l-1-1 1-1 1 1-1 1zM2297 1706l-1-1 1-1 1 1-1 1zM2307 1708l-1-1 1-1 1 1-1 1zM2357 1716l-1-1 1-1 1 1-1 1zM2383 1722l-3-1 3-1 1 1-1 1zM2391 1724l-1-1 1-1 1 1-1 1zM2421 1732l-1-1 1-1 1 1-1 1zM2475 1744l-1-1 1-1 1 1-1 1zM2489 1748l0-2 0 2zM2495 1750l0-2 0 2zM2521 1758l0-2 0 2zM2527 1760l0-2 0 2zM2561 1768l0-2 0 2zM2567 1770l0-2 0 2zM2573 1772l0-2 0 2zM2579 1774l0-2 0 2zM2583 1776l0-2 0 2zM2589 1778l0-2 0 2zM2595 1780l0-2 0 2zM2601 1782l0-2 0 2zM2611 1786l0-2 0 2zM2671 1806l0-2 0 2zM2677 1808l0-2 0 2zM2681 1810l0-2 0 2zM2691 1814l0-2 0 2zM2695 1816l0-2 0 2zM2753 1838l0-2 0 2zM2757 1840l0-2 0 2zM2761 1842l0-2 0 2zM2771 1846l0-2 0 2zM2775 1848l0-2 0 2zM2779 1850l0-2 0 2zM2783 1852l0-2 0 2zM2787 1854l0-2 0 2zM2791 1856l0-2 0 2zM2795 1858l0-2 0 2zM2799 1860l0-2 0 2zM2803 1862l0-2 0 2zM2849 1882l0-2 0 2zM2853 1884l0-2 0 2zM2857 1886l0-2 0 2zM2861 1888l0-2 0 2zM2875 1896l0-2 0 2zM2937 1928l0-2 0 2zM2941 1930l0-2 0 2zM2947 1934l0-2 0 2zM2951 1936l0-2 0 2zM2957 1940l0-2 0 2zM3019 1976l0-2 0 2zM3025 1980l0-2 0 2zM3031 1984l0-2 0 2zM3033 1986l0-2 0 2zM3039 1990l0-2 0 2zM3105 2034l0-2 0 2zM3113 2040l0-2 0 2zM3179 2090l0-2 0 2zM3191 2100l0-2 0 2zM3193 2102l0-2 0 2zM3195 2104l0-2 0 2zM3329 2228l-1-1 1-1 1 1-1 1zM3331 2230l-1-1 1-1 1 1-1 1zM3333 2232l-1-1 1-1 1 1-1 1zM3401 2311l-2-2 2-2 2 2-2 2zM3407 2319l-2-2 2-2 2 2-2 2zM3469 2403l-2-2 2-2 2 2-2 2z" fill="#2c90f0"/><path d="M2543 3635l112-9 110-18 106-28 100-37 96-46 88-54 80-62 38-34 36-36 64-77 55-83 47-90 36-94 28-102 17-106 5-58 2-56-2-68-4-24-24-48-4-2 2-2-4-2-6-14-4-4-6-14-4-4-22-40-14-22-8-6-40-60-20-26-12-10-16-22-38-44-10-8-60-63-24-18-24-24-40-34-2 2-66-54-6-4-2 2-4-6-2 2-48-36-30-20-2 2-2-4-2 2-4-2-22-16-6-2-40-26-4-2-2 2-2-4-2 2-8-4-14-10-60-32-4 2 0-4-4 2 0-4-4 2 0-4-4 2-8-6-12-6-4 0-38-20-4 2-2-4-12-6-4 2-2-4-2 2-1-1-1-3-4 2-14-8-4 0-44-20-8-2-2 2-2-4-4 2 0-4-4 2-2-4-4 2 0-4-4 2-2-4-4 2-28-12-28-8-24-10-6 2-1-1 1-3-6 2-2-4-4 2-2-4-4 2-2-4-2 2-10-2-34-12-8 2-1-1 1-3-6-2-6 2-2-4-2 0-4 2-1-1 1-3-8 2-1-1 1-3-4 2-3-1 1-3-8 2-1-1 1-3-8 2-1-1 1-3-4 2-3-1-1-3-6 2-2-4-6 2-26-8-10 2-1-1 1-3-8 2-1-1 1-3-14-2-4 2-1-1 1-3-8 2-2-3-8 2-2-2 2-2-10 2-2-2 2-2-10 2-2-2 2-2-10 2-2-2 2-2-4 2-16-2-2-2-12 2-2-2 2-2-10 2-2-2 2-2-8 0-4 2-2-2 2-2-12 2-2-2 2-2-12 2-2-2 2-2-14 2-2-2 2-2-12 2-2-4-12 2-2-4-16 4-2-2 2-4-16 4-2-2 2-2-16 2-2-2 2-2-12 0-6 2-2-2 2-2-20 2-2-2 2-2-20 2-2-4-10 0-2 2-10 0-4 2-2-2 2-4-28 4-2-2 2-2-2-2-4 0-2 2-16 0-2 2-10 0-2-4-22 0-44 4-2-2 2-2-6-2-40 0-2 2-16 0-6 4-60-2-8 6-12-4-16 0-10 6-8-2-43 18-76 38-69 44-64 52-61 60-59 72-50 74-40 76-31 78-20 72-11 76-4 78 4 82 13 84 21 89 29 91 37 91 44 91 48 84 54 80 60 77 64 70 69 65 75 60 78 54 86 50 88 42 90 35 94 30 96 22 98 15 98 8 98 0zM1975 1675l-2-2 2-2 2 2-2 2zM2069 1679l-4-2 4-2 2 2-2 2zM2089 1681l-2-2 2-2 2 2-2 2zM2177 1689l-4-2 4-2 2 2-2 2zM2189 1691l-2-2 2-2 2 2-2 2zM2203 1693l-2-2 2-2 2 2-2 2zM2277 1703l-2-2 2-2 2 2-2 2zM2287 1705l-2-2 2-2 2 2-2 2zM2297 1707l-2-2 2-2 2 2-2 2zM2307 1709l-2-2 2-2 2 2-2 2zM2357 1716l-1-1 1-1 1 1-1 1zM2383 1722l-3-1 3-1 1 1-1 1zM2391 1724l-1-1 1-1 1 1-1 1zM2421 1732l-1-1 1-1 1 1-1 1zM2475 1744l-1-1 1-1 1 1-1 1zM2489 1748l-1-1 1-1 1 1-1 1zM2495 1750l-1-1 1-1 1 1-1 1zM2521 1758l-1-1 1-1 1 1-1 1zM2527 1760l-1-1 1-1 1 1-1 1zM2561 1768l-1-1 1-1 1 1-1 1zM2567 1770l-1-1 1-1 1 1-1 1zM2573 1772l-1-1 1-1 1 1-1 1zM2579 1774l-1-1 1-1 1 1-1 1zM2583 1776l-1-1 1-1 1 1-1 1zM2589 1778l-1-1 1-1 1 1-1 1zM2595 1780l-1-1 1-1 1 1-1 1zM2601 1782l-1-1 1-1 1 1-1 1zM2611 1786l-1-1 1-1 1 1-1 1zM2671 1806l0-2 0 2zM2677 1808l0-2 0 2zM2681 1810l0-2 0 2zM2691 1814l0-2 0 2zM2695 1816l0-2 0 2zM2753 1838l0-2 0 2zM2757 1840l0-2 0 2zM2761 1842l0-2 0 2zM2771 1846l0-2 0 2zM2775 1848l0-2 0 2zM2779 1850l0-2 0 2zM2783 1852l0-2 0 2zM2787 1854l0-2 0 2zM2791 1856l0-2 0 2zM2795 1858l0-2 0 2zM2799 1860l0-2 0 2zM2803 1862l0-2 0 2zM2849 1882l0-2 0 2zM2853 1884l0-2 0 2zM2857 1886l0-2 0 2zM2861 1888l0-2 0 2zM2875 1896l0-2 0 2zM2937 1928l0-2 0 2zM2941 1930l0-2 0 2zM2947 1934l0-2 0 2zM2951 1936l0-2 0 2zM2957 1940l0-2 0 2zM3019 1976l0-2 0 2zM3025 1980l0-2 0 2zM3031 1984l0-2 0 2zM3033 1986l0-2 0 2zM3039 1990l0-2 0 2zM3105 2034l0-2 0 2zM3113 2040l0-2 0 2zM3179 2090l-1-1 1-1 1 1-1 1zM3191 2100l-1-1 1-1 1 1-1 1zM3193 2102l-1-1 1-1 1 1-1 1zM3195 2104l-1-1 1-1 1 1-1 1zM3329 2229l-2-2 2-2 2 2-2 2zM3331 2231l-2-2 2-2 2 2-2 2zM3333 2233l-2-2 2-2 2 2-2 2zM3401 2311l-2-2 2-2 2 2-2 2zM3407 2319l-2-2 2-2 2 2-2 2zM3469 2403l-2-2 2-2 2 2-2 2z" fill="#2d8cf3"/><path d="M2573 3605l110-10 106-20 102-29 98-38 92-46 85-55 77-61 70-70 62-77 52-82 44-89 34-93 25-98 15-102 5-106-1-56-4-44-12-24-4-2 2-2-4-2-16-32-36-60-6-8-6-4-24-38-28-38-12-14-8-6-16-22-38-44-10-8-60-62-24-19-54-50-10-8-2 2-58-48-14-10-2 2-4-6-2 2-28-22-50-34-2 2-2-4-2 2-4-2-22-16-6-2-40-26-4-2-2 2-2-4-2 2-8-4-14-10-40-20-4-4-16-8-4 2-1-1 1-3-4 2-1-1 1-3-4 2-1-1 1-3-4 2-8-6-12-6-4 0-38-20-4 2-2-4-12-6-4 2-2-4-2 2-1-1-1-3-4 2-14-8-4 0-44-20-8-2-2 2-2-4-4 2-1-1 1-3-4 2-2-4-4 2-1-1 1-3-4 2-2-4-4 2-28-12-28-8-24-10-6 2-1-1 1-3-6 2-2-4-4 2-2-4-4 2-2-4-2 2-10-2-34-12-8 2-1-1 1-3-10-2-2 2-2-4-6 2-1-1 1-3-8 2-1-1 1-3-4 2-3-1 1-3-8 2-2-1 2-2-8 2-2-2 2-2-6 2-2-4-6 2-2-4-6 2-26-8-10 2-2-2 2-2-8 2-2-2 2-2-14-2-4 2-2-2 2-2-8 2-2-4-8 2-2-2 2-2-10 2-2-2 2-2-10 2-2-2 2-2-10 2-2-2 2-2-4 2-16-2-2-2-12 2-2-2 2-2-10 2-2-2 2-2-8 0-4 2-2-2 2-2-12 2-2-2 2-2-12 2-2-2 2-2-14 2-2-2 2-2-12 2-2-4-12 2-2-4-16 4-2-2 2-4-16 4-2-2 2-2-16 2-2-2 2-2-12 0-6 2-2-2 2-2-20 2-2-2 2-2-20 2-2-4-10 0-2 2-10 0-4 2-2-2 2-4-28 4-2-2 2-2-2-2-6 2-16 0-2 2-10 0-2-4-20 0-46 4-2-2 2-2-6-2-40 0-2 2-16 0-6 4-60-2-8 6-6-2-72 30-76 40-66 44-62 52-60 62-56 70-48 75-38 75-28 76-18 72-10 76-2 78 6 80 15 86 23 88 30 88 38 90 44 88 50 83 54 78 60 74 64 67 70 64 72 56 79 52 82 46 87 40 90 34 95 28 95 20 96 13 96 6 96-1zM1975 1675l-2-2 2-2 2 2-2 2zM2069 1679l-4-2 4-2 2 2-2 2zM2089 1681l-2-2 2-2 2 2-2 2zM2177 1689l-4-2 4-2 2 2-2 2zM2189 1691l-2-2 2-2 2 2-2 2zM2203 1693l-2-2 2-2 2 2-2 2zM2277 1703l-2-2 2-2 2 2-2 2zM2287 1705l-2-2 2-2 2 2-2 2zM2297 1707l-2-2 2-2 2 2-2 2zM2307 1709l-2-2 2-2 2 2-2 2zM2357 1717l-2-2 2-2 2 2-2 2zM2383 1723l-4-2 4-2 2 2-2 2zM2391 1725l-2-2 2-2 2 2-2 2zM2421 1733l-2-2 2-2 2 2-2 2zM2475 1744l-1-1 1-1 1 1-1 1zM2489 1748l-1-1 1-1 1 1-1 1zM2495 1750l-1-1 1-1 1 1-1 1zM2521 1758l-1-1 1-1 1 1-1 1zM2527 1760l-1-1 1-1 1 1-1 1zM2561 1768l-1-1 1-1 1 1-1 1zM2567 1770l-1-1 1-1 1 1-1 1zM2573 1772l-1-1 1-1 1 1-1 1zM2579 1774l-1-1 1-1 1 1-1 1zM2583 1776l-1-1 1-1 1 1-1 1zM2589 1778l-1-1 1-1 1 1-1 1zM2595 1780l-1-1 1-1 1 1-1 1zM2601 1782l-1-1 1-1 1 1-1 1zM2611 1786l-1-1 1-1 1 1-1 1zM2671 1806l-1-1 1-1 1 1-1 1zM2677 1808l-1-1 1-1 1 1-1 1zM2681 1810l-1-1 1-1 1 1-1 1zM2691 1814l-1-1 1-1 1 1-1 1zM2695 1816l-1-1 1-1 1 1-1 1zM2753 1838l-1-1 1-1 1 1-1 1zM2757 1840l-1-1 1-1 1 1-1 1zM2761 1842l-1-1 1-1 1 1-1 1zM2771 1846l-1-1 1-1 1 1-1 1zM2775 1848l-1-1 1-1 1 1-1 1zM2779 1850l-1-1 1-1 1 1-1 1zM2783 1852l-1-1 1-1 1 1-1 1zM2787 1854l-1-1 1-1 1 1-1 1zM2791 1856l-1-1 1-1 1 1-1 1zM2795 1858l-1-1 1-1 1 1-1 1zM2799 1860l-1-1 1-1 1 1-1 1zM2803 1862l-1-1 1-1 1 1-1 1zM2849 1882l-1-1 1-1 1 1-1 1zM2853 1884l-1-1 1-1 1 1-1 1zM2857 1886l-1-1 1-1 1 1-1 1zM2861 1888l-1-1 1-1 1 1-1 1zM2875 1896l-1-1 1-1 1 1-1 1zM2937 1928l-1-1 1-1 1 1-1 1zM2941 1930l-1-1 1-1 1 1-1 1zM2947 1934l-1-1 1-1 1 1-1 1zM2951 1936l-1-1 1-1 1 1-1 1zM2957 1940l-1-1 1-1 1 1-1 1zM3019 1976l-1-1 1-1 1 1-1 1zM3025 1980l-1-1 1-1 1 1-1 1zM3031 1984l-1-1 1-1 1 1-1 1zM3033 1986l-1-1 1-1 1 1-1 1zM3039 1990l-1-1 1-1 1 1-1 1zM3105 2034l-1-1 1-1 1 1-1 1zM3113 2040l-1-1 1-1 1 1-1 1zM3179 2090l-1-1 1-1 1 1-1 1zM3191 2100l-1-1 1-1 1 1-1 1zM3193 2102l-1-1 1-1 1 1-1 1zM3195 2104l-1-1 1-1 1 1-1 1zM3329 2229l-2-2 2-2 2 2-2 2zM3331 2231l-2-2 2-2 2 2-2 2zM3333 2233l-2-2 2-2 2 2-2 2zM3401 2311l-2-2 2-2 2 2-2 2zM3407 2319l-2-2 2-2 2 2-2 2zM3469 2403l-2-2 2-2 2 2-2 2z" fill="#2e87f7"/><path d="M2583 3575l108-10 106-20 102-30 96-38 90-46 83-54 75-61 68-69 60-76 50-81 42-88 33-93 23-98 14-102 4-104-3-74-3-26-2-2 2-2-4-2-16-32-36-60-6-8-6-4-24-38-36-48-12-10-16-22-38-44-10-8-60-62-24-18-42-40-22-19-2 2-66-54-6-4-2 2-4-6-2 2-28-22-50-34-2 2-2-4-2 2-4-2-22-16-6-2-40-26-4-2-2 2-2-4-2 2-8-4-14-10-40-20-4-4-16-8-4 2-1-1 1-3-4 2-1-1 1-3-4 2-1-1 1-3-4 2-8-6-12-6-4 0-38-20-4 2-2-4-12-6-4 2-2-4-2 2-1-1-1-3-4 2-14-8-4 0-44-20-8-2-2 2-2-4-4 2-1-1 1-3-4 2-2-4-4 2-1-1 1-3-4 2-2-4-4 2-28-12-28-8-6-4-18-5-6 2-2-2 2-2-6 2-2-4-4 2-2-4-4 2-2-4-2 2-10-2-34-12-8 2-2-2 2-2-10-2-2 2-2-4-6 2-2-2 2-2-8 2-2-2 2-2-4 2-4-2 2-2-8 2-2-2 2-2-8 2-2-2 2-2-6 2-2-4-6 2-2-4-6 2-26-8-10 2-2-2 2-2-8 2-2-2 2-2-14-2-4 2-2-2 2-2-8 2-2-4-8 2-2-2 2-2-10 2-2-2 2-2-10 2-2-2 2-2-10 2-2-2 2-2-4 2-16-2-2-2-12 2-2-2 2-2-10 2-2-2 2-2-8 0-4 2-2-2 2-2-12 2-2-2 2-2-12 2-2-2 2-2-14 2-2-2 2-2-12 2-2-4-12 2-2-4-16 4-2-2 2-4-16 4-2-2 2-2-16 2-2-2 2-2-10 0-8 2-2-2 2-2-20 2-2-2 2-2-20 2-2-4-10 0-2 2-10 0-4 2-2-2 2-4-28 4-2-6-6 2-16 0-2 2-10 0-2-4-20 0-46 4-2-2 2-2-6-2-40 0-2 2-16 0-6 4-26-1-98 39-72 38-66 44-62 52-57 60-56 70-47 74-37 74-28 74-17 72-9 74-2 76 7 80 14 82 22 86 30 86 38 90 44 86 48 81 54 77 58 72 63 66 69 62 72 56 76 50 82 46 87 40 87 32 92 27 94 20 94 13 94 5 94-1zM1975 1675l-2-2 2-2 2 2-2 2zM2069 1679l-4-2 4-2 2 2-2 2zM2089 1681l-2-2 2-2 2 2-2 2zM2177 1689l-4-2 4-2 2 2-2 2zM2189 1691l-2-2 2-2 2 2-2 2zM2203 1693l-2-2 2-2 2 2-2 2zM2277 1703l-2-2 2-2 2 2-2 2zM2287 1705l-2-2 2-2 2 2-2 2zM2297 1707l-2-2 2-2 2 2-2 2zM2307 1709l-2-2 2-2 2 2-2 2zM2357 1717l-2-2 2-2 2 2-2 2zM2383 1723l-4-2 4-2 2 2-2 2zM2391 1725l-2-2 2-2 2 2-2 2zM2421 1733l-2-2 2-2 2 2-2 2zM2475 1745l-2-2 2-2 2 2-2 2zM2489 1749l-2-2 2-2 2 2-2 2zM2495 1751l-2-2 2-2 2 2-2 2zM2521 1759l-2-2 2-2 2 2-2 2zM2527 1761l-2-2 2-2 2 2-2 2zM2561 1768l-2-1 2-2 2 2-2 1zM2567 1770l-1-1 1-2 1 2-1 1zM2573 1772l-1-1 1-2 1 2-1 1zM2579 1774l-1-1 1-1 1 1-1 1zM2583 1776l-1-1 1-1 1 1-1 1zM2589 1778l-1-1 1-1 1 1-1 1zM2595 1780l-1-1 1-1 1 1-1 1zM2601 1782l-1-1 1-1 1 1-1 1zM2611 1786l-1-1 1-1 1 1-1 1zM2671 1806l-1-1 1-1 1 1-1 1zM2677 1808l-1-1 1-1 1 1-1 1zM2681 1810l-1-1 1-1 1 1-1 1zM2691 1814l-1-1 1-1 1 1-1 1zM2695 1816l-1-1 1-1 1 1-1 1zM2753 1838l-1-1 1-1 1 1-1 1zM2757 1840l-1-1 1-1 1 1-1 1zM2761 1842l-1-1 1-1 1 1-1 1zM2771 1846l-1-1 1-1 1 1-1 1zM2775 1848l-1-1 1-1 1 1-1 1zM2779 1850l-1-1 1-1 1 1-1 1zM2783 1852l-1-1 1-1 1 1-1 1zM2787 1854l-1-1 1-1 1 1-1 1zM2791 1856l-1-1 1-1 1 1-1 1zM2795 1858l-1-1 1-1 1 1-1 1zM2799 1860l-1-1 1-1 1 1-1 1zM2803 1862l-1-1 1-1 1 1-1 1zM2849 1882l-1-1 1-1 1 1-1 1zM2853 1884l-1-1 1-1 1 1-1 1zM2857 1886l-1-1 1-1 1 1-1 1zM2861 1888l-1-1 1-1 1 1-1 1zM2875 1896l-1-1 1-1 1 1-1 1zM2937 1928l-1-1 1-1 1 1-1 1zM2941 1930l-1-1 1-1 1 1-1 1zM2947 1934l-1-1 1-1 1 1-1 1zM2951 1936l-1-1 1-1 1 1-1 1zM2957 1940l-1-1 1-1 1 1-1 1zM3019 1976l-1-1 1-1 1 1-1 1zM3025 1980l-1-1 1-1 1 1-1 1zM3031 1984l-1-1 1-1 1 1-1 1zM3033 1986l-1-1 1-1 1 1-1 1zM3039 1990l-1-1 1-1 1 1-1 1zM3105 2034l-1-1 1-1 1 1-1 1zM3113 2040l-1-1 1-1 1 1-1 1zM3179 2090l-1-1 1-2 2 2-2 1zM3191 2101l-2-2 2-2 2 2-2 2zM3193 2103l-2-2 2-2 2 2-2 2zM3195 2105l-2-2 2-2 2 2-2 2zM3329 2229l-2-2 2-2 2 2-2 2zM3331 2231l-2-2 2-2 2 2-2 2zM3333 2233l-2-2 2-2 2 2-2 2zM3401 2311l-2-2 2-2 2 2-2 2zM3407 2319l-2-2 2-2 2 2-2 2zM3469 2403l-2-2 2-2 2 2-2 2z" fill="#2f82fa"/><path d="M2573 3545l108-9 106-19 102-28 96-37 90-45 84-54 76-62 67-68 59-75 50-81 42-90 32-93 23-99 12-102 3-104-8-104-44-74-8-6-24-38-36-48-12-10-16-22-38-44-10-8-60-62-24-18-42-40-22-18-2 2-66-54-6-4-2 2-4-6-2 2-28-22-50-35-2 2-2-4-2 2-4-2-22-16-6-2-40-26-4-2-2 2-2-4-2 2-8-4-14-10-40-20-4-4-16-8-4 2-1-1 1-3-4 2-1-1 1-3-4 2-1-1 1-3-4 2-8-6-12-6-4 0-38-20-4 2-2-4-12-6-4 2-2-4-2 2-2-1 0-3-4 2-14-7-4 0-44-20-8-2-2 2-2-4-4 2-2-2 2-2-4 2-2-4-4 2-2-2 2-2-4 2-2-4-4 2-28-12-28-8-6-4-18-6-6 2-2-2 2-2-6 2-2-4-4 2-2-4-4 2-2-4-2 2-10-2-34-12-8 2-2-2 2-2-10-2-2 2-2-4-6 2-2-2 2-2-8 2-2-2 2-2-4 2-4-2 2-2-8 2-2-2 2-2-8 2-2-2 2-2-6 2-2-4-6 2-2-4-6 2-26-8-10 2-2-2 2-2-8 2-2-2 2-2-14-2-4 2-2-2 2-2-8 2-2-4-8 2-2-2 2-2-10 2-2-2 2-2-10 2-2-2 2-2-10 2-2-2 2-2-4 2-16-2-2-2-12 2-2-2 2-2-10 2-2-2 2-2-8 0-4 2-2-2 2-2-12 2-2-2 2-2-12 2-2-2 2-2-14 2-2-2 2-2-12 2-2-4-12 2-2-4-16 4-2-2 2-4-16 4-2-2 2-2-16 2-2-2 2-2-10 0-8 2-2-2 2-2-20 2-2-2 2-2-20 2-2-4-10 0-2 2-10 0-4 2-2-2 2-4-28 4-2-6-6 2-16 0-2 2-10 0-2-4-20 0-46 4-2-2 2-2-6-2-33 0-63 22-54 22-72 36-65 42-61 49-57 57-56 68-47 71-38 71-29 74-19 70-10 72-3 74 4 76 12 80 21 84 28 86 35 86 42 86 47 82 52 76 56 71 61 67 65 60 70 56 76 52 80 46 83 40 87 34 88 27 90 20 92 14 94 7 92 0zM1975 1675l-2-2 2-2 2 2-2 2zM2069 1679l-4-2 4-2 2 2-2 2zM2089 1681l-2-2 2-2 2 2-2 2zM2177 1689l-4-2 4-2 2 2-2 2zM2189 1691l-2-2 2-2 2 2-2 2zM2203 1693l-2-2 2-2 2 2-2 2zM2277 1703l-2-2 2-2 2 2-2 2zM2287 1705l-2-2 2-2 2 2-2 2zM2297 1707l-2-2 2-2 2 2-2 2zM2307 1709l-2-2 2-2 2 2-2 2zM2357 1717l-2-2 2-2 2 2-2 2zM2383 1723l-4-2 4-2 2 2-2 2zM2391 1725l-2-2 2-2 2 2-2 2zM2421 1733l-2-2 2-2 2 2-2 2zM2475 1745l-2-2 2-2 2 2-2 2zM2489 1749l-2-2 2-2 2 2-2 2zM2495 1751l-2-2 2-2 2 2-2 2zM2521 1759l-2-2 2-2 2 2-2 2zM2527 1761l-2-2 2-2 2 2-2 2zM2561 1769l-2-2 2-2 2 2-2 2zM2567 1771l-2-2 2-2 2 2-2 2zM2573 1773l-2-2 2-2 2 2-2 2zM2579 1775l-2-2 2-2 2 2-2 2zM2583 1777l-2-2 2-2 2 2-2 2zM2589 1779l-2-2 2-2 2 2-2 2zM2595 1781l-2-2 2-2 2 2-2 2zM2601 1783l-2-2 2-2 2 2-2 2zM2611 1787l-2-2 2-2 2 2-2 2zM2671 1807l-2-2 2-2 2 2-2 2zM2677 1809l-2-2 2-2 2 2-2 2zM2681 1811l-2-2 2-2 2 2-2 2zM2691 1815l-2-2 2-2 2 2-2 2zM2695 1817l-2-2 2-2 2 2-2 2zM2753 1838l-1-1 1-2 1 2-1 1zM2757 1840l-1-1 1-2 1 2-1 1zM2761 1842l-1-1 1-1 1 1-1 1zM2771 1846l-1-1 1-1 1 1-1 1zM2775 1848l-1-1 1-1 1 1-1 1zM2779 1850l-1-1 1-1 1 1-1 1zM2783 1852l-1-1 1-1 1 1-1 1zM2787 1854l-1-1 1-1 1 1-1 1zM2791 1856l-1-1 1-1 1 1-1 1zM2795 1858l-1-1 1-1 1 1-1 1zM2799 1860l-1-1 1-1 1 1-1 1zM2803 1862l-1-1 1-1 1 1-1 1zM2849 1882l-1-1 1-1 1 1-1 1zM2853 1884l-1-1 1-1 1 1-1 1zM2857 1886l-1-1 1-1 1 1-1 1zM2861 1888l-1-1 1-1 1 1-1 1zM2875 1896l-1-1 1-1 1 1-1 1zM2937 1928l-1-1 1-1 1 1-1 1zM2941 1930l-1-1 1-1 1 1-1 1zM2947 1934l-1-1 1-1 1 1-1 1zM2951 1936l-1-1 1-1 1 1-1 1zM2957 1940l-1-1 1-1 1 1-1 1zM3019 1976l-1-1 1-1 1 1-1 1zM3025 1980l-1-1 1-1 1 1-1 1zM3031 1984l-1-1 1-1 1 1-1 1zM3033 1986l-1-1 1-1 1 1-1 1zM3039 1990l-1-1 1-2 2 2-2 1zM3105 2035l-2-2 2-2 2 2-2 2zM3113 2041l-2-2 2-2 2 2-2 2zM3179 2091l-2-2 2-2 2 2-2 2zM3191 2101l-2-2 2-2 2 2-2 2zM3193 2103l-2-2 2-2 2 2-2 2zM3195 2105l-2-2 2-2 2 2-2 2zM3329 2229l-2-2 2-2 2 2-2 2zM3331 2231l-2-2 2-2 2 2-2 2zM3333 2233l-2-2 2-2 2 2-2 2zM3401 2311l-2-2 2-2 2 2-2 2zM3407 2319l-2-2 2-2 2 2-2 2zM3469 2403l-2-2 2-2 2 2-2 2z" fill="#317dfc"/><path d="M2587 3513l106-9 104-19 100-29 94-37 88-45 82-54 74-62 66-69 56-74 48-82 40-88 30-94 21-100 10-102 1-104-10-102-26-42-8-6-40-60-20-26-12-10-38-48-86-88-24-18-54-50-10-8-2 2-66-54-6-4-2 2-4-6-2 2-28-22-50-34-2 2-2-4-2 2-4-2-22-16-6-2-40-26-4-2-2 2-2-4-2 2-8-4-14-10-40-20-4-4-16-8-4 2-2-2 2-2-4 2-2-2 2-2-4 2-2-2 2-2-4 2-8-6-12-6-4 0-38-20-4 2-2-4-12-6-4 2-2-4-2 2-2-2 0-2-4 2-14-8-4 0-44-20-8-2-2 2-2-4-4 2-2-2 2-2-4 2-2-4-4 2-2-2 2-2-4 2-2-4-4 2-28-12-28-8-6-4-18-6-6 2-2-2 2-2-6 2-2-4-4 2-2-4-4 2-2-4-2 2-10-2-34-12-8 2-2-2 2-2-10-2-2 2-2-4-6 2-2-2 2-2-8 2-2-2 2-2-4 2-4-2 2-2-8 2-2-2 2-2-8 2-2-2 2-2-6 2-2-4-6 2-2-4-6 2-26-8-10 2-2-2 2-2-8 2-2-2 2-2-14-2-4 2-2-2 2-2-8 2-2-4-8 2-2-2 2-2-10 2-2-2 2-2-10 2-2-2 2-2-10 2-2-2 2-2-4 2-16-2-2-2-12 2-2-2 2-2-10 2-2-2 2-2-8 0-4 2-2-2 2-2-12 2-2-2 2-2-12 2-2-2 2-2-14 2-2-2 2-2-12 2-2-4-12 2-2-4-16 4-2-2 2-4-16 4-2-2 2-2-16 2-2-2 2-2-10 0-8 2-2-2 2-2-20 2-2-2 2-2-20 2-2-4-10 0-2 2-10 0-4 2-2-2 2-4-28 4-2-6-6 2-16 0-2 2-10 0-2-4-30 0-2 2-22 0-2 2-10 0-2-3-68 23-64 26-71 36-64 42-59 48-55 56-54 66-47 70-36 70-28 72-18 69-10 71-3 72 5 76 13 78 20 82 28 84 35 85 41 83 46 80 51 74 56 70 60 65 64 59 68 54 74 50 78 45 82 39 84 32 88 27 90 20 90 13 92 6 90 0zM1975 1675l-2-2 2-2 2 2-2 2zM2069 1679l-4-2 4-2 2 2-2 2zM2089 1681l-2-2 2-2 2 2-2 2zM2177 1689l-4-2 4-2 2 2-2 2zM2189 1691l-2-2 2-2 2 2-2 2zM2203 1693l-2-2 2-2 2 2-2 2zM2277 1703l-2-2 2-2 2 2-2 2zM2287 1705l-2-2 2-2 2 2-2 2zM2297 1707l-2-2 2-2 2 2-2 2zM2307 1709l-2-2 2-2 2 2-2 2zM2357 1717l-2-2 2-2 2 2-2 2zM2383 1723l-4-2 4-2 2 2-2 2zM2391 1725l-2-2 2-2 2 2-2 2zM2421 1733l-2-2 2-2 2 2-2 2zM2475 1745l-2-2 2-2 2 2-2 2zM2489 1749l-2-2 2-2 2 2-2 2zM2495 1751l-2-2 2-2 2 2-2 2zM2521 1759l-2-2 2-2 2 2-2 2zM2527 1761l-2-2 2-2 2 2-2 2zM2561 1769l-2-2 2-2 2 2-2 2zM2567 1771l-2-2 2-2 2 2-2 2zM2573 1773l-2-2 2-2 2 2-2 2zM2579 1775l-2-2 2-2 2 2-2 2zM2583 1777l-2-2 2-2 2 2-2 2zM2589 1779l-2-2 2-2 2 2-2 2zM2595 1781l-2-2 2-2 2 2-2 2zM2601 1783l-2-2 2-2 2 2-2 2zM2611 1787l-2-2 2-2 2 2-2 2zM2671 1807l-2-2 2-2 2 2-2 2zM2677 1809l-2-2 2-2 2 2-2 2zM2681 1811l-2-2 2-2 2 2-2 2zM2691 1815l-2-2 2-2 2 2-2 2zM2695 1817l-2-2 2-2 2 2-2 2zM2753 1839l-2-2 2-2 2 2-2 2zM2757 1841l-2-2 2-2 2 2-2 2zM2761 1843l-2-2 2-2 2 2-2 2zM2771 1847l-2-2 2-2 2 2-2 2zM2775 1849l-2-2 2-2 2 2-2 2zM2779 1851l-2-2 2-2 2 2-2 2zM2783 1853l-2-2 2-2 2 2-2 2zM2787 1855l-2-2 2-2 2 2-2 2zM2791 1857l-2-2 2-2 2 2-2 2zM2795 1859l-2-2 2-2 2 2-2 2zM2799 1861l-2-2 2-2 2 2-2 2zM2803 1863l-2-2 2-2 2 2-2 2zM2849 1883l-2-2 2-2 2 2-2 2zM2853 1885l-2-2 2-2 2 2-2 2zM2857 1887l-2-2 2-2 2 2-2 2zM2861 1889l-2-2 2-2 2 2-2 2zM2875 1897l-2-2 2-2 2 2-2 2zM2937 1929l-2-2 2-2 2 2-2 2zM2941 1931l-2-2 2-2 2 2-2 2zM2947 1935l-2-2 2-2 2 2-2 2zM2951 1937l-2-2 2-2 2 2-2 2zM2957 1941l-2-2 2-2 2 2-2 2zM3019 1977l-2-2 2-2 2 2-2 2zM3025 1981l-2-2 2-2 2 2-2 2zM3031 1985l-2-2 2-2 2 2-2 2zM3033 1987l-2-2 2-2 2 2-2 2zM3039 1991l-2-2 2-2 2 2-2 2zM3105 2035l-2-2 2-2 2 2-2 2zM3113 2041l-2-2 2-2 2 2-2 2zM3179 2091l-2-2 2-2 2 2-2 2zM3191 2101l-2-2 2-2 2 2-2 2zM3193 2103l-2-2 2-2 2 2-2 2zM3195 2105l-2-2 2-2 2 2-2 2zM3329 2229l-2-2 2-2 2 2-2 2zM3331 2231l-2-2 2-2 2 2-2 2zM3333 2233l-2-2 2-2 2 2-2 2zM3401 2311l-2-2 2-2 2 2-2 2zM3407 2319l-2-2 2-2 2 2-2 2zM3469 2403l-2-2 2-2 2 2-2 2z" fill="#3678fe"/><path d="M2570 3481l107-7 106-18 100-27 96-36 90-46 82-53 74-61 34-34 32-36 56-74 26-42 22-42 38-88 30-96 19-100 9-104-2-106-5-54-7-46-6-10-8-6-24-38-28-38-10-12-10-8-16-22-38-44-10-8-60-62-24-18-24-24-40-34-2 2-66-54-6-4-2 2-4-6-2 2-28-22-50-34-2 2-2-4-2 2-4-2-22-16-6-2-40-26-4-2-2 2-2-4-2 2-8-4-14-10-40-20-4-4-16-8-4 2-2-2 2-2-4 2-2-2 2-2-4 2-2-2 2-2-4 2-8-6-12-6-4 0-38-20-4 2-2-4-12-6-4 2-2-4-2 2-2-2 0-2-4 2-14-8-4 0-44-20-8-2-2 2-2-4-4 2-2-2 2-2-4 2-2-4-4 2-2-2 2-2-4 2-2-4-4 2-28-12-28-8-6-4-18-6-6 2-2-2 2-2-6 2-2-4-4 2-2-4-4 2-2-4-2 2-10-2-34-12-8 2-2-2 2-2-10-2-2 2-2-4-6 2-2-2 2-2-8 2-2-2 2-2-4 2-4-2 2-2-8 2-2-2 2-2-8 2-2-2 2-2-6 2-2-4-6 2-2-4-6 2-26-8-10 2-2-2 2-2-8 2-2-2 2-2-14-2-4 2-2-2 2-2-8 2-2-4-8 2-2-2 2-2-10 2-2-2 2-2-10 2-2-2 2-2-10 2-2-2 2-2-4 2-16-2-2-2-12 2-2-2 2-2-10 2-2-2 2-2-6 0-6 2-2-2 2-2-12 2-2-2 2-2-12 2-2-2 2-2-14 2-2-2 2-2-12 2-2-4-12 2-2-4-16 4-2-2 2-4-16 4-2-2 2-2-16 2-2-2 2-2-18 2-2-2 2-2-20 2-2-2 2-2-20 2-2-4-10 0-2 2-10 0-4 2-2-2 2-4-28 4-2-6-6 2-16 0-2 2-10 0-2-4-11 0-78 24-73 28-70 34-64 40-58 46-54 52-52 62-47 68-38 68-29 70-19 66-12 68-4 70 3 72 10 76 18 78 25 82 32 82 38 82 45 80 48 74 53 70 57 64 62 60 68 56 70 50 76 45 78 39 84 34 84 27 86 21 88 15 88 8 89 1zM1975 1675l-2-2 2-2 2 2-2 2zM2069 1679l-4-2 4-2 2 2-2 2zM2089 1681l-2-2 2-2 2 2-2 2zM2177 1689l-4-2 4-2 2 2-2 2zM2189 1691l-2-2 2-2 2 2-2 2zM2203 1693l-2-2 2-2 2 2-2 2zM2277 1703l-2-2 2-2 2 2-2 2zM2287 1705l-2-2 2-2 2 2-2 2zM2297 1707l-2-2 2-2 2 2-2 2zM2307 1709l-2-2 2-2 2 2-2 2zM2357 1717l-2-2 2-2 2 2-2 2zM2383 1723l-4-2 4-2 2 2-2 2zM2391 1725l-2-2 2-2 2 2-2 2zM2421 1733l-2-2 2-2 2 2-2 2zM2475 1745l-2-2 2-2 2 2-2 2zM2489 1749l-2-2 2-2 2 2-2 2zM2495 1751l-2-2 2-2 2 2-2 2zM2521 1759l-2-2 2-2 2 2-2 2zM2527 1761l-2-2 2-2 2 2-2 2zM2561 1769l-2-2 2-2 2 2-2 2zM2567 1771l-2-2 2-2 2 2-2 2zM2573 1773l-2-2 2-2 2 2-2 2zM2579 1775l-2-2 2-2 2 2-2 2zM2583 1777l-2-2 2-2 2 2-2 2zM2589 1779l-2-2 2-2 2 2-2 2zM2595 1781l-2-2 2-2 2 2-2 2zM2601 1783l-2-2 2-2 2 2-2 2zM2611 1787l-2-2 2-2 2 2-2 2zM2671 1807l-2-2 2-2 2 2-2 2zM2677 1809l-2-2 2-2 2 2-2 2zM2681 1811l-2-2 2-2 2 2-2 2zM2691 1815l-2-2 2-2 2 2-2 2zM2695 1817l-2-2 2-2 2 2-2 2zM2753 1839l-2-2 2-2 2 2-2 2zM2757 1841l-2-2 2-2 2 2-2 2zM2761 1843l-2-2 2-2 2 2-2 2zM2771 1847l-2-2 2-2 2 2-2 2zM2775 1849l-2-2 2-2 2 2-2 2zM2779 1851l-2-2 2-2 2 2-2 2zM2783 1853l-2-2 2-2 2 2-2 2zM2787 1855l-2-2 2-2 2 2-2 2zM2791 1857l-2-2 2-2 2 2-2 2zM2795 1859l-2-2 2-2 2 2-2 2zM2799 1861l-2-2 2-2 2 2-2 2zM2803 1863l-2-2 2-2 2 2-2 2zM2849 1883l-2-2 2-2 2 2-2 2zM2853 1885l-2-2 2-2 2 2-2 2zM2857 1887l-2-2 2-2 2 2-2 2zM2861 1889l-2-2 2-2 2 2-2 2zM2875 1897l-2-2 2-2 2 2-2 2zM2937 1929l-2-2 2-2 2 2-2 2zM2941 1931l-2-2 2-2 2 2-2 2zM2947 1935l-2-2 2-2 2 2-2 2zM2951 1937l-2-2 2-2 2 2-2 2zM2957 1941l-2-2 2-2 2 2-2 2zM3019 1977l-2-2 2-2 2 2-2 2zM3025 1981l-2-2 2-2 2 2-2 2zM3031 1985l-2-2 2-2 2 2-2 2zM3033 1987l-2-2 2-2 2 2-2 2zM3039 1991l-2-2 2-2 2 2-2 2zM3105 2035l-2-2 2-2 2 2-2 2zM3113 2041l-2-2 2-2 2 2-2 2zM3179 2091l-2-2 2-2 2 2-2 2zM3191 2101l-2-2 2-2 2 2-2 2zM3193 2103l-2-2 2-2 2 2-2 2zM3195 2105l-2-2 2-2 2 2-2 2zM3329 2229l-2-2 2-2 2 2-2 2zM3331 2231l-2-2 2-2 2 2-2 2zM3333 2233l-2-2 2-2 2 2-2 2zM3401 2311l-2-2 2-2 2 2-2 2zM3407 2319l-2-2 2-2 2 2-2 2zM3469 2403l-2-2 2-2 2 2-2 2z" fill="#3975fe"/><path d="M2570 3481l107-7 106-18 100-27 96-36 90-46 82-53 74-61 34-34 32-36 56-74 26-42 22-42 38-88 30-96 19-100 9-104-2-106-5-54-7-46-6-10-8-6-24-38-28-38-10-12-10-8-16-22-38-44-10-8-60-62-24-18-24-24-40-34-2 2-66-54-6-4-2 2-4-6-2 2-28-22-50-34-2 2-2-4-2 2-4-2-22-16-6-2-40-26-4-2-2 2-2-4-2 2-8-4-14-10-40-20-4-4-16-8-4 2-2-2 2-2-4 2-2-2 2-2-4 2-2-2 2-2-4 2-8-6-12-6-4 0-38-20-4 2-2-4-12-6-4 2-2-4-2 2-2-2 0-2-4 2-14-8-4 0-44-20-8-2-2 2-2-4-4 2-2-2 2-2-4 2-2-4-4 2-2-2 2-2-4 2-2-4-4 2-28-12-28-8-6-4-18-6-6 2-2-2 2-2-6 2-2-4-4 2-2-4-4 2-2-4-2 2-10-2-34-12-8 2-2-2 2-2-10-2-2 2-2-4-6 2-2-2 2-2-8 2-2-2 2-2-4 2-4-2 2-2-8 2-2-2 2-2-8 2-2-2 2-2-6 2-2-4-6 2-2-4-6 2-26-8-10 2-2-2 2-2-8 2-2-2 2-2-14-2-4 2-2-2 2-2-8 2-2-4-8 2-2-2 2-2-10 2-2-2 2-2-10 2-2-2 2-2-10 2-2-2 2-2-4 2-16-2-2-2-12 2-2-2 2-2-10 2-2-2 2-2-6 0-6 2-2-2 2-2-12 2-2-2 2-2-12 2-2-2 2-2-14 2-2-2 2-2-12 2-2-4-12 2-2-4-16 4-2-2 2-4-16 4-2-2 2-2-16 2-2-2 2-2-18 2-2-2 2-2-20 2-2-2 2-2-20 2-2-4-10 0-2 2-10 0-4 2-2-2 2-4-28 4-2-6-6 2-16 0-2 2-10 0-2-4-11 0-78 24-73 28-70 34-64 40-58 46-54 52-52 62-47 68-38 68-29 70-19 66-12 68-4 70 3 72 10 76 18 78 25 82 32 82 38 82 45 80 48 74 53 70 57 64 62 60 68 56 70 50 76 45 78 39 84 34 84 27 86 21 88 15 88 8 89 1zM1975 1675l-2-2 2-2 2 2-2 2zM2069 1679l-4-2 4-2 2 2-2 2zM2089 1681l-2-2 2-2 2 2-2 2zM2177 1689l-4-2 4-2 2 2-2 2zM2189 1691l-2-2 2-2 2 2-2 2zM2203 1693l-2-2 2-2 2 2-2 2zM2277 1703l-2-2 2-2 2 2-2 2zM2287 1705l-2-2 2-2 2 2-2 2zM2297 1707l-2-2 2-2 2 2-2 2zM2307 1709l-2-2 2-2 2 2-2 2zM2357 1717l-2-2 2-2 2 2-2 2zM2383 1723l-4-2 4-2 2 2-2 2zM2391 1725l-2-2 2-2 2 2-2 2zM2421 1733l-2-2 2-2 2 2-2 2zM2475 1745l-2-2 2-2 2 2-2 2zM2489 1749l-2-2 2-2 2 2-2 2zM2495 1751l-2-2 2-2 2 2-2 2zM2521 1759l-2-2 2-2 2 2-2 2zM2527 1761l-2-2 2-2 2 2-2 2zM2561 1769l-2-2 2-2 2 2-2 2zM2567 1771l-2-2 2-2 2 2-2 2zM2573 1773l-2-2 2-2 2 2-2 2zM2579 1775l-2-2 2-2 2 2-2 2zM2583 1777l-2-2 2-2 2 2-2 2zM2589 1779l-2-2 2-2 2 2-2 2zM2595 1781l-2-2 2-2 2 2-2 2zM2601 1783l-2-2 2-2 2 2-2 2zM2611 1787l-2-2 2-2 2 2-2 2zM2671 1807l-2-2 2-2 2 2-2 2zM2677 1809l-2-2 2-2 2 2-2 2zM2681 1811l-2-2 2-2 2 2-2 2zM2691 1815l-2-2 2-2 2 2-2 2zM2695 1817l-2-2 2-2 2 2-2 2zM2753 1839l-2-2 2-2 2 2-2 2zM2757 1841l-2-2 2-2 2 2-2 2zM2761 1843l-2-2 2-2 2 2-2 2zM2771 1847l-2-2 2-2 2 2-2 2zM2775 1849l-2-2 2-2 2 2-2 2zM2779 1851l-2-2 2-2 2 2-2 2zM2783 1853l-2-2 2-2 2 2-2 2zM2787 1855l-2-2 2-2 2 2-2 2zM2791 1857l-2-2 2-2 2 2-2 2zM2795 1859l-2-2 2-2 2 2-2 2zM2799 1861l-2-2 2-2 2 2-2 2zM2803 1863l-2-2 2-2 2 2-2 2zM2849 1883l-2-2 2-2 2 2-2 2zM2853 1885l-2-2 2-2 2 2-2 2zM2857 1887l-2-2 2-2 2 2-2 2zM2861 1889l-2-2 2-2 2 2-2 2zM2875 1897l-2-2 2-2 2 2-2 2zM2937 1929l-2-2 2-2 2 2-2 2zM2941 1931l-2-2 2-2 2 2-2 2zM2947 1935l-2-2 2-2 2 2-2 2zM2951 1937l-2-2 2-2 2 2-2 2zM2957 1941l-2-2 2-2 2 2-2 2zM3019 1977l-2-2 2-2 2 2-2 2zM3025 1981l-2-2 2-2 2 2-2 2zM3031 1985l-2-2 2-2 2 2-2 2zM3033 1987l-2-2 2-2 2 2-2 2zM3039 1991l-2-2 2-2 2 2-2 2zM3105 2035l-2-2 2-2 2 2-2 2zM3113 2041l-2-2 2-2 2 2-2 2zM3179 2091l-2-2 2-2 2 2-2 2zM3191 2101l-2-2 2-2 2 2-2 2zM3193 2103l-2-2 2-2 2 2-2 2zM3195 2105l-2-2 2-2 2 2-2 2zM3329 2229l-2-2 2-2 2 2-2 2zM3331 2231l-2-2 2-2 2 2-2 2zM3333 2233l-2-2 2-2 2 2-2 2zM3401 2311l-2-2 2-2 2 2-2 2zM3407 2319l-2-2 2-2 2 2-2 2zM3469 2403l-2-2 2-2 2 2-2 2z" fill="#3a73fe"/><path d="M2607 3463l104-10 100-20 96-28 92-38 86-46 78-53 70-61 62-68 54-76 45-80 36-88 27-93 18-99 8-102-3-102-12-100-5-4-24-38-28-38-10-12-10-8-16-22-38-44-10-8-60-62-24-18-24-24-40-34-2 2-66-54-6-4-2 2-4-6-2 2-48-36-30-20-2 2-2-4-2 2-4-2-22-16-6-2-40-26-4-2-2 2-2-4-2 2-8-4-14-10-60-32-4 2-2-2 2-2-4 2-2-2 2-2-4 2-2-2 2-2-4 2-8-6-12-6-4 0-38-20-4 2-2-4-12-6-4 2-2-4-2 2-2-2 0-2-4 2-14-8-4 0-44-20-8-2-2 2-2-4-4 2-2-2 2-2-4 2-2-4-4 2-2-2 2-2-4 2-2-4-4 2-28-12-28-8-24-10-6 2-2-2 2-2-6 2-2-4-4 2-2-4-4 2-2-4-2 2-10-2-34-12-8 2-2-2 2-2-10-2-2 2-2-4-6 2-2-2 2-2-8 2-2-2 2-2-4 2-4-2 2-2-8 2-2-2 2-2-8 2-2-2 2-2-6 2-2-4-6 2-2-4-6 2-26-8-10 2-2-2 2-2-8 2-2-2 2-2-14-2-4 2-2-2 2-2-8 2-2-4-8 2-2-2 2-2-10 2-2-2 2-2-10 2-2-2 2-2-10 2-2-2 2-2-4 2-16-2-2-2-12 2-2-2 2-2-10 2-2-2 2-2-6 0-6 2-2-2 2-2-12 2-2-2 2-2-12 2-2-2 2-2-14 2-2-2 2-2-12 2-2-4-12 2-2-4-16 4-2-2 2-4-16 4-2-2 2-2-16 2-2-2 2-2-18 2-2-2 2-2-20 2-2-2 2-2-20 2-2-4-10 0-2 2-10 0-4 2-2-2 2-4-22 2-2 2-6-2 2-2-2-2-6 2-16 0-2 2-9 0-25 7-59 19-90 36-68 36-60 40-57 48-54 56-51 64-43 68-35 68-26 70-16 66-8 68-2 70 6 74 13 76 21 80 28 82 35 82 41 80 45 76 50 72 54 66 58 61 63 57 66 52 71 47 76 42 80 37 82 31 84 24 86 19 88 12 86 5 88-1zM2069 1679l-4-2 4-2 2 2-2 2zM2089 1681l-2-2 2-2 2 2-2 2zM2177 1689l-4-2 4-2 2 2-2 2zM2189 1691l-2-2 2-2 2 2-2 2zM2203 1693l-2-2 2-2 2 2-2 2zM2277 1703l-2-2 2-2 2 2-2 2zM2287 1705l-2-2 2-2 2 2-2 2zM2297 1707l-2-2 2-2 2 2-2 2zM2307 1709l-2-2 2-2 2 2-2 2zM2357 1717l-2-2 2-2 2 2-2 2zM2383 1723l-4-2 4-2 2 2-2 2zM2391 1725l-2-2 2-2 2 2-2 2zM2421 1733l-2-2 2-2 2 2-2 2zM2475 1745l-2-2 2-2 2 2-2 2zM2489 1749l-2-2 2-2 2 2-2 2zM2495 1751l-2-2 2-2 2 2-2 2zM2521 1759l-2-2 2-2 2 2-2 2zM2527 1761l-2-2 2-2 2 2-2 2zM2561 1769l-2-2 2-2 2 2-2 2zM2567 1771l-2-2 2-2 2 2-2 2zM2573 1773l-2-2 2-2 2 2-2 2zM2579 1775l-2-2 2-2 2 2-2 2zM2583 1777l-2-2 2-2 2 2-2 2zM2589 1779l-2-2 2-2 2 2-2 2zM2595 1781l-2-2 2-2 2 2-2 2zM2601 1783l-2-2 2-2 2 2-2 2zM2611 1787l-2-2 2-2 2 2-2 2zM2671 1807l-2-2 2-2 2 2-2 2zM2677 1809l-2-2 2-2 2 2-2 2zM2681 1811l-2-2 2-2 2 2-2 2zM2691 1815l-2-2 2-2 2 2-2 2zM2695 1817l-2-2 2-2 2 2-2 2zM2753 1839l-2-2 2-2 2 2-2 2zM2757 1841l-2-2 2-2 2 2-2 2zM2761 1843l-2-2 2-2 2 2-2 2zM2771 1847l-2-2 2-2 2 2-2 2zM2775 1849l-2-2 2-2 2 2-2 2zM2779 1851l-2-2 2-2 2 2-2 2zM2783 1853l-2-2 2-2 2 2-2 2zM2787 1855l-2-2 2-2 2 2-2 2zM2791 1857l-2-2 2-2 2 2-2 2zM2795 1859l-2-2 2-2 2 2-2 2zM2799 1861l-2-2 2-2 2 2-2 2zM2803 1863l-2-2 2-2 2 2-2 2zM2849 1883l-2-2 2-2 2 2-2 2zM2853 1885l-2-2 2-2 2 2-2 2zM2857 1887l-2-2 2-2 2 2-2 2zM2861 1889l-2-2 2-2 2 2-2 2zM2875 1897l-2-2 2-2 2 2-2 2zM2937 1929l-2-2 2-2 2 2-2 2zM2941 1931l-2-2 2-2 2 2-2 2zM2947 1935l-2-2 2-2 2 2-2 2zM2951 1937l-2-2 2-2 2 2-2 2zM2957 1941l-2-2 2-2 2 2-2 2zM3019 1977l-2-2 2-2 2 2-2 2zM3025 1981l-2-2 2-2 2 2-2 2zM3031 1985l-2-2 2-2 2 2-2 2zM3033 1987l-2-2 2-2 2 2-2 2zM3039 1991l-2-2 2-2 2 2-2 2zM3105 2035l-2-2 2-2 2 2-2 2zM3113 2041l-2-2 2-2 2 2-2 2zM3179 2091l-2-2 2-2 2 2-2 2zM3191 2101l-2-2 2-2 2 2-2 2zM3193 2103l-2-2 2-2 2 2-2 2zM3195 2105l-2-2 2-2 2 2-2 2zM3329 2229l-2-2 2-2 2 2-2 2zM3331 2231l-2-2 2-2 2 2-2 2zM3333 2233l-2-2 2-2 2 2-2 2zM3401 2311l-2-2 2-2 2 2-2 2zM3407 2319l-2-2 2-2 2 2-2 2z" fill="#3d71ff"/><path d="M2582 3447l105-8 102-17 98-27 94-36 88-45 80-54 72-61 32-32 32-36 54-75 24-40 22-42 37-89 27-94 17-100 8-102-3-102-14-102-46-66-10-12-10-8-16-22-38-44-10-8-60-62-24-18-24-24-40-34-2 2-66-54-6-4-2 2-4-6-2 2-28-22-50-34-2 2-2-4-2 2-4-2-22-16-6-2-40-26-4-2-2 2-2-4-2 2-8-4-14-10-40-20-4-4-16-8-4 2-2-2 2-2-4 2-2-2 2-2-4 2-2-2 2-2-4 2-8-6-12-6-4 0-38-20-4 2-2-4-12-6-4 2-2-4-2 2-2-2 0-2-4 2-14-8-4 0-44-20-8-2-2 2-2-4-4 2-2-2 2-2-4 2-2-4-4 2-2-2 2-2-4 2-2-4-4 2-28-12-28-8-6-4-18-6-6 2-2-2 2-2-6 2-2-4-4 2-2-4-4 2-2-4-2 2-10-2-34-12-8 2-2-2 2-2-10-2-2 2-2-4-6 2-2-2 2-2-8 2-2-2 2-2-4 2-4-2 2-2-8 2-2-2 2-2-8 2-2-2 2-2-6 2-2-4-6 2-2-4-6 2-26-8-10 2-2-2 2-2-8 2-2-2 2-2-14-2-4 2-2-2 2-2-8 2-2-4-8 2-2-2 2-2-10 2-2-2 2-2-10 2-2-2 2-2-10 2-2-2 2-2-4 2-16-2-2-2-12 2-2-2 2-2-10 2-2-2 2-2-6 0-6 2-2-2 2-2-12 2-2-2 2-2-12 2-2-2 2-2-14 2-2-2 2-2-12 2-2-4-12 2-2-4-16 4-2-2 2-4-16 4-2-2 2-2-16 2-2-2 2-2-18 2-2-2 2-2-20 2-2-2 2-2-20 2-2-4-10 0-2 2-10 0-4 2-2-2 2-4-22 2-2 2-4 0-2-3-92 27-82 32-68 33-62 39-56 44-53 52-53 62-45 66-37 68-28 68-18 64-11 66-4 68 4 72 10 74 18 76 25 80 31 80 38 80 44 78 47 72 52 67 56 63 61 58 65 54 69 48 73 44 77 38 81 33 82 26 86 21 86 13 86 8 87 1zM2069 1679l-4-2 4-2 2 2-2 2zM2089 1681l-2-2 2-2 2 2-2 2zM2177 1689l-4-2 4-2 2 2-2 2zM2189 1691l-2-2 2-2 2 2-2 2zM2203 1693l-2-2 2-2 2 2-2 2zM2277 1703l-2-2 2-2 2 2-2 2zM2287 1705l-2-2 2-2 2 2-2 2zM2297 1707l-2-2 2-2 2 2-2 2zM2307 1709l-2-2 2-2 2 2-2 2zM2357 1717l-2-2 2-2 2 2-2 2zM2383 1723l-4-2 4-2 2 2-2 2zM2391 1725l-2-2 2-2 2 2-2 2zM2421 1733l-2-2 2-2 2 2-2 2zM2475 1745l-2-2 2-2 2 2-2 2zM2489 1749l-2-2 2-2 2 2-2 2zM2495 1751l-2-2 2-2 2 2-2 2zM2521 1759l-2-2 2-2 2 2-2 2zM2527 1761l-2-2 2-2 2 2-2 2zM2561 1769l-2-2 2-2 2 2-2 2zM2567 1771l-2-2 2-2 2 2-2 2zM2573 1773l-2-2 2-2 2 2-2 2zM2579 1775l-2-2 2-2 2 2-2 2zM2583 1777l-2-2 2-2 2 2-2 2zM2589 1779l-2-2 2-2 2 2-2 2zM2595 1781l-2-2 2-2 2 2-2 2zM2601 1783l-2-2 2-2 2 2-2 2zM2611 1787l-2-2 2-2 2 2-2 2zM2671 1807l-2-2 2-2 2 2-2 2zM2677 1809l-2-2 2-2 2 2-2 2zM2681 1811l-2-2 2-2 2 2-2 2zM2691 1815l-2-2 2-2 2 2-2 2zM2695 1817l-2-2 2-2 2 2-2 2zM2753 1839l-2-2 2-2 2 2-2 2zM2757 1841l-2-2 2-2 2 2-2 2zM2761 1843l-2-2 2-2 2 2-2 2zM2771 1847l-2-2 2-2 2 2-2 2zM2775 1849l-2-2 2-2 2 2-2 2zM2779 1851l-2-2 2-2 2 2-2 2zM2783 1853l-2-2 2-2 2 2-2 2zM2787 1855l-2-2 2-2 2 2-2 2zM2791 1857l-2-2 2-2 2 2-2 2zM2795 1859l-2-2 2-2 2 2-2 2zM2799 1861l-2-2 2-2 2 2-2 2zM2803 1863l-2-2 2-2 2 2-2 2zM2849 1883l-2-2 2-2 2 2-2 2zM2853 1885l-2-2 2-2 2 2-2 2zM2857 1887l-2-2 2-2 2 2-2 2zM2861 1889l-2-2 2-2 2 2-2 2zM2875 1897l-2-2 2-2 2 2-2 2zM2937 1929l-2-2 2-2 2 2-2 2zM2941 1931l-2-2 2-2 2 2-2 2zM2947 1935l-2-2 2-2 2 2-2 2zM2951 1937l-2-2 2-2 2 2-2 2zM2957 1941l-2-2 2-2 2 2-2 2zM3019 1977l-2-2 2-2 2 2-2 2zM3025 1981l-2-2 2-2 2 2-2 2zM3031 1985l-2-2 2-2 2 2-2 2zM3033 1987l-2-2 2-2 2 2-2 2zM3039 1991l-2-2 2-2 2 2-2 2zM3105 2035l-2-2 2-2 2 2-2 2zM3113 2041l-2-2 2-2 2 2-2 2zM3179 2091l-2-2 2-2 2 2-2 2zM3191 2101l-2-2 2-2 2 2-2 2zM3193 2103l-2-2 2-2 2 2-2 2zM3195 2105l-2-2 2-2 2 2-2 2zM3329 2229l-2-2 2-2 2 2-2 2zM3331 2231l-2-2 2-2 2 2-2 2zM3333 2233l-2-2 2-2 2 2-2 2zM3401 2311l-2-2 2-2 2 2-2 2zM3407 2319l-2-2 2-2 2 2-2 2z" fill="#3f6eff"/><path d="M2603 3429l104-9 100-19 96-28 92-38 84-45 78-54 69-61 61-68 52-74 44-82 35-88 25-94 16-100 5-102-4-102-15-98-34-48-10-12-10-8-38-48-86-88-24-18-54-50-10-8-2 2-66-54-6-4-2 2-4-6-2 2-28-22-50-34-2 2-2-4-2 2-4-2-22-16-6-2-40-26-4-2-2 2-2-4-2 2-8-4-14-10-60-32-4 2-2-2 2-2-4 2-2-2 2-2-4 2-2-2 2-2-4 2-8-6-12-6-4 0-38-20-4 2-2-4-12-6-4 2-2-4-2 2-2-2 0-2-4 2-14-8-4 0-44-20-8-2-2 2-2-4-4 2-2-2 2-2-4 2-2-4-4 2-2-2 2-2-4 2-2-4-4 2-28-12-28-8-24-10-6 2-2-2 2-2-6 2-2-4-4 2-2-4-4 2-2-4-2 2-10-2-34-12-8 2-2-2 2-2-6-2-6 2-2-4-2 0-4 2-2-2 2-2-8 2-2-2 2-2-4 2-4-2 2-2-8 2-2-2 2-2-8 2-2-2 2-2-6 2-2-4-6 2-2-4-6 2-26-8-10 2-2-2 2-2-8 2-2-2 2-2-14-2-4 2-2-2 2-2-8 2-2-4-8 2-2-2 2-2-10 2-2-2 2-2-10 2-2-2 2-2-10 2-2-2 2-2-4 2-16-2-2-2-12 2-2-2 2-2-10 2-2-2 2-2-6 0-6 2-2-2 2-2-12 2-2-2 2-2-12 2-2-2 2-2-14 2-2-2 2-2-12 2-2-4-12 2-2-4-16 4-2-2 2-4-16 4-2-2 2-2-16 2-2-2 2-2-18 2-2-2 2-2-20 2-2-2 2-2-20 2-2-4-10 0-2 2-10 0-4 2-2-2 2-2-67 18-73 24-64 26-66 34-60 39-56 47-52 52-50 62-43 66-35 66-26 68-16 64-9 66-3 68 5 72 12 74 19 76 27 80 33 80 39 78 44 76 48 70 53 66 55 60 61 56 66 52 68 46 74 42 76 36 80 31 82 24 84 19 84 12 86 6 84 0zM2069 1679l-4-2 4-2 2 2-2 2zM2089 1681l-2-2 2-2 2 2-2 2zM2177 1689l-4-2 4-2 2 2-2 2zM2189 1691l-2-2 2-2 2 2-2 2zM2203 1693l-2-2 2-2 2 2-2 2zM2277 1703l-2-2 2-2 2 2-2 2zM2287 1705l-2-2 2-2 2 2-2 2zM2297 1707l-2-2 2-2 2 2-2 2zM2307 1709l-2-2 2-2 2 2-2 2zM2357 1717l-2-2 2-2 2 2-2 2zM2383 1723l-4-2 4-2 2 2-2 2zM2391 1725l-2-2 2-2 2 2-2 2zM2421 1733l-2-2 2-2 2 2-2 2zM2475 1745l-2-2 2-2 2 2-2 2zM2489 1749l-2-2 2-2 2 2-2 2zM2495 1751l-2-2 2-2 2 2-2 2zM2521 1759l-2-2 2-2 2 2-2 2zM2527 1761l-2-2 2-2 2 2-2 2zM2561 1769l-2-2 2-2 2 2-2 2zM2567 1771l-2-2 2-2 2 2-2 2zM2573 1773l-2-2 2-2 2 2-2 2zM2579 1775l-2-2 2-2 2 2-2 2zM2583 1777l-2-2 2-2 2 2-2 2zM2589 1779l-2-2 2-2 2 2-2 2zM2595 1781l-2-2 2-2 2 2-2 2zM2601 1783l-2-2 2-2 2 2-2 2zM2611 1787l-2-2 2-2 2 2-2 2zM2671 1807l-2-2 2-2 2 2-2 2zM2677 1809l-2-2 2-2 2 2-2 2zM2681 1811l-2-2 2-2 2 2-2 2zM2691 1815l-2-2 2-2 2 2-2 2zM2695 1817l-2-2 2-2 2 2-2 2zM2753 1839l-2-2 2-2 2 2-2 2zM2757 1841l-2-2 2-2 2 2-2 2zM2761 1843l-2-2 2-2 2 2-2 2zM2771 1847l-2-2 2-2 2 2-2 2zM2775 1849l-2-2 2-2 2 2-2 2zM2779 1851l-2-2 2-2 2 2-2 2zM2783 1853l-2-2 2-2 2 2-2 2zM2787 1855l-2-2 2-2 2 2-2 2zM2791 1857l-2-2 2-2 2 2-2 2zM2795 1859l-2-2 2-2 2 2-2 2zM2799 1861l-2-2 2-2 2 2-2 2zM2803 1863l-2-2 2-2 2 2-2 2zM2849 1883l-2-2 2-2 2 2-2 2zM2853 1885l-2-2 2-2 2 2-2 2zM2857 1887l-2-2 2-2 2 2-2 2zM2861 1889l-2-2 2-2 2 2-2 2zM2875 1897l-2-2 2-2 2 2-2 2zM2937 1929l-2-2 2-2 2 2-2 2zM2941 1931l-2-2 2-2 2 2-2 2zM2947 1935l-2-2 2-2 2 2-2 2zM2951 1937l-2-2 2-2 2 2-2 2zM2957 1941l-2-2 2-2 2 2-2 2zM3019 1977l-2-2 2-2 2 2-2 2zM3025 1981l-2-2 2-2 2 2-2 2zM3031 1985l-2-2 2-2 2 2-2 2zM3033 1987l-2-2 2-2 2 2-2 2zM3039 1991l-2-2 2-2 2 2-2 2zM3105 2035l-2-2 2-2 2 2-2 2zM3113 2041l-2-2 2-2 2 2-2 2zM3179 2091l-2-2 2-2 2 2-2 2zM3191 2101l-2-2 2-2 2 2-2 2zM3193 2103l-2-2 2-2 2 2-2 2zM3195 2105l-2-2 2-2 2 2-2 2zM3329 2229l-2-2 2-2 2 2-2 2zM3331 2231l-2-2 2-2 2 2-2 2zM3333 2233l-2-2 2-2 2 2-2 2zM3401 2311l-2-2 2-2 2 2-2 2zM3407 2319l-2-2 2-2 2 2-2 2z" fill="#416bfe"/><path d="M2613 3411l102-10 100-19 94-29 90-37 82-45 76-54 68-61 32-34 29-35 51-76 42-81 33-87 24-94 14-98 5-102-6-100-16-100-30-40-12-10-16-22-38-44-10-8-60-62-24-18-54-50-10-8-2 2-66-54-6-4-2 2-4-6-2 2-28-22-50-34-2 2-2-4-2 2-4-2-22-16-6-2-40-26-4-2-2 2-2-4-2 2-8-4-14-10-40-20-4-4-16-8-4 2-2-2 2-2-4 2-2-2 2-2-4 2-2-2 2-2-4 2-8-6-12-6-4 0-38-20-4 2-2-4-12-6-4 2-2-4-2 2-2-2 0-2-4 2-14-8-4 0-44-20-8-2-2 2-2-4-4 2-2-2 2-2-4 2-2-4-4 2-2-2 2-2-4 2-2-4-4 2-28-12-28-8-24-10-6 2-2-2 2-2-6 2-2-4-4 2-2-4-4 2-2-4-2 2-10-2-34-12-8 2-2-2 2-2-6-2-6 2-2-4-2 0-4 2-2-2 2-2-8 2-2-2 2-2-4 2-4-2 2-2-8 2-2-2 2-2-8 2-2-2 2-2-6 2-2-4-6 2-2-4-6 2-26-8-10 2-2-2 2-2-8 2-2-2 2-2-14-2-4 2-2-2 2-2-8 2-2-4-8 2-2-2 2-2-10 2-2-2 2-2-10 2-2-2 2-2-10 2-2-2 2-2-4 2-16-2-2-2-12 2-2-2 2-2-10 2-2-2 2-2-6 0-6 2-2-2 2-2-12 2-2-2 2-2-12 2-2-2 2-2-14 2-2-2 2-2-12 2-2-4-12 2-2-4-16 4-2-2 2-4-16 4-2-2 2-2-16 2-2-2 2-2-18 2-2-2 2-2-20 2-2-2 2-2-10 0-12 4-4-3-82 22-69 23-64 26-65 34-58 38-55 46-53 54-50 62-41 64-34 66-25 66-16 64-9 66-2 68 6 70 12 74 20 76 26 78 33 78 39 78 43 73 48 69 51 64 56 60 61 55 64 51 68 45 72 41 76 35 78 30 82 24 84 19 84 11 84 6 84-1zM2089 1681l-2-2 2-2 2 2-2 2zM2177 1689l-4-2 4-2 2 2-2 2zM2189 1691l-2-2 2-2 2 2-2 2zM2203 1693l-2-2 2-2 2 2-2 2zM2277 1703l-2-2 2-2 2 2-2 2zM2287 1705l-2-2 2-2 2 2-2 2zM2297 1707l-2-2 2-2 2 2-2 2zM2307 1709l-2-2 2-2 2 2-2 2zM2357 1717l-2-2 2-2 2 2-2 2zM2383 1723l-4-2 4-2 2 2-2 2zM2391 1725l-2-2 2-2 2 2-2 2zM2421 1733l-2-2 2-2 2 2-2 2zM2475 1745l-2-2 2-2 2 2-2 2zM2489 1749l-2-2 2-2 2 2-2 2zM2495 1751l-2-2 2-2 2 2-2 2zM2521 1759l-2-2 2-2 2 2-2 2zM2527 1761l-2-2 2-2 2 2-2 2zM2561 1769l-2-2 2-2 2 2-2 2zM2567 1771l-2-2 2-2 2 2-2 2zM2573 1773l-2-2 2-2 2 2-2 2zM2579 1775l-2-2 2-2 2 2-2 2zM2583 1777l-2-2 2-2 2 2-2 2zM2589 1779l-2-2 2-2 2 2-2 2zM2595 1781l-2-2 2-2 2 2-2 2zM2601 1783l-2-2 2-2 2 2-2 2zM2611 1787l-2-2 2-2 2 2-2 2zM2671 1807l-2-2 2-2 2 2-2 2zM2677 1809l-2-2 2-2 2 2-2 2zM2681 1811l-2-2 2-2 2 2-2 2zM2691 1815l-2-2 2-2 2 2-2 2zM2695 1817l-2-2 2-2 2 2-2 2zM2753 1839l-2-2 2-2 2 2-2 2zM2757 1841l-2-2 2-2 2 2-2 2zM2761 1843l-2-2 2-2 2 2-2 2zM2771 1847l-2-2 2-2 2 2-2 2zM2775 1849l-2-2 2-2 2 2-2 2zM2779 1851l-2-2 2-2 2 2-2 2zM2783 1853l-2-2 2-2 2 2-2 2zM2787 1855l-2-2 2-2 2 2-2 2zM2791 1857l-2-2 2-2 2 2-2 2zM2795 1859l-2-2 2-2 2 2-2 2zM2799 1861l-2-2 2-2 2 2-2 2zM2803 1863l-2-2 2-2 2 2-2 2zM2849 1883l-2-2 2-2 2 2-2 2zM2853 1885l-2-2 2-2 2 2-2 2zM2857 1887l-2-2 2-2 2 2-2 2zM2861 1889l-2-2 2-2 2 2-2 2zM2875 1897l-2-2 2-2 2 2-2 2zM2937 1929l-2-2 2-2 2 2-2 2zM2941 1931l-2-2 2-2 2 2-2 2zM2947 1935l-2-2 2-2 2 2-2 2zM2951 1937l-2-2 2-2 2 2-2 2zM2957 1941l-2-2 2-2 2 2-2 2zM3019 1977l-2-2 2-2 2 2-2 2zM3025 1981l-2-2 2-2 2 2-2 2zM3031 1985l-2-2 2-2 2 2-2 2zM3033 1987l-2-2 2-2 2 2-2 2zM3039 1991l-2-2 2-2 2 2-2 2zM3105 2035l-2-2 2-2 2 2-2 2zM3113 2041l-2-2 2-2 2 2-2 2zM3179 2091l-2-2 2-2 2 2-2 2zM3191 2101l-2-2 2-2 2 2-2 2zM3193 2103l-2-2 2-2 2 2-2 2zM3195 2105l-2-2 2-2 2 2-2 2zM3329 2229l-2-2 2-2 2 2-2 2zM3331 2231l-2-2 2-2 2 2-2 2zM3333 2233l-2-2 2-2 2 2-2 2zM3401 2311l-2-2 2-2 2 2-2 2zM3407 2319l-2-2 2-2 2 2-2 2z" fill="#4269fe"/><path d="M2615 3393l102-10 98-19 94-28 88-37 83-46 75-54 68-62 58-67 50-75 42-82 32-88 23-94 13-98 3-102-7-100-17-98-17-24-12-10-16-22-38-44-10-8-60-62-24-18-54-50-10-8-2 2-66-54-6-4-2 2-4-6-2 2-28-22-50-34-2 2-2-4-2 2-4-2-22-16-6-2-40-26-4-2-2 2-2-4-2 2-8-4-14-10-40-20-4-4-16-8-4 2-2-2 2-2-4 2-2-2 2-2-4 2-2-2 2-2-4 2-8-6-12-6-4 0-38-20-4 2-2-4-12-6-4 2-2-4-2 2-2-2 0-2-4 2-14-8-4 0-44-20-8-2-2 2-2-4-4 2-2-2 2-2-4 2-2-4-4 2-2-2 2-2-4 2-2-4-4 2-28-12-28-8-24-10-6 2-2-2 2-2-6 2-2-4-4 2-2-4-4 2-2-4-2 2-10-2-34-12-8 2-2-2 2-2-6-2-6 2-2-4-2 0-4 2-2-2 2-2-8 2-2-2 2-2-4 2-4-2 2-2-8 2-2-2 2-2-8 2-2-2 2-2-6 2-2-4-6 2-2-4-6 2-26-8-10 2-2-2 2-2-8 2-2-2 2-2-14-2-4 2-2-2 2-2-8 2-2-4-8 2-2-2 2-2-10 2-2-2 2-2-10 2-2-2 2-2-10 2-2-2 2-2-4 2-16-2-2-2-12 2-2-2 2-2-10 2-2-2 2-2-6 0-6 2-2-2 2-2-12 2-2-2 2-2-12 2-2-2 2-2-14 2-2-2 2-2-12 2-2-4-12 2-2-4-16 4-2-2 2-4-16 4-2-2 2-2-16 2-2-2 2-2-18 2-2-2 2-2-12 0-10 4-2-1-6 1-94 25-67 23-58 24-65 34-57 38-55 46-50 52-48 60-42 64-32 64-25 66-16 64-9 64-1 66 5 70 12 72 20 76 26 77 32 77 39 76 43 74 46 66 51 64 55 58 60 55 62 49 68 45 72 41 74 34 78 30 80 24 82 18 82 11 84 6 82-1zM2177 1689l-4-2 4-2 2 2-2 2zM2189 1691l-2-2 2-2 2 2-2 2zM2203 1693l-2-2 2-2 2 2-2 2zM2277 1703l-2-2 2-2 2 2-2 2zM2287 1705l-2-2 2-2 2 2-2 2zM2297 1707l-2-2 2-2 2 2-2 2zM2307 1709l-2-2 2-2 2 2-2 2zM2357 1717l-2-2 2-2 2 2-2 2zM2383 1723l-4-2 4-2 2 2-2 2zM2391 1725l-2-2 2-2 2 2-2 2zM2421 1733l-2-2 2-2 2 2-2 2zM2475 1745l-2-2 2-2 2 2-2 2zM2489 1749l-2-2 2-2 2 2-2 2zM2495 1751l-2-2 2-2 2 2-2 2zM2521 1759l-2-2 2-2 2 2-2 2zM2527 1761l-2-2 2-2 2 2-2 2zM2561 1769l-2-2 2-2 2 2-2 2zM2567 1771l-2-2 2-2 2 2-2 2zM2573 1773l-2-2 2-2 2 2-2 2zM2579 1775l-2-2 2-2 2 2-2 2zM2583 1777l-2-2 2-2 2 2-2 2zM2589 1779l-2-2 2-2 2 2-2 2zM2595 1781l-2-2 2-2 2 2-2 2zM2601 1783l-2-2 2-2 2 2-2 2zM2611 1787l-2-2 2-2 2 2-2 2zM2671 1807l-2-2 2-2 2 2-2 2zM2677 1809l-2-2 2-2 2 2-2 2zM2681 1811l-2-2 2-2 2 2-2 2zM2691 1815l-2-2 2-2 2 2-2 2zM2695 1817l-2-2 2-2 2 2-2 2zM2753 1839l-2-2 2-2 2 2-2 2zM2757 1841l-2-2 2-2 2 2-2 2zM2761 1843l-2-2 2-2 2 2-2 2zM2771 1847l-2-2 2-2 2 2-2 2zM2775 1849l-2-2 2-2 2 2-2 2zM2779 1851l-2-2 2-2 2 2-2 2zM2783 1853l-2-2 2-2 2 2-2 2zM2787 1855l-2-2 2-2 2 2-2 2zM2791 1857l-2-2 2-2 2 2-2 2zM2795 1859l-2-2 2-2 2 2-2 2zM2799 1861l-2-2 2-2 2 2-2 2zM2803 1863l-2-2 2-2 2 2-2 2zM2849 1883l-2-2 2-2 2 2-2 2zM2853 1885l-2-2 2-2 2 2-2 2zM2857 1887l-2-2 2-2 2 2-2 2zM2861 1889l-2-2 2-2 2 2-2 2zM2875 1897l-2-2 2-2 2 2-2 2zM2937 1929l-2-2 2-2 2 2-2 2zM2941 1931l-2-2 2-2 2 2-2 2zM2947 1935l-2-2 2-2 2 2-2 2zM2951 1937l-2-2 2-2 2 2-2 2zM2957 1941l-2-2 2-2 2 2-2 2zM3019 1977l-2-2 2-2 2 2-2 2zM3025 1981l-2-2 2-2 2 2-2 2zM3031 1985l-2-2 2-2 2 2-2 2zM3033 1987l-2-2 2-2 2 2-2 2zM3039 1991l-2-2 2-2 2 2-2 2zM3105 2035l-2-2 2-2 2 2-2 2zM3113 2041l-2-2 2-2 2 2-2 2zM3179 2091l-2-2 2-2 2 2-2 2zM3191 2101l-2-2 2-2 2 2-2 2zM3193 2103l-2-2 2-2 2 2-2 2zM3195 2105l-2-2 2-2 2 2-2 2zM3329 2229l-2-2 2-2 2 2-2 2zM3331 2231l-2-2 2-2 2 2-2 2zM3333 2233l-2-2 2-2 2 2-2 2zM3401 2311l-2-2 2-2 2 2-2 2zM3407 2319l-2-2 2-2 2 2-2 2z" fill="#4466fd"/><path d="M2609 3375l102-9 98-18 94-28 90-38 82-45 76-54 66-61 58-68 26-36 24-39 41-82 31-88 22-94 13-100 2-102-9-100-11-68-6-26-3-2 2-2-4-6-12-10-16-22-38-44-10-8-60-62-24-18-54-50-10-8-2 2-66-54-6-4-2 2-4-6-2 2-28-22-50-34-2 2-2-4-2 2-4-2-22-16-6-2-40-26-4-2-2 2-2-4-2 2-8-4-14-10-40-20-4-4-16-8-4 2-2-2 2-2-4 2-2-2 2-2-4 2-2-2 2-2-4 2-8-6-12-6-4 0-38-20-4 2-2-4-12-6-4 2-2-4-2 2-2-2 0-2-4 2-14-8-4 0-44-20-8-2-2 2-2-4-4 2-2-2 2-2-4 2-2-4-4 2-2-2 2-2-4 2-2-4-4 2-28-12-28-8-24-10-6 2-2-2 2-2-6 2-2-4-4 2-2-4-4 2-2-4-2 2-10-2-34-12-8 2-2-2 2-2-6-2-6 2-2-4-2 0-4 2-2-2 2-2-8 2-2-2 2-2-4 2-4-2 2-2-8 2-2-2 2-2-8 2-2-2 2-2-6 2-2-4-6 2-2-4-6 2-26-8-10 2-2-2 2-2-8 2-2-2 2-2-14-2-4 2-2-2 2-2-8 2-2-4-8 2-2-2 2-2-10 2-2-2 2-2-10 2-2-2 2-2-10 2-2-2 2-2-10 2-2-2-16-2-6 2-2-2 2-2-10 2-2-2 2-2-12 2-2-2 2-2-12 2-2-2 2-2-12 2-2-2 2-2-14 2-2-2 2-2-12 2-2-4-12 2-2-4-16 4-2-2 2-4-16 4-2-2 2-2-16 2-2-3-81 19-86 26-76 30-63 32-59 38-54 44-50 50-49 60-41 62-34 64-25 64-16 62-9 62-3 66 5 68 11 70 18 74 25 76 31 76 37 76 42 72 46 68 49 63 54 58 58 55 62 49 66 45 70 40 74 36 77 30 79 24 80 18 82 12 82 6 80 0zM2177 1689l-4-2 4-2 2 2-2 2zM2189 1691l-2-2 2-2 2 2-2 2zM2203 1693l-2-2 2-2 2 2-2 2zM2277 1703l-2-2 2-2 2 2-2 2zM2287 1705l-2-2 2-2 2 2-2 2zM2297 1707l-2-2 2-2 2 2-2 2zM2307 1709l-2-2 2-2 2 2-2 2zM2357 1717l-2-2 2-2 2 2-2 2zM2383 1723l-4-2 4-2 2 2-2 2zM2391 1725l-2-2 2-2 2 2-2 2zM2421 1733l-2-2 2-2 2 2-2 2zM2475 1745l-2-2 2-2 2 2-2 2zM2489 1749l-2-2 2-2 2 2-2 2zM2495 1751l-2-2 2-2 2 2-2 2zM2521 1759l-2-2 2-2 2 2-2 2zM2527 1761l-2-2 2-2 2 2-2 2zM2561 1769l-2-2 2-2 2 2-2 2zM2567 1771l-2-2 2-2 2 2-2 2zM2573 1773l-2-2 2-2 2 2-2 2zM2579 1775l-2-2 2-2 2 2-2 2zM2583 1777l-2-2 2-2 2 2-2 2zM2589 1779l-2-2 2-2 2 2-2 2zM2595 1781l-2-2 2-2 2 2-2 2zM2601 1783l-2-2 2-2 2 2-2 2zM2611 1787l-2-2 2-2 2 2-2 2zM2671 1807l-2-2 2-2 2 2-2 2zM2677 1809l-2-2 2-2 2 2-2 2zM2681 1811l-2-2 2-2 2 2-2 2zM2691 1815l-2-2 2-2 2 2-2 2zM2695 1817l-2-2 2-2 2 2-2 2zM2753 1839l-2-2 2-2 2 2-2 2zM2757 1841l-2-2 2-2 2 2-2 2zM2761 1843l-2-2 2-2 2 2-2 2zM2771 1847l-2-2 2-2 2 2-2 2zM2775 1849l-2-2 2-2 2 2-2 2zM2779 1851l-2-2 2-2 2 2-2 2zM2783 1853l-2-2 2-2 2 2-2 2zM2787 1855l-2-2 2-2 2 2-2 2zM2791 1857l-2-2 2-2 2 2-2 2zM2795 1859l-2-2 2-2 2 2-2 2zM2799 1861l-2-2 2-2 2 2-2 2zM2803 1863l-2-2 2-2 2 2-2 2zM2849 1883l-2-2 2-2 2 2-2 2zM2853 1885l-2-2 2-2 2 2-2 2zM2857 1887l-2-2 2-2 2 2-2 2zM2861 1889l-2-2 2-2 2 2-2 2zM2875 1897l-2-2 2-2 2 2-2 2zM2937 1929l-2-2 2-2 2 2-2 2zM2941 1931l-2-2 2-2 2 2-2 2zM2947 1935l-2-2 2-2 2 2-2 2zM2951 1937l-2-2 2-2 2 2-2 2zM2957 1941l-2-2 2-2 2 2-2 2zM3019 1977l-2-2 2-2 2 2-2 2zM3025 1981l-2-2 2-2 2 2-2 2zM3031 1985l-2-2 2-2 2 2-2 2zM3033 1987l-2-2 2-2 2 2-2 2zM3039 1991l-2-2 2-2 2 2-2 2zM3105 2035l-2-2 2-2 2 2-2 2zM3113 2041l-2-2 2-2 2 2-2 2zM3179 2091l-2-2 2-2 2 2-2 2zM3191 2101l-2-2 2-2 2 2-2 2zM3193 2103l-2-2 2-2 2 2-2 2zM3195 2105l-2-2 2-2 2 2-2 2zM3329 2229l-2-2 2-2 2 2-2 2zM3331 2231l-2-2 2-2 2 2-2 2zM3333 2233l-2-2 2-2 2 2-2 2zM3401 2311l-2-2 2-2 2 2-2 2z" fill="#4564fd"/><path d="M2583 3357l102-6 100-16 96-26 92-36 84-44 40-26 38-28 36-30 32-30 31-34 29-35 26-36 24-39 22-40 20-43 18-45 14-45 22-95 12-100 1-102-9-102-19-96-19-26-38-44-10-8-60-62-24-18-54-50-10-8-2 2-66-54-6-4-2 2-4-6-2 2-28-22-50-34-2 2-2-4-2 2-4-2-22-16-6-2-40-26-4-2-2 2-2-4-2 2-8-4-14-10-40-20-4-4-16-8-4 2-2-2 2-2-4 2-2-2 2-2-4 2-2-2 2-2-4 2-8-6-12-6-4 0-38-20-4 2-2-4-12-6-4 2-2-4-2 2-2-2 0-2-4 2-14-8-4 0-44-20-8-2-2 2-2-4-4 2-2-2 2-2-4 2-2-4-4 2-2-2 2-2-4 2-2-4-4 2-28-12-28-8-24-10-6 2-2-2 2-2-6 2-2-4-4 2-2-4-4 2-2-4-2 2-10-2-34-12-8 2-2-2 2-2-6-2-6 2-2-4-2 0-4 2-2-2 2-2-8 2-2-2 2-2-4 2-4-2 2-2-8 2-2-2 2-2-8 2-2-2 2-2-6 2-2-4-6 2-2-4-6 2-26-8-10 2-2-2 2-2-8 2-2-2 2-2-14-2-4 2-2-2 2-2-8 2-2-4-8 2-2-2 2-2-10 2-2-2 2-2-10 2-2-2 2-2-10 2-2-2 2-2-10 2-2-2-16-2-6 2-2-2 2-2-10 2-2-2 2-2-12 2-2-2 2-2-12 2-2-2 2-2-12 2-2-2 2-2-14 2-2-2 2-2-12 2-2-4-12 2-2-4-16 4-2-2 2-3-68 15-62 16-57 18-53 20-65 30-57 34-54 40-50 47-50 56-44 61-36 62-28 64-18 58-12 62-5 64 1 66 8 68 15 70 21 72 28 76 35 76 40 74 43 68 48 65 52 60 55 55 59 50 64 47 68 42 72 37 76 32 76 25 80 21 80 14 80 8 80 2zM2177 1689l-4-2 4-2 2 2-2 2zM2189 1691l-2-2 2-2 2 2-2 2zM2203 1693l-2-2 2-2 2 2-2 2zM2277 1703l-2-2 2-2 2 2-2 2zM2287 1705l-2-2 2-2 2 2-2 2zM2297 1707l-2-2 2-2 2 2-2 2zM2307 1709l-2-2 2-2 2 2-2 2zM2357 1717l-2-2 2-2 2 2-2 2zM2383 1723l-4-2 4-2 2 2-2 2zM2391 1725l-2-2 2-2 2 2-2 2zM2421 1733l-2-2 2-2 2 2-2 2zM2475 1745l-2-2 2-2 2 2-2 2zM2489 1749l-2-2 2-2 2 2-2 2zM2495 1751l-2-2 2-2 2 2-2 2zM2521 1759l-2-2 2-2 2 2-2 2zM2527 1761l-2-2 2-2 2 2-2 2zM2561 1769l-2-2 2-2 2 2-2 2zM2567 1771l-2-2 2-2 2 2-2 2zM2573 1773l-2-2 2-2 2 2-2 2zM2579 1775l-2-2 2-2 2 2-2 2zM2583 1777l-2-2 2-2 2 2-2 2zM2589 1779l-2-2 2-2 2 2-2 2zM2595 1781l-2-2 2-2 2 2-2 2zM2601 1783l-2-2 2-2 2 2-2 2zM2611 1787l-2-2 2-2 2 2-2 2zM2671 1807l-2-2 2-2 2 2-2 2zM2677 1809l-2-2 2-2 2 2-2 2zM2681 1811l-2-2 2-2 2 2-2 2zM2691 1815l-2-2 2-2 2 2-2 2zM2695 1817l-2-2 2-2 2 2-2 2zM2753 1839l-2-2 2-2 2 2-2 2zM2757 1841l-2-2 2-2 2 2-2 2zM2761 1843l-2-2 2-2 2 2-2 2zM2771 1847l-2-2 2-2 2 2-2 2zM2775 1849l-2-2 2-2 2 2-2 2zM2779 1851l-2-2 2-2 2 2-2 2zM2783 1853l-2-2 2-2 2 2-2 2zM2787 1855l-2-2 2-2 2 2-2 2zM2791 1857l-2-2 2-2 2 2-2 2zM2795 1859l-2-2 2-2 2 2-2 2zM2799 1861l-2-2 2-2 2 2-2 2zM2803 1863l-2-2 2-2 2 2-2 2zM2849 1883l-2-2 2-2 2 2-2 2zM2853 1885l-2-2 2-2 2 2-2 2zM2857 1887l-2-2 2-2 2 2-2 2zM2861 1889l-2-2 2-2 2 2-2 2zM2875 1897l-2-2 2-2 2 2-2 2zM2937 1929l-2-2 2-2 2 2-2 2zM2941 1931l-2-2 2-2 2 2-2 2zM2947 1935l-2-2 2-2 2 2-2 2zM2951 1937l-2-2 2-2 2 2-2 2zM2957 1941l-2-2 2-2 2 2-2 2zM3019 1977l-2-2 2-2 2 2-2 2zM3025 1981l-2-2 2-2 2 2-2 2zM3031 1985l-2-2 2-2 2 2-2 2zM3033 1987l-2-2 2-2 2 2-2 2zM3039 1991l-2-2 2-2 2 2-2 2zM3105 2035l-2-2 2-2 2 2-2 2zM3113 2041l-2-2 2-2 2 2-2 2zM3179 2091l-2-2 2-2 2 2-2 2zM3191 2101l-2-2 2-2 2 2-2 2zM3193 2103l-2-2 2-2 2 2-2 2zM3195 2105l-2-2 2-2 2 2-2 2zM3329 2229l-2-2 2-2 2 2-2 2zM3331 2231l-2-2 2-2 2 2-2 2zM3333 2233l-2-2 2-2 2 2-2 2z" fill="#4561fc"/><path d="M2618 3337l99-9 98-19 92-28 88-38 80-46 72-53 64-61 56-68 26-38 22-38 38-82 29-88 19-94 10-98-1-100-11-100-21-94-41-50-10-8-60-62-24-18-24-24-40-34-2 2-66-54-6-4-2 2-4-6-2 2-48-36-30-20-2 2-2-4-2 2-4-2-22-16-6-2-40-26-4-2-2 2-2-4-2 2-8-4-14-10-60-32-4 2-2-2 2-2-4 2-2-2 2-2-4 2-2-2 2-2-4 2-8-6-12-6-4 0-38-20-4 2-2-4-12-6-4 2-2-4-2 2-2-2 0-2-4 2-14-8-4 0-44-20-8-2-2 2-2-4-4 2-2-2 2-2-4 2-2-4-4 2-2-2 2-2-4 2-2-4-4 2-28-12-28-8-24-10-6 2-2-2 2-2-6 2-2-4-4 2-2-4-4 2-2-4-2 2-10-2-34-12-8 2-2-2 2-2-6-2-6 2-2-4-2 0-4 2-2-2 2-2-8 2-2-2 2-2-4 2-4-2 2-2-8 2-2-2 2-2-8 2-2-2 2-2-6 2-2-4-6 2-2-4-6 2-26-8-10 2-2-2 2-2-8 2-2-2 2-2-14-2-4 2-2-2 2-2-8 2-2-4-8 2-2-2 2-2-10 2-2-2 2-2-10 2-2-2 2-2-10 2-2-2 2-2-10 2-12-4-12 2-2-2 2-2-10 2-2-2 2-2-12 2-2-2 2-2-12 2-2-2 2-2-12 2-2-2 2-2-14 2-2-2 2-2-12 2-2-4-80 17-76 20-68 23-59 24-62 32-55 36-51 42-50 50-46 58-40 60-32 62-24 62-15 60-9 60-2 64 4 66 11 68 18 72 25 74 30 74 37 74 41 70 45 66 48 60 52 56 56 52 60 48 64 43 68 39 72 34 74 29 76 23 78 17 78 12 80 5 79 0zM2189 1691l-2-2 2-2 2 2-2 2zM2203 1693l-2-2 2-2 2 2-2 2zM2277 1703l-2-2 2-2 2 2-2 2zM2287 1705l-2-2 2-2 2 2-2 2zM2297 1707l-2-2 2-2 2 2-2 2zM2307 1709l-2-2 2-2 2 2-2 2zM2357 1717l-2-2 2-2 2 2-2 2zM2383 1723l-4-2 4-2 2 2-2 2zM2391 1725l-2-2 2-2 2 2-2 2zM2421 1733l-2-2 2-2 2 2-2 2zM2475 1745l-2-2 2-2 2 2-2 2zM2489 1749l-2-2 2-2 2 2-2 2zM2495 1751l-2-2 2-2 2 2-2 2zM2521 1759l-2-2 2-2 2 2-2 2zM2527 1761l-2-2 2-2 2 2-2 2zM2561 1769l-2-2 2-2 2 2-2 2zM2567 1771l-2-2 2-2 2 2-2 2zM2573 1773l-2-2 2-2 2 2-2 2zM2579 1775l-2-2 2-2 2 2-2 2zM2583 1777l-2-2 2-2 2 2-2 2zM2589 1779l-2-2 2-2 2 2-2 2zM2595 1781l-2-2 2-2 2 2-2 2zM2601 1783l-2-2 2-2 2 2-2 2zM2611 1787l-2-2 2-2 2 2-2 2zM2671 1807l-2-2 2-2 2 2-2 2zM2677 1809l-2-2 2-2 2 2-2 2zM2681 1811l-2-2 2-2 2 2-2 2zM2691 1815l-2-2 2-2 2 2-2 2zM2695 1817l-2-2 2-2 2 2-2 2zM2753 1839l-2-2 2-2 2 2-2 2zM2757 1841l-2-2 2-2 2 2-2 2zM2761 1843l-2-2 2-2 2 2-2 2zM2771 1847l-2-2 2-2 2 2-2 2zM2775 1849l-2-2 2-2 2 2-2 2zM2779 1851l-2-2 2-2 2 2-2 2zM2783 1853l-2-2 2-2 2 2-2 2zM2787 1855l-2-2 2-2 2 2-2 2zM2791 1857l-2-2 2-2 2 2-2 2zM2795 1859l-2-2 2-2 2 2-2 2zM2799 1861l-2-2 2-2 2 2-2 2zM2803 1863l-2-2 2-2 2 2-2 2zM2849 1883l-2-2 2-2 2 2-2 2zM2853 1885l-2-2 2-2 2 2-2 2zM2857 1887l-2-2 2-2 2 2-2 2zM2861 1889l-2-2 2-2 2 2-2 2zM2875 1897l-2-2 2-2 2 2-2 2zM2937 1929l-2-2 2-2 2 2-2 2zM2941 1931l-2-2 2-2 2 2-2 2zM2947 1935l-2-2 2-2 2 2-2 2zM2951 1937l-2-2 2-2 2 2-2 2zM2957 1941l-2-2 2-2 2 2-2 2zM3019 1977l-2-2 2-2 2 2-2 2zM3025 1981l-2-2 2-2 2 2-2 2zM3031 1985l-2-2 2-2 2 2-2 2zM3033 1987l-2-2 2-2 2 2-2 2zM3039 1991l-2-2 2-2 2 2-2 2zM3105 2035l-2-2 2-2 2 2-2 2zM3113 2041l-2-2 2-2 2 2-2 2zM3179 2091l-2-2 2-2 2 2-2 2zM3191 2101l-2-2 2-2 2 2-2 2zM3193 2103l-2-2 2-2 2 2-2 2zM3195 2105l-2-2 2-2 2 2-2 2zM3329 2229l-2-2 2-2 2 2-2 2zM3331 2231l-2-2 2-2 2 2-2 2zM3333 2233l-2-2 2-2 2 2-2 2z" fill="#465ffb"/><path d="M2630 3317l98-10 95-19 90-29 86-38 78-46 71-54 63-61 54-69 24-37 22-39 36-82 27-88 18-94 7-98-2-100-12-96-23-94-25-30-10-8-60-62-24-18-42-40-22-18-2 2-66-54-6-4-2 2-4-6-2 2-28-22-50-34-2 2-2-4-2 2-4-2-22-16-6-2-40-26-4-2-2 2-2-4-2 2-8-4-14-10-60-32-4 2-2-2 2-2-4 2-2-2 2-2-4 2-2-2 2-2-4 2-8-6-12-6-4 0-38-20-4 2-2-4-12-6-4 2-2-4-2 2-2-2 0-2-4 2-14-8-4 0-44-20-8-2-2 2-2-4-4 2-2-2 2-2-4 2-2-4-4 2-2-2 2-2-4 2-2-4-4 2-28-12-28-8-24-10-6 2-2-2 2-2-6 2-2-4-4 2-2-4-4 2-2-4-2 2-10-2-34-12-8 2-2-2 2-2-6-2-6 2-2-4-2 0-4 2-2-2 2-2-8 2-2-2 2-2-4 2-4-2 2-2-8 2-2-2 2-2-8 2-2-2 2-2-6 2-2-4-6 2-2-4-6 2-26-8-10 2-2-2 2-2-8 2-2-2 2-2-14-2-4 2-2-2 2-2-8 2-2-4-8 2-2-2 2-2-10 2-2-2 2-2-10 2-2-2 2-2-10 2-2-2 2-2-10 2-12-4-12 2-2-2 2-2-10 2-2-2 2-2-12 2-2-2 2-2-12 2-2-2 2-2-12 2-2-3-84 17-83 22-73 24-62 26-60 32-54 36-50 42-48 50-46 58-38 60-30 60-23 62-15 60-7 60-1 62 5 66 12 68 19 70 24 72 32 74 36 72 40 67 44 63 49 60 53 56 55 50 59 46 64 42 68 38 70 32 74 28 74 22 78 16 76 10 78 5 77-1zM2277 1703l-2-2 2-2 2 2-2 2zM2287 1705l-2-2 2-2 2 2-2 2zM2297 1707l-2-2 2-2 2 2-2 2zM2307 1709l-2-2 2-2 2 2-2 2zM2357 1717l-2-2 2-2 2 2-2 2zM2383 1723l-4-2 4-2 2 2-2 2zM2391 1725l-2-2 2-2 2 2-2 2zM2421 1733l-2-2 2-2 2 2-2 2zM2475 1745l-2-2 2-2 2 2-2 2zM2489 1749l-2-2 2-2 2 2-2 2zM2495 1751l-2-2 2-2 2 2-2 2zM2521 1759l-2-2 2-2 2 2-2 2zM2527 1761l-2-2 2-2 2 2-2 2zM2561 1769l-2-2 2-2 2 2-2 2zM2567 1771l-2-2 2-2 2 2-2 2zM2573 1773l-2-2 2-2 2 2-2 2zM2579 1775l-2-2 2-2 2 2-2 2zM2583 1777l-2-2 2-2 2 2-2 2zM2589 1779l-2-2 2-2 2 2-2 2zM2595 1781l-2-2 2-2 2 2-2 2zM2601 1783l-2-2 2-2 2 2-2 2zM2611 1787l-2-2 2-2 2 2-2 2zM2671 1807l-2-2 2-2 2 2-2 2zM2677 1809l-2-2 2-2 2 2-2 2zM2681 1811l-2-2 2-2 2 2-2 2zM2691 1815l-2-2 2-2 2 2-2 2zM2695 1817l-2-2 2-2 2 2-2 2zM2753 1839l-2-2 2-2 2 2-2 2zM2757 1841l-2-2 2-2 2 2-2 2zM2761 1843l-2-2 2-2 2 2-2 2zM2771 1847l-2-2 2-2 2 2-2 2zM2775 1849l-2-2 2-2 2 2-2 2zM2779 1851l-2-2 2-2 2 2-2 2zM2783 1853l-2-2 2-2 2 2-2 2zM2787 1855l-2-2 2-2 2 2-2 2zM2791 1857l-2-2 2-2 2 2-2 2zM2795 1859l-2-2 2-2 2 2-2 2zM2799 1861l-2-2 2-2 2 2-2 2zM2803 1863l-2-2 2-2 2 2-2 2zM2849 1883l-2-2 2-2 2 2-2 2zM2853 1885l-2-2 2-2 2 2-2 2zM2857 1887l-2-2 2-2 2 2-2 2zM2861 1889l-2-2 2-2 2 2-2 2zM2875 1897l-2-2 2-2 2 2-2 2zM2937 1929l-2-2 2-2 2 2-2 2zM2941 1931l-2-2 2-2 2 2-2 2zM2947 1935l-2-2 2-2 2 2-2 2zM2951 1937l-2-2 2-2 2 2-2 2zM2957 1941l-2-2 2-2 2 2-2 2zM3019 1977l-2-2 2-2 2 2-2 2zM3025 1981l-2-2 2-2 2 2-2 2zM3031 1985l-2-2 2-2 2 2-2 2zM3033 1987l-2-2 2-2 2 2-2 2zM3039 1991l-2-2 2-2 2 2-2 2zM3105 2035l-2-2 2-2 2 2-2 2zM3113 2041l-2-2 2-2 2 2-2 2zM3179 2091l-2-2 2-2 2 2-2 2zM3191 2101l-2-2 2-2 2 2-2 2zM3193 2103l-2-2 2-2 2 2-2 2zM3195 2105l-2-2 2-2 2 2-2 2zM3329 2229l-2-2 2-2 2 2-2 2zM3331 2231l-2-2 2-2 2 2-2 2zM3333 2233l-2-2 2-2 2 2-2 2z" fill="#475cfa"/><path d="M2633 3297l98-10 94-20 90-29 84-38 76-45 70-54 32-30 30-32 52-67 44-75 19-42 17-42 26-90 16-94 6-98-4-100-14-96-24-92-8-10-10-8-60-62-24-18-54-50-10-8-2 2-66-54-6-4-2 2-4-6-2 2-28-22-50-34-2 2-2-4-2 2-4-2-22-16-6-2-40-26-4-2-2 2-2-4-2 2-8-4-14-10-40-20-4-4-16-8-4 2-2-2 2-2-4 2-2-2 2-2-4 2-2-2 2-2-4 2-8-6-12-6-4 0-38-20-4 2-2-4-12-6-4 2-2-4-2 2-2-2 0-2-4 2-14-8-4 0-44-20-8-2-2 2-2-4-4 2-2-2 2-2-4 2-2-4-4 2-2-2 2-2-4 2-2-4-4 2-28-12-28-8-24-10-6 2-2-2 2-2-6 2-2-4-4 2-2-4-4 2-2-4-2 2-10-2-34-12-8 2-2-2 2-2-6-2-6 2-2-4-2 0-4 2-2-2 2-2-8 2-2-2 2-2-4 2-4-2 2-2-8 2-2-2 2-2-8 2-2-2 2-2-6 2-2-4-6 2-2-4-6 2-26-8-10 2-2-2 2-2-8 2-2-2 2-2-12-2-6 2-2-2 2-2-8 2-2-4-8 2-2-2 2-2-10 2-2-2 2-2-10 2-2-2 2-2-10 2-2-2 2-2-10 2-12-4-12 2-2-2 2-2-10 2-2-2 2-2-5 0-87 16-88 22-76 24-68 28-58 31-53 35-50 42-47 48-44 56-39 60-31 60-22 60-14 58-8 60-1 62 5 64 12 66 18 70 25 72 30 72 36 70 40 68 43 62 47 58 52 54 55 50 58 45 62 41 66 37 70 33 72 27 74 21 76 16 76 11 76 4 76-1zM2277 1703l-2-2 2-2 2 2-2 2zM2287 1705l-2-2 2-2 2 2-2 2zM2297 1707l-2-2 2-2 2 2-2 2zM2307 1709l-2-2 2-2 2 2-2 2zM2357 1717l-2-2 2-2 2 2-2 2zM2383 1723l-4-2 4-2 2 2-2 2zM2391 1725l-2-2 2-2 2 2-2 2zM2421 1733l-2-2 2-2 2 2-2 2zM2475 1745l-2-2 2-2 2 2-2 2zM2489 1749l-2-2 2-2 2 2-2 2zM2495 1751l-2-2 2-2 2 2-2 2zM2521 1759l-2-2 2-2 2 2-2 2zM2527 1761l-2-2 2-2 2 2-2 2zM2561 1769l-2-2 2-2 2 2-2 2zM2567 1771l-2-2 2-2 2 2-2 2zM2573 1773l-2-2 2-2 2 2-2 2zM2579 1775l-2-2 2-2 2 2-2 2zM2583 1777l-2-2 2-2 2 2-2 2zM2589 1779l-2-2 2-2 2 2-2 2zM2595 1781l-2-2 2-2 2 2-2 2zM2601 1783l-2-2 2-2 2 2-2 2zM2611 1787l-2-2 2-2 2 2-2 2zM2671 1807l-2-2 2-2 2 2-2 2zM2677 1809l-2-2 2-2 2 2-2 2zM2681 1811l-2-2 2-2 2 2-2 2zM2691 1815l-2-2 2-2 2 2-2 2zM2695 1817l-2-2 2-2 2 2-2 2zM2753 1839l-2-2 2-2 2 2-2 2zM2757 1841l-2-2 2-2 2 2-2 2zM2761 1843l-2-2 2-2 2 2-2 2zM2771 1847l-2-2 2-2 2 2-2 2zM2775 1849l-2-2 2-2 2 2-2 2zM2779 1851l-2-2 2-2 2 2-2 2zM2783 1853l-2-2 2-2 2 2-2 2zM2787 1855l-2-2 2-2 2 2-2 2zM2791 1857l-2-2 2-2 2 2-2 2zM2795 1859l-2-2 2-2 2 2-2 2zM2799 1861l-2-2 2-2 2 2-2 2zM2803 1863l-2-2 2-2 2 2-2 2zM2849 1883l-2-2 2-2 2 2-2 2zM2853 1885l-2-2 2-2 2 2-2 2zM2857 1887l-2-2 2-2 2 2-2 2zM2861 1889l-2-2 2-2 2 2-2 2zM2875 1897l-2-2 2-2 2 2-2 2zM2937 1929l-2-2 2-2 2 2-2 2zM2941 1931l-2-2 2-2 2 2-2 2zM2947 1935l-2-2 2-2 2 2-2 2zM2951 1937l-2-2 2-2 2 2-2 2zM2957 1941l-2-2 2-2 2 2-2 2zM3019 1977l-2-2 2-2 2 2-2 2zM3025 1981l-2-2 2-2 2 2-2 2zM3031 1985l-2-2 2-2 2 2-2 2zM3033 1987l-2-2 2-2 2 2-2 2zM3039 1991l-2-2 2-2 2 2-2 2zM3105 2035l-2-2 2-2 2 2-2 2zM3113 2041l-2-2 2-2 2 2-2 2zM3179 2091l-2-2 2-2 2 2-2 2zM3191 2101l-2-2 2-2 2 2-2 2zM3193 2103l-2-2 2-2 2 2-2 2zM3195 2105l-2-2 2-2 2 2-2 2zM3329 2229l-2-2 2-2 2 2-2 2zM3331 2231l-2-2 2-2 2 2-2 2zM3333 2233l-2-2 2-2 2 2-2 2z" fill="#475af9"/><path d="M2627 3277l96-9 94-19 90-28 85-38 77-46 70-54 60-61 52-68 23-37 21-39 34-83 25-90 15-94 5-100-5-99-16-96-26-91-60-62-24-18-54-50-10-8-2 2-66-54-6-4-2 2-4-6-2 2-28-22-50-34-2 2-2-4-2 2-4-2-22-16-6-2-40-26-4-2-2 2-2-4-2 2-8-4-14-10-40-20-4-4-16-8-4 2-2-2 2-2-4 2-2-2 2-2-4 2-2-2 2-2-4 2-8-6-12-6-4 0-38-20-4 2-2-4-12-6-4 2-2-4-2 2-2-2 0-2-4 2-14-8-4 0-44-20-8-2-2 2-2-4-4 2-2-2 2-2-4 2-2-4-4 2-2-2 2-2-4 2-2-4-4 2-28-12-28-8-24-10-6 2-2-2 2-2-6 2-2-4-4 2-2-4-4 2-2-4-2 2-10-2-34-12-8 2-2-2 2-2-6-2-6 2-2-4-2 0-4 2-2-2 2-2-8 2-2-2 2-2-4 2-4-2 2-2-8 2-2-2 2-2-8 2-2-2 2-2-6 2-2-4-6 2-2-4-6 2-26-8-10 2-2-2 2-2-8 2-2-2 2-2-12-2-6 2-2-2 2-2-8 2-2-4-8 2-2-2 2-2-10 2-2-2 2-2-10 2-2-2 2-2-10 2-2-2 2-2-4 2-16-2-2 2-2-1-16 2-72 13-90 22-79 24-69 28-58 30-52 34-50 42-46 47-44 55-38 58-30 58-22 60-14 58-8 58-2 60 5 62 11 64 17 68 24 70 29 70 35 70 39 66 42 61 45 57 49 52 54 50 58 46 60 41 66 37 68 32 70 27 72 21 74 17 74 10 76 6 74-1zM2287 1705l-2-2 2-2 2 2-2 2zM2297 1707l-2-2 2-2 2 2-2 2zM2307 1709l-2-2 2-2 2 2-2 2zM2357 1717l-2-2 2-2 2 2-2 2zM2383 1723l-4-2 4-2 2 2-2 2zM2391 1725l-2-2 2-2 2 2-2 2zM2421 1733l-2-2 2-2 2 2-2 2zM2475 1745l-2-2 2-2 2 2-2 2zM2489 1749l-2-2 2-2 2 2-2 2zM2495 1751l-2-2 2-2 2 2-2 2zM2521 1759l-2-2 2-2 2 2-2 2zM2527 1761l-2-2 2-2 2 2-2 2zM2561 1769l-2-2 2-2 2 2-2 2zM2567 1771l-2-2 2-2 2 2-2 2zM2573 1773l-2-2 2-2 2 2-2 2zM2579 1775l-2-2 2-2 2 2-2 2zM2583 1777l-2-2 2-2 2 2-2 2zM2589 1779l-2-2 2-2 2 2-2 2zM2595 1781l-2-2 2-2 2 2-2 2zM2601 1783l-2-2 2-2 2 2-2 2zM2611 1787l-2-2 2-2 2 2-2 2zM2671 1807l-2-2 2-2 2 2-2 2zM2677 1809l-2-2 2-2 2 2-2 2zM2681 1811l-2-2 2-2 2 2-2 2zM2691 1815l-2-2 2-2 2 2-2 2zM2695 1817l-2-2 2-2 2 2-2 2zM2753 1839l-2-2 2-2 2 2-2 2zM2757 1841l-2-2 2-2 2 2-2 2zM2761 1843l-2-2 2-2 2 2-2 2zM2771 1847l-2-2 2-2 2 2-2 2zM2775 1849l-2-2 2-2 2 2-2 2zM2779 1851l-2-2 2-2 2 2-2 2zM2783 1853l-2-2 2-2 2 2-2 2zM2787 1855l-2-2 2-2 2 2-2 2zM2791 1857l-2-2 2-2 2 2-2 2zM2795 1859l-2-2 2-2 2 2-2 2zM2799 1861l-2-2 2-2 2 2-2 2zM2803 1863l-2-2 2-2 2 2-2 2zM2849 1883l-2-2 2-2 2 2-2 2zM2853 1885l-2-2 2-2 2 2-2 2zM2857 1887l-2-2 2-2 2 2-2 2zM2861 1889l-2-2 2-2 2 2-2 2zM2875 1897l-2-2 2-2 2 2-2 2zM2937 1929l-2-2 2-2 2 2-2 2zM2941 1931l-2-2 2-2 2 2-2 2zM2947 1935l-2-2 2-2 2 2-2 2zM2951 1937l-2-2 2-2 2 2-2 2zM2957 1941l-2-2 2-2 2 2-2 2zM3019 1977l-2-2 2-2 2 2-2 2zM3025 1981l-2-2 2-2 2 2-2 2zM3031 1985l-2-2 2-2 2 2-2 2zM3033 1987l-2-2 2-2 2 2-2 2zM3039 1991l-2-2 2-2 2 2-2 2zM3105 2035l-2-2 2-2 2 2-2 2zM3113 2041l-2-2 2-2 2 2-2 2zM3179 2091l-2-2 2-2 2 2-2 2zM3191 2101l-2-2 2-2 2 2-2 2zM3193 2103l-2-2 2-2 2 2-2 2zM3195 2105l-2-2 2-2 2 2-2 2z" fill="#4757f7"/><path d="M2599 3257l98-6 96-17 92-26 86-36 79-45 37-26 34-27 32-29 30-32 28-33 26-36 24-38 21-39 19-42 16-42 14-46 11-46 15-96 4-100-7-100-7-48-10-48-13-46-16-46-41-44-24-18-42-40-22-18-2 2-58-48-14-10-2 2-4-6-2 2-28-22-50-34-2 2-2-4-2 2-4-2-22-16-6-2-40-26-4-2-2 2-2-4-2 2-8-4-14-10-60-32-4 2-2-2 2-2-4 2-2-2 2-2-4 2-2-2 2-2-4 2-8-6-12-6-4 0-38-20-4 2-2-4-12-6-4 2-2-4-2 2-2-2 0-2-4 2-14-8-4 0-44-20-8-2-2 2-2-4-4 2-2-2 2-2-4 2-2-4-4 2-2-2 2-2-4 2-2-4-4 2-28-12-28-8-24-10-6 2-2-2 2-2-6 2-2-4-4 2-2-4-4 2-2-4-2 2-10-2-34-12-8 2-2-2 2-2-6-2-6 2-2-4-2 0-4 2-2-2 2-2-8 2-2-2 2-2-4 2-4-2 2-2-8 2-2-2 2-2-8 2-2-2 2-2-6 2-2-4-6 2-2-4-6 2-26-8-10 2-2-2 2-2-8 2-2-2 2-2-12-2-6 2-2-2 2-2-8 2-2-4-8 2-2-2 2-2-10 2-2-2-88 13-88 19-80 23-72 26-58 27-54 32-48 36-47 44-45 52-40 56-32 56-26 58-16 54-11 56-4 58 1 60 8 62 13 64 20 68 26 68 32 70 35 66 40 63 44 59 48 56 51 50 55 47 58 42 62 38 66 34 68 29 70 23 72 19 74 13 74 7 74 2zM2357 1717l-2-2 2-2 2 2-2 2zM2383 1723l-4-2 4-2 2 2-2 2zM2391 1725l-2-2 2-2 2 2-2 2zM2421 1733l-2-2 2-2 2 2-2 2zM2475 1745l-2-2 2-2 2 2-2 2zM2489 1749l-2-2 2-2 2 2-2 2zM2495 1751l-2-2 2-2 2 2-2 2zM2521 1759l-2-2 2-2 2 2-2 2zM2527 1761l-2-2 2-2 2 2-2 2zM2561 1769l-2-2 2-2 2 2-2 2zM2567 1771l-2-2 2-2 2 2-2 2zM2573 1773l-2-2 2-2 2 2-2 2zM2579 1775l-2-2 2-2 2 2-2 2zM2583 1777l-2-2 2-2 2 2-2 2zM2589 1779l-2-2 2-2 2 2-2 2zM2595 1781l-2-2 2-2 2 2-2 2zM2601 1783l-2-2 2-2 2 2-2 2zM2611 1787l-2-2 2-2 2 2-2 2zM2671 1807l-2-2 2-2 2 2-2 2zM2677 1809l-2-2 2-2 2 2-2 2zM2681 1811l-2-2 2-2 2 2-2 2zM2691 1815l-2-2 2-2 2 2-2 2zM2695 1817l-2-2 2-2 2 2-2 2zM2753 1839l-2-2 2-2 2 2-2 2zM2757 1841l-2-2 2-2 2 2-2 2zM2761 1843l-2-2 2-2 2 2-2 2zM2771 1847l-2-2 2-2 2 2-2 2zM2775 1849l-2-2 2-2 2 2-2 2zM2779 1851l-2-2 2-2 2 2-2 2zM2783 1853l-2-2 2-2 2 2-2 2zM2787 1855l-2-2 2-2 2 2-2 2zM2791 1857l-2-2 2-2 2 2-2 2zM2795 1859l-2-2 2-2 2 2-2 2zM2799 1861l-2-2 2-2 2 2-2 2zM2803 1863l-2-2 2-2 2 2-2 2zM2849 1883l-2-2 2-2 2 2-2 2zM2853 1885l-2-2 2-2 2 2-2 2zM2857 1887l-2-2 2-2 2 2-2 2zM2861 1889l-2-2 2-2 2 2-2 2zM2875 1897l-2-2 2-2 2 2-2 2zM2937 1929l-2-2 2-2 2 2-2 2zM2941 1931l-2-2 2-2 2 2-2 2zM2947 1935l-2-2 2-2 2 2-2 2zM2951 1937l-2-2 2-2 2 2-2 2zM2957 1941l-2-2 2-2 2 2-2 2zM3019 1977l-2-2 2-2 2 2-2 2zM3025 1981l-2-2 2-2 2 2-2 2zM3031 1985l-2-2 2-2 2 2-2 2zM3033 1987l-2-2 2-2 2 2-2 2zM3039 1991l-2-2 2-2 2 2-2 2zM3105 2035l-2-2 2-2 2 2-2 2zM3113 2041l-2-2 2-2 2 2-2 2zM3179 2091l-2-2 2-2 2 2-2 2zM3191 2101l-2-2 2-2 2 2-2 2zM3193 2103l-2-2 2-2 2 2-2 2zM3195 2105l-2-2 2-2 2 2-2 2z" fill="#4755f6"/><path d="M2624 3235l95-9 94-18 90-29 82-37 75-45 34-26 33-28 31-30 29-32 26-33 24-36 22-37 20-41 17-41 15-44 22-91 12-97 1-98-9-98-9-48-12-46-13-44-17-44-19-20-24-18-42-40-22-18-2 2-66-54-6-4-2 2-4-6-2 2-28-22-50-34-2 2-2-4-2 2-4-2-22-16-6-2-40-26-4-2-2 2-2-4-2 2-8-4-14-10-60-32-4 2-2-2 2-2-4 2-2-2 2-2-4 2-2-2 2-2-4 2-8-6-12-6-4 0-38-20-4 2-2-4-12-6-4 2-2-4-2 2-2-2 0-2-4 2-14-8-4 0-44-20-8-2-2 2-2-4-4 2-2-2 2-2-4 2-2-4-4 2-2-2 2-2-4 2-2-4-4 2-28-12-28-8-24-10-6 2-2-2 2-2-6 2-2-4-4 2-2-4-4 2-2-4-2 2-10-2-34-12-8 2-2-2 2-2-6-2-6 2-2-4-2 0-4 2-2-2 2-2-8 2-2-2 2-2-4 2-4-2 2-2-8 2-2-2 2-2-8 2-2-2 2-2-6 2-2-4-6 2-2-4-6 2-26-8-10 2-2-2 2-2-8 2-2-2 2-2-6 0-2 2-2-4-98 14-99 20-91 26-79 30-56 28-50 32-48 38-45 45-43 51-38 56-30 56-23 58-14 54-9 56-2 58 3 60 10 62 16 64 21 66 28 68 33 68 36 64 41 60 44 56 47 52 51 48 55 44 58 40 62 36 66 32 67 26 69 21 70 16 72 11 72 6 73 0zM2383 1723l-4-2 4-2 2 2-2 2zM2391 1725l-2-2 2-2 2 2-2 2zM2421 1733l-2-2 2-2 2 2-2 2zM2475 1745l-2-2 2-2 2 2-2 2zM2489 1749l-2-2 2-2 2 2-2 2zM2495 1751l-2-2 2-2 2 2-2 2zM2521 1759l-2-2 2-2 2 2-2 2zM2527 1761l-2-2 2-2 2 2-2 2zM2561 1769l-2-2 2-2 2 2-2 2zM2567 1771l-2-2 2-2 2 2-2 2zM2573 1773l-2-2 2-2 2 2-2 2zM2579 1775l-2-2 2-2 2 2-2 2zM2583 1777l-2-2 2-2 2 2-2 2zM2589 1779l-2-2 2-2 2 2-2 2zM2595 1781l-2-2 2-2 2 2-2 2zM2601 1783l-2-2 2-2 2 2-2 2zM2611 1787l-2-2 2-2 2 2-2 2zM2671 1807l-2-2 2-2 2 2-2 2zM2677 1809l-2-2 2-2 2 2-2 2zM2681 1811l-2-2 2-2 2 2-2 2zM2691 1815l-2-2 2-2 2 2-2 2zM2695 1817l-2-2 2-2 2 2-2 2zM2753 1839l-2-2 2-2 2 2-2 2zM2757 1841l-2-2 2-2 2 2-2 2zM2761 1843l-2-2 2-2 2 2-2 2zM2771 1847l-2-2 2-2 2 2-2 2zM2775 1849l-2-2 2-2 2 2-2 2zM2779 1851l-2-2 2-2 2 2-2 2zM2783 1853l-2-2 2-2 2 2-2 2zM2787 1855l-2-2 2-2 2 2-2 2zM2791 1857l-2-2 2-2 2 2-2 2zM2795 1859l-2-2 2-2 2 2-2 2zM2799 1861l-2-2 2-2 2 2-2 2zM2803 1863l-2-2 2-2 2 2-2 2zM2849 1883l-2-2 2-2 2 2-2 2zM2853 1885l-2-2 2-2 2 2-2 2zM2857 1887l-2-2 2-2 2 2-2 2zM2861 1889l-2-2 2-2 2 2-2 2zM2875 1897l-2-2 2-2 2 2-2 2zM2937 1929l-2-2 2-2 2 2-2 2zM2941 1931l-2-2 2-2 2 2-2 2zM2947 1935l-2-2 2-2 2 2-2 2zM2951 1937l-2-2 2-2 2 2-2 2zM2957 1941l-2-2 2-2 2 2-2 2zM3019 1977l-2-2 2-2 2 2-2 2zM3025 1981l-2-2 2-2 2 2-2 2zM3031 1985l-2-2 2-2 2 2-2 2zM3033 1987l-2-2 2-2 2 2-2 2zM3039 1991l-2-2 2-2 2 2-2 2zM3105 2035l-2-2 2-2 2 2-2 2zM3113 2041l-2-2 2-2 2 2-2 2zM3179 2091l-2-2 2-2 2 2-2 2zM3191 2101l-2-2 2-2 2 2-2 2zM3193 2103l-2-2 2-2 2 2-2 2zM3195 2105l-2-2 2-2 2 2-2 2z" fill="#4852f4"/><path d="M2626 3213l95-9 92-18 88-28 82-38 74-46 34-26 32-28 30-29 28-32 25-34 23-34 21-38 19-40 17-42 14-44 12-46 9-46 10-96-1-100-11-96-10-47-12-45-15-44-17-41-8-11-14-10-42-40-22-18-2 2-66-54-6-4-2 2-4-6-2 2-28-22-50-34-2 2-2-4-2 2-4-2-22-16-6-2-40-26-4-2-2 2-2-4-2 2-8-4-14-10-60-32-4 2-2-2 2-2-4 2-2-2 2-2-4 2-2-2 2-2-4 2-8-6-12-6-4 0-38-20-4 2-2-4-12-6-4 2-2-4-2 2-2-2 0-2-4 2-14-8-4 0-44-20-8-2-2 2-2-4-4 2-2-2 2-2-4 2-2-4-4 2-2-2 2-2-4 2-2-4-4 2-28-12-28-8-24-10-6 2-2-2 2-2-6 2-2-4-4 2-2-4-4 2-2-4-2 2-10-2-34-12-8 2-2-2 2-2-6-2-6 2-2-4-2 0-4 2-2-2 2-2-8 2-2-2 2-2-4 2-4-2 2-2-8 2-2-2 2-2-8 2-2-2 2-2-6 2-2-4-6 2-2-4-6 2-10-4-6 0-2 2-2-3-36 3-96 14-95 20-87 25-75 29-55 28-49 32-45 36-44 44-43 52-36 54-28 54-22 56-15 54-8 54-2 56 4 58 9 60 15 64 22 66 27 66 32 66 36 62 39 59 43 55 47 51 50 47 54 43 56 39 60 34 64 31 66 26 68 21 70 16 70 11 70 5 71 0zM2421 1733l-2-2 2-2 2 2-2 2zM2475 1745l-2-2 2-2 2 2-2 2zM2489 1749l-2-2 2-2 2 2-2 2zM2495 1751l-2-2 2-2 2 2-2 2zM2521 1759l-2-2 2-2 2 2-2 2zM2527 1761l-2-2 2-2 2 2-2 2zM2561 1769l-2-2 2-2 2 2-2 2zM2567 1771l-2-2 2-2 2 2-2 2zM2573 1773l-2-2 2-2 2 2-2 2zM2579 1775l-2-2 2-2 2 2-2 2zM2583 1777l-2-2 2-2 2 2-2 2zM2589 1779l-2-2 2-2 2 2-2 2zM2595 1781l-2-2 2-2 2 2-2 2zM2601 1783l-2-2 2-2 2 2-2 2zM2611 1787l-2-2 2-2 2 2-2 2zM2671 1807l-2-2 2-2 2 2-2 2zM2677 1809l-2-2 2-2 2 2-2 2zM2681 1811l-2-2 2-2 2 2-2 2zM2691 1815l-2-2 2-2 2 2-2 2zM2695 1817l-2-2 2-2 2 2-2 2zM2753 1839l-2-2 2-2 2 2-2 2zM2757 1841l-2-2 2-2 2 2-2 2zM2761 1843l-2-2 2-2 2 2-2 2zM2771 1847l-2-2 2-2 2 2-2 2zM2775 1849l-2-2 2-2 2 2-2 2zM2779 1851l-2-2 2-2 2 2-2 2zM2783 1853l-2-2 2-2 2 2-2 2zM2787 1855l-2-2 2-2 2 2-2 2zM2791 1857l-2-2 2-2 2 2-2 2zM2795 1859l-2-2 2-2 2 2-2 2zM2799 1861l-2-2 2-2 2 2-2 2zM2803 1863l-2-2 2-2 2 2-2 2zM2849 1883l-2-2 2-2 2 2-2 2zM2853 1885l-2-2 2-2 2 2-2 2zM2857 1887l-2-2 2-2 2 2-2 2zM2861 1889l-2-2 2-2 2 2-2 2zM2875 1897l-2-2 2-2 2 2-2 2zM2937 1929l-2-2 2-2 2 2-2 2zM2941 1931l-2-2 2-2 2 2-2 2zM2947 1935l-2-2 2-2 2 2-2 2zM2951 1937l-2-2 2-2 2 2-2 2zM2957 1941l-2-2 2-2 2 2-2 2zM3019 1977l-2-2 2-2 2 2-2 2zM3025 1981l-2-2 2-2 2 2-2 2zM3031 1985l-2-2 2-2 2 2-2 2zM3033 1987l-2-2 2-2 2 2-2 2zM3039 1991l-2-2 2-2 2 2-2 2zM3105 2035l-2-2 2-2 2 2-2 2zM3113 2041l-2-2 2-2 2 2-2 2zM3179 2091l-2-2 2-2 2 2-2 2zM3191 2101l-2-2 2-2 2 2-2 2zM3193 2103l-2-2 2-2 2 2-2 2zM3195 2105l-2-2 2-2 2 2-2 2z" fill="#4850f2"/><path d="M2606 3191l93-6 92-16 87-26 81-35 74-43 66-50 58-58 26-33 24-34 22-37 20-38 31-80 22-88 12-94 2-96-9-97-19-91-14-44-16-42-19-42-38-36-22-18-2 2-66-54-6-4-2 2-4-6-2 2-28-22-50-34-2 2-2-4-2 2-4-2-22-16-6-2-40-26-4-2-2 2-2-4-2 2-8-4-14-10-40-20-4-4-16-8-4 2-2-2 2-2-4 2-2-2 2-2-4 2-2-2 2-2-4 2-8-6-12-6-4 0-38-20-4 2-2-4-12-6-4 2-2-4-2 2-2-2 0-2-4 2-14-8-4 0-44-20-8-2-2 2-2-4-4 2-2-2 2-2-4 2-2-4-4 2-2-2 2-2-4 2-2-4-4 2-28-12-28-8-24-10-6 2-2-2 2-2-6 2-2-4-4 2-2-4-4 2-2-4-2 2-10-2-34-12-8 2-2-2 2-2-8-2-4 2-2-4-6 2-2-2 2-2-8 2-2-2 2-2-6 2-2-2 2-2-8 2-2-2 2-2-4 2-6-2-62 5-86 11-90 18-86 24-72 26-55 26-50 30-45 34-43 40-42 48-37 52-31 54-23 54-16 52-10 52-4 54 1 56 7 58 13 60 19 64 24 64 30 65 34 63 38 60 40 54 44 50 48 48 52 44 54 39 58 36 62 32 64 27 66 22 68 17 68 12 70 7 69 2zM2475 1745l-2-2 2-2 2 2-2 2zM2489 1749l-2-2 2-2 2 2-2 2zM2495 1751l-2-2 2-2 2 2-2 2zM2521 1759l-2-2 2-2 2 2-2 2zM2527 1761l-2-2 2-2 2 2-2 2zM2561 1769l-2-2 2-2 2 2-2 2zM2567 1771l-2-2 2-2 2 2-2 2zM2573 1773l-2-2 2-2 2 2-2 2zM2579 1775l-2-2 2-2 2 2-2 2zM2583 1777l-2-2 2-2 2 2-2 2zM2589 1779l-2-2 2-2 2 2-2 2zM2595 1781l-2-2 2-2 2 2-2 2zM2601 1783l-2-2 2-2 2 2-2 2zM2611 1787l-2-2 2-2 2 2-2 2zM2671 1807l-2-2 2-2 2 2-2 2zM2677 1809l-2-2 2-2 2 2-2 2zM2681 1811l-2-2 2-2 2 2-2 2zM2691 1815l-2-2 2-2 2 2-2 2zM2695 1817l-2-2 2-2 2 2-2 2zM2753 1839l-2-2 2-2 2 2-2 2zM2757 1841l-2-2 2-2 2 2-2 2zM2761 1843l-2-2 2-2 2 2-2 2zM2771 1847l-2-2 2-2 2 2-2 2zM2775 1849l-2-2 2-2 2 2-2 2zM2779 1851l-2-2 2-2 2 2-2 2zM2783 1853l-2-2 2-2 2 2-2 2zM2787 1855l-2-2 2-2 2 2-2 2zM2791 1857l-2-2 2-2 2 2-2 2zM2795 1859l-2-2 2-2 2 2-2 2zM2799 1861l-2-2 2-2 2 2-2 2zM2803 1863l-2-2 2-2 2 2-2 2zM2849 1883l-2-2 2-2 2 2-2 2zM2853 1885l-2-2 2-2 2 2-2 2zM2857 1887l-2-2 2-2 2 2-2 2zM2861 1889l-2-2 2-2 2 2-2 2zM2875 1897l-2-2 2-2 2 2-2 2zM2937 1929l-2-2 2-2 2 2-2 2zM2941 1931l-2-2 2-2 2 2-2 2zM2947 1935l-2-2 2-2 2 2-2 2zM2951 1937l-2-2 2-2 2 2-2 2zM2957 1941l-2-2 2-2 2 2-2 2zM3019 1977l-2-2 2-2 2 2-2 2zM3025 1981l-2-2 2-2 2 2-2 2zM3031 1985l-2-2 2-2 2 2-2 2zM3033 1987l-2-2 2-2 2 2-2 2zM3039 1991l-2-2 2-2 2 2-2 2zM3105 2035l-2-2 2-2 2 2-2 2zM3113 2041l-2-2 2-2 2 2-2 2zM3179 2091l-2-2 2-2 2 2-2 2zM3191 2101l-2-2 2-2 2 2-2 2zM3193 2103l-2-2 2-2 2 2-2 2zM3195 2105l-2-2 2-2 2 2-2 2z" fill="#484df1"/><path d="M2634 3167l91-9 88-18 82-27 78-37 70-44 62-51 54-59 45-65 20-36 18-38 16-40 13-42 19-88 9-92-1-94-11-94-21-86-31-82-26-52-20-18-10-8-2 2-66-54-6-4-2 2-4-6-2 2-48-36-30-20-2 2-2-4-2 2-4-2-22-16-6-2-40-26-4-2-2 2-2-4-2 2-8-4-14-10-60-32-4 2-2-2 2-2-4 2-2-2 2-2-4 2-2-2 2-2-4 2-8-6-12-6-4 0-38-20-4 2-2-4-12-6-4 2-2-4-2 2-2-2 0-2-4 2-14-8-4 0-44-20-8-2-2 2-2-4-4 2-2-2 2-2-4 2-2-4-4 2-2-2 2-2-4 2-2-4-4 2-28-12-28-8-24-10-6 2-2-2 2-2-6 2-2-4-4 2-2-4-4 2-2-4-2 2-10-2-34-12-8 2-2-2 2-2-6 2-2-3-80 4-80 9-76 14-78 19-69 21-60 24-53 27-47 31-44 36-41 42-40 49-34 51-27 52-21 54-13 52-7 52-2 54 4 56 9 58 16 60 20 62 27 64 30 62 35 60 39 56 40 51 44 47 48 45 51 41 55 37 58 33 60 29 64 25 64 19 66 15 68 10 68 4 67 0zM2489 1749l-2-2 2-2 2 2-2 2zM2495 1751l-2-2 2-2 2 2-2 2zM2521 1759l-2-2 2-2 2 2-2 2zM2527 1761l-2-2 2-2 2 2-2 2zM2561 1769l-2-2 2-2 2 2-2 2zM2567 1771l-2-2 2-2 2 2-2 2zM2573 1773l-2-2 2-2 2 2-2 2zM2579 1775l-2-2 2-2 2 2-2 2zM2583 1777l-2-2 2-2 2 2-2 2zM2589 1779l-2-2 2-2 2 2-2 2zM2595 1781l-2-2 2-2 2 2-2 2zM2601 1783l-2-2 2-2 2 2-2 2zM2611 1787l-2-2 2-2 2 2-2 2zM2671 1807l-2-2 2-2 2 2-2 2zM2677 1809l-2-2 2-2 2 2-2 2zM2681 1811l-2-2 2-2 2 2-2 2zM2691 1815l-2-2 2-2 2 2-2 2zM2695 1817l-2-2 2-2 2 2-2 2zM2753 1839l-2-2 2-2 2 2-2 2zM2757 1841l-2-2 2-2 2 2-2 2zM2761 1843l-2-2 2-2 2 2-2 2zM2771 1847l-2-2 2-2 2 2-2 2zM2775 1849l-2-2 2-2 2 2-2 2zM2779 1851l-2-2 2-2 2 2-2 2zM2783 1853l-2-2 2-2 2 2-2 2zM2787 1855l-2-2 2-2 2 2-2 2zM2791 1857l-2-2 2-2 2 2-2 2zM2795 1859l-2-2 2-2 2 2-2 2zM2799 1861l-2-2 2-2 2 2-2 2zM2803 1863l-2-2 2-2 2 2-2 2zM2849 1883l-2-2 2-2 2 2-2 2zM2853 1885l-2-2 2-2 2 2-2 2zM2857 1887l-2-2 2-2 2 2-2 2zM2861 1889l-2-2 2-2 2 2-2 2zM2875 1897l-2-2 2-2 2 2-2 2zM2937 1929l-2-2 2-2 2 2-2 2zM2941 1931l-2-2 2-2 2 2-2 2zM2947 1935l-2-2 2-2 2 2-2 2zM2951 1937l-2-2 2-2 2 2-2 2zM2957 1941l-2-2 2-2 2 2-2 2zM3019 1977l-2-2 2-2 2 2-2 2zM3025 1981l-2-2 2-2 2 2-2 2zM3031 1985l-2-2 2-2 2 2-2 2zM3033 1987l-2-2 2-2 2 2-2 2zM3039 1991l-2-2 2-2 2 2-2 2zM3105 2035l-2-2 2-2 2 2-2 2zM3113 2041l-2-2 2-2 2 2-2 2zM3179 2091l-2-2 2-2 2 2-2 2zM3191 2101l-2-2 2-2 2 2-2 2zM3193 2103l-2-2 2-2 2 2-2 2zM3195 2105l-2-2 2-2 2 2-2 2z" fill="#484bee"/><path d="M2637 3143l88-9 84-17 80-27 76-35 68-43 61-51 53-58 44-64 37-72 27-80 19-86 8-90-1-94-11-90-21-84-31-80-38-72-69-56-6-4-2 2-4-6-2 2-28-22-50-34-2 2-2-4-2 2-4-2-22-16-6-2-40-26-4-2-2 2-2-4-2 2-8-4-14-10-40-20-4-4-16-8-4 2-2-2 2-2-4 2-2-2 2-2-4 2-2-2 2-2-4 2-8-6-12-6-4 0-38-20-4 2-2-4-12-6-4 2-2-4-2 2-2-2 0-2-4 2-14-8-4 0-44-20-8-2-2 2-2-4-4 2-2-2 2-2-4 2-2-4-4 2-2-2 2-2-4 2-2-4-4 2-28-12-28-8-24-10-6 2-2-2 2-2-6 2-2-4-4 2-2-4-4 2-2-4-2 2-10-2-2 2-2-4-28 0-72 2-66 6-66 10-68 14-66 18-58 19-52 21-50 26-46 30-43 36-41 42-38 48-33 50-26 50-19 52-13 50-7 50-1 54 4 54 9 56 16 60 20 60 26 62 31 62 34 58 37 54 40 50 43 46 47 43 50 40 52 35 57 32 59 28 62 24 62 18 64 15 66 9 66 5 66-1zM2527 1761l-2-2 2-2 2 2-2 2zM2561 1769l-2-2 2-2 2 2-2 2zM2567 1771l-2-2 2-2 2 2-2 2zM2573 1773l-2-2 2-2 2 2-2 2zM2579 1775l-2-2 2-2 2 2-2 2zM2583 1777l-2-2 2-2 2 2-2 2zM2589 1779l-2-2 2-2 2 2-2 2zM2595 1781l-2-2 2-2 2 2-2 2zM2601 1783l-2-2 2-2 2 2-2 2zM2611 1787l-2-2 2-2 2 2-2 2zM2671 1807l-2-2 2-2 2 2-2 2zM2677 1809l-2-2 2-2 2 2-2 2zM2681 1811l-2-2 2-2 2 2-2 2zM2691 1815l-2-2 2-2 2 2-2 2zM2695 1817l-2-2 2-2 2 2-2 2zM2753 1839l-2-2 2-2 2 2-2 2zM2757 1841l-2-2 2-2 2 2-2 2zM2761 1843l-2-2 2-2 2 2-2 2zM2771 1847l-2-2 2-2 2 2-2 2zM2775 1849l-2-2 2-2 2 2-2 2zM2779 1851l-2-2 2-2 2 2-2 2zM2783 1853l-2-2 2-2 2 2-2 2zM2787 1855l-2-2 2-2 2 2-2 2zM2791 1857l-2-2 2-2 2 2-2 2zM2795 1859l-2-2 2-2 2 2-2 2zM2799 1861l-2-2 2-2 2 2-2 2zM2803 1863l-2-2 2-2 2 2-2 2zM2849 1883l-2-2 2-2 2 2-2 2zM2853 1885l-2-2 2-2 2 2-2 2zM2857 1887l-2-2 2-2 2 2-2 2zM2861 1889l-2-2 2-2 2 2-2 2zM2875 1897l-2-2 2-2 2 2-2 2zM2937 1929l-2-2 2-2 2 2-2 2zM2941 1931l-2-2 2-2 2 2-2 2zM2947 1935l-2-2 2-2 2 2-2 2zM2951 1937l-2-2 2-2 2 2-2 2zM2957 1941l-2-2 2-2 2 2-2 2zM3019 1977l-2-2 2-2 2 2-2 2zM3025 1981l-2-2 2-2 2 2-2 2zM3031 1985l-2-2 2-2 2 2-2 2zM3033 1987l-2-2 2-2 2 2-2 2zM3039 1991l-2-2 2-2 2 2-2 2zM3105 2035l-2-2 2-2 2 2-2 2zM3113 2041l-2-2 2-2 2 2-2 2z" fill="#4848ec"/><path d="M2618 3119l85-6 84-16 80-24 74-33 68-40 60-47 54-56 44-60 38-70 28-75 20-83 10-86 1-90-9-90-18-84-28-78-33-66-39-60-26-20-6-4-2 2-4-6-2 2-28-22-50-34-2 2-2-4-2 2-4-2-22-16-6-2-40-26-4-2-2 2-2-4-2 2-8-4-14-10-60-32-4 2-2-2 2-2-4 2-2-2 2-2-4 2-2-2 2-2-4 2-8-6-12-6-4 0-38-20-4 2-2-4-12-6-4 2-2-4-2 2-2-2 0-2-4 2-14-8-4 0-44-20-8-2-2 2-2-4-4 2-2-2 2-2-4 2-2-4-4 2-2-2 2-2-4 2-2-4-4 2-58-22-4 2-2-4-4 2-2-2-38-2-70 0-66 4-66 8-68 12-70 17-62 18-55 21-50 24-46 28-41 32-40 38-39 46-34 48-28 50-21 50-14 48-8 48-4 52 3 52 7 54 13 56 18 58 23 60 28 60 32 58 35 54 38 50 41 46 45 44 48 40 51 36 54 33 58 29 60 24 60 20 62 15 64 10 64 6 63 1zM2583 1777l-2-2 2-2 2 2-2 2zM2589 1779l-2-2 2-2 2 2-2 2zM2595 1781l-2-2 2-2 2 2-2 2zM2601 1783l-2-2 2-2 2 2-2 2zM2611 1787l-2-2 2-2 2 2-2 2zM2671 1807l-2-2 2-2 2 2-2 2zM2677 1809l-2-2 2-2 2 2-2 2zM2681 1811l-2-2 2-2 2 2-2 2zM2691 1815l-2-2 2-2 2 2-2 2zM2695 1817l-2-2 2-2 2 2-2 2zM2753 1839l-2-2 2-2 2 2-2 2zM2757 1841l-2-2 2-2 2 2-2 2zM2761 1843l-2-2 2-2 2 2-2 2zM2771 1847l-2-2 2-2 2 2-2 2zM2775 1849l-2-2 2-2 2 2-2 2zM2779 1851l-2-2 2-2 2 2-2 2zM2783 1853l-2-2 2-2 2 2-2 2zM2787 1855l-2-2 2-2 2 2-2 2zM2791 1857l-2-2 2-2 2 2-2 2zM2795 1859l-2-2 2-2 2 2-2 2zM2799 1861l-2-2 2-2 2 2-2 2zM2803 1863l-2-2 2-2 2 2-2 2zM2849 1883l-2-2 2-2 2 2-2 2zM2853 1885l-2-2 2-2 2 2-2 2zM2857 1887l-2-2 2-2 2 2-2 2zM2861 1889l-2-2 2-2 2 2-2 2zM2875 1897l-2-2 2-2 2 2-2 2zM2937 1929l-2-2 2-2 2 2-2 2zM2941 1931l-2-2 2-2 2 2-2 2zM2947 1935l-2-2 2-2 2 2-2 2zM2951 1937l-2-2 2-2 2 2-2 2zM2957 1941l-2-2 2-2 2 2-2 2zM3019 1977l-2-2 2-2 2 2-2 2zM3025 1981l-2-2 2-2 2 2-2 2zM3031 1985l-2-2 2-2 2 2-2 2zM3033 1987l-2-2 2-2 2 2-2 2zM3039 1991l-2-2 2-2 2 2-2 2zM3105 2035l-2-2 2-2 2 2-2 2zM3113 2041l-2-2 2-2 2 2-2 2z" fill="#4746eb"/><path d="M2650 3105l85-10 80-18 76-27 71-35 64-42 57-49 48-55 41-62 34-70 26-78 16-84 7-88-2-88-12-86-22-82-30-74-32-60-40-56-6-6-6-4-2 2-4-6-2 2-28-22-50-34-2 2-2-4-2 2-4-2-22-16-6-2-40-26-4-2-2 2-2-4-2 2-8-4-14-10-60-32-4 2-2-2 2-2-4 2-2-2 2-2-4 2-2-2 2-2-4 2-8-6-12-6-4 0-38-20-4 2-2-4-12-6-4 2-2-4-2 2-2-2 0-2-4 2-14-8-4 0-44-20-8-2-2 2-2-4-4 2-2-2 2-2-4 2-2-4-2 2-4-2 2-2-4 2-2-4-4 2-34-14-6 2-2-3-60-4-68 0-70 4-70 8-76 15-74 18-64 21-55 23-49 26-43 30-41 35-39 41-37 48-30 48-23 48-18 50-11 48-6 48 0 52 5 52 10 56 16 58 21 58 26 60 30 58 33 54 35 50 40 48 42 44 46 41 49 37 51 33 54 30 58 26 60 22 60 17 62 12 62 8 62 3 63-1zM2611 1787l-2-2 2-2 2 2-2 2zM2671 1807l-2-2 2-2 2 2-2 2zM2677 1809l-2-2 2-2 2 2-2 2zM2681 1811l-2-2 2-2 2 2-2 2zM2691 1815l-2-2 2-2 2 2-2 2zM2695 1817l-2-2 2-2 2 2-2 2zM2753 1839l-2-2 2-2 2 2-2 2zM2757 1841l-2-2 2-2 2 2-2 2zM2761 1843l-2-2 2-2 2 2-2 2zM2771 1847l-2-2 2-2 2 2-2 2zM2775 1849l-2-2 2-2 2 2-2 2zM2779 1851l-2-2 2-2 2 2-2 2zM2783 1853l-2-2 2-2 2 2-2 2zM2787 1855l-2-2 2-2 2 2-2 2zM2791 1857l-2-2 2-2 2 2-2 2zM2795 1859l-2-2 2-2 2 2-2 2zM2799 1861l-2-2 2-2 2 2-2 2zM2803 1863l-2-2 2-2 2 2-2 2zM2849 1883l-2-2 2-2 2 2-2 2zM2853 1885l-2-2 2-2 2 2-2 2zM2857 1887l-2-2 2-2 2 2-2 2zM2861 1889l-2-2 2-2 2 2-2 2zM2875 1897l-2-2 2-2 2 2-2 2zM2937 1929l-2-2 2-2 2 2-2 2zM2941 1931l-2-2 2-2 2 2-2 2zM2947 1935l-2-2 2-2 2 2-2 2zM2951 1937l-2-2 2-2 2 2-2 2zM2957 1941l-2-2 2-2 2 2-2 2zM3019 1977l-2-2 2-2 2 2-2 2zM3025 1981l-2-2 2-2 2 2-2 2zM3031 1985l-2-2 2-2 2 2-2 2zM3033 1987l-2-2 2-2 2 2-2 2zM3039 1991l-2-2 2-2 2 2-2 2zM3105 2035l-2-2 2-2 2 2-2 2zM3113 2041l-2-2 2-2 2 2-2 2z" fill="#4745e9"/><path d="M2633 3093l84-8 80-16 76-25 71-33 64-40 57-47 50-53 42-60 35-68 26-76 18-80 9-86-1-88-10-86-19-80-28-76-28-54-32-50-30-38-28-22-50-34-2 2-2-4-2 2-4-2-22-16-6-2-40-26-4-2-2 2-2-4-2 2-8-4-14-10-40-20-4-4-16-8-4 2-2-2 2-2-4 2-2-2 2-2-4 2-2-2 2-2-4 2-8-6-12-6-4 0-38-20-4 2-2-4-12-6-4 2-2-4-2 2-2-2 0-2-4 2-14-8-4 0-44-20-8-2-2 2-2-4-4 2-2-2 2-2-4 2-2-4-4 2-2-2 2-2-4 2-2-4-4 2-8-3-44-5-74-4-72 1-74 7-78 12-78 18-70 21-60 23-48 24-44 29-41 33-38 38-37 45-32 48-26 49-18 48-12 46-7 48-2 50 3 50 8 52 14 56 19 58 24 58 28 58 31 54 35 52 38 48 41 45 44 41 47 38 50 34 53 31 56 27 58 22 60 19 60 13 62 10 62 4 62 0zM2671 1807l-2-2 2-2 2 2-2 2zM2677 1809l-2-2 2-2 2 2-2 2zM2681 1811l-2-2 2-2 2 2-2 2zM2691 1815l-2-2 2-2 2 2-2 2zM2695 1817l-2-2 2-2 2 2-2 2zM2753 1839l-2-2 2-2 2 2-2 2zM2757 1841l-2-2 2-2 2 2-2 2zM2761 1843l-2-2 2-2 2 2-2 2zM2771 1847l-2-2 2-2 2 2-2 2zM2775 1849l-2-2 2-2 2 2-2 2zM2779 1851l-2-2 2-2 2 2-2 2zM2783 1853l-2-2 2-2 2 2-2 2zM2787 1855l-2-2 2-2 2 2-2 2zM2791 1857l-2-2 2-2 2 2-2 2zM2795 1859l-2-2 2-2 2 2-2 2zM2799 1861l-2-2 2-2 2 2-2 2zM2803 1863l-2-2 2-2 2 2-2 2zM2849 1883l-2-2 2-2 2 2-2 2zM2853 1885l-2-2 2-2 2 2-2 2zM2857 1887l-2-2 2-2 2 2-2 2zM2861 1889l-2-2 2-2 2 2-2 2zM2875 1897l-2-2 2-2 2 2-2 2zM2937 1929l-2-2 2-2 2 2-2 2zM2941 1931l-2-2 2-2 2 2-2 2zM2947 1935l-2-2 2-2 2 2-2 2zM2951 1937l-2-2 2-2 2 2-2 2zM2957 1941l-2-2 2-2 2 2-2 2zM3019 1977l-2-2 2-2 2 2-2 2zM3025 1981l-2-2 2-2 2 2-2 2zM3031 1985l-2-2 2-2 2 2-2 2zM3033 1987l-2-2 2-2 2 2-2 2zM3039 1991l-2-2 2-2 2 2-2 2z" fill="#4744e8"/><path d="M2650 3079l81-9 78-18 74-26 68-33 62-41 54-47 48-54 40-60 33-68 25-76 15-80 7-86-2-86-12-84-20-78-29-72-26-50-31-46-40-49-12-13-14-10-30-20-2 2-2-4-2 2-4-2-22-16-6-2-40-26-4-2-2 2-2-4-2 2-8-4-14-10-40-20-4-4-16-8-4 2-2-2 2-2-4 2-2-2 2-2-4 2-2-2 2-2-4 2-8-6-12-6-4 0-38-20-4 2-2-4-12-6-4 2-2-4-2 2-2-4-4 2-14-8-4 0-40-18-4 2-2-3-4 1-2-2-60-9-74-5-76 0-76 6-82 13-84 19-74 22-64 26-46 25-42 29-40 34-38 40-34 44-30 48-24 48-17 48-10 46-6 48 0 50 5 50 10 54 15 56 21 58 24 56 29 56 31 52 36 50 38 46 40 42 45 40 47 36 50 33 54 29 54 25 58 21 58 16 60 12 62 8 60 3 61-1zM2681 1811l-2-2 2-2 2 2-2 2zM2691 1815l-2-2 2-2 2 2-2 2zM2695 1817l-2-2 2-2 2 2-2 2zM2753 1839l-2-2 2-2 2 2-2 2zM2757 1841l-2-2 2-2 2 2-2 2zM2761 1843l-2-2 2-2 2 2-2 2zM2771 1847l-2-2 2-2 2 2-2 2zM2775 1849l-2-2 2-2 2 2-2 2zM2779 1851l-2-2 2-2 2 2-2 2zM2783 1853l-2-2 2-2 2 2-2 2zM2787 1855l-2-2 2-2 2 2-2 2zM2791 1857l-2-2 2-2 2 2-2 2zM2795 1859l-2-2 2-2 2 2-2 2zM2799 1861l-2-2 2-2 2 2-2 2zM2803 1863l-2-2 2-2 2 2-2 2zM2849 1883l-2-2 2-2 2 2-2 2zM2853 1885l-2-2 2-2 2 2-2 2zM2857 1887l-2-2 2-2 2 2-2 2zM2861 1889l-2-2 2-2 2 2-2 2zM2875 1897l-2-2 2-2 2 2-2 2zM2937 1929l-2-2 2-2 2 2-2 2zM2941 1931l-2-2 2-2 2 2-2 2zM2947 1935l-2-2 2-2 2 2-2 2zM2951 1937l-2-2 2-2 2 2-2 2zM2957 1941l-2-2 2-2 2 2-2 2zM3019 1977l-2-2 2-2 2 2-2 2zM3025 1981l-2-2 2-2 2 2-2 2zM3031 1985l-2-2 2-2 2 2-2 2zM3033 1987l-2-2 2-2 2 2-2 2zM3039 1991l-2-2 2-2 2 2-2 2z" fill="#4743e7"/><path d="M2619 3067l82-6 78-15 74-22 70-31 64-38 56-44 50-52 42-58 34-64 27-72 18-78 10-82 0-86-8-84-18-78-26-74-28-58-35-54-40-49-34-35-8-7-2 1-1-4-3-2-2 2-4-6-2 2-4-2-22-16-6-2-40-26-4-2-2 2-2-4-2 2-8-4-14-10-40-20-4-4-16-8-4 2-2-2 2-2-4 2-2-2 2-2-4 2-2-2 2-2-4 2-8-6-12-6-4 0-38-20-4 2-2-4-12-6-4 2-2-4-2 2-2-4-4 2-20-10-72-14-74-9-76-2-76 3-82 10-84 17-78 21-68 25-47 23-42 26-39 30-38 36-36 42-32 46-26 46-20 48-13 44-8 46-3 48 2 48 7 50 12 54 17 56 22 56 26 56 30 54 32 50 37 48 39 44 42 41 44 37 48 34 52 31 53 27 55 22 58 19 58 15 60 10 60 5 60 1zM2753 1839l-2-2 2-2 2 2-2 2zM2757 1841l-2-2 2-2 2 2-2 2zM2761 1843l-2-2 2-2 2 2-2 2zM2771 1847l-2-2 2-2 2 2-2 2zM2775 1849l-2-2 2-2 2 2-2 2zM2779 1851l-2-2 2-2 2 2-2 2zM2783 1853l-2-2 2-2 2 2-2 2zM2787 1855l-2-2 2-2 2 2-2 2zM2791 1857l-2-2 2-2 2 2-2 2zM2795 1859l-2-2 2-2 2 2-2 2zM2799 1861l-2-2 2-2 2 2-2 2zM2803 1863l-2-2 2-2 2 2-2 2zM2849 1883l-2-2 2-2 2 2-2 2zM2853 1885l-2-2 2-2 2 2-2 2zM2857 1887l-2-2 2-2 2 2-2 2zM2861 1889l-2-2 2-2 2 2-2 2zM2875 1897l-2-2 2-2 2 2-2 2zM2937 1929l-2-2 2-2 2 2-2 2zM2941 1931l-2-2 2-2 2 2-2 2zM2947 1935l-2-2 2-2 2 2-2 2zM2951 1937l-2-2 2-2 2 2-2 2zM2957 1941l-2-2 2-2 2 2-2 2z" fill="#4741e5"/><path d="M2631 3053l80-7 76-16 74-24 67-31 61-38 56-46 46-50 40-57 33-65 25-71 17-77 8-82-1-84-10-82-18-76-26-72-32-60-36-54-44-50-50-46-26-20-30-18-4-2-2 2-2-4-2 2-8-4-14-10-40-20-4-4-16-8-4 2-2-2 2-2-4 2-2-2 2-2-4 2-2-2 2-2-4 2-8-6-12-6-4 0-22-12-4 2-2-4-2 2-2-3-2 1-2-3-31-9-75-17-76-10-78-4-80 3-86 10-86 17-82 22-70 27-46 23-42 27-39 32-36 36-34 42-31 46-24 46-18 46-11 44-7 46-2 48 3 48 8 50 13 52 18 54 23 56 27 56 30 52 32 48 37 46 39 43 42 39 44 36 47 32 51 29 52 25 55 22 57 18 58 13 58 9 60 4 58 0zM2787 1855l-2-2 2-2 2 2-2 2zM2791 1857l-2-2 2-2 2 2-2 2zM2795 1859l-2-2 2-2 2 2-2 2zM2799 1861l-2-2 2-2 2 2-2 2zM2803 1863l-2-2 2-2 2 2-2 2zM2849 1883l-2-2 2-2 2 2-2 2zM2853 1885l-2-2 2-2 2 2-2 2zM2857 1887l-2-2 2-2 2 2-2 2zM2861 1889l-2-2 2-2 2 2-2 2zM2875 1897l-2-2 2-2 2 2-2 2zM2937 1929l-2-2 2-2 2 2-2 2zM2941 1931l-2-2 2-2 2 2-2 2zM2947 1935l-2-2 2-2 2 2-2 2zM2951 1937l-2-2 2-2 2 2-2 2zM2957 1941l-2-2 2-2 2 2-2 2z" fill="#4740e4"/><path d="M2634 3039l77-7 76-16 72-24 66-31 60-38 53-44 46-50 39-56 32-64 24-70 16-76 8-82-1-82-10-80-18-76-27-70-31-58-37-54-42-48-50-45-55-39-61-34-66-29-70-23-74-16-74-9-78-4-78 3-84 11-86 17-79 22-67 26-46 24-40 26-36 30-36 36-34 42-30 45-23 45-18 46-11 44-6 44-2 46 4 48 8 50 13 52 18 54 22 54 27 54 30 51 32 47 36 46 39 42 41 38 44 35 46 31 50 29 52 24 54 21 56 17 56 13 58 8 58 4 57 0z" fill="#473fe2"/><path d="M2629 3025l76-7 74-15 70-22 66-30 60-37 52-43 46-49 38-55 32-62 24-68 16-74 8-80 0-80-9-80-17-74-26-69-30-58-36-53-41-48-48-44-55-40-58-33-64-28-69-23-71-16-74-10-76-4-76 2-82 10-84 16-80 22-66 25-44 22-40 26-38 30-35 35-33 40-30 44-24 46-17 44-12 42-6 44-2 46 3 46 7 48 12 50 17 52 22 54 26 54 29 50 31 47 34 44 38 41 40 38 42 34 46 32 48 28 52 26 54 21 54 17 56 13 56 8 58 5 56 0z" fill="#463ee1"/><path d="M2656 3009l75-10 70-17 66-24 62-31 56-39 49-43 42-50 35-55 29-63 21-68 14-75 5-79-2-78-12-76-19-72-27-66-31-54-36-50-43-46-49-42-56-38-58-31-64-26-68-20-72-15-72-7-74-2-76 4-82 12-82 17-74 23-62 26-42 23-40 28-36 32-33 36-32 42-26 42-20 44-15 44-10 44-4 44 1 46 5 46 10 50 14 50 20 54 23 52 27 50 30 48 32 44 36 43 38 38 40 35 44 33 46 29 49 26 51 22 52 18 54 15 54 10 56 7 56 2 55-2z" fill="#463ddf"/><path d="M2643 2995l72-8 70-16 66-22 62-30 55-36 49-42 43-48 36-54 29-60 22-68 15-72 6-78-2-78-10-74-18-70-25-66-30-54-35-50-42-46-47-42-52-36-58-32-62-26-65-20-69-15-70-8-74-3-74 3-80 11-80 16-74 22-62 24-42 22-38 26-36 30-32 34-32 40-27 42-21 42-17 44-10 42-5 42-1 44 4 46 9 48 13 50 17 50 23 52 25 50 29 48 31 45 33 41 37 39 39 35 43 33 44 29 48 27 50 23 52 19 52 15 54 11 54 7 54 3 54-1z" fill="#463bde"/><path d="M2654 2979l71-9 68-17 64-23 58-30 54-37 46-41 40-47 35-54 27-60 21-66 13-72 5-76-3-76-11-72-18-68-27-64-29-52-35-48-41-44-47-40-52-35-56-30-62-25-64-19-68-14-70-8-72-1-72 4-78 11-80 17-70 21-60 25-40 22-37 26-34 30-34 36-30 40-26 42-19 42-14 42-9 42-4 42 0 44 5 44 10 48 14 49 19 51 22 50 26 48 29 46 30 42 34 40 36 37 40 34 42 32 44 27 48 26 48 20 50 18 52 14 52 10 54 6 52 2 53-2z" fill="#463adc"/><path d="M2625 2965l72-6 68-14 64-21 60-27 54-34 48-39 42-45 35-50 29-56 23-64 14-68 8-72 0-76-8-72-16-68-23-64-27-52-33-49-38-45-44-40-49-36-55-32-58-25-62-21-66-15-68-10-70-3-70 2-74 8-78 15-72 20-62 23-40 20-38 24-34 27-32 32-31 37-27 40-22 40-17 42-11 40-6 40-2 42 3 42 6 44 11 46 16 48 20 50 24 50 26 46 30 44 31 40 33 37 37 35 39 32 42 29 46 27 46 22 48 20 50 15 52 13 52 8 52 4 52 0z" fill="#4639da"/><path d="M2625 2949l68-6 66-13 64-21 58-26 54-33 47-39 41-44 34-49 28-55 22-63 14-67 8-72-1-74-8-70-16-66-23-62-26-51-32-47-38-44-42-38-50-36-52-30-58-25-60-20-64-15-66-9-68-3-68 2-74 9-76 15-70 19-60 23-40 20-35 22-33 27-32 31-30 37-27 39-21 40-16 40-10 38-6 40-2 40 3 42 7 44 11 46 15 46 20 48 22 46 26 46 28 42 32 41 34 37 36 34 38 31 40 28 44 25 45 22 47 19 50 15 50 12 50 8 52 4 50 0z" fill="#4538d8"/><path d="M2651 2931l66-9 62-15 60-22 54-28 50-34 42-38 38-45 31-49 26-56 19-62 12-68 4-70-3-70-10-68-17-63-24-59-28-48-32-44-38-41-44-37-50-34-52-27-56-23-61-18-63-13-64-7-66-1-68 4-74 10-74 17-66 20-54 22-38 22-34 24-32 28-31 34-28 38-23 38-18 38-13 40-8 38-4 40 1 40 5 42 9 44 13 46 17 46 22 48 24 45 27 43 29 39 32 37 33 34 37 32 38 28 42 26 42 22 46 20 48 17 48 13 48 9 50 5 50 2 48-2z" fill="#4537d6"/><path d="M2636 2915l65-7 62-14 58-20 54-26 48-31 44-38 38-43 31-47 26-54 20-60 12-64 6-68-2-70-8-66-16-62-23-59-26-48-32-45-36-40-42-36-46-32-51-28-55-23-58-18-60-13-64-8-64-2-66 3-70 9-72 15-64 19-55 22-38 20-33 22-32 28-29 30-28 36-25 38-18 38-14 38-8 36-5 38 0 40 3 40 8 42 12 44 16 46 19 44 23 44 25 42 27 39 30 37 33 34 35 32 36 28 40 26 42 23 44 21 46 17 46 13 48 10 48 6 48 3 47-1z" fill="#4536d4"/><path d="M2643 2897l62-8 60-14 56-20 52-27 46-31 42-37 35-41 30-46 24-52 18-58 12-64 5-66-3-68-9-64-16-60-22-56-26-46-30-42-36-39-41-35-45-31-50-27-54-22-56-17-60-12-60-7-62-2-64 3-70 10-70 15-62 18-53 22-35 19-33 23-30 26-29 31-27 35-22 36-18 36-13 38-8 36-4 36 0 38 4 40 8 42 12 42 16 44 20 46 23 44 25 40 27 38 29 34 32 33 34 30 36 27 40 26 42 22 42 19 44 15 46 13 46 9 48 6 46 2 46-2z" fill="#4435d1"/><path d="M2641 2879l60-8 58-13 54-20 50-25 46-31 40-36 34-40 29-45 24-52 17-56 11-62 5-64-3-66-9-62-15-58-23-54-24-44-30-41-34-37-40-34-44-30-49-26-53-22-54-16-58-11-58-7-60-1-62 3-66 9-68 14-62 19-50 21-35 19-31 22-30 26-28 30-26 34-21 34-17 36-12 36-8 34-4 36 1 38 4 38 7 40 12 42 16 43 19 43 22 42 24 38 27 38 28 33 30 31 34 30 35 26 37 24 40 21 42 19 42 15 44 12 45 9 45 5 46 2 46-1z" fill="#4434cf"/><path d="M2627 2861l58-6 56-12 54-18 50-24 44-28 40-34 34-38 30-44 24-50 18-54 11-58 5-62-1-64-8-60-13-56-21-54-24-44-28-40-33-37-37-33-41-29-46-26-50-21-52-17-54-12-58-7-58-2-60 2-64 8-66 13-60 17-50 20-35 18-30 20-29 24-27 28-26 32-22 34-17 34-13 34-9 34-4 34-1 36 3 36 6 38 11 40 13 40 18 42 20 40 24 40 24 36 28 34 30 32 30 28 34 26 35 24 39 22 39 18 41 16 42 12 44 10 44 6 44 3 44-1z" fill="#4433cd"/><path d="M2634 2841l57-7 54-13 50-18 48-24 42-29 38-33 32-38 25-40 23-48 16-52 10-58 5-60-3-62-8-58-14-54-20-50-24-42-27-38-33-35-36-31-41-28-45-24-48-20-52-16-54-11-54-6-56-1-58 3-62 8-64 14-56 16-48 20-31 17-29 20-28 24-26 28-25 32-20 32-16 34-12 34-7 32-3 34 0 34 4 36 7 38 11 38 14 40 18 40 21 40 22 36 25 34 26 32 29 29 30 27 34 25 34 22 38 21 38 16 40 15 40 11 42 8 42 5 42 2 43-1z" fill="#4332ca"/><path d="M2627 2821l54-6 52-12 50-18 45-22 41-27 36-31 31-36 26-40 22-46 16-50 10-54 5-58-2-60-8-56-13-52-19-48-22-40-26-37-32-35-34-30-40-28-42-22-47-20-49-15-52-11-52-6-54-2-56 3-60 8-60 13-54 15-46 19-32 17-28 19-26 22-24 26-24 30-20 32-16 32-12 32-7 30-4 32 0 34 3 34 7 36 9 36 14 39 17 39 20 38 21 35 23 33 25 30 28 30 29 26 32 24 33 22 36 20 36 16 38 14 40 11 40 9 40 5 42 2 40-1z" fill="#4331c8"/><path d="M2635 2799l50-7 50-12 46-18 42-22 38-26 34-31 30-36 23-38 20-44 15-50 8-52 4-56-3-56-8-54-14-50-19-45-22-38-26-35-30-31-34-29-36-24-42-22-45-18-47-14-50-10-50-5-52-1-54 3-58 9-56 12-53 16-43 18-30 17-26 19-26 23-24 27-22 30-18 30-14 30-9 30-6 30-3 30 0 32 4 34 8 36 11 36 31 74 40 68 22 30 26 30 26 26 30 26 62 42 34 17 36 16 38 13 38 10 38 6 38 5 38 1 40-2z" fill="#4330c5"/><path d="M2627 2777l48-6 48-12 44-16 40-21 36-24 33-29 27-32 24-38 19-42 14-46 9-50 4-54-2-54-7-50-13-48-18-44-20-36-25-34-28-30-33-28-36-24-40-21-42-17-44-13-48-10-48-5-50-1-50 3-54 7-56 12-49 15-41 17-28 16-26 18-24 21-22 24-21 28-19 30-13 28-10 30-6 28-3 30 1 30 3 32 7 34 10 34 29 70 38 66 44 56 52 49 60 41 66 32 36 13 36 10 36 7 38 4 38 1 36-1z" fill="#4230c3"/><path d="M2627 2753l46-6 44-12 42-16 38-20 34-24 31-28 25-31 22-35 17-40 13-44 8-49 3-51-3-50-7-48-13-44-17-42-20-34-24-32-27-28-32-26-34-22-38-20-40-16-42-12-44-8-46-5-48 0-47 3-53 8-52 12-46 14-37 16-27 15-24 18-23 21-21 23-20 27-15 26-13 28-9 28-5 28-2 28 0 28 4 30 16 64 29 68 37 62 43 54 51 46 56 37 62 29 68 21 70 10 70-1z" fill="#422fc0"/><path d="M2605 2729l44-4 42-9 40-14 38-18 34-21 30-26 25-28 22-32 18-36 13-40 9-44 4-48-1-48-5-46-11-44-15-40-17-32-22-32-24-27-28-25-32-22-36-20-38-16-38-12-42-9-42-5-44-2-44 2-48 6-49 10-45 13-38 15-26 13-22 15-22 18-20 21-19 23-17 26-13 26-10 26-6 24-4 26 1 54 13 60 24 62 33 60 38 52 46 45 52 38 58 30 64 22 64 11 66 2z" fill="#412ebe"/><path d="M2614 2701l41-6 38-9 36-14 34-18 30-21 26-24 23-28 19-30 15-36 11-38 7-42 3-44-2-44-7-42-11-40-15-36-17-30-20-27-24-25-27-22-30-20-33-17-36-14-36-11-40-8-40-4-40 0-42 3-44 6-46 10-40 12-35 15-23 13-21 15-20 18-19 21-31 47-11 24-8 24-7 48 4 52 14 56 24 58 32 54 37 47 44 41 50 33 56 27 58 17 62 9 61 0z" fill="#412dbc"/><path d="M2612 2671l37-6 34-9 33-13 31-17 27-19 23-22 21-26 16-28 14-32 10-36 6-40 2-40-2-42-7-38-10-36-14-32-16-26-20-26-21-22-25-20-28-18-31-16-33-13-34-9-36-6-36-4-38 0-38 3-40 6-42 9-37 12-31 14-40 26-35 36-29 44-16 44-6 44 4 48 14 52 24 56 30 49 36 43 40 36 46 30 52 23 54 15 56 7 55-1z" fill="#412cb9"/><path d="M2594 2639l33-4 33-8 31-11 28-15 24-16 22-20 19-22 16-26 13-28 10-32 6-36 2-36-1-36-6-36-8-32-12-30-14-24-17-23-19-21-21-18-24-16-28-15-30-12-30-9-32-7-34-3-68 1-36 5-38 8-34 10-28 12-36 22-33 32-26 38-16 40-7 40 3 42 11 46 19 48 27 46 30 39 36 34 40 27 46 23 48 15 50 8 51 0z" fill="#402bb7"/><path d="M2590 2601l27-4 28-7 26-10 24-13 22-16 18-16 16-20 14-23 11-25 8-28 4-30 2-32-1-32-5-30-8-28-11-26-13-22-15-20-36-33-22-14-24-12-52-18-56-8-60 2-66 13-28 8-24 11-32 21-28 28-22 34-13 34-4 34 3 38 10 40 18 42 22 38 28 35 32 29 36 24 40 18 42 13 44 6 45-1z" fill="#402ab4"/><path d="M2584 2555l45-11 38-19 18-14 13-14 13-16 10-19 8-21 6-24 4-52-6-50-7-22-10-20-23-33-31-27-37-20-44-14-46-5-50 2-53 11-41 16-26 18-22 24-17 28-10 28-3 28 4 32 10 35 16 35 20 31 23 27 27 23 30 18 34 14 34 9 36 4 37-2z" fill="#3f29b2"/><path d="M2554 2495l33-7 28-13 22-18 17-24 10-30 4-36-4-36-10-30-15-22-21-20-25-15-30-10-32-5-34 1-38 7-30 11-18 12-16 16-13 19-7 20-3 20 1 20 7 24 10 24 13 22 16 20 18 16 20 13 22 11 24 7 26 3 25 0z" fill="#3f28af"/></g></g>
<path d="M320.9 136.8L1118.5 210.6" stroke="#333" stroke-width="1.4" fill="none"/>
<path d="M1118.5 210.6L1118.5 1030.6" stroke="#c2c2c2" stroke-width="2" fill="none"/>
<path d="M1118.5 1030.6L826.9 1237.8" stroke="#4a4a4a" stroke-width="1.2" fill="none"/>
<path d="M414.6 145.5L414.6 125.5M556.4 158.6L556.4 138.6M698.7 171.8L698.7 151.8M839.6 184.8L839.6 164.8M984.3 198.2L984.3 178.2M1118.5 267.5L1138.5 267.5M1118.5 383.3L1138.5 383.3M1118.5 499.1L1138.5 499.1M1118.5 614.9L1138.5 614.9M1118.5 730.7L1138.5 730.7M1118.5 846.5L1138.5 846.5M1118.5 962.3L1138.5 962.3M1066.2 1067.8L1066.2 1087.8M989.0 1122.6L989.0 1142.6M911.8 1177.4L911.8 1197.4M834.6 1232.3L834.6 1252.3" stroke="#555" stroke-width="1.2" fill="none"/>
<rect x="1332.0" y="106.0" width="25.0" height="1145.0" fill="url(#cb)"/>
<path d="M1331.0 106.0V1251.0" stroke="#a3a6b6" stroke-width="2" fill="none"/>
<path d="M1358.2 106.0V1251.0" stroke="#d9dbe1" stroke-width="2.4" fill="none"/>
<path d="M1346.2 1219.5L1357.0 1219.5M1346.2 1060.0L1357.0 1060.0M1346.2 900.4L1357.0 900.4M1346.2 740.9L1357.0 740.9M1346.2 581.4L1357.0 581.4M1346.2 421.9L1357.0 421.9M1346.2 262.3L1357.0 262.3" stroke="#262626" stroke-opacity="0.75" stroke-width="1.6" fill="none"/>
<path d="M1332.0 106.9H1357.0M1332.0 1250.1H1357.0" stroke="#262626" stroke-opacity="0.3" stroke-width="1.6" fill="none"/>
<text transform="translate(414.5 102.0) scale(0.962 1)" font-size="52">200</text><text transform="translate(557.8 115.1) scale(0.962 1)" font-size="52">400</text><text transform="translate(700.2 128.4) scale(0.962 1)" font-size="52">600</text><text transform="translate(842.9 141.9) scale(0.962 1)" font-size="52">800</text><text transform="translate(983.3 154.4) scale(0.962 1)" font-size="52">1000</text><text transform="translate(1153.4 289.3) scale(0.962 1)" font-size="52">200</text><text transform="translate(1152.5 404.5) scale(0.962 1)" font-size="52">400</text><text transform="translate(1152.5 519.0) scale(0.962 1)" font-size="52">600</text><text transform="translate(1153.4 636.0) scale(0.962 1)" font-size="52">800</text><text transform="translate(1153.1 750.7) scale(0.962 1)" font-size="52">1000</text><text transform="translate(1153.1 867.4) scale(0.962 1)" font-size="52">1200</text><text transform="translate(1153.4 983.0) scale(0.962 1)" font-size="52">1400</text><text transform="translate(1065.7 1149.6) scale(0.962 1)" font-size="52">0.034</text><text transform="translate(990.0 1204.2) scale(0.962 1)" font-size="52">0.036</text><text transform="translate(912.2 1258.7) scale(0.962 1)" font-size="52">0.038</text><text transform="translate(835.3 1313.5) scale(0.962 1)" font-size="52">0.04</text><text x="1369.6" y="277.4" font-size="46">0.039</text><text x="1369.4" y="437.0" font-size="46">0.038</text><text x="1368.9" y="596.3" font-size="46">0.037</text><text x="1369.0" y="756.3" font-size="46">0.036</text><text x="1369.0" y="915.8" font-size="46">0.035</text><text x="1368.8" y="1075.3" font-size="46">0.034</text><text x="1369.8" y="1236.0" font-size="46">0.033</text><text x="707.5" y="62.6" font-size="55.5"><tspan font-style="italic">j</tspan>/pixel</text><text x="1095.2" y="1247.5" font-size="56"><tspan font-style="italic">e</tspan><tspan font-style="italic" font-size="42" dy="27" style="stroke-width:0.5px">z</tspan><tspan dy="-27">/mm</tspan></text><text x="1283.7" y="58.3" font-size="48"><tspan font-style="italic">e</tspan><tspan font-style="italic" font-size="36" dy="22" style="stroke-width:0.5px">z</tspan><tspan dy="-22">/mm</tspan></text><text transform="translate(1309.6 694.9) rotate(-90)" font-size="55.5" letter-spacing="1.2"><tspan font-style="italic">i</tspan>/pixel</text>
</svg>
</body></html>
